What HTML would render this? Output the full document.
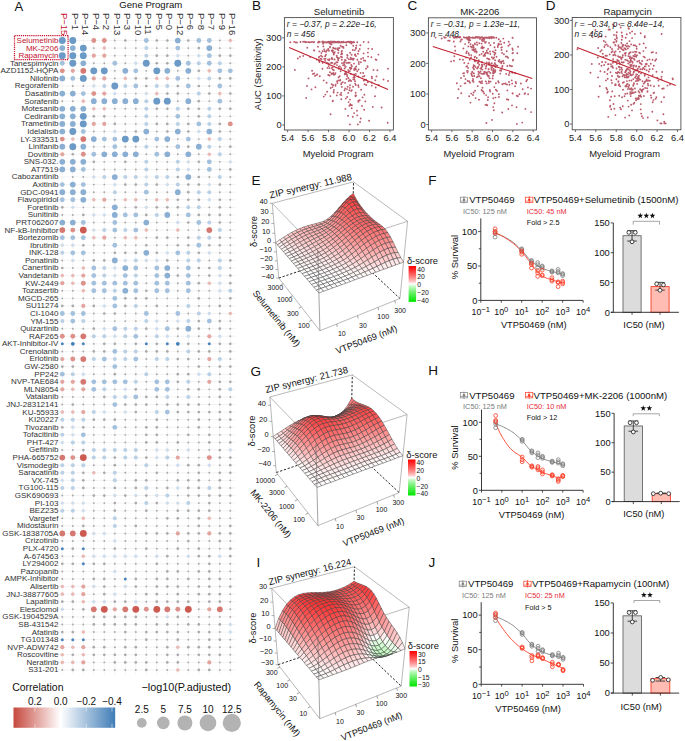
<!DOCTYPE html>
<html><head><meta charset="utf-8"><style>
html,body{margin:0;padding:0;background:#fff;width:685px;height:741px;overflow:hidden}
svg{display:block;font-family:"Liberation Sans",sans-serif}
</style></head><body>
<svg width="685" height="741" viewBox="0 0 685 741">
<rect width="685" height="741" fill="#fff"/>
<line x1="62.30" y1="36.0" x2="62.30" y2="674.5" stroke="#e6e6e6" stroke-width="0.5"/>
<line x1="72.80" y1="36.0" x2="72.80" y2="674.5" stroke="#e6e6e6" stroke-width="0.5"/>
<line x1="83.30" y1="36.0" x2="83.30" y2="674.5" stroke="#e6e6e6" stroke-width="0.5"/>
<line x1="93.80" y1="36.0" x2="93.80" y2="674.5" stroke="#e6e6e6" stroke-width="0.5"/>
<line x1="104.30" y1="36.0" x2="104.30" y2="674.5" stroke="#e6e6e6" stroke-width="0.5"/>
<line x1="114.80" y1="36.0" x2="114.80" y2="674.5" stroke="#e6e6e6" stroke-width="0.5"/>
<line x1="125.30" y1="36.0" x2="125.30" y2="674.5" stroke="#e6e6e6" stroke-width="0.5"/>
<line x1="135.80" y1="36.0" x2="135.80" y2="674.5" stroke="#e6e6e6" stroke-width="0.5"/>
<line x1="146.30" y1="36.0" x2="146.30" y2="674.5" stroke="#e6e6e6" stroke-width="0.5"/>
<line x1="156.80" y1="36.0" x2="156.80" y2="674.5" stroke="#e6e6e6" stroke-width="0.5"/>
<line x1="167.30" y1="36.0" x2="167.30" y2="674.5" stroke="#e6e6e6" stroke-width="0.5"/>
<line x1="177.80" y1="36.0" x2="177.80" y2="674.5" stroke="#e6e6e6" stroke-width="0.5"/>
<line x1="188.30" y1="36.0" x2="188.30" y2="674.5" stroke="#e6e6e6" stroke-width="0.5"/>
<line x1="198.80" y1="36.0" x2="198.80" y2="674.5" stroke="#e6e6e6" stroke-width="0.5"/>
<line x1="209.30" y1="36.0" x2="209.30" y2="674.5" stroke="#e6e6e6" stroke-width="0.5"/>
<line x1="219.80" y1="36.0" x2="219.80" y2="674.5" stroke="#e6e6e6" stroke-width="0.5"/>
<line x1="230.30" y1="36.0" x2="230.30" y2="674.5" stroke="#e6e6e6" stroke-width="0.5"/>
<line x1="57.3" y1="40.50" x2="235.3" y2="40.50" stroke="#e6e6e6" stroke-width="0.5"/>
<line x1="57.3" y1="48.08" x2="235.3" y2="48.08" stroke="#e6e6e6" stroke-width="0.5"/>
<line x1="57.3" y1="55.67" x2="235.3" y2="55.67" stroke="#e6e6e6" stroke-width="0.5"/>
<line x1="57.3" y1="63.25" x2="235.3" y2="63.25" stroke="#e6e6e6" stroke-width="0.5"/>
<line x1="57.3" y1="70.84" x2="235.3" y2="70.84" stroke="#e6e6e6" stroke-width="0.5"/>
<line x1="57.3" y1="78.42" x2="235.3" y2="78.42" stroke="#e6e6e6" stroke-width="0.5"/>
<line x1="57.3" y1="86.00" x2="235.3" y2="86.00" stroke="#e6e6e6" stroke-width="0.5"/>
<line x1="57.3" y1="93.59" x2="235.3" y2="93.59" stroke="#e6e6e6" stroke-width="0.5"/>
<line x1="57.3" y1="101.17" x2="235.3" y2="101.17" stroke="#e6e6e6" stroke-width="0.5"/>
<line x1="57.3" y1="108.76" x2="235.3" y2="108.76" stroke="#e6e6e6" stroke-width="0.5"/>
<line x1="57.3" y1="116.34" x2="235.3" y2="116.34" stroke="#e6e6e6" stroke-width="0.5"/>
<line x1="57.3" y1="123.92" x2="235.3" y2="123.92" stroke="#e6e6e6" stroke-width="0.5"/>
<line x1="57.3" y1="131.51" x2="235.3" y2="131.51" stroke="#e6e6e6" stroke-width="0.5"/>
<line x1="57.3" y1="139.09" x2="235.3" y2="139.09" stroke="#e6e6e6" stroke-width="0.5"/>
<line x1="57.3" y1="146.68" x2="235.3" y2="146.68" stroke="#e6e6e6" stroke-width="0.5"/>
<line x1="57.3" y1="154.26" x2="235.3" y2="154.26" stroke="#e6e6e6" stroke-width="0.5"/>
<line x1="57.3" y1="161.84" x2="235.3" y2="161.84" stroke="#e6e6e6" stroke-width="0.5"/>
<line x1="57.3" y1="169.43" x2="235.3" y2="169.43" stroke="#e6e6e6" stroke-width="0.5"/>
<line x1="57.3" y1="177.01" x2="235.3" y2="177.01" stroke="#e6e6e6" stroke-width="0.5"/>
<line x1="57.3" y1="184.60" x2="235.3" y2="184.60" stroke="#e6e6e6" stroke-width="0.5"/>
<line x1="57.3" y1="192.18" x2="235.3" y2="192.18" stroke="#e6e6e6" stroke-width="0.5"/>
<line x1="57.3" y1="199.76" x2="235.3" y2="199.76" stroke="#e6e6e6" stroke-width="0.5"/>
<line x1="57.3" y1="207.35" x2="235.3" y2="207.35" stroke="#e6e6e6" stroke-width="0.5"/>
<line x1="57.3" y1="214.93" x2="235.3" y2="214.93" stroke="#e6e6e6" stroke-width="0.5"/>
<line x1="57.3" y1="222.52" x2="235.3" y2="222.52" stroke="#e6e6e6" stroke-width="0.5"/>
<line x1="57.3" y1="230.10" x2="235.3" y2="230.10" stroke="#e6e6e6" stroke-width="0.5"/>
<line x1="57.3" y1="237.68" x2="235.3" y2="237.68" stroke="#e6e6e6" stroke-width="0.5"/>
<line x1="57.3" y1="245.27" x2="235.3" y2="245.27" stroke="#e6e6e6" stroke-width="0.5"/>
<line x1="57.3" y1="252.85" x2="235.3" y2="252.85" stroke="#e6e6e6" stroke-width="0.5"/>
<line x1="57.3" y1="260.44" x2="235.3" y2="260.44" stroke="#e6e6e6" stroke-width="0.5"/>
<line x1="57.3" y1="268.02" x2="235.3" y2="268.02" stroke="#e6e6e6" stroke-width="0.5"/>
<line x1="57.3" y1="275.60" x2="235.3" y2="275.60" stroke="#e6e6e6" stroke-width="0.5"/>
<line x1="57.3" y1="283.19" x2="235.3" y2="283.19" stroke="#e6e6e6" stroke-width="0.5"/>
<line x1="57.3" y1="290.77" x2="235.3" y2="290.77" stroke="#e6e6e6" stroke-width="0.5"/>
<line x1="57.3" y1="298.36" x2="235.3" y2="298.36" stroke="#e6e6e6" stroke-width="0.5"/>
<line x1="57.3" y1="305.94" x2="235.3" y2="305.94" stroke="#e6e6e6" stroke-width="0.5"/>
<line x1="57.3" y1="313.52" x2="235.3" y2="313.52" stroke="#e6e6e6" stroke-width="0.5"/>
<line x1="57.3" y1="321.11" x2="235.3" y2="321.11" stroke="#e6e6e6" stroke-width="0.5"/>
<line x1="57.3" y1="328.69" x2="235.3" y2="328.69" stroke="#e6e6e6" stroke-width="0.5"/>
<line x1="57.3" y1="336.28" x2="235.3" y2="336.28" stroke="#e6e6e6" stroke-width="0.5"/>
<line x1="57.3" y1="343.86" x2="235.3" y2="343.86" stroke="#e6e6e6" stroke-width="0.5"/>
<line x1="57.3" y1="351.44" x2="235.3" y2="351.44" stroke="#e6e6e6" stroke-width="0.5"/>
<line x1="57.3" y1="359.03" x2="235.3" y2="359.03" stroke="#e6e6e6" stroke-width="0.5"/>
<line x1="57.3" y1="366.61" x2="235.3" y2="366.61" stroke="#e6e6e6" stroke-width="0.5"/>
<line x1="57.3" y1="374.20" x2="235.3" y2="374.20" stroke="#e6e6e6" stroke-width="0.5"/>
<line x1="57.3" y1="381.78" x2="235.3" y2="381.78" stroke="#e6e6e6" stroke-width="0.5"/>
<line x1="57.3" y1="389.36" x2="235.3" y2="389.36" stroke="#e6e6e6" stroke-width="0.5"/>
<line x1="57.3" y1="396.95" x2="235.3" y2="396.95" stroke="#e6e6e6" stroke-width="0.5"/>
<line x1="57.3" y1="404.53" x2="235.3" y2="404.53" stroke="#e6e6e6" stroke-width="0.5"/>
<line x1="57.3" y1="412.12" x2="235.3" y2="412.12" stroke="#e6e6e6" stroke-width="0.5"/>
<line x1="57.3" y1="419.70" x2="235.3" y2="419.70" stroke="#e6e6e6" stroke-width="0.5"/>
<line x1="57.3" y1="427.28" x2="235.3" y2="427.28" stroke="#e6e6e6" stroke-width="0.5"/>
<line x1="57.3" y1="434.87" x2="235.3" y2="434.87" stroke="#e6e6e6" stroke-width="0.5"/>
<line x1="57.3" y1="442.45" x2="235.3" y2="442.45" stroke="#e6e6e6" stroke-width="0.5"/>
<line x1="57.3" y1="450.04" x2="235.3" y2="450.04" stroke="#e6e6e6" stroke-width="0.5"/>
<line x1="57.3" y1="457.62" x2="235.3" y2="457.62" stroke="#e6e6e6" stroke-width="0.5"/>
<line x1="57.3" y1="465.20" x2="235.3" y2="465.20" stroke="#e6e6e6" stroke-width="0.5"/>
<line x1="57.3" y1="472.79" x2="235.3" y2="472.79" stroke="#e6e6e6" stroke-width="0.5"/>
<line x1="57.3" y1="480.37" x2="235.3" y2="480.37" stroke="#e6e6e6" stroke-width="0.5"/>
<line x1="57.3" y1="487.96" x2="235.3" y2="487.96" stroke="#e6e6e6" stroke-width="0.5"/>
<line x1="57.3" y1="495.54" x2="235.3" y2="495.54" stroke="#e6e6e6" stroke-width="0.5"/>
<line x1="57.3" y1="503.12" x2="235.3" y2="503.12" stroke="#e6e6e6" stroke-width="0.5"/>
<line x1="57.3" y1="510.71" x2="235.3" y2="510.71" stroke="#e6e6e6" stroke-width="0.5"/>
<line x1="57.3" y1="518.29" x2="235.3" y2="518.29" stroke="#e6e6e6" stroke-width="0.5"/>
<line x1="57.3" y1="525.88" x2="235.3" y2="525.88" stroke="#e6e6e6" stroke-width="0.5"/>
<line x1="57.3" y1="533.46" x2="235.3" y2="533.46" stroke="#e6e6e6" stroke-width="0.5"/>
<line x1="57.3" y1="541.04" x2="235.3" y2="541.04" stroke="#e6e6e6" stroke-width="0.5"/>
<line x1="57.3" y1="548.63" x2="235.3" y2="548.63" stroke="#e6e6e6" stroke-width="0.5"/>
<line x1="57.3" y1="556.21" x2="235.3" y2="556.21" stroke="#e6e6e6" stroke-width="0.5"/>
<line x1="57.3" y1="563.80" x2="235.3" y2="563.80" stroke="#e6e6e6" stroke-width="0.5"/>
<line x1="57.3" y1="571.38" x2="235.3" y2="571.38" stroke="#e6e6e6" stroke-width="0.5"/>
<line x1="57.3" y1="578.96" x2="235.3" y2="578.96" stroke="#e6e6e6" stroke-width="0.5"/>
<line x1="57.3" y1="586.55" x2="235.3" y2="586.55" stroke="#e6e6e6" stroke-width="0.5"/>
<line x1="57.3" y1="594.13" x2="235.3" y2="594.13" stroke="#e6e6e6" stroke-width="0.5"/>
<line x1="57.3" y1="601.72" x2="235.3" y2="601.72" stroke="#e6e6e6" stroke-width="0.5"/>
<line x1="57.3" y1="609.30" x2="235.3" y2="609.30" stroke="#e6e6e6" stroke-width="0.5"/>
<line x1="57.3" y1="616.88" x2="235.3" y2="616.88" stroke="#e6e6e6" stroke-width="0.5"/>
<line x1="57.3" y1="624.47" x2="235.3" y2="624.47" stroke="#e6e6e6" stroke-width="0.5"/>
<line x1="57.3" y1="632.05" x2="235.3" y2="632.05" stroke="#e6e6e6" stroke-width="0.5"/>
<line x1="57.3" y1="639.64" x2="235.3" y2="639.64" stroke="#e6e6e6" stroke-width="0.5"/>
<line x1="57.3" y1="647.22" x2="235.3" y2="647.22" stroke="#e6e6e6" stroke-width="0.5"/>
<line x1="57.3" y1="654.80" x2="235.3" y2="654.80" stroke="#e6e6e6" stroke-width="0.5"/>
<line x1="57.3" y1="662.39" x2="235.3" y2="662.39" stroke="#e6e6e6" stroke-width="0.5"/>
<line x1="57.3" y1="669.97" x2="235.3" y2="669.97" stroke="#e6e6e6" stroke-width="0.5"/>
<circle cx="62.30" cy="40.50" r="3.45" fill="#6b9ac7"/>
<circle cx="72.80" cy="40.50" r="3.45" fill="#6b9ac7"/>
<circle cx="93.80" cy="40.50" r="2.45" fill="#dd918b"/>
<circle cx="104.30" cy="40.50" r="2.45" fill="#dd918b"/>
<circle cx="114.80" cy="40.50" r="0.95" fill="#aaaaaa"/>
<circle cx="125.30" cy="40.50" r="1.35" fill="#aaaaaa"/>
<circle cx="135.80" cy="40.50" r="0.95" fill="#aaaaaa"/>
<circle cx="146.30" cy="40.50" r="2.4" fill="#a3c0dc"/>
<circle cx="156.80" cy="40.50" r="1.35" fill="#aaaaaa"/>
<circle cx="167.30" cy="40.50" r="1.35" fill="#aaaaaa"/>
<circle cx="177.80" cy="40.50" r="2.85" fill="#8aafd3"/>
<circle cx="188.30" cy="40.50" r="1.35" fill="#aaaaaa"/>
<circle cx="198.80" cy="40.50" r="2.4" fill="#a3c0dc"/>
<circle cx="209.30" cy="40.50" r="2.4" fill="#a3c0dc"/>
<circle cx="219.80" cy="40.50" r="0.95" fill="#aaaaaa"/>
<circle cx="230.30" cy="40.50" r="1.8" fill="#e9b9b5"/>
<circle cx="62.30" cy="48.08" r="2.85" fill="#8aafd3"/>
<circle cx="72.80" cy="48.08" r="2.85" fill="#8aafd3"/>
<circle cx="83.30" cy="48.08" r="3.45" fill="#6b9ac7"/>
<circle cx="93.80" cy="48.08" r="0.95" fill="#aaaaaa"/>
<circle cx="104.30" cy="48.08" r="1.8" fill="#e9b9b5"/>
<circle cx="114.80" cy="48.08" r="0.95" fill="#aaaaaa"/>
<circle cx="125.30" cy="48.08" r="0.95" fill="#aaaaaa"/>
<circle cx="135.80" cy="48.08" r="0.95" fill="#aaaaaa"/>
<circle cx="146.30" cy="48.08" r="2.0" fill="#b9d0e5"/>
<circle cx="156.80" cy="48.08" r="0.95" fill="#aaaaaa"/>
<circle cx="167.30" cy="48.08" r="0.95" fill="#aaaaaa"/>
<circle cx="177.80" cy="48.08" r="2.4" fill="#a3c0dc"/>
<circle cx="188.30" cy="48.08" r="0.95" fill="#aaaaaa"/>
<circle cx="198.80" cy="48.08" r="1.35" fill="#aaaaaa"/>
<circle cx="209.30" cy="48.08" r="2.85" fill="#8aafd3"/>
<circle cx="219.80" cy="48.08" r="0.95" fill="#aaaaaa"/>
<circle cx="230.30" cy="48.08" r="0.95" fill="#aaaaaa"/>
<circle cx="62.30" cy="55.67" r="3.45" fill="#6b9ac7"/>
<circle cx="72.80" cy="55.67" r="3.45" fill="#6b9ac7"/>
<circle cx="83.30" cy="55.67" r="3.45" fill="#6b9ac7"/>
<circle cx="93.80" cy="55.67" r="2.1" fill="#e3a5a0"/>
<circle cx="104.30" cy="55.67" r="2.1" fill="#e3a5a0"/>
<circle cx="114.80" cy="55.67" r="0.95" fill="#aaaaaa"/>
<circle cx="125.30" cy="55.67" r="0.95" fill="#aaaaaa"/>
<circle cx="135.80" cy="55.67" r="0.95" fill="#aaaaaa"/>
<circle cx="146.30" cy="55.67" r="2.0" fill="#b9d0e5"/>
<circle cx="156.80" cy="55.67" r="1.35" fill="#aaaaaa"/>
<circle cx="167.30" cy="55.67" r="1.35" fill="#aaaaaa"/>
<circle cx="177.80" cy="55.67" r="1.7" fill="#ceddec"/>
<circle cx="188.30" cy="55.67" r="0.95" fill="#aaaaaa"/>
<circle cx="198.80" cy="55.67" r="1.7" fill="#ceddec"/>
<circle cx="209.30" cy="55.67" r="2.4" fill="#a3c0dc"/>
<circle cx="219.80" cy="55.67" r="1.35" fill="#aaaaaa"/>
<circle cx="230.30" cy="55.67" r="1.35" fill="#aaaaaa"/>
<circle cx="62.30" cy="63.25" r="2.4" fill="#a3c0dc"/>
<circle cx="72.80" cy="63.25" r="3.45" fill="#6b9ac7"/>
<circle cx="83.30" cy="63.25" r="2.85" fill="#8aafd3"/>
<circle cx="93.80" cy="63.25" r="0.95" fill="#aaaaaa"/>
<circle cx="104.30" cy="63.25" r="0.95" fill="#aaaaaa"/>
<circle cx="114.80" cy="63.25" r="2.4" fill="#a3c0dc"/>
<circle cx="125.30" cy="63.25" r="0.95" fill="#aaaaaa"/>
<circle cx="135.80" cy="63.25" r="1.7" fill="#ceddec"/>
<circle cx="146.30" cy="63.25" r="3.45" fill="#6b9ac7"/>
<circle cx="156.80" cy="63.25" r="1.35" fill="#aaaaaa"/>
<circle cx="167.30" cy="63.25" r="1.35" fill="#aaaaaa"/>
<circle cx="177.80" cy="63.25" r="3.45" fill="#6b9ac7"/>
<circle cx="188.30" cy="63.25" r="2.4" fill="#a3c0dc"/>
<circle cx="198.80" cy="63.25" r="2.0" fill="#b9d0e5"/>
<circle cx="209.30" cy="63.25" r="2.4" fill="#a3c0dc"/>
<circle cx="219.80" cy="63.25" r="2.0" fill="#b9d0e5"/>
<circle cx="230.30" cy="63.25" r="0.95" fill="#aaaaaa"/>
<circle cx="62.30" cy="70.84" r="2.45" fill="#dd918b"/>
<circle cx="72.80" cy="70.84" r="2.1" fill="#e3a5a0"/>
<circle cx="83.30" cy="70.84" r="2.85" fill="#d57871"/>
<circle cx="93.80" cy="70.84" r="3.45" fill="#6b9ac7"/>
<circle cx="104.30" cy="70.84" r="3.45" fill="#6b9ac7"/>
<circle cx="114.80" cy="70.84" r="0.95" fill="#aaaaaa"/>
<circle cx="125.30" cy="70.84" r="2.85" fill="#8aafd3"/>
<circle cx="135.80" cy="70.84" r="2.4" fill="#a3c0dc"/>
<circle cx="146.30" cy="70.84" r="0.95" fill="#aaaaaa"/>
<circle cx="156.80" cy="70.84" r="3.45" fill="#6b9ac7"/>
<circle cx="167.30" cy="70.84" r="2.85" fill="#8aafd3"/>
<circle cx="177.80" cy="70.84" r="0.95" fill="#aaaaaa"/>
<circle cx="188.30" cy="70.84" r="2.85" fill="#8aafd3"/>
<circle cx="198.80" cy="70.84" r="1.35" fill="#aaaaaa"/>
<circle cx="209.30" cy="70.84" r="1.8" fill="#e9b9b5"/>
<circle cx="219.80" cy="70.84" r="2.4" fill="#a3c0dc"/>
<circle cx="230.30" cy="70.84" r="2.4" fill="#a3c0dc"/>
<circle cx="62.30" cy="78.42" r="2.85" fill="#8aafd3"/>
<circle cx="72.80" cy="78.42" r="2.4" fill="#a3c0dc"/>
<circle cx="83.30" cy="78.42" r="3.45" fill="#6b9ac7"/>
<circle cx="93.80" cy="78.42" r="2.1" fill="#e3a5a0"/>
<circle cx="104.30" cy="78.42" r="2.1" fill="#e3a5a0"/>
<circle cx="114.80" cy="78.42" r="0.95" fill="#aaaaaa"/>
<circle cx="125.30" cy="78.42" r="1.8" fill="#e9b9b5"/>
<circle cx="135.80" cy="78.42" r="1.35" fill="#aaaaaa"/>
<circle cx="146.30" cy="78.42" r="1.35" fill="#aaaaaa"/>
<circle cx="156.80" cy="78.42" r="1.8" fill="#e9b9b5"/>
<circle cx="167.30" cy="78.42" r="1.8" fill="#e9b9b5"/>
<circle cx="177.80" cy="78.42" r="2.4" fill="#a3c0dc"/>
<circle cx="188.30" cy="78.42" r="0.95" fill="#aaaaaa"/>
<circle cx="198.80" cy="78.42" r="1.7" fill="#ceddec"/>
<circle cx="209.30" cy="78.42" r="2.0" fill="#b9d0e5"/>
<circle cx="219.80" cy="78.42" r="1.35" fill="#aaaaaa"/>
<circle cx="230.30" cy="78.42" r="1.35" fill="#aaaaaa"/>
<circle cx="72.80" cy="86.00" r="0.95" fill="#aaaaaa"/>
<circle cx="83.30" cy="86.00" r="0.95" fill="#aaaaaa"/>
<circle cx="93.80" cy="86.00" r="1.7" fill="#ceddec"/>
<circle cx="104.30" cy="86.00" r="2.0" fill="#b9d0e5"/>
<circle cx="114.80" cy="86.00" r="3.45" fill="#6b9ac7"/>
<circle cx="125.30" cy="86.00" r="2.0" fill="#b9d0e5"/>
<circle cx="135.80" cy="86.00" r="2.4" fill="#a3c0dc"/>
<circle cx="146.30" cy="86.00" r="1.35" fill="#aaaaaa"/>
<circle cx="156.80" cy="86.00" r="2.0" fill="#b9d0e5"/>
<circle cx="167.30" cy="86.00" r="2.0" fill="#b9d0e5"/>
<circle cx="177.80" cy="86.00" r="1.35" fill="#aaaaaa"/>
<circle cx="188.30" cy="86.00" r="2.4" fill="#a3c0dc"/>
<circle cx="198.80" cy="86.00" r="1.35" fill="#aaaaaa"/>
<circle cx="209.30" cy="86.00" r="0.95" fill="#aaaaaa"/>
<circle cx="219.80" cy="86.00" r="2.4" fill="#a3c0dc"/>
<circle cx="230.30" cy="86.00" r="0.95" fill="#aaaaaa"/>
<circle cx="62.30" cy="93.59" r="2.85" fill="#8aafd3"/>
<circle cx="72.80" cy="93.59" r="2.85" fill="#8aafd3"/>
<circle cx="83.30" cy="93.59" r="2.4" fill="#a3c0dc"/>
<circle cx="93.80" cy="93.59" r="2.45" fill="#dd918b"/>
<circle cx="104.30" cy="93.59" r="2.1" fill="#e3a5a0"/>
<circle cx="114.80" cy="93.59" r="1.7" fill="#ceddec"/>
<circle cx="125.30" cy="93.59" r="0.95" fill="#aaaaaa"/>
<circle cx="135.80" cy="93.59" r="0.95" fill="#aaaaaa"/>
<circle cx="146.30" cy="93.59" r="1.7" fill="#ceddec"/>
<circle cx="156.80" cy="93.59" r="1.8" fill="#e9b9b5"/>
<circle cx="167.30" cy="93.59" r="1.35" fill="#aaaaaa"/>
<circle cx="177.80" cy="93.59" r="1.35" fill="#aaaaaa"/>
<circle cx="188.30" cy="93.59" r="0.95" fill="#aaaaaa"/>
<circle cx="198.80" cy="93.59" r="2.0" fill="#b9d0e5"/>
<circle cx="209.30" cy="93.59" r="1.35" fill="#aaaaaa"/>
<circle cx="219.80" cy="93.59" r="1.8" fill="#e9b9b5"/>
<circle cx="230.30" cy="93.59" r="1.35" fill="#aaaaaa"/>
<circle cx="62.30" cy="101.17" r="0.95" fill="#aaaaaa"/>
<circle cx="72.80" cy="101.17" r="0.95" fill="#aaaaaa"/>
<circle cx="83.30" cy="101.17" r="1.8" fill="#e9b9b5"/>
<circle cx="93.80" cy="101.17" r="2.85" fill="#8aafd3"/>
<circle cx="104.30" cy="101.17" r="2.85" fill="#8aafd3"/>
<circle cx="114.80" cy="101.17" r="2.85" fill="#8aafd3"/>
<circle cx="125.30" cy="101.17" r="2.85" fill="#8aafd3"/>
<circle cx="135.80" cy="101.17" r="2.85" fill="#8aafd3"/>
<circle cx="146.30" cy="101.17" r="2.0" fill="#b9d0e5"/>
<circle cx="156.80" cy="101.17" r="3.45" fill="#6b9ac7"/>
<circle cx="167.30" cy="101.17" r="3.45" fill="#6b9ac7"/>
<circle cx="177.80" cy="101.17" r="0.95" fill="#aaaaaa"/>
<circle cx="188.30" cy="101.17" r="2.85" fill="#8aafd3"/>
<circle cx="198.80" cy="101.17" r="1.35" fill="#aaaaaa"/>
<circle cx="209.30" cy="101.17" r="0.95" fill="#aaaaaa"/>
<circle cx="219.80" cy="101.17" r="2.4" fill="#a3c0dc"/>
<circle cx="230.30" cy="101.17" r="0.95" fill="#aaaaaa"/>
<circle cx="62.30" cy="108.76" r="2.85" fill="#8aafd3"/>
<circle cx="72.80" cy="108.76" r="2.85" fill="#8aafd3"/>
<circle cx="83.30" cy="108.76" r="2.85" fill="#8aafd3"/>
<circle cx="93.80" cy="108.76" r="1.8" fill="#e9b9b5"/>
<circle cx="104.30" cy="108.76" r="1.8" fill="#e9b9b5"/>
<circle cx="114.80" cy="108.76" r="0.95" fill="#aaaaaa"/>
<circle cx="125.30" cy="108.76" r="0.95" fill="#aaaaaa"/>
<circle cx="135.80" cy="108.76" r="0.95" fill="#aaaaaa"/>
<circle cx="146.30" cy="108.76" r="2.0" fill="#b9d0e5"/>
<circle cx="156.80" cy="108.76" r="1.35" fill="#aaaaaa"/>
<circle cx="167.30" cy="108.76" r="1.35" fill="#aaaaaa"/>
<circle cx="177.80" cy="108.76" r="2.0" fill="#b9d0e5"/>
<circle cx="188.30" cy="108.76" r="1.35" fill="#aaaaaa"/>
<circle cx="198.80" cy="108.76" r="1.35" fill="#aaaaaa"/>
<circle cx="209.30" cy="108.76" r="2.0" fill="#b9d0e5"/>
<circle cx="219.80" cy="108.76" r="1.35" fill="#aaaaaa"/>
<circle cx="230.30" cy="108.76" r="1.35" fill="#aaaaaa"/>
<circle cx="62.30" cy="116.34" r="2.85" fill="#8aafd3"/>
<circle cx="72.80" cy="116.34" r="2.85" fill="#8aafd3"/>
<circle cx="83.30" cy="116.34" r="3.45" fill="#6b9ac7"/>
<circle cx="93.80" cy="116.34" r="1.35" fill="#aaaaaa"/>
<circle cx="104.30" cy="116.34" r="1.35" fill="#aaaaaa"/>
<circle cx="114.80" cy="116.34" r="0.95" fill="#aaaaaa"/>
<circle cx="125.30" cy="116.34" r="0.95" fill="#aaaaaa"/>
<circle cx="135.80" cy="116.34" r="0.95" fill="#aaaaaa"/>
<circle cx="146.30" cy="116.34" r="2.0" fill="#b9d0e5"/>
<circle cx="156.80" cy="116.34" r="0.95" fill="#aaaaaa"/>
<circle cx="167.30" cy="116.34" r="0.95" fill="#aaaaaa"/>
<circle cx="177.80" cy="116.34" r="2.4" fill="#a3c0dc"/>
<circle cx="188.30" cy="116.34" r="0.95" fill="#aaaaaa"/>
<circle cx="198.80" cy="116.34" r="1.35" fill="#aaaaaa"/>
<circle cx="209.30" cy="116.34" r="2.0" fill="#b9d0e5"/>
<circle cx="219.80" cy="116.34" r="0.95" fill="#aaaaaa"/>
<circle cx="230.30" cy="116.34" r="0.95" fill="#aaaaaa"/>
<circle cx="62.30" cy="123.92" r="2.85" fill="#8aafd3"/>
<circle cx="72.80" cy="123.92" r="2.85" fill="#8aafd3"/>
<circle cx="83.30" cy="123.92" r="3.45" fill="#6b9ac7"/>
<circle cx="93.80" cy="123.92" r="2.1" fill="#e3a5a0"/>
<circle cx="104.30" cy="123.92" r="2.1" fill="#e3a5a0"/>
<circle cx="114.80" cy="123.92" r="1.35" fill="#aaaaaa"/>
<circle cx="125.30" cy="123.92" r="0.95" fill="#aaaaaa"/>
<circle cx="135.80" cy="123.92" r="0.95" fill="#aaaaaa"/>
<circle cx="146.30" cy="123.92" r="2.0" fill="#b9d0e5"/>
<circle cx="156.80" cy="123.92" r="1.35" fill="#aaaaaa"/>
<circle cx="167.30" cy="123.92" r="1.35" fill="#aaaaaa"/>
<circle cx="177.80" cy="123.92" r="2.0" fill="#b9d0e5"/>
<circle cx="188.30" cy="123.92" r="1.35" fill="#aaaaaa"/>
<circle cx="198.80" cy="123.92" r="2.4" fill="#a3c0dc"/>
<circle cx="209.30" cy="123.92" r="2.0" fill="#b9d0e5"/>
<circle cx="219.80" cy="123.92" r="1.35" fill="#aaaaaa"/>
<circle cx="230.30" cy="123.92" r="2.45" fill="#dd918b"/>
<circle cx="62.30" cy="131.51" r="2.85" fill="#8aafd3"/>
<circle cx="72.80" cy="131.51" r="3.45" fill="#6b9ac7"/>
<circle cx="83.30" cy="131.51" r="2.4" fill="#a3c0dc"/>
<circle cx="93.80" cy="131.51" r="0.95" fill="#aaaaaa"/>
<circle cx="104.30" cy="131.51" r="0.95" fill="#aaaaaa"/>
<circle cx="114.80" cy="131.51" r="1.7" fill="#ceddec"/>
<circle cx="125.30" cy="131.51" r="0.95" fill="#aaaaaa"/>
<circle cx="135.80" cy="131.51" r="1.35" fill="#aaaaaa"/>
<circle cx="146.30" cy="131.51" r="2.85" fill="#8aafd3"/>
<circle cx="156.80" cy="131.51" r="0.95" fill="#aaaaaa"/>
<circle cx="167.30" cy="131.51" r="1.35" fill="#aaaaaa"/>
<circle cx="177.80" cy="131.51" r="2.85" fill="#8aafd3"/>
<circle cx="188.30" cy="131.51" r="1.35" fill="#aaaaaa"/>
<circle cx="198.80" cy="131.51" r="1.7" fill="#ceddec"/>
<circle cx="209.30" cy="131.51" r="2.85" fill="#8aafd3"/>
<circle cx="219.80" cy="131.51" r="1.35" fill="#aaaaaa"/>
<circle cx="230.30" cy="131.51" r="0.95" fill="#aaaaaa"/>
<circle cx="62.30" cy="139.09" r="2.45" fill="#dd918b"/>
<circle cx="72.80" cy="139.09" r="1.8" fill="#e9b9b5"/>
<circle cx="83.30" cy="139.09" r="2.85" fill="#d57871"/>
<circle cx="93.80" cy="139.09" r="2.85" fill="#8aafd3"/>
<circle cx="104.30" cy="139.09" r="2.4" fill="#a3c0dc"/>
<circle cx="114.80" cy="139.09" r="2.4" fill="#a3c0dc"/>
<circle cx="125.30" cy="139.09" r="3.45" fill="#6b9ac7"/>
<circle cx="135.80" cy="139.09" r="3.45" fill="#6b9ac7"/>
<circle cx="146.30" cy="139.09" r="0.95" fill="#aaaaaa"/>
<circle cx="156.80" cy="139.09" r="2.4" fill="#a3c0dc"/>
<circle cx="167.30" cy="139.09" r="2.85" fill="#8aafd3"/>
<circle cx="177.80" cy="139.09" r="0.95" fill="#aaaaaa"/>
<circle cx="188.30" cy="139.09" r="2.4" fill="#a3c0dc"/>
<circle cx="198.80" cy="139.09" r="0.95" fill="#aaaaaa"/>
<circle cx="209.30" cy="139.09" r="1.8" fill="#e9b9b5"/>
<circle cx="219.80" cy="139.09" r="2.0" fill="#b9d0e5"/>
<circle cx="230.30" cy="139.09" r="0.95" fill="#aaaaaa"/>
<circle cx="62.30" cy="146.68" r="2.85" fill="#8aafd3"/>
<circle cx="72.80" cy="146.68" r="3.45" fill="#6b9ac7"/>
<circle cx="83.30" cy="146.68" r="2.85" fill="#8aafd3"/>
<circle cx="93.80" cy="146.68" r="0.95" fill="#aaaaaa"/>
<circle cx="104.30" cy="146.68" r="0.95" fill="#aaaaaa"/>
<circle cx="114.80" cy="146.68" r="2.4" fill="#a3c0dc"/>
<circle cx="125.30" cy="146.68" r="0.95" fill="#aaaaaa"/>
<circle cx="135.80" cy="146.68" r="0.95" fill="#aaaaaa"/>
<circle cx="146.30" cy="146.68" r="2.0" fill="#b9d0e5"/>
<circle cx="156.80" cy="146.68" r="0.95" fill="#aaaaaa"/>
<circle cx="167.30" cy="146.68" r="0.95" fill="#aaaaaa"/>
<circle cx="177.80" cy="146.68" r="2.4" fill="#a3c0dc"/>
<circle cx="188.30" cy="146.68" r="1.35" fill="#aaaaaa"/>
<circle cx="198.80" cy="146.68" r="2.85" fill="#8aafd3"/>
<circle cx="209.30" cy="146.68" r="2.0" fill="#b9d0e5"/>
<circle cx="219.80" cy="146.68" r="0.95" fill="#aaaaaa"/>
<circle cx="230.30" cy="146.68" r="1.35" fill="#aaaaaa"/>
<circle cx="62.30" cy="154.26" r="2.1" fill="#e3a5a0"/>
<circle cx="72.80" cy="154.26" r="1.35" fill="#aaaaaa"/>
<circle cx="83.30" cy="154.26" r="2.45" fill="#dd918b"/>
<circle cx="93.80" cy="154.26" r="2.4" fill="#a3c0dc"/>
<circle cx="104.30" cy="154.26" r="2.85" fill="#8aafd3"/>
<circle cx="114.80" cy="154.26" r="2.85" fill="#8aafd3"/>
<circle cx="125.30" cy="154.26" r="2.85" fill="#8aafd3"/>
<circle cx="135.80" cy="154.26" r="2.85" fill="#8aafd3"/>
<circle cx="146.30" cy="154.26" r="0.95" fill="#aaaaaa"/>
<circle cx="156.80" cy="154.26" r="2.4" fill="#a3c0dc"/>
<circle cx="167.30" cy="154.26" r="2.85" fill="#8aafd3"/>
<circle cx="177.80" cy="154.26" r="0.95" fill="#aaaaaa"/>
<circle cx="188.30" cy="154.26" r="2.85" fill="#8aafd3"/>
<circle cx="198.80" cy="154.26" r="0.95" fill="#aaaaaa"/>
<circle cx="209.30" cy="154.26" r="1.8" fill="#e9b9b5"/>
<circle cx="219.80" cy="154.26" r="2.0" fill="#b9d0e5"/>
<circle cx="230.30" cy="154.26" r="0.95" fill="#aaaaaa"/>
<circle cx="62.30" cy="161.84" r="2.85" fill="#8aafd3"/>
<circle cx="72.80" cy="161.84" r="2.85" fill="#8aafd3"/>
<circle cx="83.30" cy="161.84" r="2.85" fill="#8aafd3"/>
<circle cx="93.80" cy="161.84" r="1.35" fill="#aaaaaa"/>
<circle cx="104.30" cy="161.84" r="0.95" fill="#aaaaaa"/>
<circle cx="114.80" cy="161.84" r="0.95" fill="#aaaaaa"/>
<circle cx="125.30" cy="161.84" r="1.35" fill="#aaaaaa"/>
<circle cx="135.80" cy="161.84" r="0.95" fill="#aaaaaa"/>
<circle cx="146.30" cy="161.84" r="2.0" fill="#b9d0e5"/>
<circle cx="156.80" cy="161.84" r="0.95" fill="#aaaaaa"/>
<circle cx="167.30" cy="161.84" r="0.95" fill="#aaaaaa"/>
<circle cx="177.80" cy="161.84" r="2.0" fill="#b9d0e5"/>
<circle cx="188.30" cy="161.84" r="1.7" fill="#ceddec"/>
<circle cx="198.80" cy="161.84" r="1.35" fill="#aaaaaa"/>
<circle cx="209.30" cy="161.84" r="2.4" fill="#a3c0dc"/>
<circle cx="219.80" cy="161.84" r="0.95" fill="#aaaaaa"/>
<circle cx="230.30" cy="161.84" r="1.7" fill="#ceddec"/>
<circle cx="62.30" cy="169.43" r="2.85" fill="#8aafd3"/>
<circle cx="72.80" cy="169.43" r="2.85" fill="#8aafd3"/>
<circle cx="83.30" cy="169.43" r="2.4" fill="#a3c0dc"/>
<circle cx="93.80" cy="169.43" r="0.95" fill="#aaaaaa"/>
<circle cx="104.30" cy="169.43" r="0.95" fill="#aaaaaa"/>
<circle cx="114.80" cy="169.43" r="0.95" fill="#aaaaaa"/>
<circle cx="125.30" cy="169.43" r="0.95" fill="#aaaaaa"/>
<circle cx="135.80" cy="169.43" r="0.95" fill="#aaaaaa"/>
<circle cx="146.30" cy="169.43" r="2.0" fill="#b9d0e5"/>
<circle cx="156.80" cy="169.43" r="0.95" fill="#aaaaaa"/>
<circle cx="167.30" cy="169.43" r="0.95" fill="#aaaaaa"/>
<circle cx="177.80" cy="169.43" r="2.0" fill="#b9d0e5"/>
<circle cx="188.30" cy="169.43" r="1.7" fill="#ceddec"/>
<circle cx="198.80" cy="169.43" r="0.95" fill="#aaaaaa"/>
<circle cx="209.30" cy="169.43" r="2.4" fill="#a3c0dc"/>
<circle cx="219.80" cy="169.43" r="0.95" fill="#aaaaaa"/>
<circle cx="230.30" cy="169.43" r="1.35" fill="#aaaaaa"/>
<circle cx="72.80" cy="177.01" r="0.95" fill="#aaaaaa"/>
<circle cx="83.30" cy="177.01" r="0.95" fill="#aaaaaa"/>
<circle cx="93.80" cy="177.01" r="1.7" fill="#ceddec"/>
<circle cx="104.30" cy="177.01" r="2.0" fill="#b9d0e5"/>
<circle cx="114.80" cy="177.01" r="2.85" fill="#8aafd3"/>
<circle cx="125.30" cy="177.01" r="2.0" fill="#b9d0e5"/>
<circle cx="135.80" cy="177.01" r="2.0" fill="#b9d0e5"/>
<circle cx="146.30" cy="177.01" r="1.7" fill="#ceddec"/>
<circle cx="156.80" cy="177.01" r="2.0" fill="#b9d0e5"/>
<circle cx="167.30" cy="177.01" r="2.0" fill="#b9d0e5"/>
<circle cx="177.80" cy="177.01" r="1.35" fill="#aaaaaa"/>
<circle cx="188.30" cy="177.01" r="2.85" fill="#8aafd3"/>
<circle cx="198.80" cy="177.01" r="1.35" fill="#aaaaaa"/>
<circle cx="209.30" cy="177.01" r="0.95" fill="#aaaaaa"/>
<circle cx="219.80" cy="177.01" r="2.0" fill="#b9d0e5"/>
<circle cx="230.30" cy="177.01" r="0.95" fill="#aaaaaa"/>
<circle cx="62.30" cy="184.60" r="2.4" fill="#a3c0dc"/>
<circle cx="72.80" cy="184.60" r="2.85" fill="#8aafd3"/>
<circle cx="83.30" cy="184.60" r="2.4" fill="#a3c0dc"/>
<circle cx="93.80" cy="184.60" r="0.95" fill="#aaaaaa"/>
<circle cx="104.30" cy="184.60" r="0.95" fill="#aaaaaa"/>
<circle cx="114.80" cy="184.60" r="1.7" fill="#ceddec"/>
<circle cx="125.30" cy="184.60" r="1.35" fill="#aaaaaa"/>
<circle cx="135.80" cy="184.60" r="1.35" fill="#aaaaaa"/>
<circle cx="146.30" cy="184.60" r="2.0" fill="#b9d0e5"/>
<circle cx="156.80" cy="184.60" r="1.35" fill="#aaaaaa"/>
<circle cx="167.30" cy="184.60" r="1.7" fill="#ceddec"/>
<circle cx="177.80" cy="184.60" r="2.0" fill="#b9d0e5"/>
<circle cx="188.30" cy="184.60" r="1.35" fill="#aaaaaa"/>
<circle cx="198.80" cy="184.60" r="1.35" fill="#aaaaaa"/>
<circle cx="209.30" cy="184.60" r="1.7" fill="#ceddec"/>
<circle cx="219.80" cy="184.60" r="1.35" fill="#aaaaaa"/>
<circle cx="230.30" cy="184.60" r="0.95" fill="#aaaaaa"/>
<circle cx="62.30" cy="192.18" r="2.85" fill="#8aafd3"/>
<circle cx="72.80" cy="192.18" r="2.85" fill="#8aafd3"/>
<circle cx="83.30" cy="192.18" r="2.85" fill="#8aafd3"/>
<circle cx="93.80" cy="192.18" r="0.95" fill="#aaaaaa"/>
<circle cx="104.30" cy="192.18" r="0.95" fill="#aaaaaa"/>
<circle cx="114.80" cy="192.18" r="2.0" fill="#b9d0e5"/>
<circle cx="125.30" cy="192.18" r="0.95" fill="#aaaaaa"/>
<circle cx="135.80" cy="192.18" r="0.95" fill="#aaaaaa"/>
<circle cx="146.30" cy="192.18" r="2.4" fill="#a3c0dc"/>
<circle cx="156.80" cy="192.18" r="0.95" fill="#aaaaaa"/>
<circle cx="167.30" cy="192.18" r="0.95" fill="#aaaaaa"/>
<circle cx="177.80" cy="192.18" r="2.85" fill="#8aafd3"/>
<circle cx="188.30" cy="192.18" r="1.35" fill="#aaaaaa"/>
<circle cx="198.80" cy="192.18" r="2.0" fill="#b9d0e5"/>
<circle cx="209.30" cy="192.18" r="2.0" fill="#b9d0e5"/>
<circle cx="219.80" cy="192.18" r="0.95" fill="#aaaaaa"/>
<circle cx="230.30" cy="192.18" r="0.95" fill="#aaaaaa"/>
<circle cx="62.30" cy="199.76" r="2.4" fill="#a3c0dc"/>
<circle cx="72.80" cy="199.76" r="2.4" fill="#a3c0dc"/>
<circle cx="83.30" cy="199.76" r="2.85" fill="#8aafd3"/>
<circle cx="93.80" cy="199.76" r="1.8" fill="#e9b9b5"/>
<circle cx="104.30" cy="199.76" r="2.1" fill="#e3a5a0"/>
<circle cx="114.80" cy="199.76" r="0.95" fill="#aaaaaa"/>
<circle cx="125.30" cy="199.76" r="1.8" fill="#e9b9b5"/>
<circle cx="135.80" cy="199.76" r="1.8" fill="#e9b9b5"/>
<circle cx="146.30" cy="199.76" r="0.95" fill="#aaaaaa"/>
<circle cx="156.80" cy="199.76" r="1.8" fill="#e9b9b5"/>
<circle cx="167.30" cy="199.76" r="1.8" fill="#e9b9b5"/>
<circle cx="177.80" cy="199.76" r="1.35" fill="#aaaaaa"/>
<circle cx="188.30" cy="199.76" r="1.35" fill="#aaaaaa"/>
<circle cx="198.80" cy="199.76" r="1.35" fill="#aaaaaa"/>
<circle cx="209.30" cy="199.76" r="1.7" fill="#ceddec"/>
<circle cx="219.80" cy="199.76" r="1.35" fill="#aaaaaa"/>
<circle cx="230.30" cy="199.76" r="0.95" fill="#aaaaaa"/>
<circle cx="62.30" cy="207.35" r="1.35" fill="#aaaaaa"/>
<circle cx="72.80" cy="207.35" r="1.7" fill="#ceddec"/>
<circle cx="83.30" cy="207.35" r="0.95" fill="#aaaaaa"/>
<circle cx="93.80" cy="207.35" r="0.95" fill="#aaaaaa"/>
<circle cx="104.30" cy="207.35" r="0.95" fill="#aaaaaa"/>
<circle cx="114.80" cy="207.35" r="2.85" fill="#8aafd3"/>
<circle cx="125.30" cy="207.35" r="0.95" fill="#aaaaaa"/>
<circle cx="135.80" cy="207.35" r="1.35" fill="#aaaaaa"/>
<circle cx="146.30" cy="207.35" r="1.7" fill="#ceddec"/>
<circle cx="156.80" cy="207.35" r="1.35" fill="#aaaaaa"/>
<circle cx="167.30" cy="207.35" r="1.35" fill="#aaaaaa"/>
<circle cx="177.80" cy="207.35" r="1.35" fill="#aaaaaa"/>
<circle cx="188.30" cy="207.35" r="2.0" fill="#b9d0e5"/>
<circle cx="198.80" cy="207.35" r="2.0" fill="#b9d0e5"/>
<circle cx="209.30" cy="207.35" r="0.95" fill="#aaaaaa"/>
<circle cx="219.80" cy="207.35" r="1.35" fill="#aaaaaa"/>
<circle cx="230.30" cy="207.35" r="0.95" fill="#aaaaaa"/>
<circle cx="62.30" cy="214.93" r="0.95" fill="#aaaaaa"/>
<circle cx="72.80" cy="214.93" r="0.95" fill="#aaaaaa"/>
<circle cx="83.30" cy="214.93" r="1.35" fill="#aaaaaa"/>
<circle cx="93.80" cy="214.93" r="1.7" fill="#ceddec"/>
<circle cx="104.30" cy="214.93" r="1.7" fill="#ceddec"/>
<circle cx="114.80" cy="214.93" r="2.85" fill="#8aafd3"/>
<circle cx="125.30" cy="214.93" r="2.4" fill="#a3c0dc"/>
<circle cx="135.80" cy="214.93" r="2.4" fill="#a3c0dc"/>
<circle cx="146.30" cy="214.93" r="1.35" fill="#aaaaaa"/>
<circle cx="156.80" cy="214.93" r="2.0" fill="#b9d0e5"/>
<circle cx="167.30" cy="214.93" r="2.85" fill="#8aafd3"/>
<circle cx="177.80" cy="214.93" r="0.95" fill="#aaaaaa"/>
<circle cx="188.30" cy="214.93" r="2.4" fill="#a3c0dc"/>
<circle cx="198.80" cy="214.93" r="1.35" fill="#aaaaaa"/>
<circle cx="209.30" cy="214.93" r="1.35" fill="#aaaaaa"/>
<circle cx="219.80" cy="214.93" r="1.35" fill="#aaaaaa"/>
<circle cx="230.30" cy="214.93" r="0.95" fill="#aaaaaa"/>
<circle cx="62.30" cy="222.52" r="2.85" fill="#8aafd3"/>
<circle cx="72.80" cy="222.52" r="2.85" fill="#8aafd3"/>
<circle cx="83.30" cy="222.52" r="2.4" fill="#a3c0dc"/>
<circle cx="93.80" cy="222.52" r="0.95" fill="#aaaaaa"/>
<circle cx="104.30" cy="222.52" r="0.95" fill="#aaaaaa"/>
<circle cx="114.80" cy="222.52" r="2.4" fill="#a3c0dc"/>
<circle cx="125.30" cy="222.52" r="0.95" fill="#aaaaaa"/>
<circle cx="135.80" cy="222.52" r="0.95" fill="#aaaaaa"/>
<circle cx="146.30" cy="222.52" r="2.85" fill="#8aafd3"/>
<circle cx="156.80" cy="222.52" r="0.95" fill="#aaaaaa"/>
<circle cx="167.30" cy="222.52" r="0.95" fill="#aaaaaa"/>
<circle cx="177.80" cy="222.52" r="1.7" fill="#ceddec"/>
<circle cx="188.30" cy="222.52" r="1.35" fill="#aaaaaa"/>
<circle cx="198.80" cy="222.52" r="2.4" fill="#a3c0dc"/>
<circle cx="209.30" cy="222.52" r="2.0" fill="#b9d0e5"/>
<circle cx="219.80" cy="222.52" r="1.35" fill="#aaaaaa"/>
<circle cx="230.30" cy="222.52" r="0.95" fill="#aaaaaa"/>
<circle cx="62.30" cy="230.10" r="2.85" fill="#d57871"/>
<circle cx="72.80" cy="230.10" r="2.45" fill="#dd918b"/>
<circle cx="83.30" cy="230.10" r="3.4" fill="#cc5a51"/>
<circle cx="93.80" cy="230.10" r="1.7" fill="#ceddec"/>
<circle cx="104.30" cy="230.10" r="2.0" fill="#b9d0e5"/>
<circle cx="114.80" cy="230.10" r="2.4" fill="#a3c0dc"/>
<circle cx="125.30" cy="230.10" r="2.0" fill="#b9d0e5"/>
<circle cx="135.80" cy="230.10" r="2.4" fill="#a3c0dc"/>
<circle cx="146.30" cy="230.10" r="1.8" fill="#e9b9b5"/>
<circle cx="156.80" cy="230.10" r="0.95" fill="#aaaaaa"/>
<circle cx="167.30" cy="230.10" r="0.95" fill="#aaaaaa"/>
<circle cx="177.80" cy="230.10" r="1.8" fill="#e9b9b5"/>
<circle cx="188.30" cy="230.10" r="0.95" fill="#aaaaaa"/>
<circle cx="198.80" cy="230.10" r="0.95" fill="#aaaaaa"/>
<circle cx="209.30" cy="230.10" r="2.85" fill="#d57871"/>
<circle cx="219.80" cy="230.10" r="2.0" fill="#b9d0e5"/>
<circle cx="230.30" cy="230.10" r="0.95" fill="#aaaaaa"/>
<circle cx="62.30" cy="237.68" r="2.4" fill="#a3c0dc"/>
<circle cx="72.80" cy="237.68" r="2.4" fill="#a3c0dc"/>
<circle cx="83.30" cy="237.68" r="2.4" fill="#a3c0dc"/>
<circle cx="93.80" cy="237.68" r="1.8" fill="#e9b9b5"/>
<circle cx="104.30" cy="237.68" r="2.1" fill="#e3a5a0"/>
<circle cx="114.80" cy="237.68" r="0.95" fill="#aaaaaa"/>
<circle cx="125.30" cy="237.68" r="1.8" fill="#e9b9b5"/>
<circle cx="135.80" cy="237.68" r="1.8" fill="#e9b9b5"/>
<circle cx="146.30" cy="237.68" r="0.95" fill="#aaaaaa"/>
<circle cx="156.80" cy="237.68" r="1.35" fill="#aaaaaa"/>
<circle cx="167.30" cy="237.68" r="1.35" fill="#aaaaaa"/>
<circle cx="177.80" cy="237.68" r="0.95" fill="#aaaaaa"/>
<circle cx="188.30" cy="237.68" r="1.35" fill="#aaaaaa"/>
<circle cx="198.80" cy="237.68" r="2.0" fill="#b9d0e5"/>
<circle cx="209.30" cy="237.68" r="2.0" fill="#b9d0e5"/>
<circle cx="219.80" cy="237.68" r="1.35" fill="#aaaaaa"/>
<circle cx="230.30" cy="237.68" r="0.95" fill="#aaaaaa"/>
<circle cx="62.30" cy="245.27" r="1.7" fill="#ceddec"/>
<circle cx="72.80" cy="245.27" r="1.7" fill="#ceddec"/>
<circle cx="83.30" cy="245.27" r="1.35" fill="#aaaaaa"/>
<circle cx="93.80" cy="245.27" r="0.95" fill="#aaaaaa"/>
<circle cx="104.30" cy="245.27" r="0.95" fill="#aaaaaa"/>
<circle cx="114.80" cy="245.27" r="2.4" fill="#a3c0dc"/>
<circle cx="125.30" cy="245.27" r="0.95" fill="#aaaaaa"/>
<circle cx="135.80" cy="245.27" r="0.95" fill="#aaaaaa"/>
<circle cx="146.30" cy="245.27" r="1.35" fill="#aaaaaa"/>
<circle cx="156.80" cy="245.27" r="0.95" fill="#aaaaaa"/>
<circle cx="167.30" cy="245.27" r="0.95" fill="#aaaaaa"/>
<circle cx="177.80" cy="245.27" r="1.35" fill="#aaaaaa"/>
<circle cx="188.30" cy="245.27" r="1.35" fill="#aaaaaa"/>
<circle cx="198.80" cy="245.27" r="2.4" fill="#a3c0dc"/>
<circle cx="209.30" cy="245.27" r="1.35" fill="#aaaaaa"/>
<circle cx="219.80" cy="245.27" r="1.35" fill="#aaaaaa"/>
<circle cx="230.30" cy="245.27" r="0.95" fill="#aaaaaa"/>
<circle cx="62.30" cy="252.85" r="2.0" fill="#b9d0e5"/>
<circle cx="72.80" cy="252.85" r="2.4" fill="#a3c0dc"/>
<circle cx="83.30" cy="252.85" r="2.4" fill="#a3c0dc"/>
<circle cx="93.80" cy="252.85" r="0.95" fill="#aaaaaa"/>
<circle cx="104.30" cy="252.85" r="0.95" fill="#aaaaaa"/>
<circle cx="114.80" cy="252.85" r="1.35" fill="#aaaaaa"/>
<circle cx="125.30" cy="252.85" r="1.35" fill="#aaaaaa"/>
<circle cx="135.80" cy="252.85" r="1.35" fill="#aaaaaa"/>
<circle cx="146.30" cy="252.85" r="2.85" fill="#8aafd3"/>
<circle cx="156.80" cy="252.85" r="1.35" fill="#aaaaaa"/>
<circle cx="167.30" cy="252.85" r="1.7" fill="#ceddec"/>
<circle cx="177.80" cy="252.85" r="2.4" fill="#a3c0dc"/>
<circle cx="188.30" cy="252.85" r="2.0" fill="#b9d0e5"/>
<circle cx="198.80" cy="252.85" r="1.35" fill="#aaaaaa"/>
<circle cx="209.30" cy="252.85" r="1.7" fill="#ceddec"/>
<circle cx="219.80" cy="252.85" r="0.95" fill="#aaaaaa"/>
<circle cx="230.30" cy="252.85" r="0.95" fill="#aaaaaa"/>
<circle cx="62.30" cy="260.44" r="0.95" fill="#aaaaaa"/>
<circle cx="72.80" cy="260.44" r="1.7" fill="#ceddec"/>
<circle cx="83.30" cy="260.44" r="0.95" fill="#aaaaaa"/>
<circle cx="93.80" cy="260.44" r="1.35" fill="#aaaaaa"/>
<circle cx="104.30" cy="260.44" r="1.35" fill="#aaaaaa"/>
<circle cx="114.80" cy="260.44" r="2.85" fill="#8aafd3"/>
<circle cx="125.30" cy="260.44" r="1.7" fill="#ceddec"/>
<circle cx="135.80" cy="260.44" r="2.0" fill="#b9d0e5"/>
<circle cx="146.30" cy="260.44" r="1.7" fill="#ceddec"/>
<circle cx="156.80" cy="260.44" r="1.7" fill="#ceddec"/>
<circle cx="167.30" cy="260.44" r="1.35" fill="#aaaaaa"/>
<circle cx="177.80" cy="260.44" r="0.95" fill="#aaaaaa"/>
<circle cx="188.30" cy="260.44" r="2.0" fill="#b9d0e5"/>
<circle cx="198.80" cy="260.44" r="2.0" fill="#b9d0e5"/>
<circle cx="209.30" cy="260.44" r="0.95" fill="#aaaaaa"/>
<circle cx="219.80" cy="260.44" r="2.0" fill="#b9d0e5"/>
<circle cx="230.30" cy="260.44" r="1.35" fill="#aaaaaa"/>
<circle cx="62.30" cy="268.02" r="1.35" fill="#aaaaaa"/>
<circle cx="72.80" cy="268.02" r="0.95" fill="#aaaaaa"/>
<circle cx="83.30" cy="268.02" r="1.8" fill="#e9b9b5"/>
<circle cx="93.80" cy="268.02" r="2.4" fill="#a3c0dc"/>
<circle cx="104.30" cy="268.02" r="2.0" fill="#b9d0e5"/>
<circle cx="114.80" cy="268.02" r="1.7" fill="#ceddec"/>
<circle cx="125.30" cy="268.02" r="2.85" fill="#8aafd3"/>
<circle cx="135.80" cy="268.02" r="2.4" fill="#a3c0dc"/>
<circle cx="146.30" cy="268.02" r="0.95" fill="#aaaaaa"/>
<circle cx="156.80" cy="268.02" r="2.4" fill="#a3c0dc"/>
<circle cx="167.30" cy="268.02" r="2.85" fill="#8aafd3"/>
<circle cx="177.80" cy="268.02" r="0.95" fill="#aaaaaa"/>
<circle cx="188.30" cy="268.02" r="2.4" fill="#a3c0dc"/>
<circle cx="198.80" cy="268.02" r="1.35" fill="#aaaaaa"/>
<circle cx="209.30" cy="268.02" r="1.35" fill="#aaaaaa"/>
<circle cx="219.80" cy="268.02" r="2.0" fill="#b9d0e5"/>
<circle cx="230.30" cy="268.02" r="0.95" fill="#aaaaaa"/>
<circle cx="62.30" cy="275.60" r="1.8" fill="#e9b9b5"/>
<circle cx="72.80" cy="275.60" r="1.8" fill="#e9b9b5"/>
<circle cx="83.30" cy="275.60" r="2.1" fill="#e3a5a0"/>
<circle cx="93.80" cy="275.60" r="2.4" fill="#a3c0dc"/>
<circle cx="104.30" cy="275.60" r="2.0" fill="#b9d0e5"/>
<circle cx="114.80" cy="275.60" r="1.7" fill="#ceddec"/>
<circle cx="125.30" cy="275.60" r="2.4" fill="#a3c0dc"/>
<circle cx="135.80" cy="275.60" r="2.0" fill="#b9d0e5"/>
<circle cx="146.30" cy="275.60" r="0.95" fill="#aaaaaa"/>
<circle cx="156.80" cy="275.60" r="2.4" fill="#a3c0dc"/>
<circle cx="167.30" cy="275.60" r="2.85" fill="#8aafd3"/>
<circle cx="177.80" cy="275.60" r="1.35" fill="#aaaaaa"/>
<circle cx="188.30" cy="275.60" r="2.4" fill="#a3c0dc"/>
<circle cx="198.80" cy="275.60" r="0.95" fill="#aaaaaa"/>
<circle cx="209.30" cy="275.60" r="1.35" fill="#aaaaaa"/>
<circle cx="219.80" cy="275.60" r="1.7" fill="#ceddec"/>
<circle cx="230.30" cy="275.60" r="1.35" fill="#aaaaaa"/>
<circle cx="62.30" cy="283.19" r="2.1" fill="#e3a5a0"/>
<circle cx="72.80" cy="283.19" r="1.8" fill="#e9b9b5"/>
<circle cx="83.30" cy="283.19" r="2.45" fill="#dd918b"/>
<circle cx="93.80" cy="283.19" r="2.4" fill="#a3c0dc"/>
<circle cx="104.30" cy="283.19" r="2.4" fill="#a3c0dc"/>
<circle cx="114.80" cy="283.19" r="2.4" fill="#a3c0dc"/>
<circle cx="125.30" cy="283.19" r="2.4" fill="#a3c0dc"/>
<circle cx="135.80" cy="283.19" r="2.4" fill="#a3c0dc"/>
<circle cx="146.30" cy="283.19" r="0.95" fill="#aaaaaa"/>
<circle cx="156.80" cy="283.19" r="2.4" fill="#a3c0dc"/>
<circle cx="167.30" cy="283.19" r="2.4" fill="#a3c0dc"/>
<circle cx="177.80" cy="283.19" r="0.95" fill="#aaaaaa"/>
<circle cx="188.30" cy="283.19" r="2.4" fill="#a3c0dc"/>
<circle cx="198.80" cy="283.19" r="1.35" fill="#aaaaaa"/>
<circle cx="209.30" cy="283.19" r="1.8" fill="#e9b9b5"/>
<circle cx="219.80" cy="283.19" r="1.7" fill="#ceddec"/>
<circle cx="230.30" cy="283.19" r="1.35" fill="#aaaaaa"/>
<circle cx="62.30" cy="290.77" r="0.95" fill="#aaaaaa"/>
<circle cx="72.80" cy="290.77" r="0.95" fill="#aaaaaa"/>
<circle cx="83.30" cy="290.77" r="1.8" fill="#e9b9b5"/>
<circle cx="93.80" cy="290.77" r="2.4" fill="#a3c0dc"/>
<circle cx="104.30" cy="290.77" r="2.4" fill="#a3c0dc"/>
<circle cx="114.80" cy="290.77" r="2.0" fill="#b9d0e5"/>
<circle cx="125.30" cy="290.77" r="2.85" fill="#8aafd3"/>
<circle cx="135.80" cy="290.77" r="2.4" fill="#a3c0dc"/>
<circle cx="146.30" cy="290.77" r="1.35" fill="#aaaaaa"/>
<circle cx="156.80" cy="290.77" r="2.4" fill="#a3c0dc"/>
<circle cx="167.30" cy="290.77" r="2.4" fill="#a3c0dc"/>
<circle cx="177.80" cy="290.77" r="0.95" fill="#aaaaaa"/>
<circle cx="188.30" cy="290.77" r="2.4" fill="#a3c0dc"/>
<circle cx="198.80" cy="290.77" r="0.95" fill="#aaaaaa"/>
<circle cx="209.30" cy="290.77" r="0.95" fill="#aaaaaa"/>
<circle cx="219.80" cy="290.77" r="1.7" fill="#ceddec"/>
<circle cx="230.30" cy="290.77" r="2.0" fill="#b9d0e5"/>
<circle cx="62.30" cy="298.36" r="0.95" fill="#aaaaaa"/>
<circle cx="72.80" cy="298.36" r="0.95" fill="#aaaaaa"/>
<circle cx="83.30" cy="298.36" r="0.95" fill="#aaaaaa"/>
<circle cx="93.80" cy="298.36" r="0.95" fill="#aaaaaa"/>
<circle cx="104.30" cy="298.36" r="0.95" fill="#aaaaaa"/>
<circle cx="114.80" cy="298.36" r="2.4" fill="#a3c0dc"/>
<circle cx="125.30" cy="298.36" r="1.35" fill="#aaaaaa"/>
<circle cx="135.80" cy="298.36" r="1.35" fill="#aaaaaa"/>
<circle cx="146.30" cy="298.36" r="1.35" fill="#aaaaaa"/>
<circle cx="156.80" cy="298.36" r="0.95" fill="#aaaaaa"/>
<circle cx="167.30" cy="298.36" r="0.95" fill="#aaaaaa"/>
<circle cx="177.80" cy="298.36" r="0.95" fill="#aaaaaa"/>
<circle cx="188.30" cy="298.36" r="0.95" fill="#aaaaaa"/>
<circle cx="198.80" cy="298.36" r="1.35" fill="#aaaaaa"/>
<circle cx="209.30" cy="298.36" r="0.95" fill="#aaaaaa"/>
<circle cx="219.80" cy="298.36" r="0.95" fill="#aaaaaa"/>
<circle cx="230.30" cy="298.36" r="1.35" fill="#aaaaaa"/>
<circle cx="62.30" cy="305.94" r="1.35" fill="#aaaaaa"/>
<circle cx="72.80" cy="305.94" r="1.35" fill="#aaaaaa"/>
<circle cx="83.30" cy="305.94" r="2.1" fill="#e3a5a0"/>
<circle cx="93.80" cy="305.94" r="1.35" fill="#aaaaaa"/>
<circle cx="104.30" cy="305.94" r="1.7" fill="#ceddec"/>
<circle cx="114.80" cy="305.94" r="2.4" fill="#a3c0dc"/>
<circle cx="125.30" cy="305.94" r="1.35" fill="#aaaaaa"/>
<circle cx="135.80" cy="305.94" r="2.0" fill="#b9d0e5"/>
<circle cx="146.30" cy="305.94" r="0.95" fill="#aaaaaa"/>
<circle cx="156.80" cy="305.94" r="1.35" fill="#aaaaaa"/>
<circle cx="167.30" cy="305.94" r="0.95" fill="#aaaaaa"/>
<circle cx="177.80" cy="305.94" r="0.95" fill="#aaaaaa"/>
<circle cx="188.30" cy="305.94" r="2.0" fill="#b9d0e5"/>
<circle cx="198.80" cy="305.94" r="0.95" fill="#aaaaaa"/>
<circle cx="209.30" cy="305.94" r="0.95" fill="#aaaaaa"/>
<circle cx="219.80" cy="305.94" r="1.35" fill="#aaaaaa"/>
<circle cx="230.30" cy="305.94" r="0.95" fill="#aaaaaa"/>
<circle cx="62.30" cy="313.52" r="2.4" fill="#a3c0dc"/>
<circle cx="72.80" cy="313.52" r="2.4" fill="#a3c0dc"/>
<circle cx="83.30" cy="313.52" r="2.4" fill="#a3c0dc"/>
<circle cx="93.80" cy="313.52" r="0.95" fill="#aaaaaa"/>
<circle cx="104.30" cy="313.52" r="1.35" fill="#aaaaaa"/>
<circle cx="114.80" cy="313.52" r="1.35" fill="#aaaaaa"/>
<circle cx="125.30" cy="313.52" r="0.95" fill="#aaaaaa"/>
<circle cx="135.80" cy="313.52" r="0.95" fill="#aaaaaa"/>
<circle cx="146.30" cy="313.52" r="2.4" fill="#a3c0dc"/>
<circle cx="156.80" cy="313.52" r="0.95" fill="#aaaaaa"/>
<circle cx="167.30" cy="313.52" r="0.95" fill="#aaaaaa"/>
<circle cx="177.80" cy="313.52" r="2.4" fill="#a3c0dc"/>
<circle cx="188.30" cy="313.52" r="0.95" fill="#aaaaaa"/>
<circle cx="198.80" cy="313.52" r="2.0" fill="#b9d0e5"/>
<circle cx="209.30" cy="313.52" r="1.7" fill="#ceddec"/>
<circle cx="219.80" cy="313.52" r="0.95" fill="#aaaaaa"/>
<circle cx="230.30" cy="313.52" r="1.8" fill="#e9b9b5"/>
<circle cx="62.30" cy="321.11" r="2.0" fill="#b9d0e5"/>
<circle cx="72.80" cy="321.11" r="2.4" fill="#a3c0dc"/>
<circle cx="83.30" cy="321.11" r="2.0" fill="#b9d0e5"/>
<circle cx="93.80" cy="321.11" r="0.95" fill="#aaaaaa"/>
<circle cx="104.30" cy="321.11" r="0.95" fill="#aaaaaa"/>
<circle cx="114.80" cy="321.11" r="0.95" fill="#aaaaaa"/>
<circle cx="125.30" cy="321.11" r="0.95" fill="#aaaaaa"/>
<circle cx="135.80" cy="321.11" r="0.95" fill="#aaaaaa"/>
<circle cx="146.30" cy="321.11" r="2.0" fill="#b9d0e5"/>
<circle cx="156.80" cy="321.11" r="1.7" fill="#ceddec"/>
<circle cx="167.30" cy="321.11" r="0.95" fill="#aaaaaa"/>
<circle cx="177.80" cy="321.11" r="1.7" fill="#ceddec"/>
<circle cx="188.30" cy="321.11" r="2.0" fill="#b9d0e5"/>
<circle cx="198.80" cy="321.11" r="1.35" fill="#aaaaaa"/>
<circle cx="209.30" cy="321.11" r="2.4" fill="#a3c0dc"/>
<circle cx="219.80" cy="321.11" r="1.35" fill="#aaaaaa"/>
<circle cx="230.30" cy="321.11" r="0.95" fill="#aaaaaa"/>
<circle cx="62.30" cy="328.69" r="0.95" fill="#aaaaaa"/>
<circle cx="72.80" cy="328.69" r="0.95" fill="#aaaaaa"/>
<circle cx="83.30" cy="328.69" r="0.95" fill="#aaaaaa"/>
<circle cx="93.80" cy="328.69" r="1.35" fill="#aaaaaa"/>
<circle cx="104.30" cy="328.69" r="1.7" fill="#ceddec"/>
<circle cx="114.80" cy="328.69" r="2.4" fill="#a3c0dc"/>
<circle cx="125.30" cy="328.69" r="2.0" fill="#b9d0e5"/>
<circle cx="135.80" cy="328.69" r="2.0" fill="#b9d0e5"/>
<circle cx="146.30" cy="328.69" r="1.35" fill="#aaaaaa"/>
<circle cx="156.80" cy="328.69" r="1.7" fill="#ceddec"/>
<circle cx="167.30" cy="328.69" r="2.4" fill="#a3c0dc"/>
<circle cx="177.80" cy="328.69" r="1.35" fill="#aaaaaa"/>
<circle cx="188.30" cy="328.69" r="2.85" fill="#8aafd3"/>
<circle cx="198.80" cy="328.69" r="1.35" fill="#aaaaaa"/>
<circle cx="209.30" cy="328.69" r="0.95" fill="#aaaaaa"/>
<circle cx="219.80" cy="328.69" r="1.35" fill="#aaaaaa"/>
<circle cx="230.30" cy="328.69" r="0.95" fill="#aaaaaa"/>
<circle cx="62.30" cy="336.28" r="2.45" fill="#dd918b"/>
<circle cx="72.80" cy="336.28" r="2.45" fill="#dd918b"/>
<circle cx="83.30" cy="336.28" r="2.85" fill="#d57871"/>
<circle cx="93.80" cy="336.28" r="2.0" fill="#b9d0e5"/>
<circle cx="104.30" cy="336.28" r="2.0" fill="#b9d0e5"/>
<circle cx="114.80" cy="336.28" r="1.7" fill="#ceddec"/>
<circle cx="125.30" cy="336.28" r="2.0" fill="#b9d0e5"/>
<circle cx="135.80" cy="336.28" r="2.4" fill="#a3c0dc"/>
<circle cx="146.30" cy="336.28" r="0.95" fill="#aaaaaa"/>
<circle cx="156.80" cy="336.28" r="2.0" fill="#b9d0e5"/>
<circle cx="167.30" cy="336.28" r="1.7" fill="#ceddec"/>
<circle cx="177.80" cy="336.28" r="0.95" fill="#aaaaaa"/>
<circle cx="188.30" cy="336.28" r="1.7" fill="#ceddec"/>
<circle cx="198.80" cy="336.28" r="0.95" fill="#aaaaaa"/>
<circle cx="209.30" cy="336.28" r="2.1" fill="#e3a5a0"/>
<circle cx="219.80" cy="336.28" r="1.7" fill="#ceddec"/>
<circle cx="230.30" cy="336.28" r="0.95" fill="#aaaaaa"/>
<circle cx="62.30" cy="343.86" r="1.5" fill="#4b85bb"/>
<circle cx="72.80" cy="343.86" r="1.9" fill="#427fb8"/>
<circle cx="83.30" cy="343.86" r="1.5" fill="#4b85bb"/>
<circle cx="93.80" cy="343.86" r="0.95" fill="#aaaaaa"/>
<circle cx="104.30" cy="343.86" r="1.35" fill="#aaaaaa"/>
<circle cx="114.80" cy="343.86" r="1.35" fill="#aaaaaa"/>
<circle cx="125.30" cy="343.86" r="0.95" fill="#aaaaaa"/>
<circle cx="135.80" cy="343.86" r="1.35" fill="#aaaaaa"/>
<circle cx="146.30" cy="343.86" r="1.5" fill="#4b85bb"/>
<circle cx="156.80" cy="343.86" r="1.35" fill="#aaaaaa"/>
<circle cx="167.30" cy="343.86" r="1.5" fill="#4b85bb"/>
<circle cx="177.80" cy="343.86" r="1.9" fill="#427fb8"/>
<circle cx="188.30" cy="343.86" r="1.35" fill="#aaaaaa"/>
<circle cx="198.80" cy="343.86" r="0.95" fill="#aaaaaa"/>
<circle cx="209.30" cy="343.86" r="1.5" fill="#4b85bb"/>
<circle cx="219.80" cy="343.86" r="1.35" fill="#aaaaaa"/>
<circle cx="230.30" cy="343.86" r="1.35" fill="#aaaaaa"/>
<circle cx="62.30" cy="351.44" r="0.95" fill="#aaaaaa"/>
<circle cx="72.80" cy="351.44" r="0.95" fill="#aaaaaa"/>
<circle cx="83.30" cy="351.44" r="0.95" fill="#aaaaaa"/>
<circle cx="93.80" cy="351.44" r="1.35" fill="#aaaaaa"/>
<circle cx="104.30" cy="351.44" r="1.35" fill="#aaaaaa"/>
<circle cx="114.80" cy="351.44" r="2.4" fill="#a3c0dc"/>
<circle cx="125.30" cy="351.44" r="2.0" fill="#b9d0e5"/>
<circle cx="135.80" cy="351.44" r="2.0" fill="#b9d0e5"/>
<circle cx="146.30" cy="351.44" r="1.35" fill="#aaaaaa"/>
<circle cx="156.80" cy="351.44" r="1.35" fill="#aaaaaa"/>
<circle cx="167.30" cy="351.44" r="1.35" fill="#aaaaaa"/>
<circle cx="177.80" cy="351.44" r="0.95" fill="#aaaaaa"/>
<circle cx="188.30" cy="351.44" r="2.0" fill="#b9d0e5"/>
<circle cx="198.80" cy="351.44" r="1.35" fill="#aaaaaa"/>
<circle cx="209.30" cy="351.44" r="1.35" fill="#aaaaaa"/>
<circle cx="219.80" cy="351.44" r="0.95" fill="#aaaaaa"/>
<circle cx="230.30" cy="351.44" r="1.35" fill="#aaaaaa"/>
<circle cx="62.30" cy="359.03" r="2.1" fill="#e3a5a0"/>
<circle cx="72.80" cy="359.03" r="2.45" fill="#dd918b"/>
<circle cx="83.30" cy="359.03" r="2.85" fill="#d57871"/>
<circle cx="93.80" cy="359.03" r="2.0" fill="#b9d0e5"/>
<circle cx="104.30" cy="359.03" r="2.4" fill="#a3c0dc"/>
<circle cx="114.80" cy="359.03" r="2.0" fill="#b9d0e5"/>
<circle cx="125.30" cy="359.03" r="2.0" fill="#b9d0e5"/>
<circle cx="135.80" cy="359.03" r="2.4" fill="#a3c0dc"/>
<circle cx="146.30" cy="359.03" r="0.95" fill="#aaaaaa"/>
<circle cx="156.80" cy="359.03" r="2.0" fill="#b9d0e5"/>
<circle cx="167.30" cy="359.03" r="2.0" fill="#b9d0e5"/>
<circle cx="177.80" cy="359.03" r="1.35" fill="#aaaaaa"/>
<circle cx="188.30" cy="359.03" r="1.35" fill="#aaaaaa"/>
<circle cx="198.80" cy="359.03" r="0.95" fill="#aaaaaa"/>
<circle cx="209.30" cy="359.03" r="2.1" fill="#e3a5a0"/>
<circle cx="219.80" cy="359.03" r="2.0" fill="#b9d0e5"/>
<circle cx="230.30" cy="359.03" r="0.95" fill="#aaaaaa"/>
<circle cx="62.30" cy="366.61" r="1.35" fill="#aaaaaa"/>
<circle cx="72.80" cy="366.61" r="1.35" fill="#aaaaaa"/>
<circle cx="83.30" cy="366.61" r="0.95" fill="#aaaaaa"/>
<circle cx="93.80" cy="366.61" r="0.95" fill="#aaaaaa"/>
<circle cx="104.30" cy="366.61" r="0.95" fill="#aaaaaa"/>
<circle cx="114.80" cy="366.61" r="2.4" fill="#a3c0dc"/>
<circle cx="125.30" cy="366.61" r="0.95" fill="#aaaaaa"/>
<circle cx="135.80" cy="366.61" r="0.95" fill="#aaaaaa"/>
<circle cx="146.30" cy="366.61" r="0.95" fill="#aaaaaa"/>
<circle cx="156.80" cy="366.61" r="0.95" fill="#aaaaaa"/>
<circle cx="167.30" cy="366.61" r="0.95" fill="#aaaaaa"/>
<circle cx="177.80" cy="366.61" r="0.95" fill="#aaaaaa"/>
<circle cx="188.30" cy="366.61" r="0.95" fill="#aaaaaa"/>
<circle cx="198.80" cy="366.61" r="1.35" fill="#aaaaaa"/>
<circle cx="209.30" cy="366.61" r="0.95" fill="#aaaaaa"/>
<circle cx="219.80" cy="366.61" r="1.35" fill="#aaaaaa"/>
<circle cx="230.30" cy="366.61" r="1.35" fill="#aaaaaa"/>
<circle cx="62.30" cy="374.20" r="2.4" fill="#a3c0dc"/>
<circle cx="72.80" cy="374.20" r="2.0" fill="#b9d0e5"/>
<circle cx="83.30" cy="374.20" r="1.7" fill="#ceddec"/>
<circle cx="93.80" cy="374.20" r="0.95" fill="#aaaaaa"/>
<circle cx="104.30" cy="374.20" r="0.95" fill="#aaaaaa"/>
<circle cx="114.80" cy="374.20" r="1.35" fill="#aaaaaa"/>
<circle cx="125.30" cy="374.20" r="0.95" fill="#aaaaaa"/>
<circle cx="135.80" cy="374.20" r="0.95" fill="#aaaaaa"/>
<circle cx="146.30" cy="374.20" r="2.0" fill="#b9d0e5"/>
<circle cx="156.80" cy="374.20" r="0.95" fill="#aaaaaa"/>
<circle cx="167.30" cy="374.20" r="0.95" fill="#aaaaaa"/>
<circle cx="177.80" cy="374.20" r="1.35" fill="#aaaaaa"/>
<circle cx="188.30" cy="374.20" r="1.35" fill="#aaaaaa"/>
<circle cx="198.80" cy="374.20" r="1.7" fill="#ceddec"/>
<circle cx="209.30" cy="374.20" r="2.0" fill="#b9d0e5"/>
<circle cx="219.80" cy="374.20" r="0.95" fill="#aaaaaa"/>
<circle cx="230.30" cy="374.20" r="0.95" fill="#aaaaaa"/>
<circle cx="62.30" cy="381.78" r="2.1" fill="#e3a5a0"/>
<circle cx="72.80" cy="381.78" r="2.1" fill="#e3a5a0"/>
<circle cx="83.30" cy="381.78" r="2.85" fill="#d57871"/>
<circle cx="93.80" cy="381.78" r="2.4" fill="#a3c0dc"/>
<circle cx="104.30" cy="381.78" r="2.4" fill="#a3c0dc"/>
<circle cx="114.80" cy="381.78" r="2.4" fill="#a3c0dc"/>
<circle cx="125.30" cy="381.78" r="2.4" fill="#a3c0dc"/>
<circle cx="135.80" cy="381.78" r="2.0" fill="#b9d0e5"/>
<circle cx="146.30" cy="381.78" r="0.95" fill="#aaaaaa"/>
<circle cx="156.80" cy="381.78" r="2.4" fill="#a3c0dc"/>
<circle cx="167.30" cy="381.78" r="2.4" fill="#a3c0dc"/>
<circle cx="177.80" cy="381.78" r="1.35" fill="#aaaaaa"/>
<circle cx="188.30" cy="381.78" r="2.0" fill="#b9d0e5"/>
<circle cx="198.80" cy="381.78" r="0.95" fill="#aaaaaa"/>
<circle cx="209.30" cy="381.78" r="2.1" fill="#e3a5a0"/>
<circle cx="219.80" cy="381.78" r="1.35" fill="#aaaaaa"/>
<circle cx="230.30" cy="381.78" r="1.35" fill="#aaaaaa"/>
<circle cx="62.30" cy="389.36" r="2.1" fill="#e3a5a0"/>
<circle cx="72.80" cy="389.36" r="1.8" fill="#e9b9b5"/>
<circle cx="83.30" cy="389.36" r="2.1" fill="#e3a5a0"/>
<circle cx="93.80" cy="389.36" r="2.4" fill="#a3c0dc"/>
<circle cx="104.30" cy="389.36" r="2.0" fill="#b9d0e5"/>
<circle cx="114.80" cy="389.36" r="0.95" fill="#aaaaaa"/>
<circle cx="125.30" cy="389.36" r="1.7" fill="#ceddec"/>
<circle cx="135.80" cy="389.36" r="1.35" fill="#aaaaaa"/>
<circle cx="146.30" cy="389.36" r="0.95" fill="#aaaaaa"/>
<circle cx="156.80" cy="389.36" r="2.4" fill="#a3c0dc"/>
<circle cx="167.30" cy="389.36" r="2.4" fill="#a3c0dc"/>
<circle cx="177.80" cy="389.36" r="0.95" fill="#aaaaaa"/>
<circle cx="188.30" cy="389.36" r="1.35" fill="#aaaaaa"/>
<circle cx="198.80" cy="389.36" r="1.35" fill="#aaaaaa"/>
<circle cx="209.30" cy="389.36" r="0.95" fill="#aaaaaa"/>
<circle cx="219.80" cy="389.36" r="1.35" fill="#aaaaaa"/>
<circle cx="230.30" cy="389.36" r="2.0" fill="#b9d0e5"/>
<circle cx="62.30" cy="396.95" r="0.95" fill="#aaaaaa"/>
<circle cx="72.80" cy="396.95" r="0.95" fill="#aaaaaa"/>
<circle cx="83.30" cy="396.95" r="0.95" fill="#aaaaaa"/>
<circle cx="93.80" cy="396.95" r="0.95" fill="#aaaaaa"/>
<circle cx="104.30" cy="396.95" r="1.35" fill="#aaaaaa"/>
<circle cx="114.80" cy="396.95" r="2.0" fill="#b9d0e5"/>
<circle cx="125.30" cy="396.95" r="2.0" fill="#b9d0e5"/>
<circle cx="135.80" cy="396.95" r="2.4" fill="#a3c0dc"/>
<circle cx="146.30" cy="396.95" r="1.35" fill="#aaaaaa"/>
<circle cx="156.80" cy="396.95" r="1.35" fill="#aaaaaa"/>
<circle cx="167.30" cy="396.95" r="2.0" fill="#b9d0e5"/>
<circle cx="177.80" cy="396.95" r="0.95" fill="#aaaaaa"/>
<circle cx="188.30" cy="396.95" r="2.0" fill="#b9d0e5"/>
<circle cx="198.80" cy="396.95" r="0.95" fill="#aaaaaa"/>
<circle cx="209.30" cy="396.95" r="0.95" fill="#aaaaaa"/>
<circle cx="219.80" cy="396.95" r="1.35" fill="#aaaaaa"/>
<circle cx="230.30" cy="396.95" r="0.95" fill="#aaaaaa"/>
<circle cx="62.30" cy="404.53" r="0.95" fill="#aaaaaa"/>
<circle cx="72.80" cy="404.53" r="1.35" fill="#aaaaaa"/>
<circle cx="83.30" cy="404.53" r="0.95" fill="#aaaaaa"/>
<circle cx="93.80" cy="404.53" r="0.95" fill="#aaaaaa"/>
<circle cx="104.30" cy="404.53" r="0.95" fill="#aaaaaa"/>
<circle cx="114.80" cy="404.53" r="2.4" fill="#a3c0dc"/>
<circle cx="125.30" cy="404.53" r="1.35" fill="#aaaaaa"/>
<circle cx="135.80" cy="404.53" r="1.35" fill="#aaaaaa"/>
<circle cx="146.30" cy="404.53" r="1.35" fill="#aaaaaa"/>
<circle cx="156.80" cy="404.53" r="0.95" fill="#aaaaaa"/>
<circle cx="167.30" cy="404.53" r="1.35" fill="#aaaaaa"/>
<circle cx="177.80" cy="404.53" r="1.35" fill="#aaaaaa"/>
<circle cx="188.30" cy="404.53" r="1.35" fill="#aaaaaa"/>
<circle cx="198.80" cy="404.53" r="1.35" fill="#aaaaaa"/>
<circle cx="209.30" cy="404.53" r="0.95" fill="#aaaaaa"/>
<circle cx="219.80" cy="404.53" r="0.95" fill="#aaaaaa"/>
<circle cx="230.30" cy="404.53" r="1.35" fill="#aaaaaa"/>
<circle cx="62.30" cy="412.12" r="1.8" fill="#e9b9b5"/>
<circle cx="72.80" cy="412.12" r="1.8" fill="#e9b9b5"/>
<circle cx="83.30" cy="412.12" r="2.1" fill="#e3a5a0"/>
<circle cx="93.80" cy="412.12" r="2.0" fill="#b9d0e5"/>
<circle cx="104.30" cy="412.12" r="1.7" fill="#ceddec"/>
<circle cx="114.80" cy="412.12" r="0.95" fill="#aaaaaa"/>
<circle cx="125.30" cy="412.12" r="1.7" fill="#ceddec"/>
<circle cx="135.80" cy="412.12" r="1.35" fill="#aaaaaa"/>
<circle cx="146.30" cy="412.12" r="0.95" fill="#aaaaaa"/>
<circle cx="156.80" cy="412.12" r="2.0" fill="#b9d0e5"/>
<circle cx="167.30" cy="412.12" r="2.4" fill="#a3c0dc"/>
<circle cx="177.80" cy="412.12" r="1.35" fill="#aaaaaa"/>
<circle cx="188.30" cy="412.12" r="1.35" fill="#aaaaaa"/>
<circle cx="198.80" cy="412.12" r="1.35" fill="#aaaaaa"/>
<circle cx="209.30" cy="412.12" r="1.35" fill="#aaaaaa"/>
<circle cx="219.80" cy="412.12" r="1.35" fill="#aaaaaa"/>
<circle cx="230.30" cy="412.12" r="1.35" fill="#aaaaaa"/>
<circle cx="62.30" cy="419.70" r="2.0" fill="#b9d0e5"/>
<circle cx="72.80" cy="419.70" r="2.0" fill="#b9d0e5"/>
<circle cx="83.30" cy="419.70" r="2.0" fill="#b9d0e5"/>
<circle cx="93.80" cy="419.70" r="1.35" fill="#aaaaaa"/>
<circle cx="104.30" cy="419.70" r="1.35" fill="#aaaaaa"/>
<circle cx="114.80" cy="419.70" r="1.35" fill="#aaaaaa"/>
<circle cx="125.30" cy="419.70" r="0.95" fill="#aaaaaa"/>
<circle cx="135.80" cy="419.70" r="0.95" fill="#aaaaaa"/>
<circle cx="146.30" cy="419.70" r="0.95" fill="#aaaaaa"/>
<circle cx="156.80" cy="419.70" r="1.35" fill="#aaaaaa"/>
<circle cx="167.30" cy="419.70" r="0.95" fill="#aaaaaa"/>
<circle cx="177.80" cy="419.70" r="0.95" fill="#aaaaaa"/>
<circle cx="188.30" cy="419.70" r="0.95" fill="#aaaaaa"/>
<circle cx="198.80" cy="419.70" r="1.35" fill="#aaaaaa"/>
<circle cx="209.30" cy="419.70" r="0.95" fill="#aaaaaa"/>
<circle cx="219.80" cy="419.70" r="1.35" fill="#aaaaaa"/>
<circle cx="230.30" cy="419.70" r="1.35" fill="#aaaaaa"/>
<circle cx="62.30" cy="427.28" r="1.35" fill="#aaaaaa"/>
<circle cx="72.80" cy="427.28" r="1.7" fill="#ceddec"/>
<circle cx="83.30" cy="427.28" r="1.35" fill="#aaaaaa"/>
<circle cx="93.80" cy="427.28" r="0.95" fill="#aaaaaa"/>
<circle cx="104.30" cy="427.28" r="0.95" fill="#aaaaaa"/>
<circle cx="114.80" cy="427.28" r="2.4" fill="#a3c0dc"/>
<circle cx="125.30" cy="427.28" r="0.95" fill="#aaaaaa"/>
<circle cx="135.80" cy="427.28" r="0.95" fill="#aaaaaa"/>
<circle cx="146.30" cy="427.28" r="1.35" fill="#aaaaaa"/>
<circle cx="156.80" cy="427.28" r="1.35" fill="#aaaaaa"/>
<circle cx="167.30" cy="427.28" r="0.95" fill="#aaaaaa"/>
<circle cx="177.80" cy="427.28" r="0.95" fill="#aaaaaa"/>
<circle cx="188.30" cy="427.28" r="0.95" fill="#aaaaaa"/>
<circle cx="198.80" cy="427.28" r="1.35" fill="#aaaaaa"/>
<circle cx="209.30" cy="427.28" r="0.95" fill="#aaaaaa"/>
<circle cx="219.80" cy="427.28" r="0.95" fill="#aaaaaa"/>
<circle cx="230.30" cy="427.28" r="0.95" fill="#aaaaaa"/>
<circle cx="62.30" cy="434.87" r="2.0" fill="#b9d0e5"/>
<circle cx="72.80" cy="434.87" r="1.7" fill="#ceddec"/>
<circle cx="83.30" cy="434.87" r="2.4" fill="#a3c0dc"/>
<circle cx="93.80" cy="434.87" r="0.95" fill="#aaaaaa"/>
<circle cx="104.30" cy="434.87" r="0.95" fill="#aaaaaa"/>
<circle cx="114.80" cy="434.87" r="0.95" fill="#aaaaaa"/>
<circle cx="125.30" cy="434.87" r="0.95" fill="#aaaaaa"/>
<circle cx="135.80" cy="434.87" r="0.95" fill="#aaaaaa"/>
<circle cx="146.30" cy="434.87" r="1.35" fill="#aaaaaa"/>
<circle cx="156.80" cy="434.87" r="1.35" fill="#aaaaaa"/>
<circle cx="167.30" cy="434.87" r="0.95" fill="#aaaaaa"/>
<circle cx="177.80" cy="434.87" r="0.95" fill="#aaaaaa"/>
<circle cx="188.30" cy="434.87" r="1.35" fill="#aaaaaa"/>
<circle cx="198.80" cy="434.87" r="0.95" fill="#aaaaaa"/>
<circle cx="209.30" cy="434.87" r="1.35" fill="#aaaaaa"/>
<circle cx="219.80" cy="434.87" r="0.95" fill="#aaaaaa"/>
<circle cx="230.30" cy="434.87" r="0.95" fill="#aaaaaa"/>
<circle cx="62.30" cy="442.45" r="1.7" fill="#ceddec"/>
<circle cx="72.80" cy="442.45" r="2.0" fill="#b9d0e5"/>
<circle cx="83.30" cy="442.45" r="2.0" fill="#b9d0e5"/>
<circle cx="93.80" cy="442.45" r="0.95" fill="#aaaaaa"/>
<circle cx="104.30" cy="442.45" r="0.95" fill="#aaaaaa"/>
<circle cx="114.80" cy="442.45" r="0.95" fill="#aaaaaa"/>
<circle cx="125.30" cy="442.45" r="0.95" fill="#aaaaaa"/>
<circle cx="135.80" cy="442.45" r="0.95" fill="#aaaaaa"/>
<circle cx="146.30" cy="442.45" r="1.35" fill="#aaaaaa"/>
<circle cx="156.80" cy="442.45" r="1.35" fill="#aaaaaa"/>
<circle cx="167.30" cy="442.45" r="0.95" fill="#aaaaaa"/>
<circle cx="177.80" cy="442.45" r="1.35" fill="#aaaaaa"/>
<circle cx="188.30" cy="442.45" r="0.95" fill="#aaaaaa"/>
<circle cx="198.80" cy="442.45" r="0.95" fill="#aaaaaa"/>
<circle cx="209.30" cy="442.45" r="1.35" fill="#aaaaaa"/>
<circle cx="219.80" cy="442.45" r="0.95" fill="#aaaaaa"/>
<circle cx="230.30" cy="442.45" r="1.35" fill="#aaaaaa"/>
<circle cx="62.30" cy="450.04" r="0.95" fill="#aaaaaa"/>
<circle cx="72.80" cy="450.04" r="0.95" fill="#aaaaaa"/>
<circle cx="83.30" cy="450.04" r="1.35" fill="#aaaaaa"/>
<circle cx="93.80" cy="450.04" r="2.0" fill="#b9d0e5"/>
<circle cx="104.30" cy="450.04" r="2.0" fill="#b9d0e5"/>
<circle cx="114.80" cy="450.04" r="2.0" fill="#b9d0e5"/>
<circle cx="125.30" cy="450.04" r="2.0" fill="#b9d0e5"/>
<circle cx="135.80" cy="450.04" r="2.0" fill="#b9d0e5"/>
<circle cx="146.30" cy="450.04" r="0.95" fill="#aaaaaa"/>
<circle cx="156.80" cy="450.04" r="1.7" fill="#ceddec"/>
<circle cx="167.30" cy="450.04" r="1.7" fill="#ceddec"/>
<circle cx="177.80" cy="450.04" r="0.95" fill="#aaaaaa"/>
<circle cx="188.30" cy="450.04" r="1.7" fill="#ceddec"/>
<circle cx="198.80" cy="450.04" r="0.95" fill="#aaaaaa"/>
<circle cx="209.30" cy="450.04" r="0.95" fill="#aaaaaa"/>
<circle cx="219.80" cy="450.04" r="1.35" fill="#aaaaaa"/>
<circle cx="230.30" cy="450.04" r="1.7" fill="#ceddec"/>
<circle cx="62.30" cy="457.62" r="2.85" fill="#d57871"/>
<circle cx="72.80" cy="457.62" r="2.45" fill="#dd918b"/>
<circle cx="83.30" cy="457.62" r="3.4" fill="#cc5a51"/>
<circle cx="93.80" cy="457.62" r="2.0" fill="#b9d0e5"/>
<circle cx="104.30" cy="457.62" r="2.0" fill="#b9d0e5"/>
<circle cx="114.80" cy="457.62" r="1.35" fill="#aaaaaa"/>
<circle cx="125.30" cy="457.62" r="2.0" fill="#b9d0e5"/>
<circle cx="135.80" cy="457.62" r="2.0" fill="#b9d0e5"/>
<circle cx="146.30" cy="457.62" r="1.35" fill="#aaaaaa"/>
<circle cx="156.80" cy="457.62" r="1.7" fill="#ceddec"/>
<circle cx="167.30" cy="457.62" r="2.0" fill="#b9d0e5"/>
<circle cx="177.80" cy="457.62" r="2.1" fill="#e3a5a0"/>
<circle cx="188.30" cy="457.62" r="0.95" fill="#aaaaaa"/>
<circle cx="198.80" cy="457.62" r="0.95" fill="#aaaaaa"/>
<circle cx="209.30" cy="457.62" r="2.45" fill="#dd918b"/>
<circle cx="219.80" cy="457.62" r="1.35" fill="#aaaaaa"/>
<circle cx="230.30" cy="457.62" r="1.35" fill="#aaaaaa"/>
<circle cx="62.30" cy="465.20" r="2.0" fill="#b9d0e5"/>
<circle cx="72.80" cy="465.20" r="2.0" fill="#b9d0e5"/>
<circle cx="83.30" cy="465.20" r="2.0" fill="#b9d0e5"/>
<circle cx="93.80" cy="465.20" r="0.95" fill="#aaaaaa"/>
<circle cx="104.30" cy="465.20" r="0.95" fill="#aaaaaa"/>
<circle cx="114.80" cy="465.20" r="1.35" fill="#aaaaaa"/>
<circle cx="125.30" cy="465.20" r="0.95" fill="#aaaaaa"/>
<circle cx="135.80" cy="465.20" r="0.95" fill="#aaaaaa"/>
<circle cx="146.30" cy="465.20" r="2.0" fill="#b9d0e5"/>
<circle cx="156.80" cy="465.20" r="0.95" fill="#aaaaaa"/>
<circle cx="167.30" cy="465.20" r="0.95" fill="#aaaaaa"/>
<circle cx="177.80" cy="465.20" r="1.7" fill="#ceddec"/>
<circle cx="188.30" cy="465.20" r="1.35" fill="#aaaaaa"/>
<circle cx="198.80" cy="465.20" r="1.35" fill="#aaaaaa"/>
<circle cx="209.30" cy="465.20" r="1.7" fill="#ceddec"/>
<circle cx="219.80" cy="465.20" r="0.95" fill="#aaaaaa"/>
<circle cx="230.30" cy="465.20" r="1.35" fill="#aaaaaa"/>
<circle cx="62.30" cy="472.79" r="2.0" fill="#b9d0e5"/>
<circle cx="72.80" cy="472.79" r="2.0" fill="#b9d0e5"/>
<circle cx="83.30" cy="472.79" r="1.35" fill="#aaaaaa"/>
<circle cx="93.80" cy="472.79" r="1.8" fill="#e9b9b5"/>
<circle cx="104.30" cy="472.79" r="1.35" fill="#aaaaaa"/>
<circle cx="114.80" cy="472.79" r="2.0" fill="#b9d0e5"/>
<circle cx="125.30" cy="472.79" r="0.95" fill="#aaaaaa"/>
<circle cx="135.80" cy="472.79" r="0.95" fill="#aaaaaa"/>
<circle cx="146.30" cy="472.79" r="0.95" fill="#aaaaaa"/>
<circle cx="156.80" cy="472.79" r="1.35" fill="#aaaaaa"/>
<circle cx="167.30" cy="472.79" r="0.95" fill="#aaaaaa"/>
<circle cx="177.80" cy="472.79" r="0.95" fill="#aaaaaa"/>
<circle cx="188.30" cy="472.79" r="0.95" fill="#aaaaaa"/>
<circle cx="198.80" cy="472.79" r="1.35" fill="#aaaaaa"/>
<circle cx="209.30" cy="472.79" r="0.95" fill="#aaaaaa"/>
<circle cx="219.80" cy="472.79" r="1.35" fill="#aaaaaa"/>
<circle cx="230.30" cy="472.79" r="1.35" fill="#aaaaaa"/>
<circle cx="62.30" cy="480.37" r="1.7" fill="#ceddec"/>
<circle cx="72.80" cy="480.37" r="2.0" fill="#b9d0e5"/>
<circle cx="83.30" cy="480.37" r="1.35" fill="#aaaaaa"/>
<circle cx="93.80" cy="480.37" r="0.95" fill="#aaaaaa"/>
<circle cx="104.30" cy="480.37" r="0.95" fill="#aaaaaa"/>
<circle cx="114.80" cy="480.37" r="2.0" fill="#b9d0e5"/>
<circle cx="125.30" cy="480.37" r="0.95" fill="#aaaaaa"/>
<circle cx="135.80" cy="480.37" r="1.35" fill="#aaaaaa"/>
<circle cx="146.30" cy="480.37" r="1.35" fill="#aaaaaa"/>
<circle cx="156.80" cy="480.37" r="0.95" fill="#aaaaaa"/>
<circle cx="167.30" cy="480.37" r="0.95" fill="#aaaaaa"/>
<circle cx="177.80" cy="480.37" r="1.35" fill="#aaaaaa"/>
<circle cx="188.30" cy="480.37" r="1.35" fill="#aaaaaa"/>
<circle cx="198.80" cy="480.37" r="1.35" fill="#aaaaaa"/>
<circle cx="209.30" cy="480.37" r="0.95" fill="#aaaaaa"/>
<circle cx="219.80" cy="480.37" r="1.35" fill="#aaaaaa"/>
<circle cx="230.30" cy="480.37" r="0.95" fill="#aaaaaa"/>
<circle cx="62.30" cy="487.96" r="2.0" fill="#b9d0e5"/>
<circle cx="72.80" cy="487.96" r="2.0" fill="#b9d0e5"/>
<circle cx="83.30" cy="487.96" r="1.35" fill="#aaaaaa"/>
<circle cx="93.80" cy="487.96" r="0.95" fill="#aaaaaa"/>
<circle cx="104.30" cy="487.96" r="0.95" fill="#aaaaaa"/>
<circle cx="114.80" cy="487.96" r="1.35" fill="#aaaaaa"/>
<circle cx="125.30" cy="487.96" r="0.95" fill="#aaaaaa"/>
<circle cx="135.80" cy="487.96" r="1.35" fill="#aaaaaa"/>
<circle cx="146.30" cy="487.96" r="2.0" fill="#b9d0e5"/>
<circle cx="156.80" cy="487.96" r="0.95" fill="#aaaaaa"/>
<circle cx="167.30" cy="487.96" r="1.35" fill="#aaaaaa"/>
<circle cx="177.80" cy="487.96" r="1.7" fill="#ceddec"/>
<circle cx="188.30" cy="487.96" r="1.35" fill="#aaaaaa"/>
<circle cx="198.80" cy="487.96" r="1.35" fill="#aaaaaa"/>
<circle cx="209.30" cy="487.96" r="2.0" fill="#b9d0e5"/>
<circle cx="219.80" cy="487.96" r="1.35" fill="#aaaaaa"/>
<circle cx="230.30" cy="487.96" r="0.95" fill="#aaaaaa"/>
<circle cx="62.30" cy="495.54" r="0.95" fill="#aaaaaa"/>
<circle cx="72.80" cy="495.54" r="0.95" fill="#aaaaaa"/>
<circle cx="83.30" cy="495.54" r="0.95" fill="#aaaaaa"/>
<circle cx="93.80" cy="495.54" r="1.35" fill="#aaaaaa"/>
<circle cx="104.30" cy="495.54" r="1.35" fill="#aaaaaa"/>
<circle cx="114.80" cy="495.54" r="1.7" fill="#ceddec"/>
<circle cx="125.30" cy="495.54" r="1.35" fill="#aaaaaa"/>
<circle cx="135.80" cy="495.54" r="1.7" fill="#ceddec"/>
<circle cx="146.30" cy="495.54" r="1.35" fill="#aaaaaa"/>
<circle cx="156.80" cy="495.54" r="1.7" fill="#ceddec"/>
<circle cx="167.30" cy="495.54" r="2.0" fill="#b9d0e5"/>
<circle cx="177.80" cy="495.54" r="0.95" fill="#aaaaaa"/>
<circle cx="188.30" cy="495.54" r="1.35" fill="#aaaaaa"/>
<circle cx="198.80" cy="495.54" r="1.35" fill="#aaaaaa"/>
<circle cx="209.30" cy="495.54" r="1.35" fill="#aaaaaa"/>
<circle cx="219.80" cy="495.54" r="1.35" fill="#aaaaaa"/>
<circle cx="230.30" cy="495.54" r="1.35" fill="#aaaaaa"/>
<circle cx="62.30" cy="503.12" r="1.7" fill="#ceddec"/>
<circle cx="72.80" cy="503.12" r="1.7" fill="#ceddec"/>
<circle cx="83.30" cy="503.12" r="1.7" fill="#ceddec"/>
<circle cx="93.80" cy="503.12" r="0.95" fill="#aaaaaa"/>
<circle cx="104.30" cy="503.12" r="0.95" fill="#aaaaaa"/>
<circle cx="114.80" cy="503.12" r="1.35" fill="#aaaaaa"/>
<circle cx="125.30" cy="503.12" r="0.95" fill="#aaaaaa"/>
<circle cx="135.80" cy="503.12" r="1.35" fill="#aaaaaa"/>
<circle cx="146.30" cy="503.12" r="2.0" fill="#b9d0e5"/>
<circle cx="156.80" cy="503.12" r="1.35" fill="#aaaaaa"/>
<circle cx="167.30" cy="503.12" r="1.7" fill="#ceddec"/>
<circle cx="177.80" cy="503.12" r="1.7" fill="#ceddec"/>
<circle cx="188.30" cy="503.12" r="2.0" fill="#b9d0e5"/>
<circle cx="198.80" cy="503.12" r="0.95" fill="#aaaaaa"/>
<circle cx="209.30" cy="503.12" r="1.35" fill="#aaaaaa"/>
<circle cx="219.80" cy="503.12" r="0.95" fill="#aaaaaa"/>
<circle cx="230.30" cy="503.12" r="0.95" fill="#aaaaaa"/>
<circle cx="62.30" cy="510.71" r="2.0" fill="#b9d0e5"/>
<circle cx="72.80" cy="510.71" r="2.0" fill="#b9d0e5"/>
<circle cx="83.30" cy="510.71" r="1.7" fill="#ceddec"/>
<circle cx="93.80" cy="510.71" r="0.95" fill="#aaaaaa"/>
<circle cx="104.30" cy="510.71" r="0.95" fill="#aaaaaa"/>
<circle cx="114.80" cy="510.71" r="1.35" fill="#aaaaaa"/>
<circle cx="125.30" cy="510.71" r="0.95" fill="#aaaaaa"/>
<circle cx="135.80" cy="510.71" r="0.95" fill="#aaaaaa"/>
<circle cx="146.30" cy="510.71" r="1.35" fill="#aaaaaa"/>
<circle cx="156.80" cy="510.71" r="0.95" fill="#aaaaaa"/>
<circle cx="167.30" cy="510.71" r="0.95" fill="#aaaaaa"/>
<circle cx="177.80" cy="510.71" r="1.35" fill="#aaaaaa"/>
<circle cx="188.30" cy="510.71" r="1.35" fill="#aaaaaa"/>
<circle cx="198.80" cy="510.71" r="1.35" fill="#aaaaaa"/>
<circle cx="209.30" cy="510.71" r="1.35" fill="#aaaaaa"/>
<circle cx="219.80" cy="510.71" r="0.95" fill="#aaaaaa"/>
<circle cx="230.30" cy="510.71" r="0.95" fill="#aaaaaa"/>
<circle cx="62.30" cy="518.29" r="0.95" fill="#aaaaaa"/>
<circle cx="72.80" cy="518.29" r="0.95" fill="#aaaaaa"/>
<circle cx="83.30" cy="518.29" r="1.8" fill="#e9b9b5"/>
<circle cx="93.80" cy="518.29" r="0.95" fill="#aaaaaa"/>
<circle cx="104.30" cy="518.29" r="0.95" fill="#aaaaaa"/>
<circle cx="114.80" cy="518.29" r="2.0" fill="#b9d0e5"/>
<circle cx="125.30" cy="518.29" r="0.95" fill="#aaaaaa"/>
<circle cx="135.80" cy="518.29" r="0.95" fill="#aaaaaa"/>
<circle cx="146.30" cy="518.29" r="0.95" fill="#aaaaaa"/>
<circle cx="156.80" cy="518.29" r="0.95" fill="#aaaaaa"/>
<circle cx="167.30" cy="518.29" r="1.35" fill="#aaaaaa"/>
<circle cx="177.80" cy="518.29" r="1.35" fill="#aaaaaa"/>
<circle cx="188.30" cy="518.29" r="0.95" fill="#aaaaaa"/>
<circle cx="198.80" cy="518.29" r="1.35" fill="#aaaaaa"/>
<circle cx="209.30" cy="518.29" r="1.8" fill="#e9b9b5"/>
<circle cx="219.80" cy="518.29" r="0.95" fill="#aaaaaa"/>
<circle cx="230.30" cy="518.29" r="0.95" fill="#aaaaaa"/>
<circle cx="62.30" cy="525.88" r="0.95" fill="#aaaaaa"/>
<circle cx="72.80" cy="525.88" r="0.95" fill="#aaaaaa"/>
<circle cx="83.30" cy="525.88" r="1.35" fill="#aaaaaa"/>
<circle cx="93.80" cy="525.88" r="0.95" fill="#aaaaaa"/>
<circle cx="104.30" cy="525.88" r="0.95" fill="#aaaaaa"/>
<circle cx="114.80" cy="525.88" r="2.0" fill="#b9d0e5"/>
<circle cx="125.30" cy="525.88" r="0.95" fill="#aaaaaa"/>
<circle cx="135.80" cy="525.88" r="1.35" fill="#aaaaaa"/>
<circle cx="146.30" cy="525.88" r="0.95" fill="#aaaaaa"/>
<circle cx="156.80" cy="525.88" r="0.95" fill="#aaaaaa"/>
<circle cx="167.30" cy="525.88" r="0.95" fill="#aaaaaa"/>
<circle cx="177.80" cy="525.88" r="0.95" fill="#aaaaaa"/>
<circle cx="188.30" cy="525.88" r="0.95" fill="#aaaaaa"/>
<circle cx="198.80" cy="525.88" r="1.35" fill="#aaaaaa"/>
<circle cx="209.30" cy="525.88" r="0.95" fill="#aaaaaa"/>
<circle cx="219.80" cy="525.88" r="0.95" fill="#aaaaaa"/>
<circle cx="230.30" cy="525.88" r="1.35" fill="#aaaaaa"/>
<circle cx="62.30" cy="533.46" r="2.85" fill="#d57871"/>
<circle cx="72.80" cy="533.46" r="2.85" fill="#d57871"/>
<circle cx="83.30" cy="533.46" r="3.4" fill="#cc5a51"/>
<circle cx="93.80" cy="533.46" r="1.7" fill="#ceddec"/>
<circle cx="104.30" cy="533.46" r="1.7" fill="#ceddec"/>
<circle cx="114.80" cy="533.46" r="0.95" fill="#aaaaaa"/>
<circle cx="125.30" cy="533.46" r="0.95" fill="#aaaaaa"/>
<circle cx="135.80" cy="533.46" r="0.95" fill="#aaaaaa"/>
<circle cx="146.30" cy="533.46" r="1.35" fill="#aaaaaa"/>
<circle cx="156.80" cy="533.46" r="1.35" fill="#aaaaaa"/>
<circle cx="167.30" cy="533.46" r="1.35" fill="#aaaaaa"/>
<circle cx="177.80" cy="533.46" r="2.1" fill="#e3a5a0"/>
<circle cx="188.30" cy="533.46" r="1.35" fill="#aaaaaa"/>
<circle cx="198.80" cy="533.46" r="1.35" fill="#aaaaaa"/>
<circle cx="209.30" cy="533.46" r="2.1" fill="#e3a5a0"/>
<circle cx="219.80" cy="533.46" r="1.35" fill="#aaaaaa"/>
<circle cx="230.30" cy="533.46" r="1.35" fill="#aaaaaa"/>
<circle cx="62.30" cy="541.04" r="0.95" fill="#aaaaaa"/>
<circle cx="72.80" cy="541.04" r="0.95" fill="#aaaaaa"/>
<circle cx="83.30" cy="541.04" r="0.95" fill="#aaaaaa"/>
<circle cx="93.80" cy="541.04" r="0.95" fill="#aaaaaa"/>
<circle cx="104.30" cy="541.04" r="0.95" fill="#aaaaaa"/>
<circle cx="114.80" cy="541.04" r="1.7" fill="#ceddec"/>
<circle cx="125.30" cy="541.04" r="0.95" fill="#aaaaaa"/>
<circle cx="135.80" cy="541.04" r="0.95" fill="#aaaaaa"/>
<circle cx="146.30" cy="541.04" r="0.95" fill="#aaaaaa"/>
<circle cx="156.80" cy="541.04" r="0.95" fill="#aaaaaa"/>
<circle cx="167.30" cy="541.04" r="0.95" fill="#aaaaaa"/>
<circle cx="177.80" cy="541.04" r="0.95" fill="#aaaaaa"/>
<circle cx="188.30" cy="541.04" r="1.35" fill="#aaaaaa"/>
<circle cx="198.80" cy="541.04" r="0.95" fill="#aaaaaa"/>
<circle cx="209.30" cy="541.04" r="0.95" fill="#aaaaaa"/>
<circle cx="219.80" cy="541.04" r="1.35" fill="#aaaaaa"/>
<circle cx="230.30" cy="541.04" r="0.95" fill="#aaaaaa"/>
<circle cx="62.30" cy="548.63" r="1.5" fill="#4b85bb"/>
<circle cx="72.80" cy="548.63" r="1.35" fill="#aaaaaa"/>
<circle cx="83.30" cy="548.63" r="1.5" fill="#4b85bb"/>
<circle cx="93.80" cy="548.63" r="0.95" fill="#aaaaaa"/>
<circle cx="104.30" cy="548.63" r="0.95" fill="#aaaaaa"/>
<circle cx="114.80" cy="548.63" r="1.35" fill="#aaaaaa"/>
<circle cx="125.30" cy="548.63" r="0.95" fill="#aaaaaa"/>
<circle cx="135.80" cy="548.63" r="0.95" fill="#aaaaaa"/>
<circle cx="146.30" cy="548.63" r="1.35" fill="#aaaaaa"/>
<circle cx="156.80" cy="548.63" r="0.95" fill="#aaaaaa"/>
<circle cx="167.30" cy="548.63" r="0.95" fill="#aaaaaa"/>
<circle cx="177.80" cy="548.63" r="1.35" fill="#aaaaaa"/>
<circle cx="188.30" cy="548.63" r="0.95" fill="#aaaaaa"/>
<circle cx="198.80" cy="548.63" r="1.35" fill="#aaaaaa"/>
<circle cx="209.30" cy="548.63" r="0.95" fill="#aaaaaa"/>
<circle cx="219.80" cy="548.63" r="0.95" fill="#aaaaaa"/>
<circle cx="230.30" cy="548.63" r="1.35" fill="#aaaaaa"/>
<circle cx="62.30" cy="556.21" r="0.95" fill="#aaaaaa"/>
<circle cx="72.80" cy="556.21" r="0.95" fill="#aaaaaa"/>
<circle cx="83.30" cy="556.21" r="1.8" fill="#e9b9b5"/>
<circle cx="93.80" cy="556.21" r="1.7" fill="#ceddec"/>
<circle cx="104.30" cy="556.21" r="1.7" fill="#ceddec"/>
<circle cx="114.80" cy="556.21" r="1.7" fill="#ceddec"/>
<circle cx="125.30" cy="556.21" r="1.7" fill="#ceddec"/>
<circle cx="135.80" cy="556.21" r="1.7" fill="#ceddec"/>
<circle cx="146.30" cy="556.21" r="0.95" fill="#aaaaaa"/>
<circle cx="156.80" cy="556.21" r="1.7" fill="#ceddec"/>
<circle cx="167.30" cy="556.21" r="1.35" fill="#aaaaaa"/>
<circle cx="177.80" cy="556.21" r="0.95" fill="#aaaaaa"/>
<circle cx="188.30" cy="556.21" r="1.7" fill="#ceddec"/>
<circle cx="198.80" cy="556.21" r="1.35" fill="#aaaaaa"/>
<circle cx="209.30" cy="556.21" r="1.35" fill="#aaaaaa"/>
<circle cx="219.80" cy="556.21" r="1.7" fill="#ceddec"/>
<circle cx="230.30" cy="556.21" r="1.35" fill="#aaaaaa"/>
<circle cx="62.30" cy="563.80" r="1.35" fill="#aaaaaa"/>
<circle cx="72.80" cy="563.80" r="1.35" fill="#aaaaaa"/>
<circle cx="83.30" cy="563.80" r="1.5" fill="#4b85bb"/>
<circle cx="93.80" cy="563.80" r="1.35" fill="#aaaaaa"/>
<circle cx="104.30" cy="563.80" r="1.35" fill="#aaaaaa"/>
<circle cx="114.80" cy="563.80" r="0.95" fill="#aaaaaa"/>
<circle cx="125.30" cy="563.80" r="0.95" fill="#aaaaaa"/>
<circle cx="135.80" cy="563.80" r="0.95" fill="#aaaaaa"/>
<circle cx="146.30" cy="563.80" r="0.95" fill="#aaaaaa"/>
<circle cx="156.80" cy="563.80" r="1.35" fill="#aaaaaa"/>
<circle cx="167.30" cy="563.80" r="0.95" fill="#aaaaaa"/>
<circle cx="177.80" cy="563.80" r="0.95" fill="#aaaaaa"/>
<circle cx="188.30" cy="563.80" r="0.95" fill="#aaaaaa"/>
<circle cx="198.80" cy="563.80" r="0.95" fill="#aaaaaa"/>
<circle cx="209.30" cy="563.80" r="1.35" fill="#aaaaaa"/>
<circle cx="219.80" cy="563.80" r="0.95" fill="#aaaaaa"/>
<circle cx="230.30" cy="563.80" r="0.95" fill="#aaaaaa"/>
<circle cx="62.30" cy="571.38" r="0.95" fill="#aaaaaa"/>
<circle cx="72.80" cy="571.38" r="0.95" fill="#aaaaaa"/>
<circle cx="83.30" cy="571.38" r="0.95" fill="#aaaaaa"/>
<circle cx="93.80" cy="571.38" r="0.95" fill="#aaaaaa"/>
<circle cx="104.30" cy="571.38" r="0.95" fill="#aaaaaa"/>
<circle cx="114.80" cy="571.38" r="1.7" fill="#ceddec"/>
<circle cx="125.30" cy="571.38" r="0.95" fill="#aaaaaa"/>
<circle cx="135.80" cy="571.38" r="0.95" fill="#aaaaaa"/>
<circle cx="146.30" cy="571.38" r="0.95" fill="#aaaaaa"/>
<circle cx="156.80" cy="571.38" r="0.95" fill="#aaaaaa"/>
<circle cx="167.30" cy="571.38" r="1.35" fill="#aaaaaa"/>
<circle cx="177.80" cy="571.38" r="1.35" fill="#aaaaaa"/>
<circle cx="188.30" cy="571.38" r="0.95" fill="#aaaaaa"/>
<circle cx="198.80" cy="571.38" r="1.35" fill="#aaaaaa"/>
<circle cx="209.30" cy="571.38" r="1.35" fill="#aaaaaa"/>
<circle cx="219.80" cy="571.38" r="0.95" fill="#aaaaaa"/>
<circle cx="230.30" cy="571.38" r="0.95" fill="#aaaaaa"/>
<circle cx="62.30" cy="578.96" r="0.95" fill="#aaaaaa"/>
<circle cx="72.80" cy="578.96" r="0.95" fill="#aaaaaa"/>
<circle cx="83.30" cy="578.96" r="0.95" fill="#aaaaaa"/>
<circle cx="93.80" cy="578.96" r="1.35" fill="#aaaaaa"/>
<circle cx="104.30" cy="578.96" r="1.35" fill="#aaaaaa"/>
<circle cx="114.80" cy="578.96" r="0.95" fill="#aaaaaa"/>
<circle cx="125.30" cy="578.96" r="1.5" fill="#4b85bb"/>
<circle cx="135.80" cy="578.96" r="1.35" fill="#aaaaaa"/>
<circle cx="146.30" cy="578.96" r="0.95" fill="#aaaaaa"/>
<circle cx="156.80" cy="578.96" r="1.35" fill="#aaaaaa"/>
<circle cx="167.30" cy="578.96" r="1.35" fill="#aaaaaa"/>
<circle cx="177.80" cy="578.96" r="0.95" fill="#aaaaaa"/>
<circle cx="188.30" cy="578.96" r="1.35" fill="#aaaaaa"/>
<circle cx="198.80" cy="578.96" r="0.95" fill="#aaaaaa"/>
<circle cx="209.30" cy="578.96" r="1.35" fill="#aaaaaa"/>
<circle cx="219.80" cy="578.96" r="1.35" fill="#aaaaaa"/>
<circle cx="230.30" cy="578.96" r="0.95" fill="#aaaaaa"/>
<circle cx="62.30" cy="586.55" r="1.8" fill="#e9b9b5"/>
<circle cx="72.80" cy="586.55" r="1.8" fill="#e9b9b5"/>
<circle cx="83.30" cy="586.55" r="2.1" fill="#e3a5a0"/>
<circle cx="93.80" cy="586.55" r="1.7" fill="#ceddec"/>
<circle cx="104.30" cy="586.55" r="1.35" fill="#aaaaaa"/>
<circle cx="114.80" cy="586.55" r="0.95" fill="#aaaaaa"/>
<circle cx="125.30" cy="586.55" r="1.7" fill="#ceddec"/>
<circle cx="135.80" cy="586.55" r="1.35" fill="#aaaaaa"/>
<circle cx="146.30" cy="586.55" r="0.95" fill="#aaaaaa"/>
<circle cx="156.80" cy="586.55" r="1.35" fill="#aaaaaa"/>
<circle cx="167.30" cy="586.55" r="1.35" fill="#aaaaaa"/>
<circle cx="177.80" cy="586.55" r="1.35" fill="#aaaaaa"/>
<circle cx="188.30" cy="586.55" r="0.95" fill="#aaaaaa"/>
<circle cx="198.80" cy="586.55" r="1.35" fill="#aaaaaa"/>
<circle cx="209.30" cy="586.55" r="1.35" fill="#aaaaaa"/>
<circle cx="219.80" cy="586.55" r="0.95" fill="#aaaaaa"/>
<circle cx="230.30" cy="586.55" r="1.35" fill="#aaaaaa"/>
<circle cx="62.30" cy="594.13" r="1.8" fill="#e9b9b5"/>
<circle cx="72.80" cy="594.13" r="1.8" fill="#e9b9b5"/>
<circle cx="83.30" cy="594.13" r="2.1" fill="#e3a5a0"/>
<circle cx="93.80" cy="594.13" r="0.95" fill="#aaaaaa"/>
<circle cx="104.30" cy="594.13" r="1.35" fill="#aaaaaa"/>
<circle cx="114.80" cy="594.13" r="1.7" fill="#ceddec"/>
<circle cx="125.30" cy="594.13" r="0.95" fill="#aaaaaa"/>
<circle cx="135.80" cy="594.13" r="0.95" fill="#aaaaaa"/>
<circle cx="146.30" cy="594.13" r="1.35" fill="#aaaaaa"/>
<circle cx="156.80" cy="594.13" r="1.35" fill="#aaaaaa"/>
<circle cx="167.30" cy="594.13" r="0.95" fill="#aaaaaa"/>
<circle cx="177.80" cy="594.13" r="1.35" fill="#aaaaaa"/>
<circle cx="188.30" cy="594.13" r="0.95" fill="#aaaaaa"/>
<circle cx="198.80" cy="594.13" r="1.35" fill="#aaaaaa"/>
<circle cx="209.30" cy="594.13" r="1.35" fill="#aaaaaa"/>
<circle cx="219.80" cy="594.13" r="1.35" fill="#aaaaaa"/>
<circle cx="230.30" cy="594.13" r="0.95" fill="#aaaaaa"/>
<circle cx="62.30" cy="601.72" r="1.35" fill="#aaaaaa"/>
<circle cx="72.80" cy="601.72" r="1.35" fill="#aaaaaa"/>
<circle cx="83.30" cy="601.72" r="1.8" fill="#e9b9b5"/>
<circle cx="93.80" cy="601.72" r="1.7" fill="#ceddec"/>
<circle cx="104.30" cy="601.72" r="1.7" fill="#ceddec"/>
<circle cx="114.80" cy="601.72" r="1.35" fill="#aaaaaa"/>
<circle cx="125.30" cy="601.72" r="1.35" fill="#aaaaaa"/>
<circle cx="135.80" cy="601.72" r="1.7" fill="#ceddec"/>
<circle cx="146.30" cy="601.72" r="0.95" fill="#aaaaaa"/>
<circle cx="156.80" cy="601.72" r="1.35" fill="#aaaaaa"/>
<circle cx="167.30" cy="601.72" r="1.35" fill="#aaaaaa"/>
<circle cx="177.80" cy="601.72" r="1.35" fill="#aaaaaa"/>
<circle cx="188.30" cy="601.72" r="1.35" fill="#aaaaaa"/>
<circle cx="198.80" cy="601.72" r="0.95" fill="#aaaaaa"/>
<circle cx="209.30" cy="601.72" r="1.35" fill="#aaaaaa"/>
<circle cx="219.80" cy="601.72" r="1.35" fill="#aaaaaa"/>
<circle cx="230.30" cy="601.72" r="0.95" fill="#aaaaaa"/>
<circle cx="62.30" cy="609.30" r="1.7" fill="#ceddec"/>
<circle cx="72.80" cy="609.30" r="0.95" fill="#aaaaaa"/>
<circle cx="83.30" cy="609.30" r="1.35" fill="#aaaaaa"/>
<circle cx="93.80" cy="609.30" r="2.85" fill="#d57871"/>
<circle cx="104.30" cy="609.30" r="3.4" fill="#cc5a51"/>
<circle cx="114.80" cy="609.30" r="2.1" fill="#e3a5a0"/>
<circle cx="125.30" cy="609.30" r="2.85" fill="#d57871"/>
<circle cx="135.80" cy="609.30" r="3.4" fill="#cc5a51"/>
<circle cx="146.30" cy="609.30" r="2.45" fill="#dd918b"/>
<circle cx="156.80" cy="609.30" r="3.4" fill="#cc5a51"/>
<circle cx="167.30" cy="609.30" r="2.85" fill="#d57871"/>
<circle cx="177.80" cy="609.30" r="2.45" fill="#dd918b"/>
<circle cx="188.30" cy="609.30" r="3.4" fill="#cc5a51"/>
<circle cx="198.80" cy="609.30" r="0.95" fill="#aaaaaa"/>
<circle cx="209.30" cy="609.30" r="2.1" fill="#e3a5a0"/>
<circle cx="219.80" cy="609.30" r="2.85" fill="#d57871"/>
<circle cx="230.30" cy="609.30" r="0.95" fill="#aaaaaa"/>
<circle cx="62.30" cy="616.88" r="0.95" fill="#aaaaaa"/>
<circle cx="72.80" cy="616.88" r="0.95" fill="#aaaaaa"/>
<circle cx="83.30" cy="616.88" r="0.95" fill="#aaaaaa"/>
<circle cx="93.80" cy="616.88" r="1.35" fill="#aaaaaa"/>
<circle cx="104.30" cy="616.88" r="1.35" fill="#aaaaaa"/>
<circle cx="114.80" cy="616.88" r="1.35" fill="#aaaaaa"/>
<circle cx="125.30" cy="616.88" r="1.35" fill="#aaaaaa"/>
<circle cx="135.80" cy="616.88" r="1.35" fill="#aaaaaa"/>
<circle cx="146.30" cy="616.88" r="0.95" fill="#aaaaaa"/>
<circle cx="156.80" cy="616.88" r="0.95" fill="#aaaaaa"/>
<circle cx="167.30" cy="616.88" r="1.7" fill="#ceddec"/>
<circle cx="177.80" cy="616.88" r="1.35" fill="#aaaaaa"/>
<circle cx="188.30" cy="616.88" r="0.95" fill="#aaaaaa"/>
<circle cx="198.80" cy="616.88" r="0.95" fill="#aaaaaa"/>
<circle cx="209.30" cy="616.88" r="0.95" fill="#aaaaaa"/>
<circle cx="219.80" cy="616.88" r="0.95" fill="#aaaaaa"/>
<circle cx="230.30" cy="616.88" r="0.95" fill="#aaaaaa"/>
<circle cx="62.30" cy="624.47" r="0.95" fill="#aaaaaa"/>
<circle cx="72.80" cy="624.47" r="0.95" fill="#aaaaaa"/>
<circle cx="83.30" cy="624.47" r="0.95" fill="#aaaaaa"/>
<circle cx="93.80" cy="624.47" r="1.35" fill="#aaaaaa"/>
<circle cx="104.30" cy="624.47" r="1.35" fill="#aaaaaa"/>
<circle cx="114.80" cy="624.47" r="1.35" fill="#aaaaaa"/>
<circle cx="125.30" cy="624.47" r="1.35" fill="#aaaaaa"/>
<circle cx="135.80" cy="624.47" r="1.35" fill="#aaaaaa"/>
<circle cx="146.30" cy="624.47" r="0.95" fill="#aaaaaa"/>
<circle cx="156.80" cy="624.47" r="1.35" fill="#aaaaaa"/>
<circle cx="167.30" cy="624.47" r="1.35" fill="#aaaaaa"/>
<circle cx="177.80" cy="624.47" r="0.95" fill="#aaaaaa"/>
<circle cx="188.30" cy="624.47" r="1.35" fill="#aaaaaa"/>
<circle cx="198.80" cy="624.47" r="1.35" fill="#aaaaaa"/>
<circle cx="209.30" cy="624.47" r="0.95" fill="#aaaaaa"/>
<circle cx="219.80" cy="624.47" r="1.35" fill="#aaaaaa"/>
<circle cx="230.30" cy="624.47" r="1.7" fill="#ceddec"/>
<circle cx="62.30" cy="632.05" r="1.35" fill="#aaaaaa"/>
<circle cx="72.80" cy="632.05" r="1.35" fill="#aaaaaa"/>
<circle cx="83.30" cy="632.05" r="1.8" fill="#e9b9b5"/>
<circle cx="93.80" cy="632.05" r="0.95" fill="#aaaaaa"/>
<circle cx="104.30" cy="632.05" r="0.95" fill="#aaaaaa"/>
<circle cx="114.80" cy="632.05" r="0.95" fill="#aaaaaa"/>
<circle cx="125.30" cy="632.05" r="1.35" fill="#aaaaaa"/>
<circle cx="135.80" cy="632.05" r="0.95" fill="#aaaaaa"/>
<circle cx="146.30" cy="632.05" r="1.35" fill="#aaaaaa"/>
<circle cx="156.80" cy="632.05" r="1.35" fill="#aaaaaa"/>
<circle cx="167.30" cy="632.05" r="1.35" fill="#aaaaaa"/>
<circle cx="177.80" cy="632.05" r="1.35" fill="#aaaaaa"/>
<circle cx="188.30" cy="632.05" r="0.95" fill="#aaaaaa"/>
<circle cx="198.80" cy="632.05" r="1.35" fill="#aaaaaa"/>
<circle cx="209.30" cy="632.05" r="1.35" fill="#aaaaaa"/>
<circle cx="219.80" cy="632.05" r="0.95" fill="#aaaaaa"/>
<circle cx="230.30" cy="632.05" r="1.7" fill="#ceddec"/>
<circle cx="62.30" cy="639.64" r="1.5" fill="#4b85bb"/>
<circle cx="72.80" cy="639.64" r="1.5" fill="#4b85bb"/>
<circle cx="83.30" cy="639.64" r="1.5" fill="#4b85bb"/>
<circle cx="93.80" cy="639.64" r="0.95" fill="#aaaaaa"/>
<circle cx="104.30" cy="639.64" r="0.95" fill="#aaaaaa"/>
<circle cx="114.80" cy="639.64" r="0.95" fill="#aaaaaa"/>
<circle cx="125.30" cy="639.64" r="0.95" fill="#aaaaaa"/>
<circle cx="135.80" cy="639.64" r="0.95" fill="#aaaaaa"/>
<circle cx="146.30" cy="639.64" r="1.35" fill="#aaaaaa"/>
<circle cx="156.80" cy="639.64" r="0.95" fill="#aaaaaa"/>
<circle cx="167.30" cy="639.64" r="0.95" fill="#aaaaaa"/>
<circle cx="177.80" cy="639.64" r="1.35" fill="#aaaaaa"/>
<circle cx="188.30" cy="639.64" r="0.95" fill="#aaaaaa"/>
<circle cx="198.80" cy="639.64" r="0.95" fill="#aaaaaa"/>
<circle cx="209.30" cy="639.64" r="1.35" fill="#aaaaaa"/>
<circle cx="219.80" cy="639.64" r="1.35" fill="#aaaaaa"/>
<circle cx="230.30" cy="639.64" r="0.95" fill="#aaaaaa"/>
<circle cx="62.30" cy="647.22" r="2.1" fill="#e3a5a0"/>
<circle cx="72.80" cy="647.22" r="1.8" fill="#e9b9b5"/>
<circle cx="83.30" cy="647.22" r="2.1" fill="#e3a5a0"/>
<circle cx="93.80" cy="647.22" r="1.35" fill="#aaaaaa"/>
<circle cx="104.30" cy="647.22" r="1.35" fill="#aaaaaa"/>
<circle cx="114.80" cy="647.22" r="0.95" fill="#aaaaaa"/>
<circle cx="125.30" cy="647.22" r="1.35" fill="#aaaaaa"/>
<circle cx="135.80" cy="647.22" r="1.35" fill="#aaaaaa"/>
<circle cx="146.30" cy="647.22" r="0.95" fill="#aaaaaa"/>
<circle cx="156.80" cy="647.22" r="0.95" fill="#aaaaaa"/>
<circle cx="167.30" cy="647.22" r="1.35" fill="#aaaaaa"/>
<circle cx="177.80" cy="647.22" r="1.8" fill="#e9b9b5"/>
<circle cx="188.30" cy="647.22" r="1.35" fill="#aaaaaa"/>
<circle cx="198.80" cy="647.22" r="1.35" fill="#aaaaaa"/>
<circle cx="209.30" cy="647.22" r="1.35" fill="#aaaaaa"/>
<circle cx="219.80" cy="647.22" r="0.95" fill="#aaaaaa"/>
<circle cx="230.30" cy="647.22" r="0.95" fill="#aaaaaa"/>
<circle cx="62.30" cy="654.80" r="1.8" fill="#e9b9b5"/>
<circle cx="72.80" cy="654.80" r="1.35" fill="#aaaaaa"/>
<circle cx="83.30" cy="654.80" r="1.8" fill="#e9b9b5"/>
<circle cx="93.80" cy="654.80" r="1.35" fill="#aaaaaa"/>
<circle cx="104.30" cy="654.80" r="1.35" fill="#aaaaaa"/>
<circle cx="114.80" cy="654.80" r="1.35" fill="#aaaaaa"/>
<circle cx="125.30" cy="654.80" r="1.35" fill="#aaaaaa"/>
<circle cx="135.80" cy="654.80" r="1.35" fill="#aaaaaa"/>
<circle cx="146.30" cy="654.80" r="0.95" fill="#aaaaaa"/>
<circle cx="156.80" cy="654.80" r="0.95" fill="#aaaaaa"/>
<circle cx="167.30" cy="654.80" r="1.35" fill="#aaaaaa"/>
<circle cx="177.80" cy="654.80" r="1.35" fill="#aaaaaa"/>
<circle cx="188.30" cy="654.80" r="0.95" fill="#aaaaaa"/>
<circle cx="198.80" cy="654.80" r="1.35" fill="#aaaaaa"/>
<circle cx="209.30" cy="654.80" r="1.35" fill="#aaaaaa"/>
<circle cx="219.80" cy="654.80" r="1.35" fill="#aaaaaa"/>
<circle cx="230.30" cy="654.80" r="0.95" fill="#aaaaaa"/>
<circle cx="62.30" cy="662.39" r="1.8" fill="#e9b9b5"/>
<circle cx="72.80" cy="662.39" r="1.8" fill="#e9b9b5"/>
<circle cx="83.30" cy="662.39" r="2.1" fill="#e3a5a0"/>
<circle cx="93.80" cy="662.39" r="0.95" fill="#aaaaaa"/>
<circle cx="104.30" cy="662.39" r="0.95" fill="#aaaaaa"/>
<circle cx="114.80" cy="662.39" r="1.35" fill="#aaaaaa"/>
<circle cx="125.30" cy="662.39" r="1.35" fill="#aaaaaa"/>
<circle cx="135.80" cy="662.39" r="1.35" fill="#aaaaaa"/>
<circle cx="146.30" cy="662.39" r="1.35" fill="#aaaaaa"/>
<circle cx="156.80" cy="662.39" r="0.95" fill="#aaaaaa"/>
<circle cx="167.30" cy="662.39" r="1.35" fill="#aaaaaa"/>
<circle cx="177.80" cy="662.39" r="1.35" fill="#aaaaaa"/>
<circle cx="188.30" cy="662.39" r="0.95" fill="#aaaaaa"/>
<circle cx="198.80" cy="662.39" r="0.95" fill="#aaaaaa"/>
<circle cx="209.30" cy="662.39" r="2.1" fill="#e3a5a0"/>
<circle cx="219.80" cy="662.39" r="0.95" fill="#aaaaaa"/>
<circle cx="230.30" cy="662.39" r="0.95" fill="#aaaaaa"/>
<circle cx="62.30" cy="669.97" r="0.95" fill="#aaaaaa"/>
<circle cx="72.80" cy="669.97" r="1.35" fill="#aaaaaa"/>
<circle cx="83.30" cy="669.97" r="1.35" fill="#aaaaaa"/>
<circle cx="93.80" cy="669.97" r="0.95" fill="#aaaaaa"/>
<circle cx="104.30" cy="669.97" r="0.95" fill="#aaaaaa"/>
<circle cx="114.80" cy="669.97" r="0.95" fill="#aaaaaa"/>
<circle cx="125.30" cy="669.97" r="0.95" fill="#aaaaaa"/>
<circle cx="135.80" cy="669.97" r="0.95" fill="#aaaaaa"/>
<circle cx="146.30" cy="669.97" r="1.35" fill="#aaaaaa"/>
<circle cx="156.80" cy="669.97" r="0.95" fill="#aaaaaa"/>
<circle cx="167.30" cy="669.97" r="0.95" fill="#aaaaaa"/>
<circle cx="177.80" cy="669.97" r="1.8" fill="#e9b9b5"/>
<circle cx="188.30" cy="669.97" r="0.95" fill="#aaaaaa"/>
<circle cx="198.80" cy="669.97" r="1.35" fill="#aaaaaa"/>
<circle cx="209.30" cy="669.97" r="1.35" fill="#aaaaaa"/>
<circle cx="219.80" cy="669.97" r="0.95" fill="#aaaaaa"/>
<circle cx="230.30" cy="669.97" r="0.95" fill="#aaaaaa"/>
<text x="58.4" y="42.95" font-size="8" text-anchor="end" fill="#c4122e">Selumetinib</text>
<text x="58.4" y="50.53" font-size="8" text-anchor="end" fill="#c4122e">MK-2206</text>
<text x="58.4" y="58.12" font-size="8" text-anchor="end" fill="#c4122e">Rapamycin</text>
<text x="58.4" y="65.70" font-size="8" text-anchor="end" fill="#333">Tanespimycin</text>
<text x="58.4" y="73.29" font-size="8" text-anchor="end" fill="#333">AZD1152-HQPA</text>
<text x="58.4" y="80.87" font-size="8" text-anchor="end" fill="#333">Nilotinib</text>
<text x="58.4" y="88.45" font-size="8" text-anchor="end" fill="#333">Regorafenib</text>
<text x="58.4" y="96.04" font-size="8" text-anchor="end" fill="#333">Dasatinib</text>
<text x="58.4" y="103.62" font-size="8" text-anchor="end" fill="#333">Sorafenib</text>
<text x="58.4" y="111.21" font-size="8" text-anchor="end" fill="#333">Motesanib</text>
<text x="58.4" y="118.79" font-size="8" text-anchor="end" fill="#333">Cediranib</text>
<text x="58.4" y="126.37" font-size="8" text-anchor="end" fill="#333">Trametinib</text>
<text x="58.4" y="133.96" font-size="8" text-anchor="end" fill="#333">Idelalisib</text>
<text x="58.4" y="141.54" font-size="8" text-anchor="end" fill="#333">LY-333531</text>
<text x="58.4" y="149.13" font-size="8" text-anchor="end" fill="#333">Linifanib</text>
<text x="58.4" y="156.71" font-size="8" text-anchor="end" fill="#333">Dovitinib</text>
<text x="58.4" y="164.29" font-size="8" text-anchor="end" fill="#333">SNS-032.</text>
<text x="58.4" y="171.88" font-size="8" text-anchor="end" fill="#333">AT7519</text>
<text x="58.4" y="179.46" font-size="8" text-anchor="end" fill="#333">Cabozantinib</text>
<text x="58.4" y="187.05" font-size="8" text-anchor="end" fill="#333">Axitinib</text>
<text x="58.4" y="194.63" font-size="8" text-anchor="end" fill="#333">GDC-0941</text>
<text x="58.4" y="202.21" font-size="8" text-anchor="end" fill="#333">Flavopiridol</text>
<text x="58.4" y="209.80" font-size="8" text-anchor="end" fill="#333">Foretinib</text>
<text x="58.4" y="217.38" font-size="8" text-anchor="end" fill="#333">Sunitinib</text>
<text x="58.4" y="224.97" font-size="8" text-anchor="end" fill="#333">PRT062607</text>
<text x="58.4" y="232.55" font-size="8" text-anchor="end" fill="#333">NF-kB-Inhibitor</text>
<text x="58.4" y="240.13" font-size="8" text-anchor="end" fill="#333">Bortezomib</text>
<text x="58.4" y="247.72" font-size="8" text-anchor="end" fill="#333">Ibrutinib</text>
<text x="58.4" y="255.30" font-size="8" text-anchor="end" fill="#333">INK-128</text>
<text x="58.4" y="262.89" font-size="8" text-anchor="end" fill="#333">Ponatinib</text>
<text x="58.4" y="270.47" font-size="8" text-anchor="end" fill="#333">Canertinib</text>
<text x="58.4" y="278.05" font-size="8" text-anchor="end" fill="#333">Vandetanib</text>
<text x="58.4" y="285.64" font-size="8" text-anchor="end" fill="#333">KW-2449</text>
<text x="58.4" y="293.22" font-size="8" text-anchor="end" fill="#333">Tozasertib</text>
<text x="58.4" y="300.81" font-size="8" text-anchor="end" fill="#333">MGCD-265</text>
<text x="58.4" y="308.39" font-size="8" text-anchor="end" fill="#333">SU11274</text>
<text x="58.4" y="315.97" font-size="8" text-anchor="end" fill="#333">CI-1040</text>
<text x="58.4" y="323.56" font-size="8" text-anchor="end" fill="#333">YM-155</text>
<text x="58.4" y="331.14" font-size="8" text-anchor="end" fill="#333">Quizartinib</text>
<text x="58.4" y="338.73" font-size="8" text-anchor="end" fill="#333">RAF265</text>
<text x="58.4" y="346.31" font-size="8" text-anchor="end" fill="#333">AKT-Inhibitor-IV</text>
<text x="58.4" y="353.89" font-size="8" text-anchor="end" fill="#333">Crenolanib</text>
<text x="58.4" y="361.48" font-size="8" text-anchor="end" fill="#333">Erlotinib</text>
<text x="58.4" y="369.06" font-size="8" text-anchor="end" fill="#333">GW-2580</text>
<text x="58.4" y="376.65" font-size="8" text-anchor="end" fill="#333">PP242</text>
<text x="58.4" y="384.23" font-size="8" text-anchor="end" fill="#333">NVP-TAE684</text>
<text x="58.4" y="391.81" font-size="8" text-anchor="end" fill="#333">MLN8054</text>
<text x="58.4" y="399.40" font-size="8" text-anchor="end" fill="#333">Vatalanib</text>
<text x="58.4" y="406.98" font-size="8" text-anchor="end" fill="#333">JNJ-28312141</text>
<text x="58.4" y="414.57" font-size="8" text-anchor="end" fill="#333">KU-55933</text>
<text x="58.4" y="422.15" font-size="8" text-anchor="end" fill="#333">KI20227</text>
<text x="58.4" y="429.73" font-size="8" text-anchor="end" fill="#333">Tivozanib</text>
<text x="58.4" y="437.32" font-size="8" text-anchor="end" fill="#333">Tofacitinib</text>
<text x="58.4" y="444.90" font-size="8" text-anchor="end" fill="#333">PHT-427</text>
<text x="58.4" y="452.49" font-size="8" text-anchor="end" fill="#333">Gefitinib</text>
<text x="58.4" y="460.07" font-size="8" text-anchor="end" fill="#333">PHA-665752</text>
<text x="58.4" y="467.65" font-size="8" text-anchor="end" fill="#333">Vismodegib</text>
<text x="58.4" y="475.24" font-size="8" text-anchor="end" fill="#333">Saracatinib</text>
<text x="58.4" y="482.82" font-size="8" text-anchor="end" fill="#333">VX-745</text>
<text x="58.4" y="490.41" font-size="8" text-anchor="end" fill="#333">TG100-115</text>
<text x="58.4" y="497.99" font-size="8" text-anchor="end" fill="#333">GSK690693</text>
<text x="58.4" y="505.57" font-size="8" text-anchor="end" fill="#333">PI-103</text>
<text x="58.4" y="513.16" font-size="8" text-anchor="end" fill="#333">BEZ235</text>
<text x="58.4" y="520.74" font-size="8" text-anchor="end" fill="#333">Vargetef</text>
<text x="58.4" y="528.33" font-size="8" text-anchor="end" fill="#333">Midostaurin</text>
<text x="58.4" y="535.91" font-size="8" text-anchor="end" fill="#333">GSK-1838705A</text>
<text x="58.4" y="543.49" font-size="8" text-anchor="end" fill="#333">Crizotinib</text>
<text x="58.4" y="551.08" font-size="8" text-anchor="end" fill="#333">PLX-4720</text>
<text x="58.4" y="558.66" font-size="8" text-anchor="end" fill="#333">A-674563</text>
<text x="58.4" y="566.25" font-size="8" text-anchor="end" fill="#333">LY294002</text>
<text x="58.4" y="573.83" font-size="8" text-anchor="end" fill="#333">Pazopanib</text>
<text x="58.4" y="581.41" font-size="8" text-anchor="end" fill="#333">AMPK-Inhibitor</text>
<text x="58.4" y="589.00" font-size="8" text-anchor="end" fill="#333">Alisertib</text>
<text x="58.4" y="596.58" font-size="8" text-anchor="end" fill="#333">JNJ-38877605</text>
<text x="58.4" y="604.17" font-size="8" text-anchor="end" fill="#333">Lapatinib</text>
<text x="58.4" y="611.75" font-size="8" text-anchor="end" fill="#333">Elesclomol</text>
<text x="58.4" y="619.33" font-size="8" text-anchor="end" fill="#333">GSK-1904529A</text>
<text x="58.4" y="626.92" font-size="8" text-anchor="end" fill="#333">SB-431542</text>
<text x="58.4" y="634.50" font-size="8" text-anchor="end" fill="#333">Afatinib</text>
<text x="58.4" y="642.09" font-size="8" text-anchor="end" fill="#333">TG101348</text>
<text x="58.4" y="649.67" font-size="8" text-anchor="end" fill="#333">NVP-ADW742</text>
<text x="58.4" y="657.25" font-size="8" text-anchor="end" fill="#333">Roscovitine</text>
<text x="58.4" y="664.84" font-size="8" text-anchor="end" fill="#333">Neratinib</text>
<text x="58.4" y="672.42" font-size="8" text-anchor="end" fill="#333">S31-201</text>
<text transform="translate(61.30,12.9) rotate(90)" font-size="9.5" fill="#c4122e">P−15</text>
<text transform="translate(71.80,12.9) rotate(90)" font-size="9.5" fill="#333">P−1</text>
<text transform="translate(82.30,12.9) rotate(90)" font-size="9.5" fill="#333">P−14</text>
<text transform="translate(92.80,12.9) rotate(90)" font-size="9.5" fill="#333">P−4</text>
<text transform="translate(103.30,12.9) rotate(90)" font-size="9.5" fill="#333">P−2</text>
<text transform="translate(113.80,12.9) rotate(90)" font-size="9.5" fill="#333">P−13</text>
<text transform="translate(124.30,12.9) rotate(90)" font-size="9.5" fill="#333">P−3</text>
<text transform="translate(134.80,12.9) rotate(90)" font-size="9.5" fill="#333">P−10</text>
<text transform="translate(145.30,12.9) rotate(90)" font-size="9.5" fill="#333">P−11</text>
<text transform="translate(155.80,12.9) rotate(90)" font-size="9.5" fill="#333">P−5</text>
<text transform="translate(166.30,12.9) rotate(90)" font-size="9.5" fill="#333">P−0</text>
<text transform="translate(176.80,12.9) rotate(90)" font-size="9.5" fill="#333">P−12</text>
<text transform="translate(187.30,12.9) rotate(90)" font-size="9.5" fill="#333">P−6</text>
<text transform="translate(197.80,12.9) rotate(90)" font-size="9.5" fill="#333">P−8</text>
<text transform="translate(208.30,12.9) rotate(90)" font-size="9.5" fill="#333">P−7</text>
<text transform="translate(218.80,12.9) rotate(90)" font-size="9.5" fill="#333">P−9</text>
<text transform="translate(229.30,12.9) rotate(90)" font-size="9.5" fill="#333">P−16</text>
<text x="119.3" y="7.9" font-size="9.6" fill="#111">Gene Program</text>
<text x="14.5" y="11" font-size="13" fill="#111">A</text>
<rect x="14.5" y="35.5" width="53.6" height="24" fill="none" stroke="#c8102e" stroke-width="1.25" stroke-dasharray="1.2,0.9"/>
<text x="12.2" y="690.9" font-size="10.5" fill="#111">Correlation</text>
<defs><linearGradient id="cg" x1="0" x2="1" y1="0" y2="0"><stop offset="0" stop-color="#c6483e"/><stop offset="0.463" stop-color="#ffffff"/><stop offset="1" stop-color="#407db7"/></linearGradient></defs>
<rect x="13.5" y="707.5" width="101.7" height="20.3" fill="url(#cg)"/>
<line x1="34.9" y1="707.5" x2="34.9" y2="711.5" stroke="#fff" stroke-width="0.5"/>
<line x1="34.9" y1="723.8" x2="34.9" y2="727.8" stroke="#fff" stroke-width="0.5"/>
<line x1="60.6" y1="707.5" x2="60.6" y2="711.5" stroke="#fff" stroke-width="0.5"/>
<line x1="60.6" y1="723.8" x2="60.6" y2="727.8" stroke="#fff" stroke-width="0.5"/>
<line x1="86.3" y1="707.5" x2="86.3" y2="711.5" stroke="#fff" stroke-width="0.5"/>
<line x1="86.3" y1="723.8" x2="86.3" y2="727.8" stroke="#fff" stroke-width="0.5"/>
<line x1="112" y1="707.5" x2="112" y2="711.5" stroke="#fff" stroke-width="0.5"/>
<line x1="112" y1="723.8" x2="112" y2="727.8" stroke="#fff" stroke-width="0.5"/>
<text x="34.9" y="704.6" font-size="10" text-anchor="middle" fill="#111">0.2</text>
<text x="60.6" y="704.6" font-size="10" text-anchor="middle" fill="#111">0.0</text>
<text x="86.3" y="704.6" font-size="10" text-anchor="middle" fill="#111">−0.2</text>
<text x="112" y="704.6" font-size="10" text-anchor="middle" fill="#111">−0.4</text>
<text x="186.3" y="691.4" font-size="10.8" text-anchor="middle" fill="#111">−log10(P.adjusted)</text>
<text x="141.8" y="712.8" font-size="10" text-anchor="middle" fill="#111">2.5</text>
<circle cx="141.8" cy="722.9" r="4.9" fill="#b3b3b3"/>
<text x="163.3" y="712.8" font-size="10" text-anchor="middle" fill="#111">5</text>
<circle cx="163.3" cy="722.9" r="6.3" fill="#b3b3b3"/>
<text x="184.9" y="712.8" font-size="10" text-anchor="middle" fill="#111">7.5</text>
<circle cx="184.9" cy="722.9" r="7.5" fill="#b3b3b3"/>
<text x="208" y="712.8" font-size="10" text-anchor="middle" fill="#111">10</text>
<circle cx="208" cy="722.9" r="8.3" fill="#b3b3b3"/>
<text x="231.8" y="712.8" font-size="10" text-anchor="middle" fill="#111">12.5</text>
<circle cx="231.8" cy="722.9" r="9.1" fill="#b3b3b3"/>
<path d="M363.6 53.4h0M318.6 42.5h0M373.5 69.9h0M342.0 63.1h0M339.7 76.2h0M345.3 66.5h0M303.2 55.9h0M345.6 42.4h0M323.6 42.7h0M343.3 46.9h0M341.0 56.7h0M319.2 61.4h0M375.3 80.3h0M328.5 41.8h0M313.8 42.3h0M312.1 70.7h0M319.4 51.4h0M343.2 42.4h0M316.8 59.6h0M329.1 41.9h0M325.1 56.2h0M346.8 62.9h0M364.4 76.0h0M351.4 43.5h0M344.6 90.3h0M344.1 42.1h0M328.9 50.8h0M343.6 63.1h0M357.0 110.7h0M349.3 90.2h0M336.7 55.7h0M331.7 62.8h0M326.1 51.8h0M318.9 57.6h0M338.0 58.3h0M351.8 41.9h0M350.9 105.0h0M355.6 96.2h0M344.7 62.7h0M341.9 51.0h0M338.3 52.9h0M331.8 58.9h0M337.4 83.0h0M338.2 59.0h0M332.3 50.1h0M358.2 85.3h0M317.3 74.5h0M351.3 64.9h0M356.0 48.5h0M371.7 82.5h0M346.0 42.1h0M331.5 42.3h0M375.7 87.5h0M351.1 81.0h0M341.2 84.2h0M376.5 76.4h0M360.1 122.0h0M358.0 53.7h0M330.6 42.0h0M331.7 50.7h0M334.7 74.1h0M326.3 42.6h0M346.4 45.2h0M345.0 82.9h0M327.1 91.8h0M322.4 42.2h0M354.2 69.2h0M350.8 59.2h0M348.4 41.9h0M331.5 41.8h0M308.5 78.4h0M356.0 47.6h0M348.3 62.7h0M349.4 105.7h0M319.8 76.2h0M331.0 63.0h0M338.1 41.8h0M328.7 50.4h0M343.1 65.3h0M348.9 59.2h0M354.0 63.6h0M334.5 52.8h0M343.4 41.8h0M309.5 42.3h0M341.5 42.0h0M344.3 62.0h0M335.4 42.3h0M376.4 59.9h0M349.9 67.7h0M307.0 86.0h0M332.5 87.1h0M327.9 59.6h0M353.8 58.8h0M318.6 41.8h0M330.7 44.1h0M328.5 42.3h0M331.2 42.1h0M342.0 57.2h0M361.1 58.9h0M363.2 58.0h0M347.0 89.1h0M353.2 45.8h0M378.4 54.6h0M349.9 124.4h0M338.5 50.4h0M354.2 76.7h0M365.2 60.8h0M354.1 113.1h0M341.3 95.1h0M332.8 51.8h0M335.5 73.1h0M371.8 85.6h0M310.0 56.9h0M329.7 43.3h0M366.0 68.7h0M336.4 62.3h0M347.5 55.7h0M350.0 85.2h0M332.5 67.4h0M322.3 56.6h0M318.0 42.4h0M322.6 51.3h0M323.4 41.8h0M338.0 42.5h0M307.3 47.8h0M345.4 108.9h0M330.3 96.1h0M333.6 91.9h0M364.2 109.7h0M332.4 62.9h0M346.3 42.6h0M330.7 88.0h0M331.8 57.9h0M388.0 68.8h0M332.7 69.6h0M350.8 69.1h0M355.4 95.5h0M305.7 42.3h0M347.7 86.8h0M337.9 49.4h0M350.1 68.5h0M334.8 52.1h0M342.2 42.4h0M338.6 58.3h0M316.6 74.9h0M337.3 42.1h0M341.7 41.9h0M362.8 76.6h0M359.7 100.3h0M331.6 44.4h0M344.9 73.5h0M299.9 56.8h0M350.9 68.1h0M328.8 63.5h0M329.0 42.2h0M328.2 49.0h0M347.2 97.0h0M332.0 74.0h0M355.5 68.0h0M365.3 101.4h0M360.6 72.9h0M318.4 42.3h0M353.2 42.3h0M358.6 69.5h0M314.1 42.0h0M364.4 94.8h0M341.2 92.9h0M330.0 72.2h0M315.4 87.2h0M358.3 100.8h0M329.5 68.1h0M332.9 100.6h0M360.3 45.3h0M314.0 50.2h0M326.7 42.2h0M366.3 85.0h0M333.2 85.3h0M351.1 42.5h0M351.9 90.1h0M314.3 50.6h0M326.6 82.7h0M339.0 42.1h0M355.9 48.5h0M367.7 82.2h0M377.4 70.3h0M334.6 41.9h0M350.6 41.7h0M306.8 42.1h0M340.3 42.5h0M338.5 80.4h0M343.5 42.3h0M355.2 54.5h0M350.7 57.7h0M312.9 73.9h0M367.6 67.0h0M364.6 79.7h0M346.3 73.3h0M356.0 56.1h0M334.5 48.6h0M349.9 87.9h0M348.2 42.1h0M387.7 122.7h0M351.7 108.2h0M325.3 42.2h0M362.6 97.4h0M344.4 64.9h0M338.9 66.7h0M354.8 50.1h0M345.6 66.8h0M344.6 68.5h0M347.3 57.9h0M323.7 80.4h0M356.0 95.5h0M311.5 89.4h0M342.1 54.0h0M328.7 66.1h0M322.8 62.1h0M331.3 41.8h0M319.7 41.9h0M336.8 95.4h0M351.4 68.3h0M362.0 105.9h0M367.9 52.6h0M308.4 42.1h0M333.6 53.5h0M332.7 101.2h0M334.6 59.5h0M345.7 60.5h0M340.3 79.9h0M350.3 104.3h0M336.0 42.1h0M334.5 41.8h0M335.0 63.5h0M294.2 41.9h0M335.6 84.6h0M348.8 81.0h0M327.8 42.3h0M337.4 62.4h0M333.3 73.0h0M332.9 42.2h0M332.4 59.0h0M335.0 41.7h0M304.8 41.8h0M357.3 115.4h0M344.8 74.3h0M294.9 69.9h0M333.7 92.6h0M364.6 84.2h0M295.8 42.4h0M357.2 42.2h0M350.9 73.9h0M341.1 68.3h0M329.1 60.2h0M340.1 42.5h0M371.4 57.3h0M357.4 59.8h0M338.5 77.4h0M314.3 73.5h0M319.3 41.8h0M350.0 99.6h0M354.9 68.3h0M341.3 99.2h0M324.7 51.3h0M348.3 92.9h0M353.0 86.8h0M334.0 42.5h0M330.4 41.7h0M320.7 58.8h0M321.0 55.7h0M358.4 76.4h0M336.8 42.1h0M297.8 58.5h0M306.2 97.9h0M327.0 62.8h0M375.0 96.3h0M372.8 106.9h0M327.8 42.3h0M341.8 86.9h0M333.8 54.6h0M339.1 58.1h0M339.7 42.3h0M354.9 68.4h0M340.2 94.6h0M345.2 88.4h0M296.9 42.5h0M372.1 49.0h0M300.5 42.0h0M345.6 71.7h0M363.2 73.0h0M318.6 42.5h0M325.2 60.9h0M351.6 54.7h0M312.1 41.9h0M338.7 68.5h0M335.0 74.3h0M348.8 71.3h0M355.0 54.7h0M348.1 41.8h0M355.8 69.5h0M358.6 86.9h0M342.8 82.1h0M388.0 81.0h0M381.6 107.5h0M324.3 58.9h0M348.5 78.3h0M337.1 81.2h0M349.2 41.8h0M319.2 56.6h0M330.1 46.6h0M340.6 45.8h0M326.8 50.4h0M356.4 45.5h0M330.0 41.9h0M353.3 79.4h0M337.6 49.4h0M341.6 52.0h0M335.5 85.7h0M343.5 47.9h0M355.1 83.6h0M356.2 66.4h0M352.3 58.8h0M357.2 71.2h0M338.2 60.4h0M350.1 52.8h0M339.8 66.4h0M340.6 71.2h0M341.2 54.3h0M352.8 50.0h0M333.8 70.2h0M338.9 41.8h0M323.6 41.9h0M315.0 75.9h0M331.7 84.3h0M322.6 62.9h0M361.1 89.8h0M360.9 62.3h0M345.8 42.4h0M339.1 42.2h0M354.9 55.1h0M321.5 59.1h0M337.6 92.6h0M332.7 41.8h0M363.7 41.9h0M323.8 41.9h0M328.5 42.1h0M338.8 42.1h0M383.5 79.5h0M331.6 73.4h0M355.8 85.0h0M327.5 67.9h0M322.5 42.2h0M367.5 66.3h0M349.8 62.8h0M326.0 54.8h0M378.7 84.9h0M351.9 105.3h0M346.4 79.1h0M335.7 48.4h0M354.6 77.6h0M327.8 41.9h0M358.8 62.0h0M333.4 42.0h0M328.3 75.0h0M325.3 94.6h0M329.7 75.5h0M330.6 114.2h0M355.1 81.3h0M354.1 42.3h0M366.1 79.8h0M323.4 46.4h0M345.8 98.6h0M322.2 41.8h0M347.0 74.8h0M344.9 59.9h0M353.6 41.9h0M339.5 48.0h0M360.7 118.5h0M322.8 41.8h0M325.5 58.7h0M357.8 124.4h0M333.8 74.8h0M348.1 115.8h0M352.0 42.2h0M352.8 116.8h0M333.9 89.9h0M329.5 59.3h0M359.7 48.9h0M319.4 62.1h0M354.2 70.0h0M355.9 73.9h0M322.3 42.0h0M333.2 42.2h0M333.0 50.6h0M333.2 47.8h0M335.7 48.8h0M358.4 101.7h0M340.1 80.6h0M341.4 42.2h0M347.2 54.9h0M351.9 42.4h0M311.0 42.1h0M333.2 48.1h0M368.1 56.6h0M341.5 83.1h0M334.4 64.2h0M353.1 59.8h0M336.3 42.3h0M348.2 78.2h0M329.8 41.9h0M346.7 41.9h0M322.4 68.7h0M341.7 53.9h0M329.5 42.0h0M368.3 48.6h0M342.2 46.7h0M368.4 42.3h0M349.9 71.1h0M341.8 59.7h0M350.5 42.2h0M331.8 68.0h0M323.8 96.6h0M369.1 120.8h0M330.0 47.4h0M346.2 74.0h0M337.0 57.3h0M351.2 90.9h0M348.2 70.1h0M358.9 64.0h0M363.8 80.5h0M321.4 53.1h0M319.8 41.9h0M375.6 59.5h0M347.2 76.2h0M353.4 77.4h0M290.3 42.3h0M372.0 78.3h0M331.6 74.1h0M303.1 41.8h0M324.2 49.5h0M337.9 48.2h0M350.0 80.0h0M348.6 102.1h0M371.8 76.8h0M358.6 51.0h0M354.4 79.4h0M319.0 60.2h0M318.0 46.8h0M323.1 43.7h0M351.9 66.3h0M349.9 42.5h0M333.6 41.7h0M355.7 92.8h0M363.9 60.4h0M337.5 42.1h0M337.0 65.1h0M354.1 74.5h0" stroke="#a3243a" stroke-opacity="0.75" stroke-width="1.9" stroke-linecap="round" fill="none"/>
<line x1="289.1" y1="47.4" x2="388.1" y2="89.5" stroke="#c0202e" stroke-width="1.1"/>
<rect x="284.4" y="17.6" width="109.00" height="112.40" fill="none" stroke="#4d4d4d" stroke-width="0.9"/>
<line x1="282.2" y1="125.00" x2="284.4" y2="125.00" stroke="#4d4d4d" stroke-width="0.8"/>
<text x="281.59999999999997" y="128.30" font-size="9.3" text-anchor="end" fill="#1a1a1a">0</text>
<line x1="282.2" y1="95.93" x2="284.4" y2="95.93" stroke="#4d4d4d" stroke-width="0.8"/>
<text x="281.59999999999997" y="99.23" font-size="9.3" text-anchor="end" fill="#1a1a1a">100</text>
<line x1="282.2" y1="66.87" x2="284.4" y2="66.87" stroke="#4d4d4d" stroke-width="0.8"/>
<text x="281.59999999999997" y="70.17" font-size="9.3" text-anchor="end" fill="#1a1a1a">200</text>
<line x1="282.2" y1="37.80" x2="284.4" y2="37.80" stroke="#4d4d4d" stroke-width="0.8"/>
<text x="281.59999999999997" y="41.10" font-size="9.3" text-anchor="end" fill="#1a1a1a">300</text>
<line x1="287.60" y1="130.0" x2="287.60" y2="132.2" stroke="#4d4d4d" stroke-width="0.8"/>
<text x="287.60" y="141.0" font-size="9.3" text-anchor="middle" fill="#1a1a1a">5.4</text>
<line x1="308.08" y1="130.0" x2="308.08" y2="132.2" stroke="#4d4d4d" stroke-width="0.8"/>
<text x="308.08" y="141.0" font-size="9.3" text-anchor="middle" fill="#1a1a1a">5.6</text>
<line x1="328.56" y1="130.0" x2="328.56" y2="132.2" stroke="#4d4d4d" stroke-width="0.8"/>
<text x="328.56" y="141.0" font-size="9.3" text-anchor="middle" fill="#1a1a1a">5.8</text>
<line x1="349.04" y1="130.0" x2="349.04" y2="132.2" stroke="#4d4d4d" stroke-width="0.8"/>
<text x="349.04" y="141.0" font-size="9.3" text-anchor="middle" fill="#1a1a1a">6.0</text>
<line x1="369.52" y1="130.0" x2="369.52" y2="132.2" stroke="#4d4d4d" stroke-width="0.8"/>
<text x="369.52" y="141.0" font-size="9.3" text-anchor="middle" fill="#1a1a1a">6.2</text>
<line x1="390.00" y1="130.0" x2="390.00" y2="132.2" stroke="#4d4d4d" stroke-width="0.8"/>
<text x="390.00" y="141.0" font-size="9.3" text-anchor="middle" fill="#1a1a1a">6.4</text>
<text x="338.2" y="157.2" font-size="9.4" text-anchor="middle" fill="#1a1a1a">Myeloid Program</text>
<text x="339.0" y="14.6" font-size="9.7" text-anchor="middle" fill="#1a1a1a">Selumetinib</text>
<text x="286.79999999999995" y="27" font-size="8.4" font-style="italic" fill="#1a1a1a">r = −0.37, p = 2.22e−16,</text>
<text x="286.79999999999995" y="36.6" font-size="8.4" font-style="italic" fill="#1a1a1a">n = 456</text>
<text x="252.0" y="10.4" font-size="13.5" fill="#111">B</text>
<path d="M524.6 93.9h0M512.8 49.9h0M478.4 71.7h0M468.1 67.9h0M470.2 40.2h0M526.3 81.3h0M472.9 45.2h0M503.8 63.2h0M459.6 37.4h0M485.7 53.0h0M498.5 43.8h0M480.5 68.5h0M493.3 98.3h0M487.8 100.0h0M527.9 87.4h0M486.1 95.1h0M466.3 53.0h0M453.8 41.5h0M512.0 105.4h0M451.1 61.4h0M473.6 50.3h0M482.3 69.6h0M481.2 37.1h0M480.0 81.6h0M472.4 76.3h0M490.6 37.4h0M513.0 52.9h0M494.5 71.0h0M508.1 57.7h0M490.4 37.5h0M493.0 75.8h0M498.2 81.3h0M501.0 61.8h0M482.1 64.8h0M512.1 66.1h0M484.3 37.8h0M479.5 76.2h0M495.0 63.8h0M472.5 37.8h0M483.2 51.8h0M488.1 97.3h0M486.6 104.8h0M473.6 48.9h0M482.3 46.4h0M491.6 69.8h0M469.6 37.1h0M484.1 37.9h0M476.8 58.0h0M495.1 60.2h0M472.2 71.7h0M531.1 112.1h0M473.4 45.6h0M464.0 76.0h0M484.7 37.9h0M502.1 61.5h0M483.4 73.9h0M490.4 45.3h0M466.8 51.5h0M478.1 66.6h0M511.7 80.4h0M463.4 48.5h0M467.6 37.9h0M490.6 81.6h0M505.6 83.7h0M501.5 68.7h0M482.3 66.2h0M498.9 94.2h0M469.0 42.1h0M491.2 37.7h0M458.1 37.2h0M493.1 37.5h0M485.8 81.4h0M490.3 54.0h0M458.5 89.3h0M509.7 65.5h0M482.1 83.1h0M456.5 37.5h0M444.1 37.1h0M492.6 78.4h0M472.4 49.9h0M469.2 96.3h0M488.5 69.1h0M494.8 63.1h0M491.9 57.3h0M509.5 73.0h0M481.9 40.0h0M477.8 76.6h0M501.3 47.6h0M485.7 68.5h0M482.6 73.9h0M460.1 37.0h0M489.9 89.9h0M481.6 53.9h0M493.2 71.9h0M468.4 46.4h0M509.5 84.7h0M500.0 70.5h0M470.0 82.8h0M489.0 37.3h0M508.9 75.0h0M459.6 37.3h0M486.7 62.5h0M482.5 87.8h0M491.2 68.1h0M486.6 74.0h0M476.0 60.8h0M500.3 41.5h0M484.9 37.8h0M491.8 63.2h0M453.6 37.2h0M460.4 41.5h0M483.3 37.9h0M485.7 72.4h0M489.0 82.9h0M493.2 107.1h0M494.0 43.0h0M484.7 54.4h0M501.1 70.8h0M472.0 37.7h0M474.0 73.4h0M491.1 65.7h0M477.3 37.3h0M460.3 37.4h0M469.4 37.2h0M475.5 67.1h0M473.7 47.3h0M493.3 65.1h0M473.8 37.9h0M475.6 49.1h0M476.1 37.5h0M460.7 86.1h0M495.4 53.2h0M478.4 74.5h0M488.8 76.0h0M474.0 69.4h0M466.6 37.5h0M470.4 102.6h0M485.6 104.9h0M486.4 123.0h0M467.5 72.6h0M477.2 44.8h0M473.8 37.8h0M493.9 65.4h0M476.0 37.1h0M486.7 83.4h0M488.0 37.7h0M479.2 64.8h0M492.1 66.1h0M489.0 42.9h0M485.4 37.7h0M473.7 65.3h0M486.1 66.5h0M495.9 83.3h0M499.1 44.2h0M470.3 37.6h0M502.1 67.1h0M474.7 66.1h0M467.2 66.1h0M531.1 88.6h0M468.8 42.5h0M493.1 58.8h0M512.7 37.9h0M475.1 37.8h0M479.3 43.2h0M481.8 65.0h0M482.2 62.3h0M486.4 37.8h0M479.5 54.9h0M512.5 93.3h0M471.2 93.6h0M476.5 52.6h0M494.4 52.6h0M488.9 37.7h0M508.3 109.0h0M448.1 40.6h0M509.8 44.4h0M489.4 38.2h0M469.3 39.2h0M494.4 103.2h0M471.9 47.6h0M497.4 65.7h0M477.7 86.1h0M474.7 57.3h0M464.3 62.9h0M484.1 93.4h0M512.9 60.6h0M497.0 90.9h0M488.1 48.9h0M475.0 56.6h0M520.9 83.5h0M482.4 41.0h0M481.3 73.6h0M469.7 59.7h0M482.0 81.3h0M504.2 42.8h0M495.2 71.7h0M469.2 54.9h0M495.4 70.3h0M475.1 90.7h0M470.6 44.1h0M485.1 42.7h0M492.1 37.7h0M496.3 37.7h0M467.0 70.9h0M479.5 72.9h0M492.7 78.5h0M493.0 73.2h0M480.0 38.9h0M475.5 37.2h0M507.3 66.0h0M498.8 39.3h0M505.9 56.5h0M473.4 73.1h0M493.7 69.0h0M522.7 89.2h0M475.6 98.1h0M479.4 81.8h0M486.8 50.6h0M500.5 41.2h0M444.5 37.5h0M476.9 42.4h0M455.2 50.7h0M509.0 82.0h0M480.9 78.2h0M501.5 50.0h0M489.9 90.3h0M484.2 73.7h0M476.7 51.7h0M476.3 37.3h0M492.7 65.6h0M506.7 51.3h0M494.6 47.3h0M445.7 37.6h0M505.6 83.4h0M488.8 81.3h0M465.5 79.1h0M441.7 38.5h0M468.2 37.3h0M511.9 72.1h0M503.9 54.3h0M469.3 40.0h0M488.0 53.3h0M516.1 83.2h0M475.3 37.7h0M493.8 110.2h0M492.2 67.6h0M496.5 56.8h0M502.5 66.0h0M480.7 37.5h0M468.6 53.2h0M497.8 47.0h0M453.9 37.5h0M468.7 40.0h0M492.7 93.7h0M478.1 60.9h0M511.3 66.3h0M471.3 73.5h0M467.9 39.5h0M484.0 41.0h0M515.1 86.2h0M499.4 61.9h0M506.2 73.9h0M480.5 71.5h0M463.9 37.3h0M466.0 57.6h0M512.2 83.6h0M449.6 40.8h0M461.2 93.3h0M466.3 66.6h0M528.1 94.3h0M464.1 73.1h0M465.9 37.8h0M473.0 80.3h0M435.6 37.6h0M503.9 83.6h0M467.7 81.0h0M473.5 81.9h0M503.3 60.9h0M500.3 73.6h0M484.3 71.8h0M482.3 47.8h0M454.7 37.9h0M489.5 59.4h0M484.2 64.6h0M450.0 37.1h0M471.3 73.8h0M477.7 63.0h0M495.9 89.8h0M472.2 46.9h0M474.2 59.7h0M495.9 65.2h0M495.5 97.6h0M474.8 61.2h0M468.3 63.4h0M469.7 37.8h0M493.7 37.2h0M463.2 73.4h0M491.9 37.9h0M487.4 74.1h0M460.1 37.1h0M478.0 37.8h0M495.5 67.0h0M498.7 82.6h0M494.1 57.5h0M512.5 53.2h0M489.6 78.3h0M494.2 72.7h0M501.1 44.3h0M486.9 52.5h0M487.4 72.1h0M467.9 71.1h0M465.4 83.1h0M489.0 62.5h0M508.4 45.8h0M525.4 108.9h0M473.7 65.9h0M484.2 72.5h0M488.5 59.0h0M479.0 99.8h0M503.3 38.6h0M476.9 77.3h0M507.0 56.6h0M508.7 41.8h0M466.0 37.7h0M453.9 60.7h0M518.1 46.7h0M487.6 75.6h0M494.5 54.7h0M464.6 37.6h0M507.1 84.6h0M502.1 52.9h0M472.8 37.7h0M483.0 37.9h0M498.9 97.0h0M473.1 79.0h0M471.3 55.1h0M486.8 37.8h0M487.1 37.7h0M459.8 59.4h0M471.1 57.5h0M512.5 37.8h0M490.0 51.5h0M483.6 55.7h0M473.6 92.5h0M515.2 73.2h0M481.6 43.6h0M484.1 39.5h0M454.9 46.5h0M468.7 37.2h0M495.7 64.7h0M479.3 37.4h0M482.6 48.4h0M516.8 95.8h0M512.4 48.5h0M461.9 39.4h0M491.4 37.0h0M444.5 37.5h0M493.2 70.7h0M489.0 71.6h0M483.3 91.7h0M486.5 65.2h0M502.3 84.3h0M512.4 72.8h0M516.5 107.3h0M494.3 87.1h0M483.1 38.9h0M473.0 67.5h0M513.2 59.8h0M479.2 37.3h0M474.9 49.4h0M455.0 37.3h0M489.2 64.9h0M475.0 44.2h0M481.6 67.3h0M478.3 37.2h0M457.7 37.4h0M501.2 63.3h0M469.1 81.3h0M519.4 94.3h0M478.8 60.2h0M492.8 37.2h0M488.6 63.4h0M485.3 53.4h0M517.8 96.2h0M472.6 80.9h0M474.9 43.4h0M507.3 90.4h0M498.6 61.0h0M485.9 42.0h0M481.0 68.7h0M527.2 79.7h0M477.1 68.5h0M493.5 73.2h0M488.4 76.6h0M474.6 51.5h0M483.9 47.6h0M463.0 59.7h0M492.1 119.9h0M499.3 60.0h0M461.2 39.8h0M459.1 37.0h0M463.9 37.4h0M478.0 67.5h0M498.0 45.5h0M475.9 51.2h0M468.2 37.8h0M477.8 37.4h0M470.8 46.5h0M489.8 63.9h0M477.4 37.2h0M494.1 37.8h0M501.9 47.3h0M456.9 83.3h0M485.0 72.0h0M512.8 93.6h0M480.8 82.9h0M482.2 37.2h0M476.6 37.3h0M487.2 58.4h0M457.8 98.0h0M471.7 75.0h0M515.7 82.0h0M517.3 53.3h0M487.2 105.3h0M491.4 38.3h0M516.9 123.9h0M461.0 78.0h0M475.2 61.2h0M467.3 39.0h0M472.5 37.5h0M481.6 90.0h0M506.9 99.2h0M464.7 83.4h0M474.3 76.0h0M495.5 50.3h0M522.2 122.6h0M508.3 99.7h0M473.0 95.0h0M481.1 37.5h0M482.4 90.9h0M481.7 62.3h0M502.2 112.5h0M486.4 73.1h0M481.3 47.9h0M454.4 56.2h0M485.0 55.7h0M482.2 37.7h0M465.1 44.1h0M525.1 93.2h0M468.2 37.5h0M488.7 69.2h0M490.4 73.0h0M478.4 62.9h0M493.0 51.5h0M490.1 91.6h0M473.7 68.6h0" stroke="#a3243a" stroke-opacity="0.75" stroke-width="1.9" stroke-linecap="round" fill="none"/>
<line x1="432.8" y1="46.4" x2="532.3" y2="78.4" stroke="#c0202e" stroke-width="1.1"/>
<rect x="428.4" y="17.8" width="108.10" height="112.20" fill="none" stroke="#4d4d4d" stroke-width="0.9"/>
<line x1="426.2" y1="124.50" x2="428.4" y2="124.50" stroke="#4d4d4d" stroke-width="0.8"/>
<text x="425.59999999999997" y="127.80" font-size="9.3" text-anchor="end" fill="#1a1a1a">0</text>
<line x1="426.2" y1="93.97" x2="428.4" y2="93.97" stroke="#4d4d4d" stroke-width="0.8"/>
<text x="425.59999999999997" y="97.27" font-size="9.3" text-anchor="end" fill="#1a1a1a">100</text>
<line x1="426.2" y1="63.43" x2="428.4" y2="63.43" stroke="#4d4d4d" stroke-width="0.8"/>
<text x="425.59999999999997" y="66.73" font-size="9.3" text-anchor="end" fill="#1a1a1a">200</text>
<line x1="426.2" y1="32.90" x2="428.4" y2="32.90" stroke="#4d4d4d" stroke-width="0.8"/>
<text x="425.59999999999997" y="36.20" font-size="9.3" text-anchor="end" fill="#1a1a1a">300</text>
<line x1="431.60" y1="130.0" x2="431.60" y2="132.2" stroke="#4d4d4d" stroke-width="0.8"/>
<text x="431.60" y="141.0" font-size="9.3" text-anchor="middle" fill="#1a1a1a">5.4</text>
<line x1="451.90" y1="130.0" x2="451.90" y2="132.2" stroke="#4d4d4d" stroke-width="0.8"/>
<text x="451.90" y="141.0" font-size="9.3" text-anchor="middle" fill="#1a1a1a">5.6</text>
<line x1="472.20" y1="130.0" x2="472.20" y2="132.2" stroke="#4d4d4d" stroke-width="0.8"/>
<text x="472.20" y="141.0" font-size="9.3" text-anchor="middle" fill="#1a1a1a">5.8</text>
<line x1="492.50" y1="130.0" x2="492.50" y2="132.2" stroke="#4d4d4d" stroke-width="0.8"/>
<text x="492.50" y="141.0" font-size="9.3" text-anchor="middle" fill="#1a1a1a">6.0</text>
<line x1="512.80" y1="130.0" x2="512.80" y2="132.2" stroke="#4d4d4d" stroke-width="0.8"/>
<text x="512.80" y="141.0" font-size="9.3" text-anchor="middle" fill="#1a1a1a">6.2</text>
<line x1="533.10" y1="130.0" x2="533.10" y2="132.2" stroke="#4d4d4d" stroke-width="0.8"/>
<text x="533.10" y="141.0" font-size="9.3" text-anchor="middle" fill="#1a1a1a">6.4</text>
<text x="479.0" y="157.2" font-size="9.4" text-anchor="middle" fill="#1a1a1a">Myeloid Program</text>
<text x="479.8" y="14.6" font-size="9.7" text-anchor="middle" fill="#1a1a1a">MK-2206</text>
<text x="430.79999999999995" y="27" font-size="8.4" font-style="italic" fill="#1a1a1a">r = −0.31, p = 1.23e−11,</text>
<text x="430.79999999999995" y="36.6" font-size="8.4" font-style="italic" fill="#1a1a1a">n = 448</text>
<text x="407.6" y="10.4" font-size="13.5" fill="#111">C</text>
<path d="M631.1 44.4h0M613.8 42.3h0M625.1 72.2h0M661.5 79.2h0M628.8 53.9h0M648.5 77.4h0M639.4 92.5h0M623.3 75.0h0M607.1 89.5h0M602.1 62.0h0M626.6 74.0h0M630.7 96.1h0M628.2 63.5h0M642.2 91.1h0M622.8 106.3h0M621.0 109.2h0M605.6 36.6h0M592.4 37.1h0M635.0 77.4h0M637.3 61.5h0M647.1 80.9h0M619.5 76.7h0M612.9 62.7h0M616.3 41.8h0M598.0 77.4h0M613.5 104.0h0M661.6 123.4h0M624.7 77.3h0M657.4 120.4h0M647.6 91.1h0M626.9 81.1h0M640.3 96.2h0M628.2 61.1h0M660.5 123.4h0M655.2 60.7h0M621.4 59.2h0M621.7 32.5h0M633.0 74.6h0M625.7 71.2h0M626.5 85.2h0M664.2 121.8h0M577.4 49.2h0M627.0 60.3h0M626.1 70.3h0M635.1 51.7h0M622.0 73.1h0M662.2 72.0h0M612.9 24.5h0M642.6 86.1h0M609.7 54.4h0M615.5 84.1h0M607.7 69.7h0M648.2 85.4h0M605.1 45.1h0M630.6 52.3h0M649.8 80.7h0M627.1 68.7h0M610.4 47.3h0M652.6 75.1h0M625.5 72.3h0M616.4 79.3h0M622.8 82.8h0M622.1 97.3h0M635.4 70.3h0M610.1 106.7h0M629.4 46.6h0M617.2 73.2h0M619.9 51.6h0M614.1 42.5h0M624.4 48.1h0M630.1 73.7h0M604.6 72.0h0M625.1 53.7h0M633.6 84.5h0M636.4 51.9h0M627.0 76.5h0M622.9 49.7h0M638.6 91.3h0M635.8 81.1h0M616.9 38.6h0M643.3 89.2h0M630.8 59.3h0M618.7 66.6h0M640.7 109.4h0M635.0 56.3h0M638.0 99.3h0M634.9 88.4h0M639.1 60.7h0M633.2 85.7h0M619.6 47.5h0M614.4 52.4h0M638.1 78.0h0M669.9 84.5h0M665.7 123.4h0M591.7 33.1h0M640.2 79.6h0M628.6 106.6h0M618.9 85.0h0M625.8 49.4h0M630.4 61.7h0M617.8 72.5h0M631.4 75.3h0M650.8 95.4h0M661.4 101.9h0M647.4 91.8h0M657.3 77.8h0M636.2 56.7h0M618.8 85.2h0M595.4 29.9h0M617.8 75.7h0M629.0 28.7h0M600.4 51.5h0M622.8 55.3h0M599.2 63.9h0M643.7 43.5h0M656.4 97.3h0M630.4 71.4h0M606.3 87.9h0M642.3 69.3h0M627.1 43.4h0M612.6 51.1h0M629.7 70.1h0M637.8 68.8h0M634.0 65.4h0M662.2 88.8h0M646.6 63.8h0M623.6 50.3h0M615.1 39.4h0M615.9 72.8h0M635.0 54.4h0M644.8 57.4h0M626.0 86.5h0M638.8 66.7h0M613.5 42.5h0M632.9 89.4h0M636.9 98.5h0M614.7 54.5h0M603.3 56.9h0M606.7 44.4h0M617.3 59.9h0M604.2 65.0h0M645.5 66.4h0M598.5 37.2h0M644.5 82.7h0M653.4 100.1h0M628.1 45.9h0M651.6 52.5h0M611.1 96.7h0M636.1 100.3h0M627.3 93.5h0M647.4 60.3h0M638.9 72.4h0M630.3 75.1h0M636.0 66.5h0M637.3 80.7h0M661.5 76.7h0M653.0 52.1h0M614.7 96.3h0M650.7 85.5h0M630.9 74.6h0M631.7 93.6h0M627.8 77.4h0M629.3 115.5h0M643.3 68.0h0M600.4 71.2h0M630.0 56.4h0M629.5 41.1h0M629.9 89.0h0M618.1 49.1h0M619.2 47.6h0M646.7 64.3h0M646.6 79.5h0M629.4 80.6h0M619.2 95.8h0M620.2 86.3h0M605.5 55.7h0M637.2 78.9h0M652.6 59.7h0M647.1 88.3h0M604.4 47.0h0M634.7 56.4h0M636.5 46.5h0M624.7 53.4h0M614.4 108.7h0M622.0 35.6h0M601.3 36.5h0M618.1 72.0h0M630.2 64.9h0M613.1 59.3h0M637.0 55.2h0M616.8 32.3h0M661.6 34.0h0M606.9 55.8h0M598.2 48.0h0M638.9 95.8h0M602.8 53.7h0M640.1 89.2h0M625.1 117.6h0M617.6 60.8h0M632.1 38.1h0M610.3 105.8h0M637.1 83.9h0M634.3 56.4h0M639.6 44.2h0M652.3 111.8h0M628.5 28.2h0M622.7 46.5h0M628.6 76.8h0M656.2 59.2h0M625.4 48.9h0M607.4 74.0h0M644.7 74.4h0M611.6 52.2h0M635.1 45.4h0M645.6 81.1h0M621.4 68.1h0M625.7 37.8h0M656.3 52.9h0M635.9 76.4h0M644.7 82.2h0M633.5 103.9h0M622.4 36.9h0M612.2 91.4h0M626.8 34.2h0M654.0 86.3h0M621.5 67.6h0M613.8 61.4h0M624.5 96.3h0M619.8 69.8h0M615.0 85.1h0M644.8 37.2h0M624.7 75.3h0M638.0 77.0h0M616.3 35.3h0M612.0 76.0h0M618.3 81.8h0M625.5 55.6h0M653.8 65.8h0M630.1 94.1h0M628.5 87.2h0M627.9 48.5h0M633.0 74.5h0M616.8 63.9h0M631.4 88.2h0M621.0 47.5h0M601.5 65.8h0M609.9 29.5h0M639.7 62.8h0M636.2 65.9h0M634.4 102.7h0M633.9 58.7h0M605.5 42.1h0M640.8 104.1h0M621.6 71.6h0M620.6 57.2h0M608.0 64.2h0M633.3 55.9h0M630.3 74.0h0M641.1 113.6h0M645.2 81.6h0M608.4 68.5h0M598.6 96.7h0M624.0 82.1h0M641.9 91.8h0M607.7 78.8h0M658.4 80.5h0M619.2 84.3h0M611.0 64.3h0M636.7 48.8h0M648.8 71.5h0M618.4 81.3h0M590.5 72.7h0M636.6 78.6h0M635.7 98.4h0M644.6 69.3h0M630.2 61.1h0M591.8 64.0h0M614.4 26.1h0M626.4 77.6h0M643.9 96.0h0M653.5 93.0h0M628.5 86.7h0M643.1 118.1h0M641.2 90.2h0M630.3 92.2h0M633.4 66.7h0M639.5 66.7h0M640.0 53.3h0M623.0 89.7h0M608.0 46.0h0M623.2 45.0h0M630.3 89.4h0M644.8 36.3h0M626.5 86.3h0M615.3 44.9h0M619.7 72.8h0M641.0 73.4h0M631.5 80.5h0M618.8 61.0h0M632.1 58.0h0M621.1 58.3h0M637.5 70.5h0M639.1 52.6h0M632.9 68.6h0M613.2 55.3h0M627.9 74.3h0M615.6 51.4h0M672.6 78.4h0M631.0 60.7h0M619.5 62.7h0M618.4 76.9h0M633.4 65.9h0M627.6 83.9h0M634.0 92.5h0M642.5 81.2h0M629.5 53.0h0M638.9 98.7h0M625.3 59.7h0M611.2 109.2h0M628.3 69.2h0M636.7 70.2h0M631.7 64.9h0M652.7 68.9h0M638.6 80.5h0M648.4 80.5h0M641.9 116.3h0M633.6 72.5h0M621.8 39.7h0M636.3 74.5h0M620.7 27.5h0M642.1 61.0h0M616.7 37.2h0M638.9 78.2h0M627.8 100.6h0M640.5 95.3h0M643.7 83.6h0M619.1 57.0h0M633.1 92.9h0M628.3 56.1h0M625.3 93.9h0M625.4 86.3h0M619.8 63.7h0M628.6 72.6h0M601.7 50.1h0M626.2 75.5h0M632.1 31.4h0M607.9 91.7h0M642.3 90.0h0M651.3 97.7h0M621.4 48.7h0M644.8 66.4h0M637.1 74.6h0M622.1 69.7h0M650.8 63.7h0M629.8 62.6h0M643.4 51.1h0M627.3 69.4h0M635.1 24.5h0M633.6 45.2h0M603.8 41.0h0M606.0 80.4h0M618.9 67.1h0M632.5 62.8h0M633.3 79.1h0M672.9 79.3h0M640.7 33.2h0M645.7 64.1h0M634.9 33.9h0M611.4 80.2h0M632.0 110.4h0M616.5 40.9h0M621.8 62.3h0M641.1 96.8h0M634.0 83.2h0M611.3 66.5h0M628.6 76.4h0M618.5 45.1h0M648.8 65.9h0M627.9 89.0h0M615.8 85.0h0M633.0 52.1h0M644.7 75.7h0M623.1 62.5h0M631.5 57.8h0M654.1 92.8h0M664.4 123.4h0M599.8 86.3h0M612.4 66.2h0M664.0 97.3h0M647.9 83.8h0M632.0 90.1h0M667.4 85.6h0M619.3 24.5h0M632.5 61.8h0M627.1 84.3h0M605.6 62.2h0M656.5 71.8h0M626.6 46.5h0M614.0 34.9h0M629.2 85.2h0M640.8 63.4h0M623.8 62.1h0M645.8 47.8h0M615.4 115.1h0M663.7 88.5h0M622.6 57.3h0M622.4 45.1h0M608.7 64.1h0M608.5 29.6h0M625.4 45.2h0M652.7 102.3h0M625.8 52.9h0M630.3 71.8h0M643.6 56.6h0M619.6 67.3h0M640.3 69.2h0M631.9 92.1h0M658.8 85.8h0M634.0 71.4h0M630.6 66.3h0M615.6 55.4h0M649.6 69.3h0M641.6 64.3h0M630.0 32.9h0M618.1 56.3h0M646.7 70.3h0M611.9 82.9h0M655.6 98.9h0M629.7 58.0h0M631.1 104.8h0M597.8 57.5h0M616.6 68.5h0M631.0 66.2h0M607.2 92.8h0M645.2 88.0h0M609.9 100.2h0M638.5 97.6h0M612.0 49.0h0M634.6 59.8h0M608.3 116.9h0M613.0 67.8h0M618.4 46.4h0M635.6 92.1h0M639.0 75.7h0M621.4 43.0h0M601.5 36.4h0M647.8 117.5h0M626.3 70.7h0M610.5 72.2h0M615.9 61.8h0M620.1 107.6h0M649.5 59.4h0M615.5 45.4h0M663.4 114.2h0M622.6 76.2h0M638.9 78.8h0" stroke="#a3243a" stroke-opacity="0.75" stroke-width="1.9" stroke-linecap="round" fill="none"/>
<line x1="577.1" y1="47.4" x2="675.8" y2="85.4" stroke="#c0202e" stroke-width="1.1"/>
<rect x="572.2" y="17.5" width="108.70" height="112.30" fill="none" stroke="#4d4d4d" stroke-width="0.9"/>
<line x1="570.0" y1="124.10" x2="572.2" y2="124.10" stroke="#4d4d4d" stroke-width="0.8"/>
<text x="569.4000000000001" y="127.40" font-size="9.3" text-anchor="end" fill="#1a1a1a">0</text>
<line x1="570.0" y1="89.53" x2="572.2" y2="89.53" stroke="#4d4d4d" stroke-width="0.8"/>
<text x="569.4000000000001" y="92.83" font-size="9.3" text-anchor="end" fill="#1a1a1a">100</text>
<line x1="570.0" y1="54.97" x2="572.2" y2="54.97" stroke="#4d4d4d" stroke-width="0.8"/>
<text x="569.4000000000001" y="58.27" font-size="9.3" text-anchor="end" fill="#1a1a1a">200</text>
<line x1="570.0" y1="20.40" x2="572.2" y2="20.40" stroke="#4d4d4d" stroke-width="0.8"/>
<text x="569.4000000000001" y="23.70" font-size="9.3" text-anchor="end" fill="#1a1a1a">300</text>
<line x1="575.40" y1="129.8" x2="575.40" y2="132.0" stroke="#4d4d4d" stroke-width="0.8"/>
<text x="575.40" y="140.8" font-size="9.3" text-anchor="middle" fill="#1a1a1a">5.4</text>
<line x1="595.82" y1="129.8" x2="595.82" y2="132.0" stroke="#4d4d4d" stroke-width="0.8"/>
<text x="595.82" y="140.8" font-size="9.3" text-anchor="middle" fill="#1a1a1a">5.6</text>
<line x1="616.24" y1="129.8" x2="616.24" y2="132.0" stroke="#4d4d4d" stroke-width="0.8"/>
<text x="616.24" y="140.8" font-size="9.3" text-anchor="middle" fill="#1a1a1a">5.8</text>
<line x1="636.66" y1="129.8" x2="636.66" y2="132.0" stroke="#4d4d4d" stroke-width="0.8"/>
<text x="636.66" y="140.8" font-size="9.3" text-anchor="middle" fill="#1a1a1a">6.0</text>
<line x1="657.08" y1="129.8" x2="657.08" y2="132.0" stroke="#4d4d4d" stroke-width="0.8"/>
<text x="657.08" y="140.8" font-size="9.3" text-anchor="middle" fill="#1a1a1a">6.2</text>
<line x1="677.50" y1="129.8" x2="677.50" y2="132.0" stroke="#4d4d4d" stroke-width="0.8"/>
<text x="677.50" y="140.8" font-size="9.3" text-anchor="middle" fill="#1a1a1a">6.4</text>
<text x="624.7" y="157.0" font-size="9.4" text-anchor="middle" fill="#1a1a1a">Myeloid Program</text>
<text x="627.7" y="14.6" font-size="9.7" text-anchor="middle" fill="#1a1a1a">Rapamycin</text>
<text x="574.6" y="27" font-size="8.4" font-style="italic" fill="#1a1a1a">r = −0.34, p = 8.44e−14,</text>
<text x="574.6" y="36.6" font-size="8.4" font-style="italic" fill="#1a1a1a">n = 466</text>
<text x="545.7" y="10.4" font-size="13.5" fill="#111">D</text>
<text transform="translate(261,74.3) rotate(-90)" font-size="9.5" text-anchor="middle" fill="#1a1a1a">AUC (Sensitivity)</text>
<line x1="272.21" y1="203.32" x2="353.53" y2="181.86" stroke="#8a8a8a" stroke-width="0.6"/>
<line x1="353.53" y1="181.86" x2="407.59" y2="221.31" stroke="#8a8a8a" stroke-width="0.6"/>
<line x1="407.59" y1="221.31" x2="317.71" y2="250.27" stroke="#8a8a8a" stroke-width="0.6"/>
<line x1="317.71" y1="250.27" x2="272.21" y2="203.32" stroke="#8a8a8a" stroke-width="0.6"/>
<line x1="278.76" y1="278.06" x2="272.21" y2="203.32" stroke="#8a8a8a" stroke-width="0.6"/>
<line x1="399.95" y1="298.52" x2="407.59" y2="221.31" stroke="#8a8a8a" stroke-width="0.6"/>
<line x1="351.93" y1="253.42" x2="353.53" y2="181.86" stroke="#111" stroke-width="0.9" stroke-dasharray="2.3,1.7"/>
<line x1="278.76" y1="278.06" x2="351.93" y2="253.42" stroke="#111" stroke-width="0.9" stroke-dasharray="2.3,1.7"/>
<line x1="351.93" y1="253.42" x2="399.95" y2="298.52" stroke="#111" stroke-width="0.9" stroke-dasharray="2.3,1.7"/>
<g stroke="#383838" stroke-width="0.48" stroke-linejoin="round">
<polygon points="351.8,197.1 355.5,197.8 353.3,193.5 349.5,196.2" fill="#ff4343"/>
<polygon points="332.9,216.2 336.7,211.6 334.5,212.8 330.7,216.5" fill="#ff9090"/>
<polygon points="329.1,219.9 332.9,216.2 330.7,216.5 326.9,219.4" fill="#ffa2a2"/>
<polygon points="336.7,211.6 340.5,206.8 338.2,208.5 334.5,212.8" fill="#ff7b7b"/>
<polygon points="348.1,198.8 351.8,197.1 349.5,196.2 345.8,199.9" fill="#ff4747"/>
<polygon points="340.5,206.8 344.3,202.3 342.0,204.1 338.2,208.5" fill="#ff6666"/>
<polygon points="325.3,222.4 329.1,219.9 326.9,219.4 323.1,221.4" fill="#ffaeae"/>
<polygon points="344.3,202.3 348.1,198.8 345.8,199.9 342.0,204.1" fill="#ff5454"/>
<polygon points="354.2,199.2 357.8,201.7 355.5,197.8 351.8,197.1" fill="#ff4848"/>
<polygon points="321.4,224.2 325.3,222.4 323.1,221.4 319.3,222.7" fill="#ffb4b4"/>
<polygon points="317.5,225.4 321.4,224.2 319.3,222.7 315.4,223.7" fill="#ffb5b5"/>
<polygon points="356.5,202.1 360.1,205.2 357.8,201.7 354.2,199.2" fill="#ff4f4f"/>
<polygon points="331.2,220.5 335.1,216.5 332.9,216.2 329.1,219.9" fill="#ff9696"/>
<polygon points="350.4,199.7 354.2,199.2 351.8,197.1 348.1,198.8" fill="#ff4141"/>
<polygon points="335.1,216.5 338.9,211.6 336.7,211.6 332.9,216.2" fill="#ff8181"/>
<polygon points="327.4,223.5 331.2,220.5 329.1,219.9 325.3,222.4" fill="#ffa6a6"/>
<polygon points="338.9,211.6 342.7,206.7 340.5,206.8 336.7,211.6" fill="#ff6a6a"/>
<polygon points="346.6,202.4 350.4,199.7 348.1,198.8 344.3,202.3" fill="#ff4747"/>
<polygon points="342.7,206.7 346.6,202.4 344.3,202.3 340.5,206.8" fill="#ff5656"/>
<polygon points="313.6,226.6 317.5,225.4 315.4,223.7 311.5,224.7" fill="#ffb5b5"/>
<polygon points="323.5,225.6 327.4,223.5 325.3,222.4 321.4,224.2" fill="#ffaeae"/>
<polygon points="358.8,205.5 362.5,208.3 360.1,205.2 356.5,202.1" fill="#ff5757"/>
<polygon points="319.6,227.2 323.5,225.6 321.4,224.2 317.5,225.4" fill="#ffb2b2"/>
<polygon points="352.8,202.0 356.5,202.1 354.2,199.2 350.4,199.7" fill="#ff4242"/>
<polygon points="309.6,227.7 313.6,226.6 311.5,224.7 307.6,225.8" fill="#ffb4b4"/>
<polygon points="333.4,221.3 337.3,217.2 335.1,216.5 331.2,220.5" fill="#ff8d8d"/>
<polygon points="329.6,224.5 333.4,221.3 331.2,220.5 327.4,223.5" fill="#ff9e9e"/>
<polygon points="361.2,209.1 364.8,211.2 362.5,208.3 358.8,205.5" fill="#ff5f5f"/>
<polygon points="337.3,217.2 341.2,212.5 338.9,211.6 335.1,216.5" fill="#ff7878"/>
<polygon points="315.7,228.5 319.6,227.2 317.5,225.4 313.6,226.6" fill="#ffb3b3"/>
<polygon points="348.9,204.2 352.8,202.0 350.4,199.7 346.6,202.4" fill="#ff4343"/>
<polygon points="341.2,212.5 345.1,207.9 342.7,206.7 338.9,211.6" fill="#ff6262"/>
<polygon points="305.7,229.0 309.6,227.7 307.6,225.8 303.6,227.1" fill="#ffb5b5"/>
<polygon points="325.7,227.0 329.6,224.5 327.4,223.5 323.5,225.6" fill="#ffa9a9"/>
<polygon points="345.1,207.9 348.9,204.2 346.6,202.4 342.7,206.7" fill="#ff4f4f"/>
<polygon points="355.1,205.2 358.8,205.5 356.5,202.1 352.8,202.0" fill="#ff4848"/>
<polygon points="321.8,228.9 325.7,227.0 323.5,225.6 319.6,227.2" fill="#ffafaf"/>
<polygon points="311.7,229.8 315.7,228.5 313.6,226.6 309.6,227.7" fill="#ffb4b4"/>
<polygon points="301.7,230.6 305.7,229.0 303.6,227.1 299.7,228.6" fill="#ffb7b7"/>
<polygon points="363.6,212.6 367.3,213.9 364.8,211.2 361.2,209.1" fill="#ff6666"/>
<polygon points="351.3,207.0 355.1,205.2 352.8,202.0 348.9,204.2" fill="#ff4747"/>
<polygon points="357.4,208.9 361.2,209.1 358.8,205.5 355.1,205.2" fill="#ff5151"/>
<polygon points="335.7,222.3 339.6,218.4 337.3,217.2 333.4,221.3" fill="#ff8686"/>
<polygon points="317.8,230.5 321.8,228.9 319.6,227.2 315.7,228.5" fill="#ffb2b2"/>
<polygon points="339.6,218.4 343.5,214.1 341.2,212.5 337.3,217.2" fill="#ff7373"/>
<polygon points="331.8,225.7 335.7,222.3 333.4,221.3 329.6,224.5" fill="#ff9797"/>
<polygon points="297.7,232.4 301.7,230.6 299.7,228.6 295.7,230.4" fill="#ffbaba"/>
<polygon points="307.7,231.2 311.7,229.8 309.6,227.7 305.7,229.0" fill="#ffb5b5"/>
<polygon points="347.4,210.1 351.3,207.0 348.9,204.2 345.1,207.9" fill="#ff5050"/>
<polygon points="343.5,214.1 347.4,210.1 345.1,207.9 341.2,212.5" fill="#ff6060"/>
<polygon points="327.9,228.4 331.8,225.7 329.6,224.5 325.7,227.0" fill="#ffa3a3"/>
<polygon points="366.0,215.6 369.7,216.3 367.3,213.9 363.6,212.6" fill="#ff6c6c"/>
<polygon points="293.7,234.5 297.7,232.4 295.7,230.4 291.7,232.4" fill="#ffc0c0"/>
<polygon points="313.8,232.0 317.8,230.5 315.7,228.5 311.7,229.8" fill="#ffb4b4"/>
<polygon points="359.8,212.6 363.6,212.6 361.2,209.1 357.4,208.9" fill="#ff5b5b"/>
<polygon points="353.6,210.3 357.4,208.9 355.1,205.2 351.3,207.0" fill="#ff4f4f"/>
<polygon points="303.7,232.8 307.7,231.2 305.7,229.0 301.7,230.6" fill="#ffb7b7"/>
<polygon points="323.9,230.7 327.9,228.4 325.7,227.0 321.8,228.9" fill="#ffacac"/>
<polygon points="289.6,236.8 293.7,234.5 291.7,232.4 287.7,234.7" fill="#ffc8c8"/>
<polygon points="349.7,212.9 353.6,210.3 351.3,207.0 347.4,210.1" fill="#ff5555"/>
<polygon points="320.0,232.7 323.9,230.7 321.8,228.9 317.8,230.5" fill="#ffb1b1"/>
<polygon points="309.8,233.6 313.8,232.0 311.7,229.8 307.7,231.2" fill="#ffb6b6"/>
<polygon points="299.7,234.8 303.7,232.8 301.7,230.6 297.7,232.4" fill="#ffbbbb"/>
<polygon points="345.8,216.2 349.7,212.9 347.4,210.1 343.5,214.1" fill="#ff6161"/>
<polygon points="341.9,219.9 345.8,216.2 343.5,214.1 339.6,218.4" fill="#ff7171"/>
<polygon points="338.0,223.6 341.9,219.9 339.6,218.4 335.7,222.3" fill="#ff8282"/>
<polygon points="285.6,239.4 289.6,236.8 287.7,234.7 283.7,237.2" fill="#ffd2d2"/>
<polygon points="334.0,227.0 338.0,223.6 335.7,222.3 331.8,225.7" fill="#ff9191"/>
<polygon points="356.0,213.8 359.8,212.6 357.4,208.9 353.6,210.3" fill="#ff5858"/>
<polygon points="368.5,218.0 372.2,218.6 369.7,216.3 366.0,215.6" fill="#ff6f6f"/>
<polygon points="362.2,215.8 366.0,215.6 363.6,212.6 359.8,212.6" fill="#ff6363"/>
<polygon points="330.1,230.0 334.0,227.0 331.8,225.7 327.9,228.4" fill="#ff9e9e"/>
<polygon points="295.7,236.9 299.7,234.8 297.7,232.4 293.7,234.5" fill="#ffc1c1"/>
<polygon points="281.6,242.0 285.6,239.4 283.7,237.2 279.7,239.8" fill="#ffdfdf"/>
<polygon points="316.0,234.4 320.0,232.7 317.8,230.5 313.8,232.0" fill="#ffb5b5"/>
<polygon points="305.8,235.3 309.8,233.6 307.7,231.2 303.7,232.8" fill="#ffb9b9"/>
<polygon points="326.2,232.6 330.1,230.0 327.9,228.4 323.9,230.7" fill="#ffa9a9"/>
<polygon points="352.1,215.9 356.0,213.8 353.6,210.3 349.7,212.9" fill="#ff5b5b"/>
<polygon points="277.5,244.9 281.6,242.0 279.7,239.8 275.7,242.7" fill="#fff1f1"/>
<polygon points="291.6,239.3 295.7,236.9 293.7,234.5 289.6,236.8" fill="#ffc9c9"/>
<polygon points="348.2,218.6 352.1,215.9 349.7,212.9 345.8,216.2" fill="#ff6464"/>
<polygon points="312.0,236.1 316.0,234.4 313.8,232.0 309.8,233.6" fill="#ffb8b8"/>
<polygon points="358.4,216.9 362.2,215.8 359.8,212.6 356.0,213.8" fill="#ff6060"/>
<polygon points="301.8,237.3 305.8,235.3 303.7,232.8 299.7,234.8" fill="#ffbdbd"/>
<polygon points="322.2,234.9 326.2,232.6 323.9,230.7 320.0,232.7" fill="#ffb0b0"/>
<polygon points="344.2,221.8 348.2,218.6 345.8,216.2 341.9,219.9" fill="#ff7070"/>
<polygon points="364.7,218.3 368.5,218.0 366.0,215.6 362.2,215.8" fill="#ff6767"/>
<polygon points="287.6,241.8 291.6,239.3 289.6,236.8 285.6,239.4" fill="#ffd4d4"/>
<polygon points="340.3,225.1 344.2,221.8 341.9,219.9 338.0,223.6" fill="#ff7e7e"/>
<polygon points="371.0,220.1 374.7,220.7 372.2,218.6 368.5,218.0" fill="#ff7171"/>
<polygon points="336.3,228.5 340.3,225.1 338.0,223.6 334.0,227.0" fill="#ff8d8d"/>
<polygon points="297.7,239.5 301.8,237.3 299.7,234.8 295.7,236.9" fill="#ffc4c4"/>
<polygon points="318.2,236.9 322.2,234.9 320.0,232.7 316.0,234.4" fill="#ffb6b6"/>
<polygon points="307.9,238.0 312.0,236.1 309.8,233.6 305.8,235.3" fill="#ffbcbc"/>
<polygon points="283.5,244.4 287.6,241.8 285.6,239.4 281.6,242.0" fill="#ffe1e1"/>
<polygon points="354.5,218.6 358.4,216.9 356.0,213.8 352.1,215.9" fill="#ff6262"/>
<polygon points="332.4,231.7 336.3,228.5 334.0,227.0 330.1,230.0" fill="#ff9a9a"/>
<polygon points="328.4,234.7 332.4,231.7 330.1,230.0 326.2,232.6" fill="#ffa7a7"/>
<polygon points="279.4,247.1 283.5,244.4 281.6,242.0 277.5,244.9" fill="#fff1f1"/>
<polygon points="293.7,241.9 297.7,239.5 295.7,236.9 291.6,239.3" fill="#ffcdcd"/>
<polygon points="360.9,219.3 364.7,218.3 362.2,215.8 358.4,216.9" fill="#ff6464"/>
<polygon points="350.6,221.0 354.5,218.6 352.1,215.9 348.2,218.6" fill="#ff6868"/>
<polygon points="303.9,240.1 307.9,238.0 305.8,235.3 301.8,237.3" fill="#ffc1c1"/>
<polygon points="314.1,238.8 318.2,236.9 316.0,234.4 312.0,236.1" fill="#ffbbbb"/>
<polygon points="324.4,237.2 328.4,234.7 326.2,232.6 322.2,234.9" fill="#ffb0b0"/>
<polygon points="289.6,244.3 293.7,241.9 291.6,239.3 287.6,241.8" fill="#ffd7d7"/>
<polygon points="367.2,220.4 371.0,220.1 368.5,218.0 364.7,218.3" fill="#ff6868"/>
<polygon points="346.6,223.8 350.6,221.0 348.2,218.6 344.2,221.8" fill="#ff7171"/>
<polygon points="373.6,222.1 377.3,222.7 374.7,220.7 371.0,220.1" fill="#ff7171"/>
<polygon points="299.8,242.3 303.9,240.1 301.8,237.3 297.7,239.5" fill="#ffc8c8"/>
<polygon points="342.6,227.0 346.6,223.8 344.2,221.8 340.3,225.1" fill="#ff7d7d"/>
<polygon points="310.1,240.8 314.1,238.8 312.0,236.1 307.9,238.0" fill="#ffc0c0"/>
<polygon points="356.9,221.0 360.9,219.3 358.4,216.9 354.5,218.6" fill="#ff6565"/>
<polygon points="320.4,239.4 324.4,237.2 322.2,234.9 318.2,236.9" fill="#ffb8b8"/>
<polygon points="285.5,246.8 289.6,244.3 287.6,241.8 283.5,244.4" fill="#ffe3e3"/>
<polygon points="338.7,230.4 342.6,227.0 340.3,225.1 336.3,228.5" fill="#ff8a8a"/>
<polygon points="334.7,233.7 338.7,230.4 336.3,228.5 332.4,231.7" fill="#ff9898"/>
<polygon points="295.7,244.6 299.8,242.3 297.7,239.5 293.7,241.9" fill="#ffd1d1"/>
<polygon points="281.4,249.3 285.5,246.8 283.5,244.4 279.4,247.1" fill="#fff3f3"/>
<polygon points="353.0,223.4 356.9,221.0 354.5,218.6 350.6,221.0" fill="#ff6a6a"/>
<polygon points="306.0,243.0 310.1,240.8 307.9,238.0 303.9,240.1" fill="#ffc6c6"/>
<polygon points="330.7,236.8 334.7,233.7 332.4,231.7 328.4,234.7" fill="#ffa5a5"/>
<polygon points="363.4,221.5 367.2,220.4 364.7,218.3 360.9,219.3" fill="#ff6666"/>
<polygon points="316.3,241.6 320.4,239.4 318.2,236.9 314.1,238.8" fill="#ffbebe"/>
<polygon points="291.6,247.0 295.7,244.6 293.7,241.9 289.6,244.3" fill="#ffdbdb"/>
<polygon points="326.7,239.6 330.7,236.8 328.4,234.7 324.4,237.2" fill="#ffb1b1"/>
<polygon points="349.0,226.1 353.0,223.4 350.6,221.0 346.6,223.8" fill="#ff7373"/>
<polygon points="369.8,222.4 373.6,222.1 371.0,220.1 367.2,220.4" fill="#ff6969"/>
<polygon points="301.9,245.2 306.0,243.0 303.9,240.1 299.8,242.3" fill="#ffcece"/>
<polygon points="312.3,243.7 316.3,241.6 314.1,238.8 310.1,240.8" fill="#ffc5c5"/>
<polygon points="376.2,224.2 380.0,224.5 377.3,222.7 373.6,222.1" fill="#ff7070"/>
<polygon points="345.0,229.2 349.0,226.1 346.6,223.8 342.6,227.0" fill="#ff7d7d"/>
<polygon points="359.4,223.3 363.4,221.5 360.9,219.3 356.9,221.0" fill="#ff6767"/>
<polygon points="322.6,242.1 326.7,239.6 324.4,237.2 320.4,239.4" fill="#ffbaba"/>
<polygon points="287.5,249.3 291.6,247.0 289.6,244.3 285.5,246.8" fill="#ffe7e7"/>
<polygon points="341.0,232.6 345.0,229.2 342.6,227.0 338.7,230.4" fill="#ff8a8a"/>
<polygon points="297.8,247.5 301.9,245.2 299.8,242.3 295.7,244.6" fill="#ffd6d6"/>
<polygon points="337.0,235.9 341.0,232.6 338.7,230.4 334.7,233.7" fill="#ff9898"/>
<polygon points="308.2,245.9 312.3,243.7 310.1,240.8 306.0,243.0" fill="#ffcccc"/>
<polygon points="283.3,251.6 287.5,249.3 285.5,246.8 281.4,249.3" fill="#fff4f4"/>
<polygon points="355.5,225.7 359.4,223.3 356.9,221.0 353.0,223.4" fill="#ff6c6c"/>
<polygon points="318.6,244.4 322.6,242.1 320.4,239.4 316.3,241.6" fill="#ffc2c2"/>
<polygon points="365.9,223.7 369.8,222.4 367.2,220.4 363.4,221.5" fill="#ff6666"/>
<polygon points="333.0,239.2 337.0,235.9 334.7,233.7 330.7,236.8" fill="#ffa5a5"/>
<polygon points="293.7,249.7 297.8,247.5 295.7,244.6 291.6,247.0" fill="#ffe0e0"/>
<polygon points="328.9,242.1 333.0,239.2 330.7,236.8 326.7,239.6" fill="#ffb2b2"/>
<polygon points="351.5,228.6 355.5,225.7 353.0,223.4 349.0,226.1" fill="#ff7474"/>
<polygon points="304.1,248.1 308.2,245.9 306.0,243.0 301.9,245.2" fill="#ffd4d4"/>
<polygon points="372.4,224.8 376.2,224.2 373.6,222.1 369.8,222.4" fill="#ff6969"/>
<polygon points="314.5,246.6 318.6,244.4 316.3,241.6 312.3,243.7" fill="#ffcaca"/>
<polygon points="347.4,231.7 351.5,228.6 349.0,226.1 345.0,229.2" fill="#ff7f7f"/>
<polygon points="378.8,226.7 382.6,226.6 380.0,224.5 376.2,224.2" fill="#ff7070"/>
<polygon points="361.9,225.7 365.9,223.7 363.4,221.5 359.4,223.3" fill="#ff6868"/>
<polygon points="324.9,244.8 328.9,242.1 326.7,239.6 322.6,242.1" fill="#ffbdbd"/>
<polygon points="289.5,251.9 293.7,249.7 291.6,247.0 287.5,249.3" fill="#ffebeb"/>
<polygon points="343.4,235.1 347.4,231.7 345.0,229.2 341.0,232.6" fill="#ff8b8b"/>
<polygon points="299.9,250.3 304.1,248.1 301.9,245.2 297.8,247.5" fill="#ffdcdc"/>
<polygon points="310.4,248.8 314.5,246.6 312.3,243.7 308.2,245.9" fill="#ffd1d1"/>
<polygon points="339.4,238.4 343.4,235.1 341.0,232.6 337.0,235.9" fill="#ff9999"/>
<polygon points="320.8,247.2 324.9,244.8 322.6,242.1 318.6,244.4" fill="#ffc6c6"/>
<polygon points="357.9,228.2 361.9,225.7 359.4,223.3 355.5,225.7" fill="#ff6e6e"/>
<polygon points="285.3,253.9 289.5,251.9 287.5,249.3 283.3,251.6" fill="#fff6f6"/>
<polygon points="368.4,226.2 372.4,224.8 369.8,222.4 365.9,223.7" fill="#ff6767"/>
<polygon points="335.3,241.7 339.4,238.4 337.0,235.9 333.0,239.2" fill="#ffa7a7"/>
<polygon points="295.8,252.4 299.9,250.3 297.8,247.5 293.7,249.7" fill="#ffe5e5"/>
<polygon points="306.2,250.9 310.4,248.8 308.2,245.9 304.1,248.1" fill="#ffd9d9"/>
<polygon points="353.9,231.2 357.9,228.2 355.5,225.7 351.5,228.6" fill="#ff7676"/>
<polygon points="331.3,244.7 335.3,241.7 333.0,239.2 328.9,242.1" fill="#ffb4b4"/>
<polygon points="316.7,249.5 320.8,247.2 318.6,244.4 314.5,246.6" fill="#ffcfcf"/>
<polygon points="375.0,227.6 378.8,226.7 376.2,224.2 372.4,224.8" fill="#ff6b6b"/>
<polygon points="349.9,234.4 353.9,231.2 351.5,228.6 347.4,231.7" fill="#ff8181"/>
<polygon points="381.5,229.7 385.3,229.2 382.6,226.6 378.8,226.7" fill="#ff7373"/>
<polygon points="327.2,247.5 331.3,244.7 328.9,242.1 324.9,244.8" fill="#ffc0c0"/>
<polygon points="364.5,228.3 368.4,226.2 365.9,223.7 361.9,225.7" fill="#ff6a6a"/>
<polygon points="291.6,254.4 295.8,252.4 293.7,249.7 289.5,251.9" fill="#ffefef"/>
<polygon points="302.1,253.0 306.2,250.9 304.1,248.1 299.9,250.3" fill="#ffe2e2"/>
<polygon points="345.8,237.8 349.9,234.4 347.4,231.7 343.4,235.1" fill="#ff8e8e"/>
<polygon points="312.6,251.7 316.7,249.5 314.5,246.6 310.4,248.8" fill="#ffd7d7"/>
<polygon points="341.8,241.2 345.8,237.8 343.4,235.1 339.4,238.4" fill="#ff9c9c"/>
<polygon points="323.1,250.1 327.2,247.5 324.9,244.8 320.8,247.2" fill="#ffcbcb"/>
<polygon points="360.5,231.0 364.5,228.3 361.9,225.7 357.9,228.2" fill="#ff7070"/>
<polygon points="371.0,229.2 375.0,227.6 372.4,224.8 368.4,226.2" fill="#ff6a6a"/>
<polygon points="287.3,256.3 291.6,254.4 289.5,251.9 285.3,253.9" fill="#fff8f8"/>
<polygon points="337.7,244.4 341.8,241.2 339.4,238.4 335.3,241.7" fill="#ffaaaa"/>
<polygon points="297.9,255.0 302.1,253.0 299.9,250.3 295.8,252.4" fill="#ffeaea"/>
<polygon points="308.4,253.7 312.6,251.7 310.4,248.8 306.2,250.9" fill="#ffdfdf"/>
<polygon points="356.4,234.0 360.5,231.0 357.9,228.2 353.9,231.2" fill="#ff7979"/>
<polygon points="333.6,247.5 337.7,244.4 335.3,241.7 331.3,244.7" fill="#ffb7b7"/>
<polygon points="319.0,252.4 323.1,250.1 320.8,247.2 316.7,249.5" fill="#ffd4d4"/>
<polygon points="377.6,230.9 381.5,229.7 378.8,226.7 375.0,227.6" fill="#ff6f6f"/>
<polygon points="384.1,233.4 387.9,232.7 385.3,229.2 381.5,229.7" fill="#ff7979"/>
<polygon points="352.3,237.3 356.4,234.0 353.9,231.2 349.9,234.4" fill="#ff8585"/>
<polygon points="367.0,231.3 371.0,229.2 368.4,226.2 364.5,228.3" fill="#ff6e6e"/>
<polygon points="329.5,250.4 333.6,247.5 331.3,244.7 327.2,247.5" fill="#ffc4c4"/>
<polygon points="293.6,256.9 297.9,255.0 295.8,252.4 291.6,254.4" fill="#fff2f2"/>
<polygon points="348.3,240.7 352.3,237.3 349.9,234.4 345.8,237.8" fill="#ff9292"/>
<polygon points="304.2,255.7 308.4,253.7 306.2,250.9 302.1,253.0" fill="#ffe6e6"/>
<polygon points="314.8,254.5 319.0,252.4 316.7,249.5 312.6,251.7" fill="#ffdcdc"/>
<polygon points="344.2,244.2 348.3,240.7 345.8,237.8 341.8,241.2" fill="#ffa0a0"/>
<polygon points="325.4,252.9 329.5,250.4 327.2,247.5 323.1,250.1" fill="#ffcfcf"/>
<polygon points="373.6,232.6 377.6,230.9 375.0,227.6 371.0,229.2" fill="#ff7070"/>
<polygon points="363.0,234.0 367.0,231.3 364.5,228.3 360.5,231.0" fill="#ff7474"/>
<polygon points="340.1,247.5 344.2,244.2 341.8,241.2 337.7,244.4" fill="#ffaeae"/>
<polygon points="380.2,234.6 384.1,233.4 381.5,229.7 377.6,230.9" fill="#ff7777"/>
<polygon points="289.4,258.6 293.6,256.9 291.6,254.4 287.3,256.3" fill="#fffafa"/>
<polygon points="386.7,237.6 390.5,237.0 387.9,232.7 384.1,233.4" fill="#ff8383"/>
<polygon points="300.0,257.5 304.2,255.7 302.1,253.0 297.9,255.0" fill="#ffeded"/>
<polygon points="310.6,256.4 314.8,254.5 312.6,251.7 308.4,253.7" fill="#ffe3e3"/>
<polygon points="358.9,237.0 363.0,234.0 360.5,231.0 356.4,234.0" fill="#ff7e7e"/>
<polygon points="336.0,250.5 340.1,247.5 337.7,244.4 333.6,247.5" fill="#ffbcbc"/>
<polygon points="321.2,255.2 325.4,252.9 323.1,250.1 319.0,252.4" fill="#ffd9d9"/>
<polygon points="369.6,234.7 373.6,232.6 371.0,229.2 367.0,231.3" fill="#ff7474"/>
<polygon points="354.8,240.4 358.9,237.0 356.4,234.0 352.3,237.3" fill="#ff8989"/>
<polygon points="331.9,253.3 336.0,250.5 333.6,247.5 329.5,250.4" fill="#ffc9c9"/>
<polygon points="350.7,243.9 354.8,240.4 352.3,237.3 348.3,240.7" fill="#ff9797"/>
<polygon points="295.7,259.3 300.0,257.5 297.9,255.0 293.6,256.9" fill="#fff4f4"/>
<polygon points="306.4,258.2 310.6,256.4 308.4,253.7 304.2,255.7" fill="#ffeaea"/>
<polygon points="317.1,257.3 321.2,255.2 319.0,252.4 314.8,254.5" fill="#ffe1e1"/>
<polygon points="376.2,236.3 380.2,234.6 377.6,230.9 373.6,232.6" fill="#ff7878"/>
<polygon points="389.3,242.3 393.1,242.0 390.5,237.0 386.7,237.6" fill="#ff9292"/>
<polygon points="346.6,247.4 350.7,243.9 348.3,240.7 344.2,244.2" fill="#ffa5a5"/>
<polygon points="365.5,237.4 369.6,234.7 367.0,231.3 363.0,234.0" fill="#ff7a7a"/>
<polygon points="382.8,238.8 386.7,237.6 384.1,233.4 380.2,234.6" fill="#ff8181"/>
<polygon points="327.7,255.8 331.9,253.3 329.5,250.4 325.4,252.9" fill="#ffd4d4"/>
<polygon points="342.5,250.7 346.6,247.4 344.2,244.2 340.1,247.5" fill="#ffb4b4"/>
<polygon points="361.5,240.4 365.5,237.4 363.0,234.0 358.9,237.0" fill="#ff8484"/>
<polygon points="338.4,253.7 342.5,250.7 340.1,247.5 336.0,250.5" fill="#ffc2c2"/>
<polygon points="372.2,238.6 376.2,236.3 373.6,232.6 369.6,234.7" fill="#ff7c7c"/>
<polygon points="312.9,259.1 317.1,257.3 314.8,254.5 310.6,256.4" fill="#ffe8e8"/>
<polygon points="291.4,261.1 295.7,259.3 293.6,256.9 289.4,258.6" fill="#fffafa"/>
<polygon points="302.1,260.0 306.4,258.2 304.2,255.7 300.0,257.5" fill="#ffefef"/>
<polygon points="391.9,247.4 395.6,247.3 393.1,242.0 389.3,242.3" fill="#ffa5a5"/>
<polygon points="323.6,258.0 327.7,255.8 325.4,252.9 321.2,255.2" fill="#ffdede"/>
<polygon points="357.4,243.7 361.5,240.4 358.9,237.0 354.8,240.4" fill="#ff8f8f"/>
<polygon points="378.8,240.5 382.8,238.8 380.2,234.6 376.2,236.3" fill="#ff8282"/>
<polygon points="334.2,256.3 338.4,253.7 336.0,250.5 331.9,253.3" fill="#ffcfcf"/>
<polygon points="385.4,243.4 389.3,242.3 386.7,237.6 382.8,238.8" fill="#ff8f8f"/>
<polygon points="353.2,247.2 357.4,243.7 354.8,240.4 350.7,243.9" fill="#ff9d9d"/>
<polygon points="368.1,241.2 372.2,238.6 369.6,234.7 365.5,237.4" fill="#ff8383"/>
<polygon points="349.1,250.7 353.2,247.2 350.7,243.9 346.6,247.4" fill="#ffacac"/>
<polygon points="394.4,252.7 398.2,252.6 395.6,247.3 391.9,247.4" fill="#ffbaba"/>
<polygon points="319.4,260.0 323.6,258.0 321.2,255.2 317.1,257.3" fill="#ffe5e5"/>
<polygon points="308.6,260.8 312.9,259.1 310.6,256.4 306.4,258.2" fill="#ffeded"/>
<polygon points="297.9,261.7 302.1,260.0 300.0,257.5 295.7,259.3" fill="#fff5f5"/>
<polygon points="345.0,254.0 349.1,250.7 346.6,247.4 342.5,250.7" fill="#ffbbbb"/>
<polygon points="330.1,258.7 334.2,256.3 331.9,253.3 327.7,255.8" fill="#ffd9d9"/>
<polygon points="364.0,244.1 368.1,241.2 365.5,237.4 361.5,240.4" fill="#ff8c8c"/>
<polygon points="374.8,242.8 378.8,240.5 376.2,236.3 372.2,238.6" fill="#ff8686"/>
<polygon points="388.0,248.4 391.9,247.4 389.3,242.3 385.4,243.4" fill="#ffa0a0"/>
<polygon points="340.8,256.9 345.0,254.0 342.5,250.7 338.4,253.7" fill="#ffc9c9"/>
<polygon points="381.4,245.1 385.4,243.4 382.8,238.8 378.8,240.5" fill="#ff9090"/>
<polygon points="359.9,247.4 364.0,244.1 361.5,240.4 357.4,243.7" fill="#ff9797"/>
<polygon points="397.0,258.2 400.9,257.6 398.2,252.6 394.4,252.7" fill="#ffd1d1"/>
<polygon points="315.1,261.8 319.4,260.0 317.1,257.3 312.9,259.1" fill="#ffebeb"/>
<polygon points="325.9,260.8 330.1,258.7 327.7,255.8 323.6,258.0" fill="#ffe2e2"/>
<polygon points="304.3,262.5 308.6,260.8 306.4,258.2 302.1,260.0" fill="#fff1f1"/>
<polygon points="293.5,263.5 297.9,261.7 295.7,259.3 291.4,261.1" fill="#fffbfb"/>
<polygon points="370.7,245.4 374.8,242.8 372.2,238.6 368.1,241.2" fill="#ff8d8d"/>
<polygon points="355.8,250.8 359.9,247.4 357.4,243.7 353.2,247.2" fill="#ffa5a5"/>
<polygon points="336.7,259.4 340.8,256.9 338.4,253.7 334.2,256.3" fill="#ffd5d5"/>
<polygon points="390.6,253.7 394.4,252.7 391.9,247.4 388.0,248.4" fill="#ffb4b4"/>
<polygon points="351.6,254.2 355.8,250.8 353.2,247.2 349.1,250.7" fill="#ffb4b4"/>
<polygon points="377.3,247.3 381.4,245.1 378.8,240.5 374.8,242.8" fill="#ff9494"/>
<polygon points="366.6,248.3 370.7,245.4 368.1,241.2 364.0,244.1" fill="#ff9797"/>
<polygon points="384.0,250.0 388.0,248.4 385.4,243.4 381.4,245.1" fill="#ffa0a0"/>
<polygon points="399.7,263.5 403.6,262.1 400.9,257.6 397.0,258.2" fill="#ffebeb"/>
<polygon points="347.5,257.4 351.6,254.2 349.1,250.7 345.0,254.0" fill="#ffc3c3"/>
<polygon points="321.7,262.7 325.9,260.8 323.6,258.0 319.4,260.0" fill="#ffe9e9"/>
<polygon points="310.9,263.5 315.1,261.8 312.9,259.1 308.6,260.8" fill="#fff0f0"/>
<polygon points="332.5,261.6 336.7,259.4 334.2,256.3 330.1,258.7" fill="#ffdfdf"/>
<polygon points="300.0,264.2 304.3,262.5 302.1,260.0 297.9,261.7" fill="#fff5f5"/>
<polygon points="362.4,251.4 366.6,248.3 364.0,244.1 359.9,247.4" fill="#ffa2a2"/>
<polygon points="393.1,259.2 397.0,258.2 394.4,252.7 390.6,253.7" fill="#ffcbcb"/>
<polygon points="343.3,260.1 347.5,257.4 345.0,254.0 340.8,256.9" fill="#ffd1d1"/>
<polygon points="373.3,249.9 377.3,247.3 374.8,242.8 370.7,245.4" fill="#ff9a9a"/>
<polygon points="358.3,254.7 362.4,251.4 359.9,247.4 355.8,250.8" fill="#ffafaf"/>
<polygon points="386.6,255.2 390.6,253.7 388.0,248.4 384.0,250.0" fill="#ffb3b3"/>
<polygon points="379.9,252.1 384.0,250.0 381.4,245.1 377.3,247.3" fill="#ffa3a3"/>
<polygon points="328.3,263.6 332.5,261.6 330.1,258.7 325.9,260.8" fill="#ffe7e7"/>
<polygon points="317.4,264.5 321.7,262.7 319.4,260.0 315.1,261.8" fill="#ffefef"/>
<polygon points="369.2,252.7 373.3,249.9 370.7,245.4 366.6,248.3" fill="#ffa4a4"/>
<polygon points="354.1,257.8 358.3,254.7 355.8,250.8 351.6,254.2" fill="#ffbebe"/>
<polygon points="339.1,262.4 343.3,260.1 340.8,256.9 336.7,259.4" fill="#ffdbdb"/>
<polygon points="395.7,265.0 399.7,263.5 397.0,258.2 393.1,259.2" fill="#ffe8e8"/>
<polygon points="306.5,265.1 310.9,263.5 308.6,260.8 304.3,262.5" fill="#fff3f3"/>
<polygon points="295.7,266.0 300.0,264.2 297.9,261.7 293.5,263.5" fill="#fffbfb"/>
<polygon points="350.0,260.7 354.1,257.8 351.6,254.2 347.5,257.4" fill="#ffcccc"/>
<polygon points="375.9,254.6 379.9,252.1 377.3,247.3 373.3,249.9" fill="#ffaaaa"/>
<polygon points="389.2,260.7 393.1,259.2 390.6,253.7 386.6,255.2" fill="#ffcaca"/>
<polygon points="365.0,255.6 369.2,252.7 366.6,248.3 362.4,251.4" fill="#ffafaf"/>
<polygon points="382.5,257.2 386.6,255.2 384.0,250.0 379.9,252.1" fill="#ffb6b6"/>
<polygon points="324.0,265.5 328.3,263.6 325.9,260.8 321.7,262.7" fill="#ffeded"/>
<polygon points="334.9,264.5 339.1,262.4 336.7,259.4 332.5,261.6" fill="#ffe4e4"/>
<polygon points="313.1,266.2 317.4,264.5 315.1,261.8 310.9,263.5" fill="#fff3f3"/>
<polygon points="360.9,258.6 365.0,255.6 362.4,251.4 358.3,254.7" fill="#ffbbbb"/>
<polygon points="345.8,263.3 350.0,260.7 347.5,257.4 343.3,260.1" fill="#ffd8d8"/>
<polygon points="302.2,266.8 306.5,265.1 304.3,262.5 300.0,264.2" fill="#fff6f6"/>
<polygon points="371.7,257.2 375.9,254.6 373.3,249.9 369.2,252.7" fill="#ffb3b3"/>
<polygon points="391.8,266.4 395.7,265.0 393.1,259.2 389.2,260.7" fill="#ffe7e7"/>
<polygon points="356.7,261.4 360.9,258.6 358.3,254.7 354.1,257.8" fill="#ffc8c8"/>
<polygon points="378.5,259.5 382.5,257.2 379.9,252.1 375.9,254.6" fill="#ffbcbc"/>
<polygon points="385.2,262.5 389.2,260.7 386.6,255.2 382.5,257.2" fill="#ffcccc"/>
<polygon points="367.6,259.9 371.7,257.2 369.2,252.7 365.0,255.6" fill="#ffbdbd"/>
<polygon points="330.7,266.4 334.9,264.5 332.5,261.6 328.3,263.6" fill="#ffebeb"/>
<polygon points="341.6,265.5 345.8,263.3 343.3,260.1 339.1,262.4" fill="#ffe2e2"/>
<polygon points="319.7,267.2 324.0,265.5 321.7,262.7 317.4,264.5" fill="#fff2f2"/>
<polygon points="308.8,267.8 313.1,266.2 310.9,263.5 306.5,265.1" fill="#fff6f6"/>
<polygon points="352.5,264.1 356.7,261.4 354.1,257.8 350.0,260.7" fill="#ffd5d5"/>
<polygon points="297.8,268.5 302.2,266.8 300.0,264.2 295.7,266.0" fill="#fffbfb"/>
<polygon points="374.4,261.9 378.5,259.5 375.9,254.6 371.7,257.2" fill="#ffc4c4"/>
<polygon points="363.5,262.5 367.6,259.9 365.0,255.6 360.9,258.6" fill="#ffc8c8"/>
<polygon points="387.8,267.9 391.8,266.4 389.2,260.7 385.2,262.5" fill="#ffe8e8"/>
<polygon points="381.1,264.4 385.2,262.5 382.5,257.2 378.5,259.5" fill="#ffd1d1"/>
<polygon points="337.4,267.4 341.6,265.5 339.1,262.4 334.9,264.5" fill="#ffe9e9"/>
<polygon points="326.4,268.2 330.7,266.4 328.3,263.6 324.0,265.5" fill="#fff0f0"/>
<polygon points="348.3,266.4 352.5,264.1 350.0,260.7 345.8,263.3" fill="#ffdfdf"/>
<polygon points="315.4,268.9 319.7,267.2 317.4,264.5 313.1,266.2" fill="#fff5f5"/>
<polygon points="370.2,264.2 374.4,261.9 371.7,257.2 367.6,259.9" fill="#ffcdcd"/>
<polygon points="359.3,265.0 363.5,262.5 360.9,258.6 356.7,261.4" fill="#ffd3d3"/>
<polygon points="304.4,269.4 308.8,267.8 306.5,265.1 302.2,266.8" fill="#fff8f8"/>
<polygon points="377.0,266.4 381.1,264.4 378.5,259.5 374.4,261.9" fill="#ffd7d7"/>
<polygon points="383.7,269.3 387.8,267.9 385.2,262.5 381.1,264.4" fill="#ffebeb"/>
<polygon points="344.1,268.5 348.3,266.4 345.8,263.3 341.6,265.5" fill="#ffe8e8"/>
<polygon points="333.1,269.3 337.4,267.4 334.9,264.5 330.7,266.4" fill="#ffefef"/>
<polygon points="355.1,267.4 359.3,265.0 356.7,261.4 352.5,264.1" fill="#ffdede"/>
<polygon points="366.1,266.5 370.2,264.2 367.6,259.9 363.5,262.5" fill="#ffd6d6"/>
<polygon points="322.1,270.0 326.4,268.2 324.0,265.5 319.7,267.2" fill="#fff5f5"/>
<polygon points="311.1,270.5 315.4,268.9 313.1,266.2 308.8,267.8" fill="#fff8f8"/>
<polygon points="300.0,271.1 304.4,269.4 302.2,266.8 297.8,268.5" fill="#fffcfc"/>
<polygon points="372.9,268.4 377.0,266.4 374.4,261.9 370.2,264.2" fill="#ffdede"/>
<polygon points="350.9,269.5 355.1,267.4 352.5,264.1 348.3,266.4" fill="#ffe7e7"/>
<polygon points="379.7,270.8 383.7,269.3 381.1,264.4 377.0,266.4" fill="#ffeeee"/>
<polygon points="361.9,268.6 366.1,266.5 363.5,262.5 359.3,265.0" fill="#ffdfdf"/>
<polygon points="339.9,270.4 344.1,268.5 341.6,265.5 337.4,267.4" fill="#ffefef"/>
<polygon points="328.8,271.0 333.1,269.3 330.7,266.4 326.4,268.2" fill="#fff4f4"/>
<polygon points="317.8,271.6 322.1,270.0 319.7,267.2 315.4,268.9" fill="#fff8f8"/>
<polygon points="306.7,272.1 311.1,270.5 308.8,267.8 304.4,269.4" fill="#fffafa"/>
<polygon points="368.7,270.3 372.9,268.4 370.2,264.2 366.1,266.5" fill="#ffe5e5"/>
<polygon points="357.7,270.6 361.9,268.6 359.3,265.0 355.1,267.4" fill="#ffe7e7"/>
<polygon points="346.7,271.4 350.9,269.5 348.3,266.4 344.1,268.5" fill="#ffeeee"/>
<polygon points="335.6,272.1 339.9,270.4 337.4,267.4 333.1,269.3" fill="#fff4f4"/>
<polygon points="375.6,272.3 379.7,270.8 377.0,266.4 372.9,268.4" fill="#fff1f1"/>
<polygon points="324.5,272.7 328.8,271.0 326.4,268.2 322.1,270.0" fill="#fff8f8"/>
<polygon points="313.4,273.2 317.8,271.6 315.4,268.9 311.1,270.5" fill="#fffbfb"/>
<polygon points="364.6,272.0 368.7,270.3 366.1,266.5 361.9,268.6" fill="#ffeaea"/>
<polygon points="302.3,273.7 306.7,272.1 304.4,269.4 300.0,271.1" fill="#fffdfd"/>
<polygon points="353.5,272.5 357.7,270.6 355.1,267.4 350.9,269.5" fill="#ffeeee"/>
<polygon points="342.4,273.3 346.7,271.4 344.1,268.5 339.9,270.4" fill="#fff4f4"/>
<polygon points="331.3,273.8 335.6,272.1 333.1,269.3 328.8,271.0" fill="#fff8f8"/>
<polygon points="371.4,273.8 375.6,272.3 372.9,268.4 368.7,270.3" fill="#fff4f4"/>
<polygon points="320.1,274.3 324.5,272.7 322.1,270.0 317.8,271.6" fill="#fffbfb"/>
<polygon points="309.0,274.8 313.4,273.2 311.1,270.5 306.7,272.1" fill="#fffdfd"/>
<polygon points="360.4,273.8 364.6,272.0 361.9,268.6 357.7,270.6" fill="#fff0f0"/>
<polygon points="349.2,274.4 353.5,272.5 350.9,269.5 346.7,271.4" fill="#fff3f3"/>
<polygon points="338.1,275.0 342.4,273.3 339.9,270.4 335.6,272.1" fill="#fff8f8"/>
<polygon points="326.9,275.4 331.3,273.8 328.8,271.0 324.5,272.7" fill="#fffbfb"/>
<polygon points="367.3,275.4 371.4,273.8 368.7,270.3 364.6,272.0" fill="#fff7f7"/>
<polygon points="315.7,275.9 320.1,274.3 317.8,271.6 313.4,273.2" fill="#fffdfd"/>
<polygon points="356.1,275.5 360.4,273.8 357.7,270.6 353.5,272.5" fill="#fff4f4"/>
<polygon points="304.5,276.3 309.0,274.8 306.7,272.1 302.3,273.7" fill="#fffefe"/>
<polygon points="345.0,276.1 349.2,274.4 346.7,271.4 342.4,273.3" fill="#fff8f8"/>
<polygon points="333.8,276.6 338.1,275.0 335.6,272.1 331.3,273.8" fill="#fffbfb"/>
<polygon points="322.6,277.0 326.9,275.4 324.5,272.7 320.1,274.3" fill="#fffdfd"/>
<polygon points="363.1,276.9 367.3,275.4 364.6,272.0 360.4,273.8" fill="#fff9f9"/>
<polygon points="311.3,277.4 315.7,275.9 313.4,273.2 309.0,274.8" fill="#fffefe"/>
<polygon points="351.9,277.2 356.1,275.5 353.5,272.5 349.2,274.4" fill="#fff8f8"/>
<polygon points="340.7,277.8 345.0,276.1 342.4,273.3 338.1,275.0" fill="#fffcfc"/>
<polygon points="329.4,278.2 333.8,276.6 331.3,273.8 326.9,275.4" fill="#fffdfd"/>
<polygon points="318.1,278.6 322.6,277.0 320.1,274.3 315.7,275.9" fill="#fffefe"/>
<polygon points="358.8,278.4 363.1,276.9 360.4,273.8 356.1,275.5" fill="#fffbfb"/>
<polygon points="306.8,279.0 311.3,277.4 309.0,274.8 304.5,276.3" fill="#ffffff"/>
<polygon points="347.6,278.9 351.9,277.2 349.2,274.4 345.0,276.1" fill="#fffcfc"/>
<polygon points="336.3,279.4 340.7,277.8 338.1,275.0 333.8,276.6" fill="#ffffff"/>
<polygon points="325.0,279.7 329.4,278.2 326.9,275.4 322.6,277.0" fill="#fffefe"/>
<polygon points="354.5,280.0 358.8,278.4 356.1,275.5 351.9,277.2" fill="#fffcfc"/>
<polygon points="313.7,280.1 318.1,278.6 315.7,275.9 311.3,277.4" fill="#fffefe"/>
<polygon points="343.2,280.5 347.6,278.9 345.0,276.1 340.7,277.8" fill="#fefffe"/>
<polygon points="331.9,280.9 336.3,279.4 333.8,276.6 329.4,278.2" fill="#fefffe"/>
<polygon points="320.6,281.3 325.0,279.7 322.6,277.0 318.1,278.6" fill="#fffefe"/>
<polygon points="350.2,281.6 354.5,280.0 351.9,277.2 347.6,278.9" fill="#fffefe"/>
<polygon points="309.2,281.7 313.7,280.1 311.3,277.4 306.8,279.0" fill="#ffffff"/>
<polygon points="338.9,282.1 343.2,280.5 340.7,277.8 336.3,279.4" fill="#fdfffd"/>
<polygon points="327.5,282.4 331.9,280.9 329.4,278.2 325.0,279.7" fill="#fefffe"/>
<polygon points="316.1,282.8 320.6,281.3 318.1,278.6 313.7,280.1" fill="#fffefe"/>
<polygon points="345.9,283.2 350.2,281.6 347.6,278.9 343.2,280.5" fill="#fefffe"/>
<polygon points="334.5,283.6 338.9,282.1 336.3,279.4 331.9,280.9" fill="#fdfffd"/>
<polygon points="323.0,284.0 327.5,282.4 325.0,279.7 320.6,281.3" fill="#fffefe"/>
<polygon points="311.5,284.5 316.1,282.8 313.7,280.1 309.2,281.7" fill="#fffefe"/>
<polygon points="341.5,284.8 345.9,283.2 343.2,280.5 338.9,282.1" fill="#fefffe"/>
<polygon points="330.0,285.2 334.5,283.6 331.9,280.9 327.5,282.4" fill="#fefffe"/>
<polygon points="318.5,285.6 323.0,284.0 320.6,281.3 316.1,282.8" fill="#fffefe"/>
<polygon points="337.0,286.4 341.5,284.8 338.9,282.1 334.5,283.6" fill="#fefffe"/>
<polygon points="325.5,286.8 330.0,285.2 327.5,282.4 323.0,284.0" fill="#fffefe"/>
<polygon points="313.9,287.3 318.5,285.6 316.1,282.8 311.5,284.5" fill="#fffefe"/>
<polygon points="332.6,288.0 337.0,286.4 334.5,283.6 330.0,285.2" fill="#fefffe"/>
<polygon points="321.0,288.4 325.5,286.8 323.0,284.0 318.5,285.6" fill="#fffdfd"/>
<polygon points="328.0,289.7 332.6,288.0 330.0,285.2 325.5,286.8" fill="#ffffff"/>
<polygon points="316.4,290.1 321.0,288.4 318.5,285.6 313.9,287.3" fill="#fffefe"/>
<polygon points="323.5,291.3 328.0,289.7 325.5,286.8 321.0,288.4" fill="#fffefe"/>
<polygon points="318.9,293.0 323.5,291.3 321.0,288.4 316.4,290.1" fill="#fffefe"/>
</g>
<line x1="319.92" y1="330.76" x2="317.71" y2="250.27" stroke="#666" stroke-width="0.6"/>
<line x1="278.76" y1="278.06" x2="319.92" y2="330.76" stroke="#8a8a8a" stroke-width="0.6"/>
<line x1="319.92" y1="330.76" x2="399.95" y2="298.52" stroke="#8a8a8a" stroke-width="0.6"/>
<line x1="269.61" y1="203.32" x2="272.21" y2="203.32" stroke="#666" stroke-width="0.5"/>
<text x="267.61" y="203.78" font-size="7.4" text-anchor="end" fill="#111">40</text>
<line x1="270.51" y1="213.57" x2="273.11" y2="213.57" stroke="#666" stroke-width="0.5"/>
<text x="268.51" y="214.03" font-size="7.4" text-anchor="end" fill="#111">30</text>
<line x1="271.38" y1="223.54" x2="273.98" y2="223.54" stroke="#666" stroke-width="0.5"/>
<text x="269.38" y="224.01" font-size="7.4" text-anchor="end" fill="#111">20</text>
<line x1="272.23" y1="233.25" x2="274.83" y2="233.25" stroke="#666" stroke-width="0.5"/>
<text x="270.23" y="233.71" font-size="7.4" text-anchor="end" fill="#111">10</text>
<line x1="273.06" y1="242.69" x2="275.66" y2="242.69" stroke="#666" stroke-width="0.5"/>
<text x="271.06" y="243.15" font-size="7.4" text-anchor="end" fill="#111">0</text>
<line x1="273.87" y1="251.88" x2="276.47" y2="251.88" stroke="#666" stroke-width="0.5"/>
<text x="271.87" y="252.35" font-size="7.4" text-anchor="end" fill="#111">−10</text>
<line x1="274.65" y1="260.84" x2="277.25" y2="260.84" stroke="#666" stroke-width="0.5"/>
<text x="272.65" y="261.30" font-size="7.4" text-anchor="end" fill="#111">−20</text>
<line x1="275.41" y1="269.56" x2="278.01" y2="269.56" stroke="#666" stroke-width="0.5"/>
<text x="273.41" y="270.02" font-size="7.4" text-anchor="end" fill="#111">−30</text>
<line x1="276.16" y1="278.06" x2="278.76" y2="278.06" stroke="#666" stroke-width="0.5"/>
<text x="274.16" y="278.53" font-size="7.4" text-anchor="end" fill="#111">−40</text>
<text transform="translate(254.10,231.50) rotate(-90)" y="3.35" font-size="9.3" text-anchor="middle" fill="#111">δ-score</text>
<text x="275.30" y="290.42" font-size="7.0" text-anchor="middle" fill="#111">3000</text>
<text x="284.70" y="302.42" font-size="7.0" text-anchor="middle" fill="#111">1000</text>
<text x="292.90" y="315.52" font-size="7.0" text-anchor="middle" fill="#111">300</text>
<text x="303.80" y="328.42" font-size="7.0" text-anchor="middle" fill="#111">100</text>
<text x="341.80" y="335.82" font-size="7.0" text-anchor="middle" fill="#111">10</text>
<text x="362.90" y="327.92" font-size="7.0" text-anchor="middle" fill="#111">30</text>
<text x="383.20" y="319.22" font-size="7.0" text-anchor="middle" fill="#111">100</text>
<text x="400.10" y="312.82" font-size="7.0" text-anchor="middle" fill="#111">300</text>
<line x1="283.20" y1="283.76" x2="280.60" y2="285.16" stroke="#555" stroke-width="0.55"/>
<line x1="292.59" y1="295.77" x2="289.99" y2="297.17" stroke="#555" stroke-width="0.55"/>
<line x1="301.31" y1="306.94" x2="298.71" y2="308.34" stroke="#555" stroke-width="0.55"/>
<line x1="311.70" y1="320.24" x2="309.10" y2="321.64" stroke="#555" stroke-width="0.55"/>
<line x1="336.63" y1="324.03" x2="337.33" y2="326.83" stroke="#555" stroke-width="0.55"/>
<line x1="357.52" y1="315.62" x2="358.22" y2="318.42" stroke="#555" stroke-width="0.55"/>
<line x1="378.00" y1="307.36" x2="378.70" y2="310.16" stroke="#555" stroke-width="0.55"/>
<line x1="394.76" y1="300.61" x2="395.46" y2="303.41" stroke="#555" stroke-width="0.55"/>
<text transform="translate(276.60,318.30) rotate(51)" y="3.31" font-size="9.2" text-anchor="middle" fill="#111">Selumetinib (nM)</text>
<text transform="translate(366.40,339.50) rotate(-21)" y="3.31" font-size="9.2" text-anchor="middle" fill="#111">VTP50469 (nM)</text>
<text transform="translate(270.30,198.40) rotate(-12.8)" font-size="9.5" fill="#111">ZIP synergy: 11.988</text>
<defs><linearGradient id="cbE" x1="0" x2="0" y1="0" y2="1"><stop offset="0.00" stop-color="#ff0000"/><stop offset="0.05" stop-color="#ff1313"/><stop offset="0.10" stop-color="#ff2727"/><stop offset="0.15" stop-color="#ff3c3c"/><stop offset="0.20" stop-color="#ff5151"/><stop offset="0.25" stop-color="#ff6767"/><stop offset="0.30" stop-color="#ff7f7f"/><stop offset="0.35" stop-color="#ff9898"/><stop offset="0.40" stop-color="#ffb3b3"/><stop offset="0.45" stop-color="#ffd2d2"/><stop offset="0.50" stop-color="#ffffff"/><stop offset="0.55" stop-color="#d2fbd2"/><stop offset="0.60" stop-color="#b3f8b3"/><stop offset="0.65" stop-color="#98f598"/><stop offset="0.70" stop-color="#7ff27f"/><stop offset="0.75" stop-color="#67f067"/><stop offset="0.80" stop-color="#51ee51"/><stop offset="0.85" stop-color="#3cec3c"/><stop offset="0.90" stop-color="#27ea27"/><stop offset="0.95" stop-color="#13e813"/><stop offset="1.00" stop-color="#00e600"/></linearGradient></defs>
<rect x="408.6" y="266" width="7.5" height="35.90" fill="url(#cbE)"/>
<text x="406.90000000000003" y="264.2" font-size="9.3" fill="#111">δ-score</text>
<text x="417.20000000000005" y="271.60" font-size="6.8" fill="#111">40</text>
<text x="417.20000000000005" y="279.37" font-size="6.8" fill="#111">20</text>
<text x="417.20000000000005" y="287.15" font-size="6.8" fill="#111">0</text>
<text x="417.20000000000005" y="294.92" font-size="6.8" fill="#111">−20</text>
<text x="417.20000000000005" y="302.70" font-size="6.8" fill="#111">−40</text>
<text x="251.5" y="184.8" font-size="13.5" fill="#111">E</text>
<line x1="269.80" y1="396.98" x2="352.33" y2="374.88" stroke="#8a8a8a" stroke-width="0.6"/>
<line x1="352.33" y1="374.88" x2="407.08" y2="414.49" stroke="#8a8a8a" stroke-width="0.6"/>
<line x1="407.08" y1="414.49" x2="315.85" y2="444.23" stroke="#8a8a8a" stroke-width="0.6"/>
<line x1="315.85" y1="444.23" x2="269.80" y2="396.98" stroke="#8a8a8a" stroke-width="0.6"/>
<line x1="276.29" y1="472.53" x2="269.80" y2="396.98" stroke="#8a8a8a" stroke-width="0.6"/>
<line x1="399.17" y1="492.61" x2="407.08" y2="414.49" stroke="#8a8a8a" stroke-width="0.6"/>
<line x1="350.56" y1="447.24" x2="352.33" y2="374.88" stroke="#111" stroke-width="0.9" stroke-dasharray="2.3,1.7"/>
<line x1="276.29" y1="472.53" x2="350.56" y2="447.24" stroke="#111" stroke-width="0.9" stroke-dasharray="2.3,1.7"/>
<line x1="350.56" y1="447.24" x2="399.17" y2="492.61" stroke="#111" stroke-width="0.9" stroke-dasharray="2.3,1.7"/>
<g stroke="#383838" stroke-width="0.48" stroke-linejoin="round">
<polygon points="342.7,412.0 346.5,408.8 344.2,409.8 340.4,413.4" fill="#ffb5b5"/>
<polygon points="346.5,408.8 350.3,404.9 347.9,404.8 344.2,409.8" fill="#ff9b9b"/>
<polygon points="338.9,414.5 342.7,412.0 340.4,413.4 336.7,415.9" fill="#ffc8c8"/>
<polygon points="350.3,404.9 354.1,400.3 351.8,398.1 347.9,404.8" fill="#ff7a7a"/>
<polygon points="335.1,416.4 338.9,414.5 336.7,415.9 332.9,417.4" fill="#ffd3d3"/>
<polygon points="331.3,417.7 335.1,416.4 332.9,417.4 329.2,418.2" fill="#ffd5d5"/>
<polygon points="352.6,405.0 356.4,401.9 354.1,400.3 350.3,404.9" fill="#ff7474"/>
<polygon points="348.8,408.0 352.6,405.0 350.3,404.9 346.5,408.8" fill="#ff8888"/>
<polygon points="345.0,410.8 348.8,408.0 346.5,408.8 342.7,412.0" fill="#ff9999"/>
<polygon points="327.5,418.3 331.3,417.7 329.2,418.2 325.3,418.4" fill="#ffd0d0"/>
<polygon points="341.2,413.3 345.0,410.8 342.7,412.0 338.9,414.5" fill="#ffa8a8"/>
<polygon points="337.4,415.4 341.2,413.3 338.9,414.5 335.1,416.4" fill="#ffb2b2"/>
<polygon points="323.6,418.4 327.5,418.3 325.3,418.4 321.5,418.3" fill="#ffc6c6"/>
<polygon points="333.5,417.0 337.4,415.4 335.1,416.4 331.3,417.7" fill="#ffb8b8"/>
<polygon points="355.0,405.1 358.8,403.1 356.4,401.9 352.6,405.0" fill="#ff6b6b"/>
<polygon points="351.2,407.5 355.0,405.1 352.6,405.0 348.8,408.0" fill="#ff7676"/>
<polygon points="347.4,409.9 351.2,407.5 348.8,408.0 345.0,410.8" fill="#ff8282"/>
<polygon points="329.7,417.9 333.5,417.0 331.3,417.7 327.5,418.3" fill="#ffb7b7"/>
<polygon points="319.7,417.9 323.6,418.4 321.5,418.3 317.6,418.1" fill="#ffb8b8"/>
<polygon points="343.5,412.3 347.4,409.9 345.0,410.8 341.2,413.3" fill="#ff8e8e"/>
<polygon points="339.7,414.5 343.5,412.3 341.2,413.3 337.4,415.4" fill="#ff9797"/>
<polygon points="357.5,405.4 361.2,404.0 358.8,403.1 355.0,405.1" fill="#ff6262"/>
<polygon points="325.8,418.1 329.7,417.9 327.5,418.3 323.6,418.4" fill="#ffb0b0"/>
<polygon points="335.8,416.2 339.7,414.5 337.4,415.4 333.5,417.0" fill="#ff9e9e"/>
<polygon points="315.7,417.2 319.7,417.9 317.6,418.1 313.6,417.9" fill="#ffa9a9"/>
<polygon points="353.6,407.3 357.5,405.4 355.0,405.1 351.2,407.5" fill="#ff6767"/>
<polygon points="349.8,409.5 353.6,407.3 351.2,407.5 347.4,409.9" fill="#ff6f6f"/>
<polygon points="331.9,417.3 335.8,416.2 333.5,417.0 329.7,417.9" fill="#ff9f9f"/>
<polygon points="321.8,417.5 325.8,418.1 323.6,418.4 319.7,417.9" fill="#ffa3a3"/>
<polygon points="345.9,411.7 349.8,409.5 347.4,409.9 343.5,412.3" fill="#ff7878"/>
<polygon points="311.6,416.8 315.7,417.2 313.6,417.9 309.6,418.0" fill="#ff9c9c"/>
<polygon points="359.9,406.0 363.7,404.9 361.2,404.0 357.5,405.4" fill="#ff5959"/>
<polygon points="342.0,413.8 345.9,411.7 343.5,412.3 339.7,414.5" fill="#ff8181"/>
<polygon points="327.9,417.6 331.9,417.3 329.7,417.9 325.8,418.1" fill="#ff9a9a"/>
<polygon points="356.1,407.6 359.9,406.0 357.5,405.4 353.6,407.3" fill="#ff5b5b"/>
<polygon points="317.8,416.6 321.8,417.5 319.7,417.9 315.7,417.2" fill="#ff9393"/>
<polygon points="338.1,415.6 342.0,413.8 339.7,414.5 335.8,416.2" fill="#ff8787"/>
<polygon points="307.6,417.0 311.6,416.8 309.6,418.0 305.6,418.5" fill="#ff9393"/>
<polygon points="352.2,409.5 356.1,407.6 353.6,407.3 349.8,409.5" fill="#ff6060"/>
<polygon points="334.2,416.8 338.1,415.6 335.8,416.2 331.9,417.3" fill="#ff8989"/>
<polygon points="324.0,417.1 327.9,417.6 325.8,418.1 321.8,417.5" fill="#ff8f8f"/>
<polygon points="362.4,406.9 366.2,405.9 363.7,404.9 359.9,406.0" fill="#ff5151"/>
<polygon points="348.3,411.6 352.2,409.5 349.8,409.5 345.9,411.7" fill="#ff6767"/>
<polygon points="303.5,418.3 307.6,417.0 305.6,418.5 301.6,419.6" fill="#ff8f8f"/>
<polygon points="313.7,415.9 317.8,416.6 315.7,417.2 311.6,416.8" fill="#ff8484"/>
<polygon points="344.4,413.6 348.3,411.6 345.9,411.7 342.0,413.8" fill="#ff6e6e"/>
<polygon points="358.6,408.3 362.4,406.9 359.9,406.0 356.1,407.6" fill="#ff5252"/>
<polygon points="330.2,417.3 334.2,416.8 331.9,417.3 327.9,417.6" fill="#ff8585"/>
<polygon points="299.5,420.5 303.5,418.3 301.6,419.6 297.5,421.2" fill="#ff9292"/>
<polygon points="319.9,416.2 324.0,417.1 321.8,417.5 317.8,416.6" fill="#ff7f7f"/>
<polygon points="340.4,415.3 344.4,413.6 342.0,413.8 338.1,415.6" fill="#ff7474"/>
<polygon points="354.7,410.1 358.6,408.3 356.1,407.6 352.2,409.5" fill="#ff5555"/>
<polygon points="295.4,423.3 299.5,420.5 297.5,421.2 293.5,423.3" fill="#ff9a9a"/>
<polygon points="365.0,408.2 368.8,407.1 366.2,405.9 362.4,406.9" fill="#ff4b4b"/>
<polygon points="309.6,416.1 313.7,415.9 311.6,416.8 307.6,417.0" fill="#ff7979"/>
<polygon points="291.4,426.6 295.4,423.3 293.5,423.3 289.5,425.7" fill="#ffa6a6"/>
<polygon points="326.2,416.9 330.2,417.3 327.9,417.6 324.0,417.1" fill="#ff7c7c"/>
<polygon points="336.5,416.6 340.4,415.3 338.1,415.6 334.2,416.8" fill="#ff7676"/>
<polygon points="350.7,412.0 354.7,410.1 352.2,409.5 348.3,411.6" fill="#ff5b5b"/>
<polygon points="287.4,430.0 291.4,426.6 289.5,425.7 285.4,428.3" fill="#ffb5b5"/>
<polygon points="361.1,409.6 365.0,408.2 362.4,406.9 358.6,408.3" fill="#ff4b4b"/>
<polygon points="283.3,433.3 287.4,430.0 285.4,428.3 281.4,431.0" fill="#ffc7c7"/>
<polygon points="305.5,417.5 309.6,416.1 307.6,417.0 303.5,418.3" fill="#ff7676"/>
<polygon points="346.8,413.9 350.7,412.0 348.3,411.6 344.4,413.6" fill="#ff6060"/>
<polygon points="315.8,415.5 319.9,416.2 317.8,416.6 313.7,415.9" fill="#ff7070"/>
<polygon points="332.5,417.2 336.5,416.6 334.2,416.8 330.2,417.3" fill="#ff7373"/>
<polygon points="279.2,436.3 283.3,433.3 281.4,431.0 277.3,433.7" fill="#ffd9d9"/>
<polygon points="357.2,411.4 361.1,409.6 358.6,408.3 354.7,410.1" fill="#ff4e4e"/>
<polygon points="367.5,410.0 371.4,408.7 368.8,407.1 365.0,408.2" fill="#ff4747"/>
<polygon points="301.4,420.1 305.5,417.5 303.5,418.3 299.5,420.5" fill="#ff7b7b"/>
<polygon points="342.8,415.6 346.8,413.9 344.4,413.6 340.4,415.3" fill="#ff6565"/>
<polygon points="275.1,438.8 279.2,436.3 277.3,433.7 273.2,436.4" fill="#ffecec"/>
<polygon points="322.1,416.1 326.2,416.9 324.0,417.1 319.9,416.2" fill="#ff6d6d"/>
<polygon points="297.4,423.5 301.4,420.1 299.5,420.5 295.4,423.3" fill="#ff8787"/>
<polygon points="353.2,413.2 357.2,411.4 354.7,410.1 350.7,412.0" fill="#ff5353"/>
<polygon points="293.3,427.3 297.4,423.5 295.4,423.3 291.4,426.6" fill="#ff9898"/>
<polygon points="311.7,415.7 315.8,415.5 313.7,415.9 309.6,416.1" fill="#ff6565"/>
<polygon points="363.6,411.6 367.5,410.0 365.0,408.2 361.1,409.6" fill="#ff4848"/>
<polygon points="289.3,431.3 293.3,427.3 291.4,426.6 287.4,430.0" fill="#ffadad"/>
<polygon points="338.8,416.9 342.8,415.6 340.4,415.3 336.5,416.6" fill="#ff6767"/>
<polygon points="328.4,417.0 332.5,417.2 330.2,417.3 326.2,416.9" fill="#ff6b6b"/>
<polygon points="285.3,435.2 289.3,431.3 287.4,430.0 283.3,433.3" fill="#ffc3c3"/>
<polygon points="281.2,438.5 285.3,435.2 283.3,433.3 279.2,436.3" fill="#ffdada"/>
<polygon points="349.2,415.0 353.2,413.2 350.7,412.0 346.8,413.9" fill="#ff5757"/>
<polygon points="370.1,412.4 373.9,411.0 371.4,408.7 367.5,410.0" fill="#ff4848"/>
<polygon points="359.7,413.3 363.6,411.6 361.1,409.6 357.2,411.4" fill="#ff4b4b"/>
<polygon points="277.0,441.1 281.2,438.5 279.2,436.3 275.1,438.8" fill="#ffefef"/>
<polygon points="318.0,415.5 322.1,416.1 319.9,416.2 315.8,415.5" fill="#ff5f5f"/>
<polygon points="307.5,417.3 311.7,415.7 309.6,416.1 305.5,417.5" fill="#ff6363"/>
<polygon points="334.8,417.6 338.8,416.9 336.5,416.6 332.5,417.2" fill="#ff6565"/>
<polygon points="345.2,416.6 349.2,415.0 346.8,413.9 342.8,415.6" fill="#ff5b5b"/>
<polygon points="355.7,415.1 359.7,413.3 357.2,411.4 353.2,413.2" fill="#ff4f4f"/>
<polygon points="324.3,416.5 328.4,417.0 326.2,416.9 322.1,416.1" fill="#ff5f5f"/>
<polygon points="366.1,414.1 370.1,412.4 367.5,410.0 363.6,411.6" fill="#ff4a4a"/>
<polygon points="303.4,420.1 307.5,417.3 305.5,417.5 301.4,420.1" fill="#ff6969"/>
<polygon points="299.4,423.8 303.4,420.1 301.4,420.1 297.4,423.5" fill="#ff7777"/>
<polygon points="295.3,428.0 299.4,423.8 297.4,423.5 293.3,427.3" fill="#ff8a8a"/>
<polygon points="291.3,432.4 295.3,428.0 293.3,427.3 289.3,431.3" fill="#ffa2a2"/>
<polygon points="287.2,436.7 291.3,432.4 289.3,431.3 285.3,435.2" fill="#ffbcbc"/>
<polygon points="341.2,417.9 345.2,416.6 342.8,415.6 338.8,416.9" fill="#ff5d5d"/>
<polygon points="283.1,440.5 287.2,436.7 285.3,435.2 281.2,438.5" fill="#ffd6d6"/>
<polygon points="372.6,415.4 376.5,413.8 373.9,411.0 370.1,412.4" fill="#ff4c4c"/>
<polygon points="313.8,415.9 318.0,415.5 315.8,415.5 311.7,415.7" fill="#ff5555"/>
<polygon points="330.7,417.7 334.8,417.6 332.5,417.2 328.4,417.0" fill="#ff5e5e"/>
<polygon points="351.7,416.9 355.7,415.1 353.2,413.2 349.2,415.0" fill="#ff5353"/>
<polygon points="362.2,416.0 366.1,414.1 363.6,411.6 359.7,413.3" fill="#ff4d4d"/>
<polygon points="279.0,443.4 283.1,440.5 281.2,438.5 277.0,441.1" fill="#ffeeee"/>
<polygon points="368.7,417.3 372.6,415.4 370.1,412.4 366.1,414.1" fill="#ff4f4f"/>
<polygon points="320.2,416.2 324.3,416.5 322.1,416.1 318.0,415.5" fill="#ff5252"/>
<polygon points="347.7,418.6 351.7,416.9 349.2,415.0 345.2,416.6" fill="#ff5757"/>
<polygon points="358.2,418.0 362.2,416.0 359.7,413.3 355.7,415.1" fill="#ff5151"/>
<polygon points="337.2,418.8 341.2,417.9 338.8,416.9 334.8,417.6" fill="#ff5b5b"/>
<polygon points="309.7,417.6 313.8,415.9 311.7,415.7 307.5,417.3" fill="#ff5454"/>
<polygon points="375.2,419.0 379.1,417.1 376.5,413.8 372.6,415.4" fill="#ff5353"/>
<polygon points="326.6,417.5 330.7,417.7 328.4,417.0 324.3,416.5" fill="#ff5454"/>
<polygon points="364.7,419.4 368.7,417.3 366.1,414.1 362.2,416.0" fill="#ff5353"/>
<polygon points="354.2,419.9 358.2,418.0 355.7,415.1 351.7,416.9" fill="#ff5656"/>
<polygon points="305.5,420.6 309.7,417.6 307.5,417.3 303.4,420.1" fill="#ff5b5b"/>
<polygon points="343.6,419.9 347.7,418.6 345.2,416.6 341.2,417.9" fill="#ff5959"/>
<polygon points="285.1,442.3 289.2,438.1 287.2,436.7 283.1,440.5" fill="#ffd0d0"/>
<polygon points="289.2,438.1 293.3,433.5 291.3,432.4 287.2,436.7" fill="#ffb3b3"/>
<polygon points="293.3,433.5 297.3,428.8 295.3,428.0 291.3,432.4" fill="#ff9797"/>
<polygon points="301.4,424.4 305.5,420.6 303.4,420.1 299.4,423.8" fill="#ff6a6a"/>
<polygon points="281.0,445.8 285.1,442.3 283.1,440.5 279.0,443.4" fill="#ffecec"/>
<polygon points="297.3,428.8 301.4,424.4 299.4,423.8 295.3,428.0" fill="#ff7e7e"/>
<polygon points="371.2,421.1 375.2,419.0 372.6,415.4 368.7,417.3" fill="#ff5757"/>
<polygon points="333.1,419.1 337.2,418.8 334.8,417.6 330.7,417.7" fill="#ff5656"/>
<polygon points="360.7,421.6 364.7,419.4 362.2,416.0 358.2,418.0" fill="#ff5959"/>
<polygon points="316.0,416.7 320.2,416.2 318.0,415.5 313.8,415.9" fill="#ff4a4a"/>
<polygon points="350.1,421.6 354.2,419.9 351.7,416.9 347.7,418.6" fill="#ff5959"/>
<polygon points="377.7,423.0 381.7,420.9 379.1,417.1 375.2,419.0" fill="#ff5e5e"/>
<polygon points="367.2,423.3 371.2,421.1 368.7,417.3 364.7,419.4" fill="#ff5d5d"/>
<polygon points="339.6,420.9 343.6,419.9 341.2,417.9 337.2,418.8" fill="#ff5858"/>
<polygon points="356.6,423.6 360.7,421.6 358.2,418.0 354.2,419.9" fill="#ff5e5e"/>
<polygon points="322.5,417.5 326.6,417.5 324.3,416.5 320.2,416.2" fill="#ff4a4a"/>
<polygon points="373.7,425.2 377.7,423.0 375.2,419.0 371.2,421.1" fill="#ff6464"/>
<polygon points="311.8,418.6 316.0,416.7 313.8,415.9 309.7,417.6" fill="#ff4949"/>
<polygon points="346.1,423.1 350.1,421.6 347.7,418.6 343.6,419.9" fill="#ff5c5c"/>
<polygon points="363.2,425.6 367.2,423.3 364.7,419.4 360.7,421.6" fill="#ff6464"/>
<polygon points="380.3,427.4 384.2,425.2 381.7,420.9 377.7,423.0" fill="#ff6c6c"/>
<polygon points="329.0,419.2 333.1,419.1 330.7,417.7 326.6,417.5" fill="#ff4e4e"/>
<polygon points="352.6,425.5 356.6,423.6 354.2,419.9 350.1,421.6" fill="#ff6262"/>
<polygon points="287.1,444.0 291.2,439.5 289.2,438.1 285.1,442.3" fill="#ffc9c9"/>
<polygon points="283.0,448.1 287.1,444.0 285.1,442.3 281.0,445.8" fill="#ffe9e9"/>
<polygon points="369.7,427.6 373.7,425.2 371.2,421.1 367.2,423.3" fill="#ff6b6b"/>
<polygon points="291.2,439.5 295.3,434.7 293.3,433.5 289.2,438.1" fill="#ffaaaa"/>
<polygon points="307.7,421.6 311.8,418.6 309.7,417.6 305.5,420.6" fill="#ff5151"/>
<polygon points="335.5,421.5 339.6,420.9 337.2,418.8 333.1,419.1" fill="#ff5454"/>
<polygon points="295.3,434.7 299.4,429.9 297.3,428.8 293.3,433.5" fill="#ff8e8e"/>
<polygon points="359.1,427.9 363.2,425.6 360.7,421.6 356.6,423.6" fill="#ff6a6a"/>
<polygon points="303.5,425.4 307.7,421.6 305.5,420.6 301.4,424.4" fill="#ff6060"/>
<polygon points="299.4,429.9 303.5,425.4 301.4,424.4 297.3,428.8" fill="#ff7575"/>
<polygon points="376.3,429.7 380.3,427.4 377.7,423.0 373.7,425.2" fill="#ff7373"/>
<polygon points="318.3,418.3 322.5,417.5 320.2,416.2 316.0,416.7" fill="#ff4343"/>
<polygon points="342.0,424.2 346.1,423.1 343.6,419.9 339.6,420.9" fill="#ff5b5b"/>
<polygon points="382.8,432.1 386.8,429.8 384.2,425.2 380.3,427.4" fill="#ff7d7d"/>
<polygon points="365.7,430.0 369.7,427.6 367.2,423.3 363.2,425.6" fill="#ff7272"/>
<polygon points="348.5,427.2 352.6,425.5 350.1,421.6 346.1,423.1" fill="#ff6565"/>
<polygon points="372.2,432.2 376.3,429.7 373.7,425.2 369.7,427.6" fill="#ff7b7b"/>
<polygon points="355.1,429.9 359.1,427.9 356.6,423.6 352.6,425.5" fill="#ff7070"/>
<polygon points="324.8,419.6 329.0,419.2 326.6,417.5 322.5,417.5" fill="#ff4646"/>
<polygon points="378.8,434.5 382.8,432.1 380.3,427.4 376.3,429.7" fill="#ff8585"/>
<polygon points="361.6,432.4 365.7,430.0 363.2,425.6 359.1,427.9" fill="#ff7a7a"/>
<polygon points="331.3,421.9 335.5,421.5 333.1,419.1 329.0,419.2" fill="#ff4d4d"/>
<polygon points="314.1,420.2 318.3,418.3 316.0,416.7 311.8,418.6" fill="#ff4444"/>
<polygon points="385.4,436.9 389.4,434.5 386.8,429.8 382.8,432.1" fill="#ff9191"/>
<polygon points="368.2,434.6 372.2,432.2 369.7,427.6 365.7,430.0" fill="#ff8383"/>
<polygon points="337.9,424.9 342.0,424.2 339.6,420.9 335.5,421.5" fill="#ff5858"/>
<polygon points="344.4,428.4 348.5,427.2 346.1,423.1 342.0,424.2" fill="#ff6666"/>
<polygon points="285.0,450.5 289.2,445.9 287.1,444.0 283.0,448.1" fill="#ffe5e5"/>
<polygon points="351.0,431.7 355.1,429.9 352.6,425.5 348.5,427.2" fill="#ff7474"/>
<polygon points="289.2,445.9 293.3,441.1 291.2,439.5 287.1,444.0" fill="#ffc2c2"/>
<polygon points="374.8,436.8 378.8,434.5 376.3,429.7 372.2,432.2" fill="#ff8d8d"/>
<polygon points="357.6,434.5 361.6,432.4 359.1,427.9 355.1,429.9" fill="#ff8181"/>
<polygon points="309.9,423.2 314.1,420.2 311.8,418.6 307.7,421.6" fill="#ff4b4b"/>
<polygon points="293.3,441.1 297.4,436.1 295.3,434.7 291.2,439.5" fill="#ffa3a3"/>
<polygon points="381.4,439.2 385.4,436.9 382.8,432.1 378.8,434.5" fill="#ff9999"/>
<polygon points="364.1,436.9 368.2,434.6 365.7,430.0 361.6,432.4" fill="#ff8b8b"/>
<polygon points="297.4,436.1 301.5,431.4 299.4,429.9 295.3,434.7" fill="#ff8686"/>
<polygon points="320.6,420.6 324.8,419.6 322.5,417.5 318.3,418.3" fill="#ff4141"/>
<polygon points="305.7,427.0 309.9,423.2 307.7,421.6 303.5,425.4" fill="#ff5a5a"/>
<polygon points="388.0,441.7 392.0,439.2 389.4,434.5 385.4,436.9" fill="#ffa6a6"/>
<polygon points="301.5,431.4 305.7,427.0 303.5,425.4 299.4,429.9" fill="#ff6e6e"/>
<polygon points="370.7,439.1 374.8,436.8 372.2,432.2 368.2,434.6" fill="#ff9696"/>
<polygon points="346.9,433.0 351.0,431.7 348.5,427.2 344.4,428.4" fill="#ff7575"/>
<polygon points="327.1,422.5 331.3,421.9 329.0,419.2 324.8,419.6" fill="#ff4747"/>
<polygon points="353.5,436.4 357.6,434.5 355.1,429.9 351.0,431.7" fill="#ff8686"/>
<polygon points="377.4,441.5 381.4,439.2 378.8,434.5 374.8,436.8" fill="#ffa1a1"/>
<polygon points="340.3,429.2 344.4,428.4 342.0,424.2 337.9,424.9" fill="#ff6363"/>
<polygon points="333.7,425.5 337.9,424.9 335.5,421.5 331.3,421.9" fill="#ff5353"/>
<polygon points="360.1,439.0 364.1,436.9 361.6,432.4 357.6,434.5" fill="#ff9393"/>
<polygon points="384.0,443.9 388.0,441.7 385.4,436.9 381.4,439.2" fill="#ffaeae"/>
<polygon points="366.7,441.3 370.7,439.1 368.2,434.6 364.1,436.9" fill="#ff9e9e"/>
<polygon points="316.3,422.6 320.6,420.6 318.3,418.3 314.1,420.2" fill="#ff4242"/>
<polygon points="390.6,446.2 394.6,443.9 392.0,439.2 388.0,441.7" fill="#ffbbbb"/>
<polygon points="373.3,443.6 377.4,441.5 374.8,436.8 370.7,439.1" fill="#ffa9a9"/>
<polygon points="287.1,452.9 291.2,448.0 289.2,445.9 285.0,450.5" fill="#ffe3e3"/>
<polygon points="349.4,437.8 353.5,436.4 351.0,431.7 346.9,433.0" fill="#ff8787"/>
<polygon points="356.0,440.8 360.1,439.0 357.6,434.5 353.5,436.4" fill="#ff9898"/>
<polygon points="380.0,446.0 384.0,443.9 381.4,439.2 377.4,441.5" fill="#ffb6b6"/>
<polygon points="291.2,448.0 295.4,443.0 293.3,441.1 289.2,445.9" fill="#ffbebe"/>
<polygon points="342.8,433.9 346.9,433.0 344.4,428.4 340.3,429.2" fill="#ff7373"/>
<polygon points="312.1,425.5 316.3,422.6 314.1,420.2 309.9,423.2" fill="#ff4a4a"/>
<polygon points="322.9,423.7 327.1,422.5 324.8,419.6 320.6,420.6" fill="#ff4444"/>
<polygon points="362.6,443.3 366.7,441.3 364.1,436.9 360.1,439.0" fill="#ffa4a4"/>
<polygon points="386.6,448.3 390.6,446.2 388.0,441.7 384.0,443.9" fill="#ffc4c4"/>
<polygon points="295.4,443.0 299.5,438.1 297.4,436.1 293.3,441.1" fill="#ff9e9e"/>
<polygon points="336.2,429.8 340.3,429.2 337.9,424.9 333.7,425.5" fill="#ff5f5f"/>
<polygon points="329.5,426.2 333.7,425.5 331.3,421.9 327.1,422.5" fill="#ff4e4e"/>
<polygon points="307.9,429.2 312.1,425.5 309.9,423.2 305.7,427.0" fill="#ff5858"/>
<polygon points="299.5,438.1 303.7,433.5 301.5,431.4 297.4,436.1" fill="#ff8282"/>
<polygon points="369.3,445.6 373.3,443.6 370.7,439.1 366.7,441.3" fill="#ffb0b0"/>
<polygon points="303.7,433.5 307.9,429.2 305.7,427.0 301.5,431.4" fill="#ff6b6b"/>
<polygon points="393.3,450.5 397.3,448.3 394.6,443.9 390.6,446.2" fill="#ffd0d0"/>
<polygon points="375.9,447.9 380.0,446.0 377.4,441.5 373.3,443.6" fill="#ffbdbd"/>
<polygon points="351.9,442.3 356.0,440.8 353.5,436.4 349.4,437.8" fill="#ff9a9a"/>
<polygon points="345.2,438.7 349.4,437.8 346.9,433.0 342.8,433.9" fill="#ff8686"/>
<polygon points="382.6,450.2 386.6,448.3 384.0,443.9 380.0,446.0" fill="#ffcbcb"/>
<polygon points="358.5,445.1 362.6,443.3 360.1,439.0 356.0,440.8" fill="#ffa9a9"/>
<polygon points="318.7,425.7 322.9,423.7 320.6,420.6 316.3,422.6" fill="#ff4646"/>
<polygon points="365.2,447.4 369.3,445.6 366.7,441.3 362.6,443.3" fill="#ffb6b6"/>
<polygon points="338.6,434.6 342.8,433.9 340.3,429.2 336.2,429.8" fill="#ff6f6f"/>
<polygon points="389.3,452.4 393.3,450.5 390.6,446.2 386.6,448.3" fill="#ffd8d8"/>
<polygon points="325.3,427.5 329.5,426.2 327.1,422.5 322.9,423.7" fill="#ff4c4c"/>
<polygon points="332.0,430.6 336.2,429.8 333.7,425.5 329.5,426.2" fill="#ff5b5b"/>
<polygon points="371.9,449.7 375.9,447.9 373.3,443.6 369.3,445.6" fill="#ffc2c2"/>
<polygon points="289.2,455.3 293.4,450.4 291.2,448.0 287.1,452.9" fill="#ffe2e2"/>
<polygon points="314.4,428.6 318.7,425.7 316.3,422.6 312.1,425.5" fill="#ff4e4e"/>
<polygon points="396.1,454.2 400.1,452.3 397.3,448.3 393.3,450.5" fill="#ffe4e4"/>
<polygon points="293.4,450.4 297.5,445.5 295.4,443.0 291.2,448.0" fill="#ffbcbc"/>
<polygon points="378.6,452.0 382.6,450.2 380.0,446.0 375.9,447.9" fill="#ffd0d0"/>
<polygon points="354.4,446.6 358.5,445.1 356.0,440.8 351.9,442.3" fill="#ffabab"/>
<polygon points="347.7,443.3 351.9,442.3 349.4,437.8 345.2,438.7" fill="#ff9999"/>
<polygon points="297.5,445.5 301.7,440.8 299.5,438.1 295.4,443.0" fill="#ff9d9d"/>
<polygon points="310.2,432.2 314.4,428.6 312.1,425.5 307.9,429.2" fill="#ff5b5b"/>
<polygon points="361.1,449.1 365.2,447.4 362.6,443.3 358.5,445.1" fill="#ffbaba"/>
<polygon points="385.3,454.1 389.3,452.4 386.6,448.3 382.6,450.2" fill="#ffdede"/>
<polygon points="301.7,440.8 306.0,436.3 303.7,433.5 299.5,438.1" fill="#ff8383"/>
<polygon points="306.0,436.3 310.2,432.2 307.9,429.2 303.7,433.5" fill="#ff6d6d"/>
<polygon points="341.1,439.5 345.2,438.7 342.8,433.9 338.6,434.6" fill="#ff8282"/>
<polygon points="321.0,429.6 325.3,427.5 322.9,423.7 318.7,425.7" fill="#ff4e4e"/>
<polygon points="367.8,451.4 371.9,449.7 369.3,445.6 365.2,447.4" fill="#ffc6c6"/>
<polygon points="334.4,435.4 338.6,434.6 336.2,429.8 332.0,430.6" fill="#ff6b6b"/>
<polygon points="392.1,455.9 396.1,454.2 393.3,450.5 389.3,452.4" fill="#ffebeb"/>
<polygon points="327.7,431.9 332.0,430.6 329.5,426.2 325.3,427.5" fill="#ff5959"/>
<polygon points="374.5,453.5 378.6,452.0 375.9,447.9 371.9,449.7" fill="#ffd4d4"/>
<polygon points="350.2,447.7 354.4,446.6 351.9,442.3 347.7,443.3" fill="#ffaaaa"/>
<polygon points="316.8,432.5 321.0,429.6 318.7,425.7 314.4,428.6" fill="#ff5656"/>
<polygon points="381.3,455.7 385.3,454.1 382.6,450.2 378.6,452.0" fill="#ffe2e2"/>
<polygon points="356.9,450.6 361.1,449.1 358.5,445.1 354.4,446.6" fill="#ffbbbb"/>
<polygon points="398.9,457.2 402.9,455.8 400.1,452.3 396.1,454.2" fill="#fff5f5"/>
<polygon points="343.5,444.2 347.7,443.3 345.2,438.7 341.1,439.5" fill="#ff9595"/>
<polygon points="363.7,452.9 367.8,451.4 365.2,447.4 361.1,449.1" fill="#ffc9c9"/>
<polygon points="291.3,457.7 295.5,453.2 293.4,450.4 289.2,455.3" fill="#ffe3e3"/>
<polygon points="336.9,440.3 341.1,439.5 338.6,434.6 334.4,435.4" fill="#ff7d7d"/>
<polygon points="312.5,435.9 316.8,432.5 314.4,428.6 310.2,432.2" fill="#ff6363"/>
<polygon points="388.1,457.5 392.1,455.9 389.3,452.4 385.3,454.1" fill="#ffefef"/>
<polygon points="295.5,453.2 299.8,448.7 297.5,445.5 293.4,450.4" fill="#ffc0c0"/>
<polygon points="323.5,434.1 327.7,431.9 325.3,427.5 321.0,429.6" fill="#ff5b5b"/>
<polygon points="299.8,448.7 304.0,444.2 301.7,440.8 297.5,445.5" fill="#ffa2a2"/>
<polygon points="308.3,439.9 312.5,435.9 310.2,432.2 306.0,436.3" fill="#ff7474"/>
<polygon points="330.2,436.7 334.4,435.4 332.0,430.6 327.7,431.9" fill="#ff6969"/>
<polygon points="304.0,444.2 308.3,439.9 306.0,436.3 301.7,440.8" fill="#ff8989"/>
<polygon points="370.4,455.1 374.5,453.5 371.9,449.7 367.8,451.4" fill="#ffd6d6"/>
<polygon points="377.2,457.1 381.3,455.7 378.6,452.0 374.5,453.5" fill="#ffe4e4"/>
<polygon points="395.0,458.7 398.9,457.2 396.1,454.2 392.1,455.9" fill="#fff9f9"/>
<polygon points="352.8,451.9 356.9,450.6 354.4,446.6 350.2,447.7" fill="#ffbbbb"/>
<polygon points="346.1,448.8 350.2,447.7 347.7,443.3 343.5,444.2" fill="#ffa7a7"/>
<polygon points="319.2,436.9 323.5,434.1 321.0,429.6 316.8,432.5" fill="#ff6363"/>
<polygon points="339.3,445.2 343.5,444.2 341.1,439.5 336.9,440.3" fill="#ff9191"/>
<polygon points="359.5,454.4 363.7,452.9 361.1,449.1 356.9,450.6" fill="#ffcaca"/>
<polygon points="384.0,458.9 388.1,457.5 385.3,454.1 381.3,455.7" fill="#fff1f1"/>
<polygon points="325.9,438.9 330.2,436.7 327.7,431.9 323.5,434.1" fill="#ff6b6b"/>
<polygon points="332.6,441.7 336.9,440.3 334.4,435.4 330.2,436.7" fill="#ff7b7b"/>
<polygon points="314.9,440.3 319.2,436.9 316.8,432.5 312.5,435.9" fill="#ff6f6f"/>
<polygon points="366.3,456.5 370.4,455.1 367.8,451.4 363.7,452.9" fill="#ffd7d7"/>
<polygon points="310.6,444.1 314.9,440.3 312.5,435.9 308.3,439.9" fill="#ff8080"/>
<polygon points="306.3,448.1 310.6,444.1 308.3,439.9 304.0,444.2" fill="#ff9494"/>
<polygon points="302.1,452.3 306.3,448.1 304.0,444.2 299.8,448.7" fill="#ffacac"/>
<polygon points="297.8,456.4 302.1,452.3 299.8,448.7 295.5,453.2" fill="#ffc7c7"/>
<polygon points="390.9,460.2 395.0,458.7 392.1,455.9 388.1,457.5" fill="#fffbfb"/>
<polygon points="293.5,460.2 297.8,456.4 295.5,453.2 291.3,457.7" fill="#ffe7e7"/>
<polygon points="373.1,458.5 377.2,457.1 374.5,453.5 370.4,455.1" fill="#ffe4e4"/>
<polygon points="321.6,441.7 325.9,438.9 323.5,434.1 319.2,436.9" fill="#ff7373"/>
<polygon points="348.6,453.1 352.8,451.9 350.2,447.7 346.1,448.8" fill="#ffb9b9"/>
<polygon points="341.8,449.9 346.1,448.8 343.5,444.2 339.3,445.2" fill="#ffa4a4"/>
<polygon points="355.4,455.8 359.5,454.4 356.9,450.6 352.8,451.9" fill="#ffcaca"/>
<polygon points="335.1,446.6 339.3,445.2 336.9,440.3 332.6,441.7" fill="#ff8f8f"/>
<polygon points="328.3,443.8 332.6,441.7 330.2,436.7 325.9,438.9" fill="#ff7e7e"/>
<polygon points="380.0,460.3 384.0,458.9 381.3,455.7 377.2,457.1" fill="#fff1f1"/>
<polygon points="317.3,445.0 321.6,441.7 319.2,436.9 314.9,440.3" fill="#ff8080"/>
<polygon points="362.2,458.0 366.3,456.5 363.7,452.9 359.5,454.4" fill="#ffd8d8"/>
<polygon points="313.0,448.6 317.3,445.0 314.9,440.3 310.6,444.1" fill="#ff9090"/>
<polygon points="386.9,461.7 390.9,460.2 388.1,457.5 384.0,458.9" fill="#fffbfb"/>
<polygon points="369.0,460.0 373.1,458.5 370.4,455.1 366.3,456.5" fill="#ffe4e4"/>
<polygon points="308.7,452.3 313.0,448.6 310.6,444.1 306.3,448.1" fill="#ffa3a3"/>
<polygon points="324.0,446.5 328.3,443.8 325.9,438.9 321.6,441.7" fill="#ff8585"/>
<polygon points="304.4,456.1 308.7,452.3 306.3,448.1 302.1,452.3" fill="#ffb9b9"/>
<polygon points="344.4,454.5 348.6,453.1 346.1,448.8 341.8,449.9" fill="#ffb6b6"/>
<polygon points="330.8,448.6 335.1,446.6 332.6,441.7 328.3,443.8" fill="#ff9191"/>
<polygon points="337.6,451.4 341.8,449.9 339.3,445.2 335.1,446.6" fill="#ffa2a2"/>
<polygon points="351.2,457.3 355.4,455.8 352.8,451.9 348.6,453.1" fill="#ffc9c9"/>
<polygon points="300.0,459.6 304.4,456.1 302.1,452.3 297.8,456.4" fill="#ffd1d1"/>
<polygon points="375.9,461.8 380.0,460.3 377.2,457.1 373.1,458.5" fill="#fff1f1"/>
<polygon points="319.7,449.6 324.0,446.5 321.6,441.7 317.3,445.0" fill="#ff9292"/>
<polygon points="358.0,459.6 362.2,458.0 359.5,454.4 355.4,455.8" fill="#ffd8d8"/>
<polygon points="295.7,462.8 300.0,459.6 297.8,456.4 293.5,460.2" fill="#ffecec"/>
<polygon points="315.4,453.0 319.7,449.6 317.3,445.0 313.0,448.6" fill="#ffa1a1"/>
<polygon points="326.5,451.2 330.8,448.6 328.3,443.8 324.0,446.5" fill="#ff9898"/>
<polygon points="382.8,463.2 386.9,461.7 384.0,458.9 380.0,460.3" fill="#fffbfb"/>
<polygon points="364.8,461.4 369.0,460.0 366.3,456.5 362.2,458.0" fill="#ffe4e4"/>
<polygon points="311.0,456.5 315.4,453.0 313.0,448.6 308.7,452.3" fill="#ffb3b3"/>
<polygon points="333.3,453.3 337.6,451.4 335.1,446.6 330.8,448.6" fill="#ffa4a4"/>
<polygon points="340.1,456.0 344.4,454.5 341.8,449.9 337.6,451.4" fill="#ffb5b5"/>
<polygon points="346.9,458.7 351.2,457.3 348.6,453.1 344.4,454.5" fill="#ffc8c8"/>
<polygon points="306.7,459.8 311.0,456.5 308.7,452.3 304.4,456.1" fill="#ffc7c7"/>
<polygon points="371.7,463.2 375.9,461.8 373.1,458.5 369.0,460.0" fill="#ffefef"/>
<polygon points="322.1,454.1 326.5,451.2 324.0,446.5 319.7,449.6" fill="#ffa4a4"/>
<polygon points="353.8,461.1 358.0,459.6 355.4,455.8 351.2,457.3" fill="#ffd8d8"/>
<polygon points="302.3,462.8 306.7,459.8 304.4,456.1 300.0,459.6" fill="#ffdcdc"/>
<polygon points="317.8,457.2 322.1,454.1 319.7,449.6 315.4,453.0" fill="#ffb2b2"/>
<polygon points="328.9,455.7 333.3,453.3 330.8,448.6 326.5,451.2" fill="#ffabab"/>
<polygon points="360.6,463.0 364.8,461.4 362.2,458.0 358.0,459.6" fill="#ffe4e4"/>
<polygon points="378.7,464.7 382.8,463.2 380.0,460.3 375.9,461.8" fill="#fffafa"/>
<polygon points="335.8,457.8 340.1,456.0 337.6,451.4 333.3,453.3" fill="#ffb7b7"/>
<polygon points="297.9,465.4 302.3,462.8 300.0,459.6 295.7,462.8" fill="#fff1f1"/>
<polygon points="313.4,460.3 317.8,457.2 315.4,453.0 311.0,456.5" fill="#ffc3c3"/>
<polygon points="342.6,460.3 346.9,458.7 344.4,454.5 340.1,456.0" fill="#ffc8c8"/>
<polygon points="367.6,464.7 371.7,463.2 369.0,460.0 364.8,461.4" fill="#ffefef"/>
<polygon points="324.6,458.3 328.9,455.7 326.5,451.2 322.1,454.1" fill="#ffb5b5"/>
<polygon points="349.5,462.7 353.8,461.1 351.2,457.3 346.9,458.7" fill="#ffd8d8"/>
<polygon points="309.0,463.2 313.4,460.3 311.0,456.5 306.7,459.8" fill="#ffd4d4"/>
<polygon points="356.4,464.7 360.6,463.0 358.0,459.6 353.8,461.1" fill="#ffe5e5"/>
<polygon points="374.5,466.2 378.7,464.7 375.9,461.8 371.7,463.2" fill="#fff9f9"/>
<polygon points="331.4,460.0 335.8,457.8 333.3,453.3 328.9,455.7" fill="#ffbdbd"/>
<polygon points="320.2,461.1 324.6,458.3 322.1,454.1 317.8,457.2" fill="#ffc2c2"/>
<polygon points="304.6,465.9 309.0,463.2 306.7,459.8 302.3,462.8" fill="#ffe6e6"/>
<polygon points="338.3,462.1 342.6,460.3 340.1,456.0 335.8,457.8" fill="#ffcaca"/>
<polygon points="363.3,466.3 367.6,464.7 364.8,461.4 360.6,463.0" fill="#ffefef"/>
<polygon points="345.2,464.4 349.5,462.7 346.9,458.7 342.6,460.3" fill="#ffd9d9"/>
<polygon points="315.8,463.8 320.2,461.1 317.8,457.2 313.4,460.3" fill="#ffd0d0"/>
<polygon points="327.1,462.3 331.4,460.0 328.9,455.7 324.6,458.3" fill="#ffc5c5"/>
<polygon points="300.1,468.0 304.6,465.9 302.3,462.8 297.9,465.4" fill="#fff6f6"/>
<polygon points="352.1,466.4 356.4,464.7 353.8,461.1 349.5,462.7" fill="#ffe7e7"/>
<polygon points="370.3,467.8 374.5,466.2 371.7,463.2 367.6,464.7" fill="#fff9f9"/>
<polygon points="311.4,466.4 315.8,463.8 313.4,460.3 309.0,463.2" fill="#ffdfdf"/>
<polygon points="333.9,464.0 338.3,462.1 335.8,457.8 331.4,460.0" fill="#ffcece"/>
<polygon points="322.7,464.7 327.1,462.3 324.6,458.3 320.2,461.1" fill="#ffcfcf"/>
<polygon points="359.1,468.0 363.3,466.3 360.6,463.0 356.4,464.7" fill="#fff1f1"/>
<polygon points="340.9,466.1 345.2,464.4 342.6,460.3 338.3,462.1" fill="#ffdbdb"/>
<polygon points="306.9,468.7 311.4,466.4 309.0,463.2 304.6,465.9" fill="#ffeded"/>
<polygon points="347.8,468.1 352.1,466.4 349.5,462.7 345.2,464.4" fill="#ffe9e9"/>
<polygon points="329.6,466.0 333.9,464.0 331.4,460.0 327.1,462.3" fill="#ffd4d4"/>
<polygon points="366.1,469.3 370.3,467.8 367.6,464.7 363.3,466.3" fill="#fff9f9"/>
<polygon points="318.2,467.1 322.7,464.7 320.2,461.1 315.8,463.8" fill="#ffdbdb"/>
<polygon points="354.8,469.7 359.1,468.0 356.4,464.7 352.1,466.4" fill="#fff3f3"/>
<polygon points="336.5,467.8 340.9,466.1 338.3,462.1 333.9,464.0" fill="#ffdede"/>
<polygon points="302.4,470.6 306.9,468.7 304.6,465.9 300.1,468.0" fill="#fff9f9"/>
<polygon points="313.8,469.4 318.2,467.1 315.8,463.8 311.4,466.4" fill="#ffe7e7"/>
<polygon points="325.1,468.1 329.6,466.0 327.1,462.3 322.7,464.7" fill="#ffdbdb"/>
<polygon points="343.5,469.7 347.8,468.1 345.2,464.4 340.9,466.1" fill="#ffeaea"/>
<polygon points="361.8,470.9 366.1,469.3 363.3,466.3 359.1,468.0" fill="#fffafa"/>
<polygon points="332.1,469.6 336.5,467.8 333.9,464.0 329.6,466.0" fill="#ffe1e1"/>
<polygon points="350.5,471.3 354.8,469.7 352.1,466.4 347.8,468.1" fill="#fff5f5"/>
<polygon points="309.3,471.5 313.8,469.4 311.4,466.4 306.9,468.7" fill="#fff2f2"/>
<polygon points="320.7,470.2 325.1,468.1 322.7,464.7 318.2,467.1" fill="#ffe3e3"/>
<polygon points="339.1,471.3 343.5,469.7 340.9,466.1 336.5,467.8" fill="#ffecec"/>
<polygon points="357.5,472.5 361.8,470.9 359.1,468.0 354.8,469.7" fill="#fffbfb"/>
<polygon points="327.7,471.3 332.1,469.6 329.6,466.0 325.1,468.1" fill="#ffe5e5"/>
<polygon points="304.8,473.3 309.3,471.5 306.9,468.7 302.4,470.6" fill="#fffbfb"/>
<polygon points="346.1,472.9 350.5,471.3 347.8,468.1 343.5,469.7" fill="#fff7f7"/>
<polygon points="316.2,472.2 320.7,470.2 318.2,467.1 313.8,469.4" fill="#ffecec"/>
<polygon points="334.7,472.9 339.1,471.3 336.5,467.8 332.1,469.6" fill="#ffeded"/>
<polygon points="353.2,474.1 357.5,472.5 354.8,469.7 350.5,471.3" fill="#fffdfd"/>
<polygon points="323.2,473.2 327.7,471.3 325.1,468.1 320.7,470.2" fill="#ffeaea"/>
<polygon points="311.7,474.2 316.2,472.2 313.8,469.4 309.3,471.5" fill="#fff4f4"/>
<polygon points="341.7,474.5 346.1,472.9 343.5,469.7 339.1,471.3" fill="#fff7f7"/>
<polygon points="330.2,474.5 334.7,472.9 332.1,469.6 327.7,471.3" fill="#ffeeee"/>
<polygon points="348.8,475.7 353.2,474.1 350.5,471.3 346.1,472.9" fill="#fffefe"/>
<polygon points="318.7,475.0 323.2,473.2 320.7,470.2 316.2,472.2" fill="#ffefef"/>
<polygon points="307.1,476.1 311.7,474.2 309.3,471.5 304.8,473.3" fill="#fffbfb"/>
<polygon points="337.2,476.0 341.7,474.5 339.1,471.3 334.7,472.9" fill="#fff6f6"/>
<polygon points="325.7,476.1 330.2,474.5 327.7,471.3 323.2,473.2" fill="#fff0f0"/>
<polygon points="314.1,476.9 318.7,475.0 316.2,472.2 311.7,474.2" fill="#fff5f5"/>
<polygon points="344.3,477.4 348.8,475.7 346.1,472.9 341.7,474.5" fill="#fffdfd"/>
<polygon points="332.8,477.6 337.2,476.0 334.7,472.9 330.2,474.5" fill="#fff5f5"/>
<polygon points="321.2,477.9 325.7,476.1 323.2,473.2 318.7,475.0" fill="#fff2f2"/>
<polygon points="309.5,478.8 314.1,476.9 311.7,474.2 307.1,476.1" fill="#fffbfb"/>
<polygon points="339.9,479.0 344.3,477.4 341.7,474.5 337.2,476.0" fill="#fffcfc"/>
<polygon points="328.2,479.2 332.8,477.6 330.2,474.5 325.7,476.1" fill="#fff5f5"/>
<polygon points="316.6,479.7 321.2,477.9 318.7,475.0 314.1,476.9" fill="#fff5f5"/>
<polygon points="335.4,480.7 339.9,479.0 337.2,476.0 332.8,477.6" fill="#fffbfb"/>
<polygon points="323.7,480.8 328.2,479.2 325.7,476.1 321.2,477.9" fill="#fff5f5"/>
<polygon points="312.0,481.7 316.6,479.7 314.1,476.9 309.5,478.8" fill="#fffbfb"/>
<polygon points="330.8,482.3 335.4,480.7 332.8,477.6 328.2,479.2" fill="#fffbfb"/>
<polygon points="319.1,482.6 323.7,480.8 321.2,477.9 316.6,479.7" fill="#fff7f7"/>
<polygon points="326.3,484.0 330.8,482.3 328.2,479.2 323.7,480.8" fill="#fffafa"/>
<polygon points="314.4,484.5 319.1,482.6 316.6,479.7 312.0,481.7" fill="#fffbfb"/>
<polygon points="321.6,485.7 326.3,484.0 323.7,480.8 319.1,482.6" fill="#fffbfb"/>
<polygon points="317.0,487.4 321.6,485.7 319.1,482.6 314.4,484.5" fill="#fffdfd"/>
</g>
<line x1="317.93" y1="525.61" x2="315.85" y2="444.23" stroke="#666" stroke-width="0.6"/>
<line x1="276.29" y1="472.53" x2="317.93" y2="525.61" stroke="#8a8a8a" stroke-width="0.6"/>
<line x1="317.93" y1="525.61" x2="399.17" y2="492.61" stroke="#8a8a8a" stroke-width="0.6"/>
<line x1="267.92" y1="405.29" x2="270.52" y2="405.29" stroke="#666" stroke-width="0.5"/>
<text x="265.92" y="405.76" font-size="7.4" text-anchor="end" fill="#111">40</text>
<line x1="269.30" y1="421.38" x2="271.90" y2="421.38" stroke="#666" stroke-width="0.5"/>
<text x="267.30" y="421.84" font-size="7.4" text-anchor="end" fill="#111">20</text>
<line x1="270.62" y1="436.78" x2="273.22" y2="436.78" stroke="#666" stroke-width="0.5"/>
<text x="268.62" y="437.24" font-size="7.4" text-anchor="end" fill="#111">0</text>
<line x1="271.89" y1="451.53" x2="274.49" y2="451.53" stroke="#666" stroke-width="0.5"/>
<text x="269.89" y="451.99" font-size="7.4" text-anchor="end" fill="#111">−20</text>
<line x1="273.10" y1="465.67" x2="275.70" y2="465.67" stroke="#666" stroke-width="0.5"/>
<text x="271.10" y="466.14" font-size="7.4" text-anchor="end" fill="#111">−40</text>
<text transform="translate(251.40,431.00) rotate(-90)" y="3.35" font-size="9.3" text-anchor="middle" fill="#111">δ-score</text>
<text x="265.30" y="482.92" font-size="7.0" text-anchor="middle" fill="#111">10000</text>
<text x="276.80" y="494.82" font-size="7.0" text-anchor="middle" fill="#111">3000</text>
<text x="286.70" y="508.52" font-size="7.0" text-anchor="middle" fill="#111">1000</text>
<text x="299.10" y="522.12" font-size="7.0" text-anchor="middle" fill="#111">100</text>
<text x="340.00" y="529.12" font-size="7.0" text-anchor="middle" fill="#111">10</text>
<text x="360.40" y="520.12" font-size="7.0" text-anchor="middle" fill="#111">30</text>
<text x="381.50" y="511.72" font-size="7.0" text-anchor="middle" fill="#111">100</text>
<text x="398.30" y="505.32" font-size="7.0" text-anchor="middle" fill="#111">300</text>
<line x1="277.67" y1="474.29" x2="275.07" y2="475.69" stroke="#555" stroke-width="0.55"/>
<line x1="287.09" y1="486.29" x2="284.49" y2="487.69" stroke="#555" stroke-width="0.55"/>
<line x1="297.51" y1="499.58" x2="294.91" y2="500.98" stroke="#555" stroke-width="0.55"/>
<line x1="308.09" y1="513.08" x2="305.49" y2="514.48" stroke="#555" stroke-width="0.55"/>
<line x1="335.32" y1="518.55" x2="336.02" y2="521.35" stroke="#555" stroke-width="0.55"/>
<line x1="355.97" y1="510.16" x2="356.67" y2="512.96" stroke="#555" stroke-width="0.55"/>
<line x1="377.01" y1="501.61" x2="377.71" y2="504.41" stroke="#555" stroke-width="0.55"/>
<line x1="393.66" y1="494.85" x2="394.36" y2="497.65" stroke="#555" stroke-width="0.55"/>
<text transform="translate(271.00,513.40) rotate(51)" y="3.31" font-size="9.2" text-anchor="middle" fill="#111">MK-2206 (nM)</text>
<text transform="translate(373.40,532.00) rotate(-21)" y="3.31" font-size="9.2" text-anchor="middle" fill="#111">VTP50469 (nM)</text>
<text transform="translate(266.20,393.10) rotate(-13.8)" font-size="9.5" fill="#111">ZIP synergy: 21.738</text>
<defs><linearGradient id="cbG" x1="0" x2="0" y1="0" y2="1"><stop offset="0.00" stop-color="#ff0000"/><stop offset="0.05" stop-color="#ff1313"/><stop offset="0.10" stop-color="#ff2727"/><stop offset="0.15" stop-color="#ff3c3c"/><stop offset="0.20" stop-color="#ff5151"/><stop offset="0.25" stop-color="#ff6767"/><stop offset="0.30" stop-color="#ff7f7f"/><stop offset="0.35" stop-color="#ff9898"/><stop offset="0.40" stop-color="#ffb3b3"/><stop offset="0.45" stop-color="#ffd2d2"/><stop offset="0.50" stop-color="#ffffff"/><stop offset="0.55" stop-color="#d2fbd2"/><stop offset="0.60" stop-color="#b3f8b3"/><stop offset="0.65" stop-color="#98f598"/><stop offset="0.70" stop-color="#7ff27f"/><stop offset="0.75" stop-color="#67f067"/><stop offset="0.80" stop-color="#51ee51"/><stop offset="0.85" stop-color="#3cec3c"/><stop offset="0.90" stop-color="#27ea27"/><stop offset="0.95" stop-color="#13e813"/><stop offset="1.00" stop-color="#00e600"/></linearGradient></defs>
<rect x="408" y="459.5" width="7.5" height="36.00" fill="url(#cbG)"/>
<text x="406.3" y="457.7" font-size="9.3" fill="#111">δ-score</text>
<text x="416.6" y="465.10" font-size="6.8" fill="#111">40</text>
<text x="416.6" y="472.90" font-size="6.8" fill="#111">20</text>
<text x="416.6" y="480.70" font-size="6.8" fill="#111">0</text>
<text x="416.6" y="488.50" font-size="6.8" fill="#111">−20</text>
<text x="416.6" y="496.30" font-size="6.8" fill="#111">−40</text>
<text x="250.5" y="375.5" font-size="13.5" fill="#111">G</text>
<line x1="271.75" y1="588.25" x2="354.46" y2="566.70" stroke="#8a8a8a" stroke-width="0.6"/>
<line x1="354.46" y1="566.70" x2="409.24" y2="607.27" stroke="#8a8a8a" stroke-width="0.6"/>
<line x1="409.24" y1="607.27" x2="317.80" y2="636.45" stroke="#8a8a8a" stroke-width="0.6"/>
<line x1="317.80" y1="636.45" x2="271.75" y2="588.25" stroke="#8a8a8a" stroke-width="0.6"/>
<line x1="278.12" y1="664.68" x2="271.75" y2="588.25" stroke="#8a8a8a" stroke-width="0.6"/>
<line x1="401.19" y1="686.16" x2="409.24" y2="607.27" stroke="#8a8a8a" stroke-width="0.6"/>
<line x1="352.56" y1="639.83" x2="354.46" y2="566.70" stroke="#111" stroke-width="0.9" stroke-dasharray="2.3,1.7"/>
<line x1="278.12" y1="664.68" x2="352.56" y2="639.83" stroke="#111" stroke-width="0.9" stroke-dasharray="2.3,1.7"/>
<line x1="352.56" y1="639.83" x2="401.19" y2="686.16" stroke="#111" stroke-width="0.9" stroke-dasharray="2.3,1.7"/>
<g stroke="#383838" stroke-width="0.48" stroke-linejoin="round">
<polygon points="352.6,585.1 356.4,582.6 354.1,581.2 350.3,583.8" fill="#ff4d4d"/>
<polygon points="348.8,587.3 352.6,585.1 350.3,583.8 346.5,586.0" fill="#ff5454"/>
<polygon points="345.0,589.0 348.8,587.3 346.5,586.0 342.7,587.8" fill="#ff5959"/>
<polygon points="355.0,586.5 358.8,583.6 356.4,582.6 352.6,585.1" fill="#ff4a4a"/>
<polygon points="341.1,590.4 345.0,589.0 342.7,587.8 338.8,589.3" fill="#ff5c5c"/>
<polygon points="351.1,588.7 355.0,586.5 352.6,585.1 348.8,587.3" fill="#ff5151"/>
<polygon points="337.2,591.4 341.1,590.4 338.8,589.3 335.0,590.5" fill="#ff5e5e"/>
<polygon points="347.3,590.5 351.1,588.7 348.8,587.3 345.0,589.0" fill="#ff5656"/>
<polygon points="357.4,587.9 361.3,584.5 358.8,583.6 355.0,586.5" fill="#ff4646"/>
<polygon points="333.3,592.2 337.2,591.4 335.0,590.5 331.1,591.4" fill="#ff5d5d"/>
<polygon points="343.4,591.8 347.3,590.5 345.0,589.0 341.1,590.4" fill="#ff5959"/>
<polygon points="353.5,590.5 357.4,587.9 355.0,586.5 351.1,588.7" fill="#ff4f4f"/>
<polygon points="339.5,592.7 343.4,591.8 341.1,590.4 337.2,591.4" fill="#ff5959"/>
<polygon points="349.6,592.3 353.5,590.5 351.1,588.7 347.3,590.5" fill="#ff5555"/>
<polygon points="329.4,592.8 333.3,592.2 331.1,591.4 327.2,592.0" fill="#ff5b5b"/>
<polygon points="345.7,593.6 349.6,592.3 347.3,590.5 343.4,591.8" fill="#ff5757"/>
<polygon points="359.8,589.6 363.8,585.4 361.3,584.5 357.4,587.9" fill="#ff4242"/>
<polygon points="335.6,593.3 339.5,592.7 337.2,591.4 333.3,592.2" fill="#ff5858"/>
<polygon points="355.9,592.6 359.8,589.6 357.4,587.9 353.5,590.5" fill="#ff4e4e"/>
<polygon points="325.4,593.2 329.4,592.8 327.2,592.0 323.2,592.4" fill="#ff5757"/>
<polygon points="352.0,594.6 355.9,592.6 353.5,590.5 349.6,592.3" fill="#ff5555"/>
<polygon points="341.8,594.3 345.7,593.6 343.4,591.8 339.5,592.7" fill="#ff5757"/>
<polygon points="331.6,593.8 335.6,593.3 333.3,592.2 329.4,592.8" fill="#ff5555"/>
<polygon points="348.1,595.8 352.0,594.6 349.6,592.3 345.7,593.6" fill="#ff5858"/>
<polygon points="321.4,593.5 325.4,593.2 323.2,592.4 319.2,592.5" fill="#ff5353"/>
<polygon points="362.3,591.7 366.3,586.6 363.8,585.4 359.8,589.6" fill="#ff4040"/>
<polygon points="358.3,595.2 362.3,591.7 359.8,589.6 355.9,592.6" fill="#ff4f4f"/>
<polygon points="337.9,594.7 341.8,594.3 339.5,592.7 335.6,593.3" fill="#ff5454"/>
<polygon points="354.4,597.3 358.3,595.2 355.9,592.6 352.0,594.6" fill="#ff5858"/>
<polygon points="327.6,594.1 331.6,593.8 329.4,592.8 325.4,593.2" fill="#ff5151"/>
<polygon points="344.2,596.3 348.1,595.8 345.7,593.6 341.8,594.3" fill="#ff5656"/>
<polygon points="317.3,593.7 321.4,593.5 319.2,592.5 315.2,592.5" fill="#ff4e4e"/>
<polygon points="350.5,598.4 354.4,597.3 352.0,594.6 348.1,595.8" fill="#ff5a5a"/>
<polygon points="333.9,595.0 337.9,594.7 335.6,593.3 331.6,593.8" fill="#ff5151"/>
<polygon points="360.7,598.3 364.7,594.3 362.3,591.7 358.3,595.2" fill="#ff5252"/>
<polygon points="364.7,594.3 368.8,588.3 366.3,586.6 362.3,591.7" fill="#ff4040"/>
<polygon points="323.6,594.4 327.6,594.1 325.4,593.2 321.4,593.5" fill="#ff4d4d"/>
<polygon points="356.8,600.6 360.7,598.3 358.3,595.2 354.4,597.3" fill="#ff5d5d"/>
<polygon points="340.2,596.5 344.2,596.3 341.8,594.3 337.9,594.7" fill="#ff5353"/>
<polygon points="346.5,598.7 350.5,598.4 348.1,595.8 344.2,596.3" fill="#ff5858"/>
<polygon points="313.2,594.0 317.3,593.7 315.2,592.5 311.1,592.6" fill="#ff4848"/>
<polygon points="329.9,595.1 333.9,595.0 331.6,593.8 327.6,594.1" fill="#ff4c4c"/>
<polygon points="352.9,601.6 356.8,600.6 354.4,597.3 350.5,598.4" fill="#ff5f5f"/>
<polygon points="363.2,601.9 367.2,597.5 364.7,594.3 360.7,598.3" fill="#ff5959"/>
<polygon points="359.2,604.3 363.2,601.9 360.7,598.3 356.8,600.6" fill="#ff6464"/>
<polygon points="319.5,594.8 323.6,594.4 321.4,593.5 317.3,593.7" fill="#ff4949"/>
<polygon points="367.2,597.5 371.3,590.6 368.8,588.3 364.7,594.3" fill="#ff4242"/>
<polygon points="336.2,596.4 340.2,596.5 337.9,594.7 333.9,595.0" fill="#ff4e4e"/>
<polygon points="342.6,598.6 346.5,598.7 344.2,596.3 340.2,596.5" fill="#ff5353"/>
<polygon points="309.1,594.4 313.2,594.0 311.1,592.6 306.9,592.9" fill="#ff4444"/>
<polygon points="348.9,601.6 352.9,601.6 350.5,598.4 346.5,598.7" fill="#ff5c5c"/>
<polygon points="325.8,595.4 329.9,595.1 327.6,594.1 323.6,594.4" fill="#ff4848"/>
<polygon points="355.3,605.2 359.2,604.3 356.8,600.6 352.9,601.6" fill="#ff6767"/>
<polygon points="365.6,606.1 369.6,601.4 367.2,597.5 363.2,601.9" fill="#ff6262"/>
<polygon points="361.6,608.6 365.6,606.1 363.2,601.9 359.2,604.3" fill="#ff6f6f"/>
<polygon points="277.0,630.5 280.5,620.3 278.6,618.6 275.1,628.3" fill="#ffcbcb"/>
<polygon points="315.4,595.2 319.5,594.8 317.3,593.7 313.2,594.0" fill="#ff4444"/>
<polygon points="369.6,601.4 373.9,593.9 371.3,590.6 367.2,597.5" fill="#ff4848"/>
<polygon points="332.2,596.3 336.2,596.4 333.9,595.0 329.9,595.1" fill="#ff4848"/>
<polygon points="304.9,595.0 309.1,594.4 306.9,592.9 302.8,593.5" fill="#ff4040"/>
<polygon points="368.0,611.0 372.1,606.1 369.6,601.4 365.6,606.1" fill="#ff7070"/>
<polygon points="357.7,609.3 361.6,608.6 359.2,604.3 355.3,605.2" fill="#ff7272"/>
<polygon points="364.0,613.4 368.0,611.0 365.6,606.1 361.6,608.6" fill="#ff7e7e"/>
<polygon points="338.6,598.2 342.6,598.6 340.2,596.5 336.2,596.4" fill="#ff4c4c"/>
<polygon points="351.3,605.0 355.3,605.2 352.9,601.6 348.9,601.6" fill="#ff6363"/>
<polygon points="321.7,595.8 325.8,595.4 323.6,594.4 319.5,594.8" fill="#ff4343"/>
<polygon points="345.0,601.1 348.9,601.6 346.5,598.7 342.6,598.6" fill="#ff5656"/>
<polygon points="311.2,595.7 315.4,595.2 313.2,594.0 309.1,594.4" fill="#ff4040"/>
<polygon points="372.1,606.1 376.3,598.1 373.9,593.9 369.6,601.4" fill="#ff5353"/>
<polygon points="370.4,616.3 374.5,611.4 372.1,606.1 368.0,611.0" fill="#ff8181"/>
<polygon points="366.5,618.7 370.4,616.3 368.0,611.0 364.0,613.4" fill="#ff9191"/>
<polygon points="300.7,596.2 304.9,595.0 302.8,593.5 298.6,594.8" fill="#ff3f3f"/>
<polygon points="328.1,596.5 332.2,596.3 329.9,595.1 325.8,595.4" fill="#ff4343"/>
<polygon points="360.1,613.9 364.0,613.4 361.6,608.6 357.7,609.3" fill="#ff8080"/>
<polygon points="280.5,620.3 284.3,612.1 282.4,610.8 278.6,618.6" fill="#ff9393"/>
<polygon points="278.9,632.8 282.5,622.3 280.5,620.3 277.0,630.5" fill="#ffcaca"/>
<polygon points="372.8,621.9 377.0,616.8 374.5,611.4 370.4,616.3" fill="#ff9696"/>
<polygon points="353.8,608.8 357.7,609.3 355.3,605.2 351.3,605.0" fill="#ff6c6c"/>
<polygon points="317.5,596.3 321.7,595.8 319.5,594.8 315.4,595.2" fill="#ff3f3f"/>
<polygon points="368.9,624.2 372.8,621.9 370.4,616.3 366.5,618.7" fill="#ffa6a6"/>
<polygon points="374.5,611.4 378.8,603.0 376.3,598.1 372.1,606.1" fill="#ff6262"/>
<polygon points="334.5,597.8 338.6,598.2 336.2,596.4 332.2,596.3" fill="#ff4545"/>
<polygon points="347.4,604.1 351.3,605.0 348.9,601.6 345.0,601.1" fill="#ff5a5a"/>
<polygon points="362.5,619.0 366.5,618.7 364.0,613.4 360.1,613.9" fill="#ff9292"/>
<polygon points="296.5,598.2 300.7,596.2 298.6,594.8 294.5,596.9" fill="#ff4242"/>
<polygon points="340.9,600.3 345.0,601.1 342.6,598.6 338.6,598.2" fill="#ff4d4d"/>
<polygon points="307.0,596.5 311.2,595.7 309.1,594.4 304.9,595.0" fill="#ff3d3d"/>
<polygon points="375.3,627.4 379.4,622.0 377.0,616.8 372.8,621.9" fill="#ffacac"/>
<polygon points="284.3,612.1 288.3,605.9 286.3,604.7 282.4,610.8" fill="#ff6f6f"/>
<polygon points="371.3,629.8 375.3,627.4 372.8,621.9 368.9,624.2" fill="#ffbebe"/>
<polygon points="377.0,616.8 381.3,608.1 378.8,603.0 374.5,611.4" fill="#ff7474"/>
<polygon points="323.9,596.8 328.1,596.5 325.8,595.4 321.7,595.8" fill="#ff3e3e"/>
<polygon points="292.3,601.3 296.5,598.2 294.5,596.9 290.4,600.1" fill="#ff4949"/>
<polygon points="356.2,613.1 360.1,613.9 357.7,609.3 353.8,608.8" fill="#ff7979"/>
<polygon points="288.3,605.9 292.3,601.3 290.4,600.1 286.3,604.7" fill="#ff5858"/>
<polygon points="365.0,624.4 368.9,624.2 366.5,618.7 362.5,619.0" fill="#ffa6a6"/>
<polygon points="377.7,632.6 381.9,626.9 379.4,622.0 375.3,627.4" fill="#ffc2c2"/>
<polygon points="313.4,597.0 317.5,596.3 315.4,595.2 311.2,595.7" fill="#ff3c3c"/>
<polygon points="373.7,635.3 377.7,632.6 375.3,627.4 371.3,629.8" fill="#ffd9d9"/>
<polygon points="280.9,635.1 284.5,624.5 282.5,622.3 278.9,632.8" fill="#ffc9c9"/>
<polygon points="302.8,597.7 307.0,596.5 304.9,595.0 300.7,596.2" fill="#ff3c3c"/>
<polygon points="379.4,622.0 383.8,613.0 381.3,608.1 377.0,616.8" fill="#ff8686"/>
<polygon points="282.5,622.3 286.3,613.9 284.3,612.1 280.5,620.3" fill="#ff9090"/>
<polygon points="330.4,597.8 334.5,597.8 332.2,596.3 328.1,596.5" fill="#ff3e3e"/>
<polygon points="349.8,607.5 353.8,608.8 351.3,605.0 347.4,604.1" fill="#ff6161"/>
<polygon points="367.4,630.0 371.3,629.8 368.9,624.2 365.0,624.4" fill="#ffbebe"/>
<polygon points="358.6,617.9 362.5,619.0 360.1,613.9 356.2,613.1" fill="#ff8888"/>
<polygon points="336.9,599.6 340.9,600.3 338.6,598.2 334.5,597.8" fill="#ff4444"/>
<polygon points="343.3,602.9 347.4,604.1 345.0,601.1 340.9,600.3" fill="#ff4f4f"/>
<polygon points="376.2,640.5 380.2,637.4 377.7,632.6 373.7,635.3" fill="#fffafa"/>
<polygon points="380.2,637.4 384.5,631.3 381.9,626.9 377.7,632.6" fill="#ffd7d7"/>
<polygon points="319.8,597.4 323.9,596.8 321.7,595.8 317.5,596.3" fill="#ff3a3a"/>
<polygon points="369.8,635.6 373.7,635.3 371.3,629.8 367.4,630.0" fill="#ffdada"/>
<polygon points="381.9,626.9 386.4,617.3 383.8,613.0 379.4,622.0" fill="#ff9696"/>
<polygon points="298.6,599.7 302.8,597.7 300.7,596.2 296.5,598.2" fill="#ff3f3f"/>
<polygon points="309.1,597.9 313.4,597.0 311.2,595.7 307.0,596.5" fill="#ff3a3a"/>
<polygon points="286.3,613.9 290.3,607.6 288.3,605.9 284.3,612.1" fill="#ff6c6c"/>
<polygon points="361.1,623.1 365.0,624.4 362.5,619.0 358.6,617.9" fill="#ff9a9a"/>
<polygon points="352.2,611.5 356.2,613.1 353.8,608.8 349.8,607.5" fill="#ff6b6b"/>
<polygon points="294.4,602.9 298.6,599.7 296.5,598.2 292.3,601.3" fill="#ff4646"/>
<polygon points="372.3,641.1 376.2,640.5 373.7,635.3 369.8,635.6" fill="#fbfffb"/>
<polygon points="326.2,598.1 330.4,597.8 328.1,596.5 323.9,596.8" fill="#ff3939"/>
<polygon points="378.7,645.2 382.8,641.8 380.2,637.4 376.2,640.5" fill="#e1fce1"/>
<polygon points="290.3,607.6 294.4,602.9 292.3,601.3 288.3,605.9" fill="#ff5454"/>
<polygon points="382.8,641.8 387.1,635.3 384.5,631.3 380.2,637.4" fill="#ffecec"/>
<polygon points="282.8,637.4 286.5,627.1 284.5,624.5 280.9,635.1" fill="#ffcaca"/>
<polygon points="315.6,598.3 319.8,597.4 317.5,596.3 313.4,597.0" fill="#ff3838"/>
<polygon points="363.5,628.6 367.4,630.0 365.0,624.4 361.1,623.1" fill="#ffb0b0"/>
<polygon points="284.5,624.5 288.3,616.1 286.3,613.9 282.5,622.3" fill="#ff8f8f"/>
<polygon points="384.5,631.3 389.0,621.2 386.4,617.3 381.9,626.9" fill="#ffa4a4"/>
<polygon points="304.9,599.3 309.1,597.9 307.0,596.5 302.8,597.7" fill="#ff3939"/>
<polygon points="345.8,606.0 349.8,607.5 347.4,604.1 343.3,602.9" fill="#ff5454"/>
<polygon points="332.7,599.4 336.9,599.6 334.5,597.8 330.4,597.8" fill="#ff3c3c"/>
<polygon points="374.8,646.2 378.7,645.2 376.2,640.5 372.3,641.1" fill="#dbfbdb"/>
<polygon points="339.3,601.9 343.3,602.9 340.9,600.3 336.9,599.6" fill="#ff4444"/>
<polygon points="354.7,616.0 358.6,617.9 356.2,613.1 352.2,611.5" fill="#ff7878"/>
<polygon points="366.0,634.4 369.8,635.6 367.4,630.0 363.5,628.6" fill="#ffcaca"/>
<polygon points="381.3,649.1 385.4,645.5 382.8,641.8 378.7,645.2" fill="#d1fad1"/>
<polygon points="322.0,598.8 326.2,598.1 323.9,596.8 319.8,597.4" fill="#ff3636"/>
<polygon points="300.7,601.5 304.9,599.3 302.8,597.7 298.6,599.7" fill="#ff3c3c"/>
<polygon points="385.4,645.5 389.7,638.9 387.1,635.3 382.8,641.8" fill="#f8fef8"/>
<polygon points="311.3,599.5 315.6,598.3 313.4,597.0 309.1,597.9" fill="#ff3636"/>
<polygon points="288.3,616.1 292.4,609.7 290.3,607.6 286.3,613.9" fill="#ff6a6a"/>
<polygon points="368.4,640.1 372.3,641.1 369.8,635.6 366.0,634.4" fill="#ffe9e9"/>
<polygon points="387.1,635.3 391.7,625.0 389.0,621.2 384.5,631.3" fill="#ffb0b0"/>
<polygon points="357.2,620.9 361.1,623.1 358.6,617.9 354.7,616.0" fill="#ff8888"/>
<polygon points="377.4,650.5 381.3,649.1 378.7,645.2 374.8,646.2" fill="#c8fac8"/>
<polygon points="348.2,609.6 352.2,611.5 349.8,607.5 345.8,606.0" fill="#ff5c5c"/>
<polygon points="296.5,604.9 300.7,601.5 298.6,599.7 294.4,602.9" fill="#ff4444"/>
<polygon points="292.4,609.7 296.5,604.9 294.4,602.9 290.3,607.6" fill="#ff5353"/>
<polygon points="328.6,599.7 332.7,599.4 330.4,597.8 326.2,598.1" fill="#ff3636"/>
<polygon points="284.9,639.8 288.6,629.9 286.5,627.1 282.8,637.4" fill="#ffcbcb"/>
<polygon points="286.5,627.1 290.4,618.8 288.3,616.1 284.5,624.5" fill="#ff9090"/>
<polygon points="370.9,645.5 374.8,646.2 372.3,641.1 368.4,640.1" fill="#e9fde9"/>
<polygon points="341.7,604.7 345.8,606.0 343.3,602.9 339.3,601.9" fill="#ff4747"/>
<polygon points="317.8,599.8 322.0,598.8 319.8,597.4 315.6,598.3" fill="#ff3434"/>
<polygon points="335.1,601.5 339.3,601.9 336.9,599.6 332.7,599.4" fill="#ff3b3b"/>
<polygon points="307.1,601.1 311.3,599.5 309.1,597.9 304.9,599.3" fill="#ff3737"/>
<polygon points="359.6,626.3 363.5,628.6 361.1,623.1 357.2,620.9" fill="#ff9b9b"/>
<polygon points="384.0,652.2 388.1,648.5 385.4,645.5 381.3,649.1" fill="#c8fac8"/>
<polygon points="388.1,648.5 392.5,642.3 389.7,638.9 385.4,645.5" fill="#eafdea"/>
<polygon points="389.7,638.9 394.4,628.7 391.7,625.0 387.1,635.3" fill="#ffbbbb"/>
<polygon points="350.7,613.8 354.7,616.0 352.2,611.5 348.2,609.6" fill="#ff6666"/>
<polygon points="362.1,632.1 366.0,634.4 363.5,628.6 359.6,626.3" fill="#ffb2b2"/>
<polygon points="380.0,653.8 384.0,652.2 381.3,649.1 377.4,650.5" fill="#bff9bf"/>
<polygon points="290.4,618.8 294.5,612.2 292.4,609.7 288.3,616.1" fill="#ff6b6b"/>
<polygon points="373.5,650.2 377.4,650.5 374.8,646.2 370.9,645.5" fill="#d1fbd1"/>
<polygon points="302.8,603.7 307.1,601.1 304.9,599.3 300.7,601.5" fill="#ff3b3b"/>
<polygon points="324.3,600.4 328.6,599.7 326.2,598.1 322.0,598.8" fill="#ff3333"/>
<polygon points="313.6,601.2 317.8,599.8 315.6,598.3 311.3,599.5" fill="#ff3434"/>
<polygon points="298.6,607.3 302.8,603.7 300.7,601.5 296.5,604.9" fill="#ff4444"/>
<polygon points="364.5,638.0 368.4,640.1 366.0,634.4 362.1,632.1" fill="#ffcccc"/>
<polygon points="286.9,642.2 290.7,632.8 288.6,629.9 284.9,639.8" fill="#ffcece"/>
<polygon points="294.5,612.2 298.6,607.3 296.5,604.9 292.4,609.7" fill="#ff5353"/>
<polygon points="288.6,629.9 292.6,621.7 290.4,618.8 286.5,627.1" fill="#ff9393"/>
<polygon points="344.1,608.1 348.2,609.6 345.8,606.0 341.7,604.7" fill="#ff4d4d"/>
<polygon points="330.9,601.7 335.1,601.5 332.7,599.4 328.6,599.7" fill="#ff3535"/>
<polygon points="353.2,618.6 357.2,620.9 354.7,616.0 350.7,613.8" fill="#ff7474"/>
<polygon points="337.5,604.2 341.7,604.7 339.3,601.9 335.1,601.5" fill="#ff3d3d"/>
<polygon points="392.5,642.3 397.1,632.7 394.4,628.7 389.7,638.9" fill="#ffc5c5"/>
<polygon points="386.8,654.1 390.9,650.8 388.1,648.5 384.0,652.2" fill="#c7fac7"/>
<polygon points="367.0,643.7 370.9,645.5 368.4,640.1 364.5,638.0" fill="#ffebeb"/>
<polygon points="309.3,603.3 313.6,601.2 311.3,599.5 307.1,601.1" fill="#ff3636"/>
<polygon points="320.1,601.7 324.3,600.4 322.0,598.8 317.8,599.8" fill="#ff3131"/>
<polygon points="376.1,653.9 380.0,653.8 377.4,650.5 373.5,650.2" fill="#c4f9c4"/>
<polygon points="390.9,650.8 395.2,645.3 392.5,642.3 388.1,648.5" fill="#e5fce5"/>
<polygon points="355.6,623.9 359.6,626.3 357.2,620.9 353.2,618.6" fill="#ff8484"/>
<polygon points="292.6,621.7 296.6,615.1 294.5,612.2 290.4,618.8" fill="#ff6e6e"/>
<polygon points="382.8,655.8 386.8,654.1 384.0,652.2 380.0,653.8" fill="#bef9be"/>
<polygon points="305.0,606.1 309.3,603.3 307.1,601.1 302.8,603.7" fill="#ff3b3b"/>
<polygon points="346.6,612.1 350.7,613.8 348.2,609.6 344.1,608.1" fill="#ff5555"/>
<polygon points="326.7,602.6 330.9,601.7 328.6,599.7 324.3,600.4" fill="#ff3131"/>
<polygon points="369.6,648.7 373.5,650.2 370.9,645.5 367.0,643.7" fill="#e9fde9"/>
<polygon points="290.7,632.8 294.7,624.9 292.6,621.7 288.6,629.9" fill="#ff9797"/>
<polygon points="315.8,603.4 320.1,601.7 317.8,599.8 313.6,601.2" fill="#ff3232"/>
<polygon points="296.6,615.1 300.8,610.0 298.6,607.3 294.5,612.2" fill="#ff5555"/>
<polygon points="289.0,644.6 292.9,635.9 290.7,632.8 286.9,642.2" fill="#ffd0d0"/>
<polygon points="300.8,610.0 305.0,606.1 302.8,603.7 298.6,607.3" fill="#ff4545"/>
<polygon points="358.1,629.6 362.1,632.1 359.6,626.3 355.6,623.9" fill="#ff9999"/>
<polygon points="395.2,645.3 399.8,637.2 397.1,632.7 392.5,642.3" fill="#ffd0d0"/>
<polygon points="333.3,604.4 337.5,604.2 335.1,601.5 330.9,601.7" fill="#ff3636"/>
<polygon points="340.0,607.5 344.1,608.1 341.7,604.7 337.5,604.2" fill="#ff4141"/>
<polygon points="360.6,635.6 364.5,638.0 362.1,632.1 358.1,629.6" fill="#ffb0b0"/>
<polygon points="349.1,616.7 353.2,618.6 350.7,613.8 346.6,612.1" fill="#ff6161"/>
<polygon points="378.8,656.3 382.8,655.8 380.0,653.8 376.1,653.9" fill="#c2f9c2"/>
<polygon points="311.5,605.8 315.8,603.4 313.6,601.2 309.3,603.3" fill="#ff3535"/>
<polygon points="322.4,604.0 326.7,602.6 324.3,600.4 320.1,601.7" fill="#ff3131"/>
<polygon points="372.2,652.9 376.1,653.9 373.5,650.2 369.6,648.7" fill="#d6fbd6"/>
<polygon points="393.9,652.0 398.1,648.1 395.2,645.3 390.9,650.8" fill="#e7fde7"/>
<polygon points="294.7,624.9 298.8,618.4 296.6,615.1 292.6,621.7" fill="#ff7373"/>
<polygon points="389.8,654.7 393.9,652.0 390.9,650.8 386.8,654.1" fill="#d0fad0"/>
<polygon points="363.1,641.4 367.0,643.7 364.5,638.0 360.6,635.6" fill="#ffcaca"/>
<polygon points="307.3,608.9 311.5,605.8 309.3,603.3 305.0,606.1" fill="#ff3c3c"/>
<polygon points="292.9,635.9 296.9,628.3 294.7,624.9 290.7,632.8" fill="#ff9d9d"/>
<polygon points="398.1,648.1 402.4,642.5 399.8,637.2 395.2,645.3" fill="#ffdddd"/>
<polygon points="329.1,605.3 333.3,604.4 330.9,601.7 326.7,602.6" fill="#ff3333"/>
<polygon points="298.8,618.4 303.0,613.1 300.8,610.0 296.6,615.1" fill="#ff5959"/>
<polygon points="342.4,611.4 346.6,612.1 344.1,608.1 340.0,607.5" fill="#ff4949"/>
<polygon points="351.6,621.9 355.6,623.9 353.2,618.6 349.1,616.7" fill="#ff7070"/>
<polygon points="303.0,613.1 307.3,608.9 305.0,606.1 300.8,610.0" fill="#ff4848"/>
<polygon points="291.1,647.1 295.1,639.1 292.9,635.9 289.0,644.6" fill="#ffd3d3"/>
<polygon points="335.8,607.7 340.0,607.5 337.5,604.2 333.3,604.4" fill="#ff3a3a"/>
<polygon points="318.1,606.0 322.4,604.0 320.1,601.7 315.8,603.4" fill="#ff3232"/>
<polygon points="385.8,656.3 389.8,654.7 386.8,654.1 382.8,655.8" fill="#c8fac8"/>
<polygon points="365.6,646.8 369.6,648.7 367.0,643.7 363.1,641.4" fill="#ffe6e6"/>
<polygon points="354.1,627.5 358.1,629.6 355.6,623.9 351.6,621.9" fill="#ff8282"/>
<polygon points="374.9,655.9 378.8,656.3 376.1,653.9 372.2,652.9" fill="#cffacf"/>
<polygon points="296.9,628.3 301.1,621.9 298.8,618.4 294.7,624.9" fill="#ff7979"/>
<polygon points="313.8,608.7 318.1,606.0 315.8,603.4 311.5,605.8" fill="#ff3737"/>
<polygon points="324.8,606.9 329.1,605.3 326.7,602.6 322.4,604.0" fill="#ff3232"/>
<polygon points="344.9,615.9 349.1,616.7 346.6,612.1 342.4,611.4" fill="#ff5353"/>
<polygon points="401.0,650.6 405.0,648.7 402.4,642.5 398.1,648.1" fill="#ffefef"/>
<polygon points="368.2,651.5 372.2,652.9 369.6,648.7 365.6,646.8" fill="#f5fef5"/>
<polygon points="295.1,639.1 299.2,632.0 296.9,628.3 292.9,635.9" fill="#ffa3a3"/>
<polygon points="309.6,612.2 313.8,608.7 311.5,605.8 307.3,608.9" fill="#ff4040"/>
<polygon points="356.6,633.5 360.6,635.6 358.1,629.6 354.1,627.5" fill="#ff9898"/>
<polygon points="301.1,621.9 305.3,616.6 303.0,613.1 298.8,618.4" fill="#ff5f5f"/>
<polygon points="381.8,657.1 385.8,656.3 382.8,655.8 378.8,656.3" fill="#cbfacb"/>
<polygon points="331.5,608.8 335.8,607.7 333.3,604.4 329.1,605.3" fill="#ff3737"/>
<polygon points="397.0,652.2 401.0,650.6 398.1,648.1 393.9,652.0" fill="#f0fef0"/>
<polygon points="338.2,611.7 342.4,611.4 340.0,607.5 335.8,607.7" fill="#ff4141"/>
<polygon points="305.3,616.6 309.6,612.2 307.3,608.9 303.0,613.1" fill="#ff4d4d"/>
<polygon points="293.2,649.6 297.3,642.3 295.1,639.1 291.1,647.1" fill="#ffd7d7"/>
<polygon points="320.5,609.2 324.8,606.9 322.4,604.0 318.1,606.0" fill="#ff3535"/>
<polygon points="359.1,639.4 363.1,641.4 360.6,635.6 356.6,633.5" fill="#ffafaf"/>
<polygon points="347.4,621.0 351.6,621.9 349.1,616.7 344.9,615.9" fill="#ff6161"/>
<polygon points="393.0,653.6 397.0,652.2 393.9,652.0 389.8,654.7" fill="#e5fce5"/>
<polygon points="299.2,632.0 303.4,625.7 301.1,621.9 296.9,628.3" fill="#ff8181"/>
<polygon points="316.2,612.2 320.5,609.2 318.1,606.0 313.8,608.7" fill="#ff3b3b"/>
<polygon points="327.2,610.6 331.5,608.8 329.1,605.3 324.8,606.9" fill="#ff3737"/>
<polygon points="340.7,616.2 344.9,615.9 342.4,611.4 338.2,611.7" fill="#ff4b4b"/>
<polygon points="361.6,645.0 365.6,646.8 363.1,641.4 359.1,639.4" fill="#ffc7c7"/>
<polygon points="370.9,655.2 374.9,655.9 372.2,652.9 368.2,651.5" fill="#e5fce5"/>
<polygon points="333.9,612.9 338.2,611.7 335.8,607.7 331.5,608.8" fill="#ff3e3e"/>
<polygon points="303.4,625.7 307.6,620.4 305.3,616.6 301.1,621.9" fill="#ff6767"/>
<polygon points="349.9,626.5 354.1,627.5 351.6,621.9 347.4,621.0" fill="#ff7272"/>
<polygon points="311.9,615.9 316.2,612.2 313.8,608.7 309.6,612.2" fill="#ff4545"/>
<polygon points="297.3,642.3 301.5,635.7 299.2,632.0 295.1,639.1" fill="#ffaaaa"/>
<polygon points="377.7,657.4 381.8,657.1 378.8,656.3 374.9,655.9" fill="#d5fbd5"/>
<polygon points="307.6,620.4 311.9,615.9 309.6,612.2 305.3,616.6" fill="#ff5353"/>
<polygon points="388.9,654.8 393.0,653.6 389.8,654.7 385.8,656.3" fill="#e3fce3"/>
<polygon points="322.9,613.0 327.2,610.6 324.8,606.9 320.5,609.2" fill="#ff3b3b"/>
<polygon points="352.4,632.4 356.6,633.5 354.1,627.5 349.9,626.5" fill="#ff8686"/>
<polygon points="295.3,652.2 299.5,645.6 297.3,642.3 293.2,649.6" fill="#ffdada"/>
<polygon points="364.2,650.1 368.2,651.5 365.6,646.8 361.6,645.0" fill="#ffdfdf"/>
<polygon points="301.5,635.7 305.7,629.8 303.4,625.7 299.2,632.0" fill="#ff8989"/>
<polygon points="343.2,621.2 347.4,621.0 344.9,615.9 340.7,616.2" fill="#ff5959"/>
<polygon points="329.6,614.8 333.9,612.9 331.5,608.8 327.2,610.6" fill="#ff3f3f"/>
<polygon points="318.6,616.2 322.9,613.0 320.5,609.2 316.2,612.2" fill="#ff4242"/>
<polygon points="336.4,617.5 340.7,616.2 338.2,611.7 333.9,612.9" fill="#ff4949"/>
<polygon points="305.7,629.8 310.0,624.6 307.6,620.4 303.4,625.7" fill="#ff7070"/>
<polygon points="355.0,638.2 359.1,639.4 356.6,633.5 352.4,632.4" fill="#ff9b9b"/>
<polygon points="314.3,620.0 318.6,616.2 316.2,612.2 311.9,615.9" fill="#ff4d4d"/>
<polygon points="310.0,624.6 314.3,620.0 311.9,615.9 307.6,620.4" fill="#ff5c5c"/>
<polygon points="299.5,645.6 303.8,639.6 301.5,635.7 297.3,642.3" fill="#ffb1b1"/>
<polygon points="384.9,655.9 388.9,654.8 385.8,656.3 381.8,657.1" fill="#e6fde6"/>
<polygon points="345.7,626.6 349.9,626.5 347.4,621.0 343.2,621.2" fill="#ff6868"/>
<polygon points="325.3,617.4 329.6,614.8 327.2,610.6 322.9,613.0" fill="#ff4444"/>
<polygon points="373.7,657.5 377.7,657.4 374.9,655.9 370.9,655.2" fill="#e4fce4"/>
<polygon points="366.8,654.4 370.9,655.2 368.2,651.5 364.2,650.1" fill="#fff3f3"/>
<polygon points="357.5,643.9 361.6,645.0 359.1,639.4 355.0,638.2" fill="#ffb1b1"/>
<polygon points="332.1,619.5 336.4,617.5 333.9,612.9 329.6,614.8" fill="#ff4a4a"/>
<polygon points="303.8,639.6 308.0,634.0 305.7,629.8 301.5,635.7" fill="#ff9393"/>
<polygon points="338.9,622.5 343.2,621.2 340.7,616.2 336.4,617.5" fill="#ff5656"/>
<polygon points="321.0,620.7 325.3,617.4 322.9,613.0 318.6,616.2" fill="#ff4c4c"/>
<polygon points="348.2,632.3 352.4,632.4 349.9,626.5 345.7,626.6" fill="#ff7a7a"/>
<polygon points="297.5,654.7 301.8,649.0 299.5,645.6 295.3,652.2" fill="#ffdede"/>
<polygon points="308.0,634.0 312.3,629.0 310.0,624.6 305.7,629.8" fill="#ff7a7a"/>
<polygon points="316.6,624.5 321.0,620.7 318.6,616.2 314.3,620.0" fill="#ff5858"/>
<polygon points="312.3,629.0 316.6,624.5 314.3,620.0 310.0,624.6" fill="#ff6767"/>
<polygon points="360.1,649.3 364.2,650.1 361.6,645.0 357.5,643.9" fill="#ffc7c7"/>
<polygon points="327.8,622.2 332.1,619.5 329.6,614.8 325.3,617.4" fill="#ff4f4f"/>
<polygon points="380.8,657.0 384.9,655.9 381.8,657.1 377.7,657.4" fill="#edfded"/>
<polygon points="301.8,649.0 306.1,643.5 303.8,639.6 299.5,645.6" fill="#ffb9b9"/>
<polygon points="341.4,627.7 345.7,626.6 343.2,621.2 338.9,622.5" fill="#ff6565"/>
<polygon points="334.6,624.5 338.9,622.5 336.4,617.5 332.1,619.5" fill="#ff5757"/>
<polygon points="350.8,638.0 355.0,638.2 352.4,632.4 348.2,632.3" fill="#ff8e8e"/>
<polygon points="323.4,625.5 327.8,622.2 325.3,617.4 321.0,620.7" fill="#ff5858"/>
<polygon points="306.1,643.5 310.4,638.4 308.0,634.0 303.8,639.6" fill="#ff9d9d"/>
<polygon points="369.6,657.6 373.7,657.5 370.9,655.2 366.8,654.4" fill="#fcfffc"/>
<polygon points="319.1,629.3 323.4,625.5 321.0,620.7 316.6,624.5" fill="#ff6464"/>
<polygon points="310.4,638.4 314.7,633.6 312.3,629.0 308.0,634.0" fill="#ff8686"/>
<polygon points="314.7,633.6 319.1,629.3 316.6,624.5 312.3,629.0" fill="#ff7373"/>
<polygon points="330.2,627.2 334.6,624.5 332.1,619.5 327.8,622.2" fill="#ff5c5c"/>
<polygon points="343.9,633.1 348.2,632.3 345.7,626.6 341.4,627.7" fill="#ff7575"/>
<polygon points="353.3,643.6 357.5,643.9 355.0,638.2 350.8,638.0" fill="#ffa3a3"/>
<polygon points="362.7,654.0 366.8,654.4 364.2,650.1 360.1,649.3" fill="#ffdbdb"/>
<polygon points="337.1,629.6 341.4,627.7 338.9,622.5 334.6,624.5" fill="#ff6666"/>
<polygon points="299.8,657.4 304.1,652.4 301.8,649.0 297.5,654.7" fill="#ffe2e2"/>
<polygon points="376.6,658.1 380.8,657.0 377.7,657.4 373.7,657.5" fill="#f8fef8"/>
<polygon points="325.9,630.4 330.2,627.2 327.8,622.2 323.4,625.5" fill="#ff6565"/>
<polygon points="304.1,652.4 308.4,647.5 306.1,643.5 301.8,649.0" fill="#ffc1c1"/>
<polygon points="346.5,638.6 350.8,638.0 348.2,632.3 343.9,633.1" fill="#ff8787"/>
<polygon points="355.9,649.0 360.1,649.3 357.5,643.9 353.3,643.6" fill="#ffb8b8"/>
<polygon points="321.5,634.1 325.9,630.4 323.4,625.5 319.1,629.3" fill="#ff7171"/>
<polygon points="308.4,647.5 312.8,642.8 310.4,638.4 306.1,643.5" fill="#ffa8a8"/>
<polygon points="332.7,632.2 337.1,629.6 334.6,624.5 330.2,627.2" fill="#ff6b6b"/>
<polygon points="317.1,638.3 321.5,634.1 319.1,629.3 314.7,633.6" fill="#ff8080"/>
<polygon points="312.8,642.8 317.1,638.3 314.7,633.6 310.4,638.4" fill="#ff9292"/>
<polygon points="339.6,634.8 343.9,633.1 341.4,627.7 337.1,629.6" fill="#ff7575"/>
<polygon points="365.4,658.0 369.6,657.6 366.8,654.4 362.7,654.0" fill="#ffe9e9"/>
<polygon points="328.4,635.4 332.7,632.2 330.2,627.2 325.9,630.4" fill="#ff7373"/>
<polygon points="349.0,644.1 353.3,643.6 350.8,638.0 346.5,638.6" fill="#ff9b9b"/>
<polygon points="358.5,654.1 362.7,654.0 360.1,649.3 355.9,649.0" fill="#ffcbcb"/>
<polygon points="372.4,659.5 376.6,658.1 373.7,657.5 369.6,657.6" fill="#fff5f5"/>
<polygon points="324.0,639.0 328.4,635.4 325.9,630.4 321.5,634.1" fill="#ff7f7f"/>
<polygon points="335.2,637.3 339.6,634.8 337.1,629.6 332.7,632.2" fill="#ff7a7a"/>
<polygon points="342.1,640.1 346.5,638.6 343.9,633.1 339.6,634.8" fill="#ff8686"/>
<polygon points="319.6,643.0 324.0,639.0 321.5,634.1 317.1,638.3" fill="#ff8e8e"/>
<polygon points="302.0,660.0 306.4,655.8 304.1,652.4 299.8,657.4" fill="#ffe6e6"/>
<polygon points="306.4,655.8 310.8,651.5 308.4,647.5 304.1,652.4" fill="#ffcaca"/>
<polygon points="315.2,647.2 319.6,643.0 317.1,638.3 312.8,642.8" fill="#ff9f9f"/>
<polygon points="310.8,651.5 315.2,647.2 312.8,642.8 308.4,647.5" fill="#ffb3b3"/>
<polygon points="351.6,649.5 355.9,649.0 353.3,643.6 349.0,644.1" fill="#ffaeae"/>
<polygon points="330.9,640.4 335.2,637.3 332.7,632.2 328.4,635.4" fill="#ff8282"/>
<polygon points="344.7,645.4 349.0,644.1 346.5,638.6 342.1,640.1" fill="#ff9898"/>
<polygon points="337.8,642.4 342.1,640.1 339.6,634.8 335.2,637.3" fill="#ff8989"/>
<polygon points="326.5,643.9 330.9,640.4 328.4,635.4 324.0,639.0" fill="#ff8e8e"/>
<polygon points="361.1,658.7 365.4,658.0 362.7,654.0 358.5,654.1" fill="#ffdcdc"/>
<polygon points="322.0,647.7 326.5,643.9 324.0,639.0 319.6,643.0" fill="#ff9c9c"/>
<polygon points="368.1,661.0 372.4,659.5 369.6,657.6 365.4,658.0" fill="#ffeded"/>
<polygon points="354.2,654.8 358.5,654.1 355.9,649.0 351.6,649.5" fill="#ffc1c1"/>
<polygon points="317.6,651.7 322.0,647.7 319.6,643.0 315.2,647.2" fill="#ffadad"/>
<polygon points="313.2,655.6 317.6,651.7 315.2,647.2 310.8,651.5" fill="#ffbfbf"/>
<polygon points="333.4,645.4 337.8,642.4 335.2,637.3 330.9,640.4" fill="#ff9191"/>
<polygon points="308.8,659.3 313.2,655.6 310.8,651.5 306.4,655.8" fill="#ffd4d4"/>
<polygon points="347.3,650.7 351.6,649.5 349.0,644.1 344.7,645.4" fill="#ffaaaa"/>
<polygon points="340.3,647.6 344.7,645.4 342.1,640.1 337.8,642.4" fill="#ff9a9a"/>
<polygon points="304.3,662.7 308.8,659.3 306.4,655.8 302.0,660.0" fill="#ffeaea"/>
<polygon points="329.0,648.7 333.4,645.4 330.9,640.4 326.5,643.9" fill="#ff9c9c"/>
<polygon points="324.5,652.3 329.0,648.7 326.5,643.9 322.0,647.7" fill="#ffaaaa"/>
<polygon points="356.8,659.8 361.1,658.7 358.5,654.1 354.2,654.8" fill="#ffd4d4"/>
<polygon points="363.8,662.7 368.1,661.0 365.4,658.0 361.1,658.7" fill="#ffe8e8"/>
<polygon points="335.9,650.3 340.3,647.6 337.8,642.4 333.4,645.4" fill="#ffa1a1"/>
<polygon points="320.1,656.0 324.5,652.3 322.0,647.7 317.6,651.7" fill="#ffbaba"/>
<polygon points="349.9,656.0 354.2,654.8 351.6,649.5 347.3,650.7" fill="#ffbdbd"/>
<polygon points="342.9,652.7 347.3,650.7 344.7,645.4 340.3,647.6" fill="#ffabab"/>
<polygon points="315.6,659.6 320.1,656.0 317.6,651.7 313.2,655.6" fill="#ffcbcb"/>
<polygon points="331.5,653.5 335.9,650.3 333.4,645.4 329.0,648.7" fill="#ffabab"/>
<polygon points="311.2,662.8 315.6,659.6 313.2,655.6 308.8,659.3" fill="#ffdddd"/>
<polygon points="327.0,656.9 331.5,653.5 329.0,648.7 324.5,652.3" fill="#ffb8b8"/>
<polygon points="338.5,655.3 342.9,652.7 340.3,647.6 335.9,650.3" fill="#ffb1b1"/>
<polygon points="359.5,664.5 363.8,662.7 361.1,658.7 356.8,659.8" fill="#ffe6e6"/>
<polygon points="306.6,665.5 311.2,662.8 308.8,659.3 304.3,662.7" fill="#ffefef"/>
<polygon points="352.5,661.2 356.8,659.8 354.2,654.8 349.9,656.0" fill="#ffd1d1"/>
<polygon points="345.5,657.9 349.9,656.0 347.3,650.7 342.9,652.7" fill="#ffbdbd"/>
<polygon points="322.6,660.3 327.0,656.9 324.5,652.3 320.1,656.0" fill="#ffc7c7"/>
<polygon points="334.0,658.2 338.5,655.3 335.9,650.3 331.5,653.5" fill="#ffbbbb"/>
<polygon points="318.1,663.4 322.6,660.3 320.1,656.0 315.6,659.6" fill="#ffd7d7"/>
<polygon points="341.1,660.2 345.5,657.9 342.9,652.7 338.5,655.3" fill="#ffc2c2"/>
<polygon points="329.6,661.3 334.0,658.2 331.5,653.5 327.0,656.9" fill="#ffc7c7"/>
<polygon points="355.1,666.3 359.5,664.5 356.8,659.8 352.5,661.2" fill="#ffe5e5"/>
<polygon points="313.6,666.2 318.1,663.4 315.6,659.6 311.2,662.8" fill="#ffe6e6"/>
<polygon points="348.1,663.0 352.5,661.2 349.9,656.0 345.5,657.9" fill="#ffd1d1"/>
<polygon points="325.1,664.3 329.6,661.3 327.0,656.9 322.6,660.3" fill="#ffd4d4"/>
<polygon points="336.6,662.8 341.1,660.2 338.5,655.3 334.0,658.2" fill="#ffcaca"/>
<polygon points="309.0,668.3 313.6,666.2 311.2,662.8 306.6,665.5" fill="#fff3f3"/>
<polygon points="343.7,665.0 348.1,663.0 345.5,657.9 341.1,660.2" fill="#ffd4d4"/>
<polygon points="320.6,667.1 325.1,664.3 322.6,660.3 318.1,663.4" fill="#ffe2e2"/>
<polygon points="350.7,668.1 355.1,666.3 352.5,661.2 348.1,663.0" fill="#ffe7e7"/>
<polygon points="332.1,665.5 336.6,662.8 334.0,658.2 329.6,661.3" fill="#ffd5d5"/>
<polygon points="316.0,669.4 320.6,667.1 318.1,663.4 313.6,666.2" fill="#ffefef"/>
<polygon points="339.2,667.2 343.7,665.0 341.1,660.2 336.6,662.8" fill="#ffdbdb"/>
<polygon points="327.6,668.1 332.1,665.5 329.6,661.3 325.1,664.3" fill="#ffe0e0"/>
<polygon points="346.3,669.8 350.7,668.1 348.1,663.0 343.7,665.0" fill="#ffe9e9"/>
<polygon points="311.4,671.1 316.0,669.4 313.6,666.2 309.0,668.3" fill="#fff7f7"/>
<polygon points="323.1,670.5 327.6,668.1 325.1,664.3 320.6,667.1" fill="#ffecec"/>
<polygon points="334.7,669.5 339.2,667.2 336.6,662.8 332.1,665.5" fill="#ffe3e3"/>
<polygon points="341.8,671.5 346.3,669.8 343.7,665.0 339.2,667.2" fill="#ffeded"/>
<polygon points="318.5,672.6 323.1,670.5 320.6,667.1 316.0,669.4" fill="#fff6f6"/>
<polygon points="330.2,671.7 334.7,669.5 332.1,665.5 327.6,668.1" fill="#ffebeb"/>
<polygon points="337.3,673.2 341.8,671.5 339.2,667.2 334.7,669.5" fill="#fff1f1"/>
<polygon points="325.6,673.7 330.2,671.7 327.6,668.1 323.1,670.5" fill="#fff4f4"/>
<polygon points="313.8,674.0 318.5,672.6 316.0,669.4 311.4,671.1" fill="#fffafa"/>
<polygon points="332.8,674.8 337.3,673.2 334.7,669.5 330.2,671.7" fill="#fff5f5"/>
<polygon points="321.0,675.5 325.6,673.7 323.1,670.5 318.5,672.6" fill="#fffbfb"/>
<polygon points="328.2,676.5 332.8,674.8 330.2,671.7 325.6,673.7" fill="#fff8f8"/>
<polygon points="316.3,676.9 321.0,675.5 318.5,672.6 313.8,674.0" fill="#fffbfb"/>
<polygon points="323.5,678.2 328.2,676.5 325.6,673.7 321.0,675.5" fill="#fffbfb"/>
<polygon points="318.8,679.9 323.5,678.2 321.0,675.5 316.3,676.9" fill="#fffafa"/>
</g>
<line x1="319.75" y1="718.74" x2="317.80" y2="636.45" stroke="#666" stroke-width="0.6"/>
<line x1="278.12" y1="664.68" x2="319.75" y2="718.74" stroke="#8a8a8a" stroke-width="0.6"/>
<line x1="319.75" y1="718.74" x2="401.19" y2="686.16" stroke="#8a8a8a" stroke-width="0.6"/>
<line x1="269.15" y1="588.25" x2="271.75" y2="588.25" stroke="#666" stroke-width="0.5"/>
<text x="267.15" y="588.71" font-size="7.4" text-anchor="end" fill="#111">30</text>
<line x1="270.31" y1="602.17" x2="272.91" y2="602.17" stroke="#666" stroke-width="0.5"/>
<text x="268.31" y="602.63" font-size="7.4" text-anchor="end" fill="#111">20</text>
<line x1="271.43" y1="615.58" x2="274.03" y2="615.58" stroke="#666" stroke-width="0.5"/>
<text x="269.43" y="616.04" font-size="7.4" text-anchor="end" fill="#111">10</text>
<line x1="272.51" y1="628.51" x2="275.11" y2="628.51" stroke="#666" stroke-width="0.5"/>
<text x="270.51" y="628.97" font-size="7.4" text-anchor="end" fill="#111">0</text>
<line x1="273.55" y1="640.99" x2="276.15" y2="640.99" stroke="#666" stroke-width="0.5"/>
<text x="271.55" y="641.45" font-size="7.4" text-anchor="end" fill="#111">−10</text>
<line x1="274.55" y1="653.04" x2="277.15" y2="653.04" stroke="#666" stroke-width="0.5"/>
<text x="272.55" y="653.50" font-size="7.4" text-anchor="end" fill="#111">−20</text>
<line x1="275.52" y1="664.68" x2="278.12" y2="664.68" stroke="#666" stroke-width="0.5"/>
<text x="273.52" y="665.14" font-size="7.4" text-anchor="end" fill="#111">−30</text>
<text transform="translate(252.80,628.00) rotate(-90)" y="3.35" font-size="9.3" text-anchor="middle" fill="#111">δ-score</text>
<text x="271.80" y="675.42" font-size="7.0" text-anchor="middle" fill="#111">300</text>
<text x="282.20" y="687.82" font-size="7.0" text-anchor="middle" fill="#111">100</text>
<text x="292.90" y="701.22" font-size="7.0" text-anchor="middle" fill="#111">30</text>
<text x="303.30" y="715.62" font-size="7.0" text-anchor="middle" fill="#111">10</text>
<text x="340.00" y="723.52" font-size="7.0" text-anchor="middle" fill="#111">10</text>
<text x="360.40" y="714.92" font-size="7.0" text-anchor="middle" fill="#111">30</text>
<text x="381.50" y="706.22" font-size="7.0" text-anchor="middle" fill="#111">100</text>
<text x="401.30" y="698.22" font-size="7.0" text-anchor="middle" fill="#111">300</text>
<line x1="279.95" y1="667.05" x2="277.35" y2="668.45" stroke="#555" stroke-width="0.55"/>
<line x1="289.82" y1="679.86" x2="287.22" y2="681.26" stroke="#555" stroke-width="0.55"/>
<line x1="299.55" y1="692.51" x2="296.95" y2="693.91" stroke="#555" stroke-width="0.55"/>
<line x1="310.38" y1="706.57" x2="307.78" y2="707.97" stroke="#555" stroke-width="0.55"/>
<line x1="335.17" y1="712.57" x2="335.87" y2="715.37" stroke="#555" stroke-width="0.55"/>
<line x1="355.72" y1="704.35" x2="356.42" y2="707.15" stroke="#555" stroke-width="0.55"/>
<line x1="376.91" y1="695.87" x2="377.61" y2="698.67" stroke="#555" stroke-width="0.55"/>
<line x1="396.74" y1="687.94" x2="397.44" y2="690.74" stroke="#555" stroke-width="0.55"/>
<text transform="translate(277.30,708.80) rotate(51)" y="3.31" font-size="9.2" text-anchor="middle" fill="#111">Rapamycin (nM)</text>
<text transform="translate(371.50,726.20) rotate(-21)" y="3.31" font-size="9.2" text-anchor="middle" fill="#111">VTP50469 (nM)</text>
<text transform="translate(269.60,585.20) rotate(-14)" font-size="9.5" fill="#111">ZIP synergy: 16.224</text>
<defs><linearGradient id="cbI" x1="0" x2="0" y1="0" y2="1"><stop offset="0.00" stop-color="#ff0000"/><stop offset="0.05" stop-color="#ff1313"/><stop offset="0.10" stop-color="#ff2727"/><stop offset="0.15" stop-color="#ff3c3c"/><stop offset="0.20" stop-color="#ff5151"/><stop offset="0.25" stop-color="#ff6767"/><stop offset="0.30" stop-color="#ff7f7f"/><stop offset="0.35" stop-color="#ff9898"/><stop offset="0.40" stop-color="#ffb3b3"/><stop offset="0.45" stop-color="#ffd2d2"/><stop offset="0.50" stop-color="#ffffff"/><stop offset="0.55" stop-color="#d2fbd2"/><stop offset="0.60" stop-color="#b3f8b3"/><stop offset="0.65" stop-color="#98f598"/><stop offset="0.70" stop-color="#7ff27f"/><stop offset="0.75" stop-color="#67f067"/><stop offset="0.80" stop-color="#51ee51"/><stop offset="0.85" stop-color="#3cec3c"/><stop offset="0.90" stop-color="#27ea27"/><stop offset="0.95" stop-color="#13e813"/><stop offset="1.00" stop-color="#00e600"/></linearGradient></defs>
<rect x="409.5" y="651" width="7.5" height="35.50" fill="url(#cbI)"/>
<text x="407.8" y="649.2" font-size="9.3" fill="#111">δ-score</text>
<text x="418.1" y="656.60" font-size="6.8" fill="#111">30</text>
<text x="418.1" y="664.27" font-size="6.8" fill="#111">15</text>
<text x="418.1" y="671.95" font-size="6.8" fill="#111">0</text>
<text x="418.1" y="679.62" font-size="6.8" fill="#111">−15</text>
<text x="418.1" y="687.30" font-size="6.8" fill="#111">−30</text>
<text x="256.5" y="566.5" font-size="13.5" fill="#111">I</text>
<line x1="480.8" y1="218.4" x2="480.8" y2="300.4" stroke="#222" stroke-width="0.9"/>
<line x1="480.8" y1="300.4" x2="583.1" y2="300.4" stroke="#222" stroke-width="0.9"/>
<line x1="478.2" y1="300.40" x2="480.8" y2="300.40" stroke="#222" stroke-width="0.8"/>
<line x1="478.8" y1="283.20" x2="480.8" y2="283.20" stroke="#222" stroke-width="0.8"/>
<line x1="478.2" y1="266.00" x2="480.8" y2="266.00" stroke="#222" stroke-width="0.8"/>
<line x1="478.8" y1="248.80" x2="480.8" y2="248.80" stroke="#222" stroke-width="0.8"/>
<line x1="478.2" y1="231.60" x2="480.8" y2="231.60" stroke="#222" stroke-width="0.8"/>
<text x="477.3" y="303.60" font-size="9.3" text-anchor="end" fill="#111">0</text>
<text x="477.3" y="269.20" font-size="9.3" text-anchor="end" fill="#111">50</text>
<text x="477.3" y="234.80" font-size="9.3" text-anchor="end" fill="#111">100</text>
<line x1="480.80" y1="300.4" x2="480.80" y2="302.7" stroke="#222" stroke-width="0.8"/>
<text x="480.80" y="315.20" font-size="8.8" text-anchor="middle" fill="#111">10<tspan font-size="7.6" dy="-3.3">−1</tspan></text>
<line x1="501.26" y1="300.4" x2="501.26" y2="302.7" stroke="#222" stroke-width="0.8"/>
<text x="501.26" y="315.20" font-size="8.8" text-anchor="middle" fill="#111">10<tspan font-size="7.6" dy="-3.3">0</tspan></text>
<line x1="521.72" y1="300.4" x2="521.72" y2="302.7" stroke="#222" stroke-width="0.8"/>
<text x="521.72" y="315.20" font-size="8.8" text-anchor="middle" fill="#111">10<tspan font-size="7.6" dy="-3.3">1</tspan></text>
<line x1="542.18" y1="300.4" x2="542.18" y2="302.7" stroke="#222" stroke-width="0.8"/>
<text x="542.18" y="315.20" font-size="8.8" text-anchor="middle" fill="#111">10<tspan font-size="7.6" dy="-3.3">2</tspan></text>
<line x1="562.64" y1="300.4" x2="562.64" y2="302.7" stroke="#222" stroke-width="0.8"/>
<text x="562.64" y="315.20" font-size="8.8" text-anchor="middle" fill="#111">10<tspan font-size="7.6" dy="-3.3">3</tspan></text>
<line x1="583.10" y1="300.4" x2="583.10" y2="302.7" stroke="#222" stroke-width="0.8"/>
<text x="583.10" y="315.20" font-size="8.8" text-anchor="middle" fill="#111">10<tspan font-size="7.6" dy="-3.3">4</tspan></text>
<text x="533.7" y="328.40" font-size="9.3" text-anchor="middle" fill="#111">VTP50469 (nM)</text>
<text transform="translate(458.2,257.00) rotate(-90)" font-size="9.4" text-anchor="middle" fill="#111">% Survival</text>
<polyline points="494.9,233.5 496.3,233.8 497.6,234.2 499.0,234.6 500.3,235.1 501.7,235.7 503.0,236.3 504.4,237.0 505.7,237.7 507.1,238.5 508.4,239.3 509.8,240.1 511.1,240.9 512.5,241.8 513.8,242.8 515.2,244.0 516.5,245.2 517.9,246.5 519.2,247.8 520.6,249.1 521.9,250.5 523.3,252.0 524.6,253.6 526.0,255.3 527.3,256.9 528.7,258.5 530.0,259.9 531.4,261.1 532.7,262.2 534.1,263.3 535.4,264.3 536.8,265.3 538.1,266.2 539.5,267.0 540.8,267.7 542.2,268.3 543.5,268.9 544.9,269.4 546.2,269.8 547.6,270.2 548.9,270.6 550.3,271.0 551.6,271.4 553.0,271.8 554.3,272.2 555.7,272.5 557.0,272.9 558.4,273.2 559.7,273.5 561.1,273.8 562.4,274.1" fill="none" stroke="#7e7e7e" stroke-width="0.9"/>
<polyline points="494.9,232.7 496.3,233.2 497.6,233.8 499.0,234.4 500.3,235.0 501.7,235.8 503.0,236.5 504.4,237.3 505.7,238.2 507.1,239.0 508.4,239.9 509.8,240.9 511.1,241.8 512.5,242.8 513.8,243.9 515.2,245.0 516.5,246.3 517.9,247.6 519.2,248.9 520.6,250.3 521.9,251.8 523.3,253.4 524.6,255.0 526.0,256.8 527.3,258.6 528.7,260.4 530.0,262.2 531.4,264.0 532.7,265.7 534.1,267.5 535.4,269.2 536.8,270.9 538.1,272.4 539.5,273.9 540.8,275.2 542.2,276.1 543.5,276.8 544.9,277.4 546.2,278.0 547.6,278.4 548.9,278.9 550.3,279.3 551.6,279.7 553.0,280.1 554.3,280.6 555.7,281.0 557.0,281.4 558.4,281.8 559.7,282.1 561.1,282.5 562.4,282.8" fill="none" stroke="#fa3c26" stroke-width="0.9"/>
<circle cx="495.10" cy="237.10" r="1.9" fill="none" stroke="#7e7e7e" stroke-width="0.8"/>
<circle cx="495.10" cy="233.66" r="1.9" fill="none" stroke="#7e7e7e" stroke-width="0.8"/>
<circle cx="495.10" cy="231.60" r="1.9" fill="none" stroke="#7e7e7e" stroke-width="0.8"/>
<circle cx="521.72" cy="250.86" r="1.9" fill="none" stroke="#7e7e7e" stroke-width="0.8"/>
<circle cx="521.72" cy="249.49" r="1.9" fill="none" stroke="#7e7e7e" stroke-width="0.8"/>
<circle cx="521.72" cy="248.80" r="1.9" fill="none" stroke="#7e7e7e" stroke-width="0.8"/>
<circle cx="531.48" cy="262.56" r="1.9" fill="none" stroke="#7e7e7e" stroke-width="0.8"/>
<circle cx="531.48" cy="261.18" r="1.9" fill="none" stroke="#7e7e7e" stroke-width="0.8"/>
<circle cx="531.48" cy="260.50" r="1.9" fill="none" stroke="#7e7e7e" stroke-width="0.8"/>
<circle cx="537.64" cy="267.38" r="1.9" fill="none" stroke="#7e7e7e" stroke-width="0.8"/>
<circle cx="537.64" cy="264.62" r="1.9" fill="none" stroke="#7e7e7e" stroke-width="0.8"/>
<circle cx="537.64" cy="262.56" r="1.9" fill="none" stroke="#7e7e7e" stroke-width="0.8"/>
<circle cx="542.18" cy="268.06" r="1.9" fill="none" stroke="#7e7e7e" stroke-width="0.8"/>
<circle cx="542.18" cy="266.69" r="1.9" fill="none" stroke="#7e7e7e" stroke-width="0.8"/>
<circle cx="542.18" cy="266.00" r="1.9" fill="none" stroke="#7e7e7e" stroke-width="0.8"/>
<circle cx="551.94" cy="272.19" r="1.9" fill="none" stroke="#7e7e7e" stroke-width="0.8"/>
<circle cx="551.94" cy="271.50" r="1.9" fill="none" stroke="#7e7e7e" stroke-width="0.8"/>
<circle cx="551.94" cy="270.82" r="1.9" fill="none" stroke="#7e7e7e" stroke-width="0.8"/>
<circle cx="558.10" cy="272.88" r="1.9" fill="none" stroke="#7e7e7e" stroke-width="0.8"/>
<circle cx="558.10" cy="271.50" r="1.9" fill="none" stroke="#7e7e7e" stroke-width="0.8"/>
<circle cx="558.10" cy="269.44" r="1.9" fill="none" stroke="#7e7e7e" stroke-width="0.8"/>
<circle cx="562.64" cy="275.63" r="1.9" fill="none" stroke="#7e7e7e" stroke-width="0.8"/>
<circle cx="562.64" cy="274.26" r="1.9" fill="none" stroke="#7e7e7e" stroke-width="0.8"/>
<circle cx="562.64" cy="273.57" r="1.9" fill="none" stroke="#7e7e7e" stroke-width="0.8"/>
<circle cx="495.10" cy="232.98" r="1.9" fill="none" stroke="#fa3c26" stroke-width="0.8"/>
<circle cx="495.10" cy="231.60" r="1.9" fill="none" stroke="#fa3c26" stroke-width="0.8"/>
<circle cx="495.10" cy="228.85" r="1.9" fill="none" stroke="#fa3c26" stroke-width="0.8"/>
<circle cx="521.72" cy="254.30" r="1.9" fill="none" stroke="#fa3c26" stroke-width="0.8"/>
<circle cx="521.72" cy="252.24" r="1.9" fill="none" stroke="#fa3c26" stroke-width="0.8"/>
<circle cx="521.72" cy="250.86" r="1.9" fill="none" stroke="#fa3c26" stroke-width="0.8"/>
<circle cx="531.48" cy="268.06" r="1.9" fill="none" stroke="#fa3c26" stroke-width="0.8"/>
<circle cx="531.48" cy="264.62" r="1.9" fill="none" stroke="#fa3c26" stroke-width="0.8"/>
<circle cx="531.48" cy="263.25" r="1.9" fill="none" stroke="#fa3c26" stroke-width="0.8"/>
<circle cx="537.64" cy="276.32" r="1.9" fill="none" stroke="#fa3c26" stroke-width="0.8"/>
<circle cx="537.64" cy="272.88" r="1.9" fill="none" stroke="#fa3c26" stroke-width="0.8"/>
<circle cx="537.64" cy="270.82" r="1.9" fill="none" stroke="#fa3c26" stroke-width="0.8"/>
<circle cx="542.18" cy="275.63" r="1.9" fill="none" stroke="#fa3c26" stroke-width="0.8"/>
<circle cx="542.18" cy="274.94" r="1.9" fill="none" stroke="#fa3c26" stroke-width="0.8"/>
<circle cx="542.18" cy="270.13" r="1.9" fill="none" stroke="#fa3c26" stroke-width="0.8"/>
<circle cx="551.94" cy="281.14" r="1.9" fill="none" stroke="#fa3c26" stroke-width="0.8"/>
<circle cx="551.94" cy="279.76" r="1.9" fill="none" stroke="#fa3c26" stroke-width="0.8"/>
<circle cx="551.94" cy="277.70" r="1.9" fill="none" stroke="#fa3c26" stroke-width="0.8"/>
<circle cx="558.10" cy="286.64" r="1.9" fill="none" stroke="#fa3c26" stroke-width="0.8"/>
<circle cx="558.10" cy="282.51" r="1.9" fill="none" stroke="#fa3c26" stroke-width="0.8"/>
<circle cx="558.10" cy="281.82" r="1.9" fill="none" stroke="#fa3c26" stroke-width="0.8"/>
<circle cx="562.64" cy="283.89" r="1.9" fill="none" stroke="#fa3c26" stroke-width="0.8"/>
<circle cx="562.64" cy="282.51" r="1.9" fill="none" stroke="#fa3c26" stroke-width="0.8"/>
<circle cx="562.64" cy="281.14" r="1.9" fill="none" stroke="#fa3c26" stroke-width="0.8"/>
<rect x="460.3" y="197.20" width="7.3" height="5.3" fill="none" stroke="#7e7e7e" stroke-width="0.7"/><line x1="463.95" y1="196.20" x2="463.95" y2="203.50" stroke="#7e7e7e" stroke-width="0.7"/><line x1="460.3" y1="201.10" x2="467.6" y2="201.10" stroke="#7e7e7e" stroke-width="0.6"/><circle cx="463.95" cy="199.8" r="1.2" fill="#7e7e7e"/>
<text x="469.2" y="203.20" font-size="9.6" fill="#111">VTP50469</text>
<rect x="525.6" y="197.20" width="7.3" height="5.3" fill="none" stroke="#fa3c26" stroke-width="0.7"/><line x1="529.25" y1="196.20" x2="529.25" y2="203.50" stroke="#fa3c26" stroke-width="0.7"/><line x1="525.6" y1="201.10" x2="532.9" y2="201.10" stroke="#fa3c26" stroke-width="0.6"/><circle cx="529.25" cy="199.8" r="1.2" fill="#fa3c26"/>
<text x="533.7" y="203.20" font-size="9.6" fill="#111">VTP50469+Selumetinib (1500nM)</text>
<text x="463.1" y="213.90" font-size="7.3" fill="#7a7a7a">IC50: 125 nM</text>
<text x="526.8000000000001" y="213.90" font-size="7.3" fill="#e62a3a">IC50: 45 nM</text>
<text x="526.8000000000001" y="225.30" font-size="7.3" fill="#111">Fold &gt; 2.5</text>
<rect x="623" y="235.71" width="18.10" height="76.59" fill="#dcdcdc" stroke="#555" stroke-width="0.8"/>
<rect x="651" y="286.61" width="18.10" height="25.69" fill="#ffbcb2" stroke="#fa3c26" stroke-width="0.9"/>
<line x1="613.3" y1="222.9" x2="613.3" y2="312.3" stroke="#222" stroke-width="0.9"/>
<line x1="610.9" y1="312.3" x2="678.9" y2="312.3" stroke="#222" stroke-width="0.9"/>
<line x1="610.6999999999999" y1="312.30" x2="613.3" y2="312.30" stroke="#222" stroke-width="0.8"/>
<text x="609.8" y="315.50" font-size="9.3" text-anchor="end" fill="#111">0</text>
<line x1="610.6999999999999" y1="282.50" x2="613.3" y2="282.50" stroke="#222" stroke-width="0.8"/>
<text x="609.8" y="285.70" font-size="9.3" text-anchor="end" fill="#111">50</text>
<line x1="610.6999999999999" y1="252.70" x2="613.3" y2="252.70" stroke="#222" stroke-width="0.8"/>
<text x="609.8" y="255.90" font-size="9.3" text-anchor="end" fill="#111">100</text>
<line x1="610.6999999999999" y1="222.90" x2="613.3" y2="222.90" stroke="#222" stroke-width="0.8"/>
<text x="609.8" y="226.10" font-size="9.3" text-anchor="end" fill="#111">150</text>
<line x1="632.05" y1="312.3" x2="632.05" y2="314.8" stroke="#222" stroke-width="0.8"/>
<line x1="660.05" y1="312.3" x2="660.05" y2="314.8" stroke="#222" stroke-width="0.8"/>
<line x1="632.05" y1="230.65" x2="632.05" y2="241.02" stroke="#333" stroke-width="0.9"/><line x1="627.25" y1="241.02" x2="636.85" y2="241.02" stroke="#333" stroke-width="0.9"/><line x1="627.25" y1="230.65" x2="636.85" y2="230.65" stroke="#333" stroke-width="0.9"/><circle cx="628.85" cy="232.44" r="1.9" fill="#fff" stroke="#222" stroke-width="0.85"/><circle cx="635.25" cy="232.44" r="1.9" fill="#fff" stroke="#222" stroke-width="0.85"/><circle cx="632.05" cy="241.79" r="1.9" fill="#fff" stroke="#222" stroke-width="0.85"/>
<line x1="660.05" y1="282.38" x2="660.05" y2="290.13" stroke="#333" stroke-width="0.9"/><line x1="655.25" y1="290.13" x2="664.85" y2="290.13" stroke="#333" stroke-width="0.9"/><line x1="655.25" y1="282.38" x2="664.85" y2="282.38" stroke="#333" stroke-width="0.9"/><circle cx="656.65" cy="283.81" r="1.9" fill="#fff" stroke="#222" stroke-width="0.85"/><circle cx="663.45" cy="284.88" r="1.9" fill="#fff" stroke="#222" stroke-width="0.85"/><circle cx="660.05" cy="290.31" r="1.9" fill="#fff" stroke="#222" stroke-width="0.85"/>
<polyline points="633.2,224.6 633.2,221.3 659.5,221.3 659.5,224.6" fill="none" stroke="#8a8a8a" stroke-width="0.75"/>
<polygon points="640.25,212.80 640.98,214.79 643.10,214.87 641.44,216.19 642.01,218.23 640.25,217.05 638.49,218.23 639.06,216.19 637.40,214.87 639.52,214.79" fill="#111"/>
<polygon points="646.35,212.80 647.08,214.79 649.20,214.87 647.54,216.19 648.11,218.23 646.35,217.05 644.59,218.23 645.16,216.19 643.50,214.87 645.62,214.79" fill="#111"/>
<polygon points="652.45,212.80 653.18,214.79 655.30,214.87 653.64,216.19 654.21,218.23 652.45,217.05 650.69,218.23 651.26,216.19 649.60,214.87 651.72,214.79" fill="#111"/>
<text x="644" y="328.20" font-size="9.3" text-anchor="middle" fill="#111">IC50 (nM)</text>
<text x="428.2" y="184.6" font-size="13.5" fill="#111">F</text>
<line x1="481.5" y1="409.6" x2="481.5" y2="490.3" stroke="#222" stroke-width="0.9"/>
<line x1="481.5" y1="490.3" x2="583.1" y2="490.3" stroke="#222" stroke-width="0.9"/>
<line x1="478.9" y1="490.30" x2="481.5" y2="490.30" stroke="#222" stroke-width="0.8"/>
<line x1="479.5" y1="473.30" x2="481.5" y2="473.30" stroke="#222" stroke-width="0.8"/>
<line x1="478.9" y1="456.30" x2="481.5" y2="456.30" stroke="#222" stroke-width="0.8"/>
<line x1="479.5" y1="439.30" x2="481.5" y2="439.30" stroke="#222" stroke-width="0.8"/>
<line x1="478.9" y1="422.30" x2="481.5" y2="422.30" stroke="#222" stroke-width="0.8"/>
<text x="478.0" y="493.50" font-size="9.3" text-anchor="end" fill="#111">0</text>
<text x="478.0" y="459.50" font-size="9.3" text-anchor="end" fill="#111">50</text>
<text x="478.0" y="425.50" font-size="9.3" text-anchor="end" fill="#111">100</text>
<line x1="481.50" y1="490.3" x2="481.50" y2="492.6" stroke="#222" stroke-width="0.8"/>
<text x="481.50" y="505.10" font-size="8.8" text-anchor="middle" fill="#111">10<tspan font-size="7.6" dy="-3.3">−1</tspan></text>
<line x1="501.82" y1="490.3" x2="501.82" y2="492.6" stroke="#222" stroke-width="0.8"/>
<text x="501.82" y="505.10" font-size="8.8" text-anchor="middle" fill="#111">10<tspan font-size="7.6" dy="-3.3">0</tspan></text>
<line x1="522.14" y1="490.3" x2="522.14" y2="492.6" stroke="#222" stroke-width="0.8"/>
<text x="522.14" y="505.10" font-size="8.8" text-anchor="middle" fill="#111">10<tspan font-size="7.6" dy="-3.3">1</tspan></text>
<line x1="542.46" y1="490.3" x2="542.46" y2="492.6" stroke="#222" stroke-width="0.8"/>
<text x="542.46" y="505.10" font-size="8.8" text-anchor="middle" fill="#111">10<tspan font-size="7.6" dy="-3.3">2</tspan></text>
<line x1="562.78" y1="490.3" x2="562.78" y2="492.6" stroke="#222" stroke-width="0.8"/>
<text x="562.78" y="505.10" font-size="8.8" text-anchor="middle" fill="#111">10<tspan font-size="7.6" dy="-3.3">3</tspan></text>
<line x1="583.10" y1="490.3" x2="583.10" y2="492.6" stroke="#222" stroke-width="0.8"/>
<text x="583.10" y="505.10" font-size="8.8" text-anchor="middle" fill="#111">10<tspan font-size="7.6" dy="-3.3">4</tspan></text>
<text x="531.5" y="518.30" font-size="9.3" text-anchor="middle" fill="#111">VTP50469 (nM)</text>
<text transform="translate(458.2,447.55) rotate(-90)" font-size="9.4" text-anchor="middle" fill="#111">% Survival</text>
<polyline points="495.5,424.1 496.9,424.4 498.2,424.8 499.5,425.3 500.9,425.8 502.2,426.4 503.6,427.0 504.9,427.7 506.2,428.4 507.6,429.1 508.9,429.9 510.3,430.7 511.6,431.5 513.0,432.4 514.3,433.4 515.6,434.5 517.0,435.7 518.3,437.0 519.7,438.3 521.0,439.6 522.3,440.9 523.7,442.4 525.0,444.0 526.4,445.7 527.7,447.3 529.0,448.9 530.4,450.2 531.7,451.4 533.1,452.6 534.4,453.6 535.8,454.7 537.1,455.6 538.4,456.5 539.8,457.3 541.1,458.0 542.5,458.6 543.8,459.1 545.1,459.6 546.5,460.1 547.8,460.5 549.2,460.9 550.5,461.3 551.8,461.6 553.2,462.0 554.5,462.4 555.9,462.7 557.2,463.1 558.6,463.4 559.9,463.7 561.2,464.0 562.6,464.3" fill="none" stroke="#7e7e7e" stroke-width="0.9"/>
<polyline points="495.7,423.1 497.1,426.4 498.4,429.5 499.7,432.4 501.1,435.0 502.4,437.3 503.8,439.5 505.1,441.6 506.5,443.6 507.8,445.4 509.1,447.1 510.5,448.6 511.8,449.9 513.2,451.1 514.5,452.1 515.8,453.0 517.2,453.8 518.5,454.7 519.9,455.6 521.2,456.6 522.5,457.7 523.9,458.9 525.2,460.3 526.6,461.7 527.9,463.2 529.3,464.5 530.6,465.6 531.9,466.6 533.3,467.5 534.6,468.3 536.0,469.1 537.3,469.9 538.6,470.6 540.0,471.3 541.3,471.9 542.7,472.5 544.0,473.0 545.3,473.5 546.7,473.9 548.0,474.4 549.4,474.8 550.7,475.3 552.1,475.7 553.4,476.2 554.7,476.7 556.1,477.2 557.4,477.6 558.8,477.7 560.1,477.5 561.4,477.1 562.8,476.4" fill="none" stroke="#fa3c26" stroke-width="0.9"/>
<circle cx="495.70" cy="427.74" r="1.9" fill="none" stroke="#7e7e7e" stroke-width="0.8"/>
<circle cx="495.70" cy="424.34" r="1.9" fill="none" stroke="#7e7e7e" stroke-width="0.8"/>
<circle cx="495.70" cy="422.30" r="1.9" fill="none" stroke="#7e7e7e" stroke-width="0.8"/>
<circle cx="522.14" cy="441.34" r="1.9" fill="none" stroke="#7e7e7e" stroke-width="0.8"/>
<circle cx="522.14" cy="439.98" r="1.9" fill="none" stroke="#7e7e7e" stroke-width="0.8"/>
<circle cx="522.14" cy="439.30" r="1.9" fill="none" stroke="#7e7e7e" stroke-width="0.8"/>
<circle cx="531.84" cy="452.90" r="1.9" fill="none" stroke="#7e7e7e" stroke-width="0.8"/>
<circle cx="531.84" cy="451.54" r="1.9" fill="none" stroke="#7e7e7e" stroke-width="0.8"/>
<circle cx="531.84" cy="450.86" r="1.9" fill="none" stroke="#7e7e7e" stroke-width="0.8"/>
<circle cx="537.95" cy="457.66" r="1.9" fill="none" stroke="#7e7e7e" stroke-width="0.8"/>
<circle cx="537.95" cy="454.94" r="1.9" fill="none" stroke="#7e7e7e" stroke-width="0.8"/>
<circle cx="537.95" cy="452.90" r="1.9" fill="none" stroke="#7e7e7e" stroke-width="0.8"/>
<circle cx="542.46" cy="458.34" r="1.9" fill="none" stroke="#7e7e7e" stroke-width="0.8"/>
<circle cx="542.46" cy="456.98" r="1.9" fill="none" stroke="#7e7e7e" stroke-width="0.8"/>
<circle cx="542.46" cy="456.30" r="1.9" fill="none" stroke="#7e7e7e" stroke-width="0.8"/>
<circle cx="552.16" cy="462.42" r="1.9" fill="none" stroke="#7e7e7e" stroke-width="0.8"/>
<circle cx="552.16" cy="461.74" r="1.9" fill="none" stroke="#7e7e7e" stroke-width="0.8"/>
<circle cx="552.16" cy="461.06" r="1.9" fill="none" stroke="#7e7e7e" stroke-width="0.8"/>
<circle cx="558.27" cy="463.10" r="1.9" fill="none" stroke="#7e7e7e" stroke-width="0.8"/>
<circle cx="558.27" cy="461.74" r="1.9" fill="none" stroke="#7e7e7e" stroke-width="0.8"/>
<circle cx="558.27" cy="459.70" r="1.9" fill="none" stroke="#7e7e7e" stroke-width="0.8"/>
<circle cx="562.78" cy="465.82" r="1.9" fill="none" stroke="#7e7e7e" stroke-width="0.8"/>
<circle cx="562.78" cy="464.46" r="1.9" fill="none" stroke="#7e7e7e" stroke-width="0.8"/>
<circle cx="562.78" cy="463.78" r="1.9" fill="none" stroke="#7e7e7e" stroke-width="0.8"/>
<circle cx="495.70" cy="421.62" r="1.9" fill="none" stroke="#fa3c26" stroke-width="0.8"/>
<circle cx="495.70" cy="420.26" r="1.9" fill="none" stroke="#fa3c26" stroke-width="0.8"/>
<circle cx="495.70" cy="415.50" r="1.9" fill="none" stroke="#fa3c26" stroke-width="0.8"/>
<circle cx="522.14" cy="461.74" r="1.9" fill="none" stroke="#fa3c26" stroke-width="0.8"/>
<circle cx="522.14" cy="459.70" r="1.9" fill="none" stroke="#fa3c26" stroke-width="0.8"/>
<circle cx="522.14" cy="456.98" r="1.9" fill="none" stroke="#fa3c26" stroke-width="0.8"/>
<circle cx="531.84" cy="467.18" r="1.9" fill="none" stroke="#fa3c26" stroke-width="0.8"/>
<circle cx="531.84" cy="466.50" r="1.9" fill="none" stroke="#fa3c26" stroke-width="0.8"/>
<circle cx="531.84" cy="465.82" r="1.9" fill="none" stroke="#fa3c26" stroke-width="0.8"/>
<circle cx="537.95" cy="469.90" r="1.9" fill="none" stroke="#fa3c26" stroke-width="0.8"/>
<circle cx="537.95" cy="467.86" r="1.9" fill="none" stroke="#fa3c26" stroke-width="0.8"/>
<circle cx="537.95" cy="466.50" r="1.9" fill="none" stroke="#fa3c26" stroke-width="0.8"/>
<circle cx="542.46" cy="473.98" r="1.9" fill="none" stroke="#fa3c26" stroke-width="0.8"/>
<circle cx="542.46" cy="471.94" r="1.9" fill="none" stroke="#fa3c26" stroke-width="0.8"/>
<circle cx="542.46" cy="469.90" r="1.9" fill="none" stroke="#fa3c26" stroke-width="0.8"/>
<circle cx="552.16" cy="476.02" r="1.9" fill="none" stroke="#fa3c26" stroke-width="0.8"/>
<circle cx="552.16" cy="475.34" r="1.9" fill="none" stroke="#fa3c26" stroke-width="0.8"/>
<circle cx="552.16" cy="474.66" r="1.9" fill="none" stroke="#fa3c26" stroke-width="0.8"/>
<circle cx="558.27" cy="481.46" r="1.9" fill="none" stroke="#fa3c26" stroke-width="0.8"/>
<circle cx="558.27" cy="480.10" r="1.9" fill="none" stroke="#fa3c26" stroke-width="0.8"/>
<circle cx="558.27" cy="478.74" r="1.9" fill="none" stroke="#fa3c26" stroke-width="0.8"/>
<circle cx="562.78" cy="476.70" r="1.9" fill="none" stroke="#fa3c26" stroke-width="0.8"/>
<circle cx="562.78" cy="476.02" r="1.9" fill="none" stroke="#fa3c26" stroke-width="0.8"/>
<circle cx="562.78" cy="475.34" r="1.9" fill="none" stroke="#fa3c26" stroke-width="0.8"/>
<rect x="460.3" y="392.60" width="7.3" height="5.3" fill="none" stroke="#7e7e7e" stroke-width="0.7"/><line x1="463.95" y1="391.60" x2="463.95" y2="398.90" stroke="#7e7e7e" stroke-width="0.7"/><line x1="460.3" y1="396.50" x2="467.6" y2="396.50" stroke="#7e7e7e" stroke-width="0.6"/><circle cx="463.95" cy="395.2" r="1.2" fill="#7e7e7e"/>
<text x="469.2" y="398.60" font-size="9.6" fill="#111">VTP50469</text>
<rect x="525.5" y="392.60" width="7.3" height="5.3" fill="none" stroke="#fa3c26" stroke-width="0.7"/><line x1="529.15" y1="391.60" x2="529.15" y2="398.90" stroke="#fa3c26" stroke-width="0.7"/><line x1="525.5" y1="396.50" x2="532.8" y2="396.50" stroke="#fa3c26" stroke-width="0.6"/><circle cx="529.15" cy="395.2" r="1.2" fill="#fa3c26"/>
<text x="533.6" y="398.60" font-size="9.6" fill="#111">VTP50469+MK-2206 (1000nM)</text>
<text x="463.1" y="409.10" font-size="7.3" fill="#7a7a7a">IC50: 125 nM</text>
<text x="526.7" y="409.10" font-size="7.3" fill="#e62a3a">IC50: 10 nM</text>
<text x="526.7" y="420.30" font-size="7.3" fill="#111">Fold &gt; 12</text>
<rect x="624.2" y="425.96" width="18.20" height="75.64" fill="#dcdcdc" stroke="#555" stroke-width="0.8"/>
<rect x="652.2" y="493.54" width="18.20" height="8.06" fill="#ffbcb2" stroke="#fa3c26" stroke-width="0.9"/>
<line x1="614.1" y1="413.3" x2="614.1" y2="501.6" stroke="#222" stroke-width="0.9"/>
<line x1="611.7" y1="501.6" x2="679.7" y2="501.6" stroke="#222" stroke-width="0.9"/>
<line x1="611.5" y1="501.60" x2="614.1" y2="501.60" stroke="#222" stroke-width="0.8"/>
<text x="610.6" y="504.80" font-size="9.3" text-anchor="end" fill="#111">0</text>
<line x1="611.5" y1="472.17" x2="614.1" y2="472.17" stroke="#222" stroke-width="0.8"/>
<text x="610.6" y="475.37" font-size="9.3" text-anchor="end" fill="#111">50</text>
<line x1="611.5" y1="442.73" x2="614.1" y2="442.73" stroke="#222" stroke-width="0.8"/>
<text x="610.6" y="445.93" font-size="9.3" text-anchor="end" fill="#111">100</text>
<line x1="611.5" y1="413.30" x2="614.1" y2="413.30" stroke="#222" stroke-width="0.8"/>
<text x="610.6" y="416.50" font-size="9.3" text-anchor="end" fill="#111">150</text>
<line x1="633.30" y1="501.6" x2="633.30" y2="504.1" stroke="#222" stroke-width="0.8"/>
<line x1="661.30" y1="501.6" x2="661.30" y2="504.1" stroke="#222" stroke-width="0.8"/>
<line x1="633.30" y1="420.95" x2="633.30" y2="431.20" stroke="#333" stroke-width="0.9"/><line x1="628.50" y1="431.20" x2="638.10" y2="431.20" stroke="#333" stroke-width="0.9"/><line x1="628.50" y1="420.95" x2="638.10" y2="420.95" stroke="#333" stroke-width="0.9"/><circle cx="630.10" cy="422.72" r="1.9" fill="#fff" stroke="#222" stroke-width="0.85"/><circle cx="636.50" cy="422.72" r="1.9" fill="#fff" stroke="#222" stroke-width="0.85"/><circle cx="633.30" cy="431.96" r="1.9" fill="#fff" stroke="#222" stroke-width="0.85"/>
<line x1="661.30" y1="493.06" x2="661.30" y2="493.65" stroke="#333" stroke-width="0.9"/><line x1="656.50" y1="493.65" x2="666.10" y2="493.65" stroke="#333" stroke-width="0.9"/><line x1="656.50" y1="493.06" x2="666.10" y2="493.06" stroke="#333" stroke-width="0.9"/><circle cx="653.30" cy="493.65" r="1.9" fill="#fff" stroke="#222" stroke-width="0.85"/><circle cx="660.70" cy="493.18" r="1.9" fill="#fff" stroke="#222" stroke-width="0.85"/><circle cx="668.70" cy="493.65" r="1.9" fill="#fff" stroke="#222" stroke-width="0.85"/>
<polyline points="633.2,416.2 633.2,413.8 659.4,413.8 659.4,416.2" fill="none" stroke="#8a8a8a" stroke-width="0.75"/>
<polygon points="643.25,405.30 643.98,407.29 646.10,407.37 644.44,408.69 645.01,410.73 643.25,409.55 641.49,410.73 642.06,408.69 640.40,407.37 642.52,407.29" fill="#111"/>
<polygon points="649.35,405.30 650.08,407.29 652.20,407.37 650.54,408.69 651.11,410.73 649.35,409.55 647.59,410.73 648.16,408.69 646.50,407.37 648.62,407.29" fill="#111"/>
<text x="643.8" y="516.60" font-size="9.3" text-anchor="middle" fill="#111">IC50 (nM)</text>
<text x="428.2" y="375.2" font-size="13.5" fill="#111">H</text>
<line x1="481.2" y1="602.2" x2="481.2" y2="684.3" stroke="#222" stroke-width="0.9"/>
<line x1="481.2" y1="684.3" x2="583.5" y2="684.3" stroke="#222" stroke-width="0.9"/>
<line x1="478.59999999999997" y1="684.30" x2="481.2" y2="684.30" stroke="#222" stroke-width="0.8"/>
<line x1="479.2" y1="667.00" x2="481.2" y2="667.00" stroke="#222" stroke-width="0.8"/>
<line x1="478.59999999999997" y1="649.70" x2="481.2" y2="649.70" stroke="#222" stroke-width="0.8"/>
<line x1="479.2" y1="632.40" x2="481.2" y2="632.40" stroke="#222" stroke-width="0.8"/>
<line x1="478.59999999999997" y1="615.10" x2="481.2" y2="615.10" stroke="#222" stroke-width="0.8"/>
<text x="477.7" y="687.50" font-size="9.3" text-anchor="end" fill="#111">0</text>
<text x="477.7" y="652.90" font-size="9.3" text-anchor="end" fill="#111">50</text>
<text x="477.7" y="618.30" font-size="9.3" text-anchor="end" fill="#111">100</text>
<line x1="481.20" y1="684.3" x2="481.20" y2="686.5999999999999" stroke="#222" stroke-width="0.8"/>
<text x="481.20" y="699.10" font-size="8.8" text-anchor="middle" fill="#111">10<tspan font-size="7.6" dy="-3.3">−1</tspan></text>
<line x1="501.66" y1="684.3" x2="501.66" y2="686.5999999999999" stroke="#222" stroke-width="0.8"/>
<text x="501.66" y="699.10" font-size="8.8" text-anchor="middle" fill="#111">10<tspan font-size="7.6" dy="-3.3">0</tspan></text>
<line x1="522.12" y1="684.3" x2="522.12" y2="686.5999999999999" stroke="#222" stroke-width="0.8"/>
<text x="522.12" y="699.10" font-size="8.8" text-anchor="middle" fill="#111">10<tspan font-size="7.6" dy="-3.3">1</tspan></text>
<line x1="542.58" y1="684.3" x2="542.58" y2="686.5999999999999" stroke="#222" stroke-width="0.8"/>
<text x="542.58" y="699.10" font-size="8.8" text-anchor="middle" fill="#111">10<tspan font-size="7.6" dy="-3.3">2</tspan></text>
<line x1="563.04" y1="684.3" x2="563.04" y2="686.5999999999999" stroke="#222" stroke-width="0.8"/>
<text x="563.04" y="699.10" font-size="8.8" text-anchor="middle" fill="#111">10<tspan font-size="7.6" dy="-3.3">3</tspan></text>
<line x1="583.50" y1="684.3" x2="583.50" y2="686.5999999999999" stroke="#222" stroke-width="0.8"/>
<text x="583.50" y="699.10" font-size="8.8" text-anchor="middle" fill="#111">10<tspan font-size="7.6" dy="-3.3">4</tspan></text>
<text x="528" y="712.30" font-size="9.3" text-anchor="middle" fill="#111">VTP50469 (nM)</text>
<text transform="translate(458.2,640.85) rotate(-90)" font-size="9.4" text-anchor="middle" fill="#111">% Survival</text>
<polyline points="495.3,617.0 496.7,617.3 498.0,617.7 499.4,618.1 500.7,618.7 502.1,619.2 503.4,619.9 504.8,620.6 506.1,621.3 507.5,622.0 508.8,622.8 510.2,623.6 511.5,624.5 512.9,625.4 514.2,626.4 515.6,627.5 516.9,628.8 518.3,630.0 519.6,631.4 521.0,632.7 522.3,634.1 523.7,635.6 525.0,637.2 526.4,638.9 527.7,640.6 529.1,642.1 530.4,643.5 531.8,644.8 533.1,645.9 534.5,647.0 535.8,648.0 537.2,649.0 538.5,649.9 539.9,650.7 541.2,651.4 542.6,652.0 543.9,652.6 545.3,653.1 546.6,653.5 548.0,654.0 549.3,654.4 550.7,654.7 552.0,655.1 553.4,655.5 554.7,655.9 556.1,656.3 557.4,656.6 558.8,656.9 560.1,657.3 561.5,657.6 562.8,657.9" fill="none" stroke="#7e7e7e" stroke-width="0.9"/>
<polyline points="495.5,617.5 496.9,619.7 498.2,621.8 499.5,623.9 500.9,625.9 502.2,627.8 503.6,629.7 504.9,631.5 506.2,633.3 507.6,634.9 508.9,636.6 510.2,638.1 511.6,639.5 512.9,640.8 514.3,642.1 515.6,643.4 516.9,644.5 518.3,645.7 519.6,646.8 520.9,647.8 522.3,648.8 523.6,649.8 525.0,650.7 526.3,651.6 527.6,652.4 529.0,653.2 530.3,653.9 531.7,654.6 533.0,655.3 534.3,655.9 535.7,656.5 537.0,657.0 538.3,657.6 539.7,658.1 541.0,658.7 542.4,659.3 543.7,659.8 545.0,660.4 546.4,661.0 547.7,661.6 549.0,662.2 550.4,662.8 551.7,663.4 553.1,664.0 554.4,664.6 555.7,665.2 557.1,665.8 558.4,666.4 559.8,666.9 561.1,667.5 562.4,668.1" fill="none" stroke="#fa3c26" stroke-width="0.9"/>
<circle cx="495.50" cy="620.64" r="1.9" fill="none" stroke="#7e7e7e" stroke-width="0.8"/>
<circle cx="495.50" cy="617.18" r="1.9" fill="none" stroke="#7e7e7e" stroke-width="0.8"/>
<circle cx="495.50" cy="615.10" r="1.9" fill="none" stroke="#7e7e7e" stroke-width="0.8"/>
<circle cx="522.12" cy="634.48" r="1.9" fill="none" stroke="#7e7e7e" stroke-width="0.8"/>
<circle cx="522.12" cy="633.09" r="1.9" fill="none" stroke="#7e7e7e" stroke-width="0.8"/>
<circle cx="522.12" cy="632.40" r="1.9" fill="none" stroke="#7e7e7e" stroke-width="0.8"/>
<circle cx="531.88" cy="646.24" r="1.9" fill="none" stroke="#7e7e7e" stroke-width="0.8"/>
<circle cx="531.88" cy="644.86" r="1.9" fill="none" stroke="#7e7e7e" stroke-width="0.8"/>
<circle cx="531.88" cy="644.16" r="1.9" fill="none" stroke="#7e7e7e" stroke-width="0.8"/>
<circle cx="538.04" cy="651.08" r="1.9" fill="none" stroke="#7e7e7e" stroke-width="0.8"/>
<circle cx="538.04" cy="648.32" r="1.9" fill="none" stroke="#7e7e7e" stroke-width="0.8"/>
<circle cx="538.04" cy="646.24" r="1.9" fill="none" stroke="#7e7e7e" stroke-width="0.8"/>
<circle cx="542.58" cy="651.78" r="1.9" fill="none" stroke="#7e7e7e" stroke-width="0.8"/>
<circle cx="542.58" cy="650.39" r="1.9" fill="none" stroke="#7e7e7e" stroke-width="0.8"/>
<circle cx="542.58" cy="649.70" r="1.9" fill="none" stroke="#7e7e7e" stroke-width="0.8"/>
<circle cx="552.34" cy="655.93" r="1.9" fill="none" stroke="#7e7e7e" stroke-width="0.8"/>
<circle cx="552.34" cy="655.24" r="1.9" fill="none" stroke="#7e7e7e" stroke-width="0.8"/>
<circle cx="552.34" cy="654.54" r="1.9" fill="none" stroke="#7e7e7e" stroke-width="0.8"/>
<circle cx="558.50" cy="656.62" r="1.9" fill="none" stroke="#7e7e7e" stroke-width="0.8"/>
<circle cx="558.50" cy="655.24" r="1.9" fill="none" stroke="#7e7e7e" stroke-width="0.8"/>
<circle cx="558.50" cy="653.16" r="1.9" fill="none" stroke="#7e7e7e" stroke-width="0.8"/>
<circle cx="563.04" cy="659.39" r="1.9" fill="none" stroke="#7e7e7e" stroke-width="0.8"/>
<circle cx="563.04" cy="658.00" r="1.9" fill="none" stroke="#7e7e7e" stroke-width="0.8"/>
<circle cx="563.04" cy="657.31" r="1.9" fill="none" stroke="#7e7e7e" stroke-width="0.8"/>
<circle cx="495.50" cy="617.52" r="1.9" fill="none" stroke="#fa3c26" stroke-width="0.8"/>
<circle cx="495.50" cy="614.41" r="1.9" fill="none" stroke="#fa3c26" stroke-width="0.8"/>
<circle cx="495.50" cy="613.02" r="1.9" fill="none" stroke="#fa3c26" stroke-width="0.8"/>
<circle cx="522.12" cy="648.32" r="1.9" fill="none" stroke="#fa3c26" stroke-width="0.8"/>
<circle cx="522.12" cy="646.93" r="1.9" fill="none" stroke="#fa3c26" stroke-width="0.8"/>
<circle cx="522.12" cy="647.97" r="1.9" fill="none" stroke="#fa3c26" stroke-width="0.8"/>
<circle cx="531.88" cy="660.77" r="1.9" fill="none" stroke="#fa3c26" stroke-width="0.8"/>
<circle cx="531.88" cy="657.52" r="1.9" fill="none" stroke="#fa3c26" stroke-width="0.8"/>
<circle cx="531.88" cy="655.58" r="1.9" fill="none" stroke="#fa3c26" stroke-width="0.8"/>
<circle cx="538.04" cy="655.51" r="1.9" fill="none" stroke="#fa3c26" stroke-width="0.8"/>
<circle cx="538.04" cy="654.89" r="1.9" fill="none" stroke="#fa3c26" stroke-width="0.8"/>
<circle cx="538.04" cy="656.62" r="1.9" fill="none" stroke="#fa3c26" stroke-width="0.8"/>
<circle cx="542.58" cy="658.70" r="1.9" fill="none" stroke="#fa3c26" stroke-width="0.8"/>
<circle cx="542.58" cy="658.14" r="1.9" fill="none" stroke="#fa3c26" stroke-width="0.8"/>
<circle cx="542.58" cy="657.66" r="1.9" fill="none" stroke="#fa3c26" stroke-width="0.8"/>
<circle cx="552.34" cy="666.79" r="1.9" fill="none" stroke="#fa3c26" stroke-width="0.8"/>
<circle cx="552.34" cy="664.09" r="1.9" fill="none" stroke="#fa3c26" stroke-width="0.8"/>
<circle cx="552.34" cy="662.23" r="1.9" fill="none" stroke="#fa3c26" stroke-width="0.8"/>
<circle cx="558.50" cy="665.06" r="1.9" fill="none" stroke="#fa3c26" stroke-width="0.8"/>
<circle cx="558.50" cy="664.09" r="1.9" fill="none" stroke="#fa3c26" stroke-width="0.8"/>
<circle cx="558.50" cy="664.58" r="1.9" fill="none" stroke="#fa3c26" stroke-width="0.8"/>
<circle cx="563.04" cy="670.74" r="1.9" fill="none" stroke="#fa3c26" stroke-width="0.8"/>
<circle cx="563.04" cy="669.42" r="1.9" fill="none" stroke="#fa3c26" stroke-width="0.8"/>
<circle cx="563.04" cy="670.11" r="1.9" fill="none" stroke="#fa3c26" stroke-width="0.8"/>
<rect x="459.2" y="581.20" width="7.3" height="5.3" fill="none" stroke="#7e7e7e" stroke-width="0.7"/><line x1="462.84999999999997" y1="580.20" x2="462.84999999999997" y2="587.50" stroke="#7e7e7e" stroke-width="0.7"/><line x1="459.2" y1="585.10" x2="466.5" y2="585.10" stroke="#7e7e7e" stroke-width="0.6"/><circle cx="462.84999999999997" cy="583.8" r="1.2" fill="#7e7e7e"/>
<text x="468.09999999999997" y="587.20" font-size="9.6" fill="#111">VTP50469</text>
<rect x="523.8" y="581.20" width="7.3" height="5.3" fill="none" stroke="#fa3c26" stroke-width="0.7"/><line x1="527.4499999999999" y1="580.20" x2="527.4499999999999" y2="587.50" stroke="#fa3c26" stroke-width="0.7"/><line x1="523.8" y1="585.10" x2="531.0999999999999" y2="585.10" stroke="#fa3c26" stroke-width="0.6"/><circle cx="527.4499999999999" cy="583.8" r="1.2" fill="#fa3c26"/>
<text x="531.9" y="587.20" font-size="9.6" fill="#111">VTP50469+Rapamycin (100nM)</text>
<text x="462.0" y="598.00" font-size="7.3" fill="#7a7a7a">IC50: 125 nM</text>
<text x="525.0" y="598.00" font-size="7.3" fill="#e62a3a">IC50: 25 nM</text>
<text x="525.0" y="609.60" font-size="7.3" fill="#111">Fold &gt; 5</text>
<rect x="623" y="615.83" width="18.60" height="77.27" fill="#dcdcdc" stroke="#555" stroke-width="0.8"/>
<rect x="651" y="678.67" width="18.80" height="14.43" fill="#ffbcb2" stroke="#fa3c26" stroke-width="0.9"/>
<line x1="613.3" y1="602.9" x2="613.3" y2="693.1" stroke="#222" stroke-width="0.9"/>
<line x1="610.9" y1="693.1" x2="679.2" y2="693.1" stroke="#222" stroke-width="0.9"/>
<line x1="610.6999999999999" y1="693.10" x2="613.3" y2="693.10" stroke="#222" stroke-width="0.8"/>
<text x="609.8" y="696.30" font-size="9.3" text-anchor="end" fill="#111">0</text>
<line x1="610.6999999999999" y1="663.03" x2="613.3" y2="663.03" stroke="#222" stroke-width="0.8"/>
<text x="609.8" y="666.23" font-size="9.3" text-anchor="end" fill="#111">50</text>
<line x1="610.6999999999999" y1="632.97" x2="613.3" y2="632.97" stroke="#222" stroke-width="0.8"/>
<text x="609.8" y="636.17" font-size="9.3" text-anchor="end" fill="#111">100</text>
<line x1="610.6999999999999" y1="602.90" x2="613.3" y2="602.90" stroke="#222" stroke-width="0.8"/>
<text x="609.8" y="606.10" font-size="9.3" text-anchor="end" fill="#111">150</text>
<line x1="632.30" y1="693.1" x2="632.30" y2="695.6" stroke="#222" stroke-width="0.8"/>
<line x1="660.40" y1="693.1" x2="660.40" y2="695.6" stroke="#222" stroke-width="0.8"/>
<line x1="632.30" y1="610.72" x2="632.30" y2="621.18" stroke="#333" stroke-width="0.9"/><line x1="627.50" y1="621.18" x2="637.10" y2="621.18" stroke="#333" stroke-width="0.9"/><line x1="627.50" y1="610.72" x2="637.10" y2="610.72" stroke="#333" stroke-width="0.9"/><circle cx="629.10" cy="612.52" r="1.9" fill="#fff" stroke="#222" stroke-width="0.85"/><circle cx="635.50" cy="612.52" r="1.9" fill="#fff" stroke="#222" stroke-width="0.85"/><circle cx="632.30" cy="621.96" r="1.9" fill="#fff" stroke="#222" stroke-width="0.85"/>
<line x1="660.40" y1="677.47" x2="660.40" y2="681.07" stroke="#333" stroke-width="0.9"/><line x1="655.60" y1="681.07" x2="665.20" y2="681.07" stroke="#333" stroke-width="0.9"/><line x1="655.60" y1="677.47" x2="665.20" y2="677.47" stroke="#333" stroke-width="0.9"/><circle cx="652.60" cy="680.29" r="1.9" fill="#fff" stroke="#222" stroke-width="0.85"/><circle cx="660.70" cy="677.41" r="1.9" fill="#fff" stroke="#222" stroke-width="0.85"/><circle cx="668.30" cy="679.81" r="1.9" fill="#fff" stroke="#222" stroke-width="0.85"/>
<polyline points="634,603 634,600.5 659.8,600.5 659.8,603" fill="none" stroke="#8a8a8a" stroke-width="0.75"/>
<polygon points="643.85,592.00 644.58,593.99 646.70,594.07 645.04,595.39 645.61,597.43 643.85,596.25 642.09,597.43 642.66,595.39 641.00,594.07 643.12,593.99" fill="#111"/>
<polygon points="649.95,592.00 650.68,593.99 652.80,594.07 651.14,595.39 651.71,597.43 649.95,596.25 648.19,597.43 648.76,595.39 647.10,594.07 649.22,593.99" fill="#111"/>
<text x="641.2" y="709.80" font-size="9.3" text-anchor="middle" fill="#111">IC50 (nM)</text>
<text x="428.6" y="566.6" font-size="13.5" fill="#111">J</text>
</svg></body></html>
